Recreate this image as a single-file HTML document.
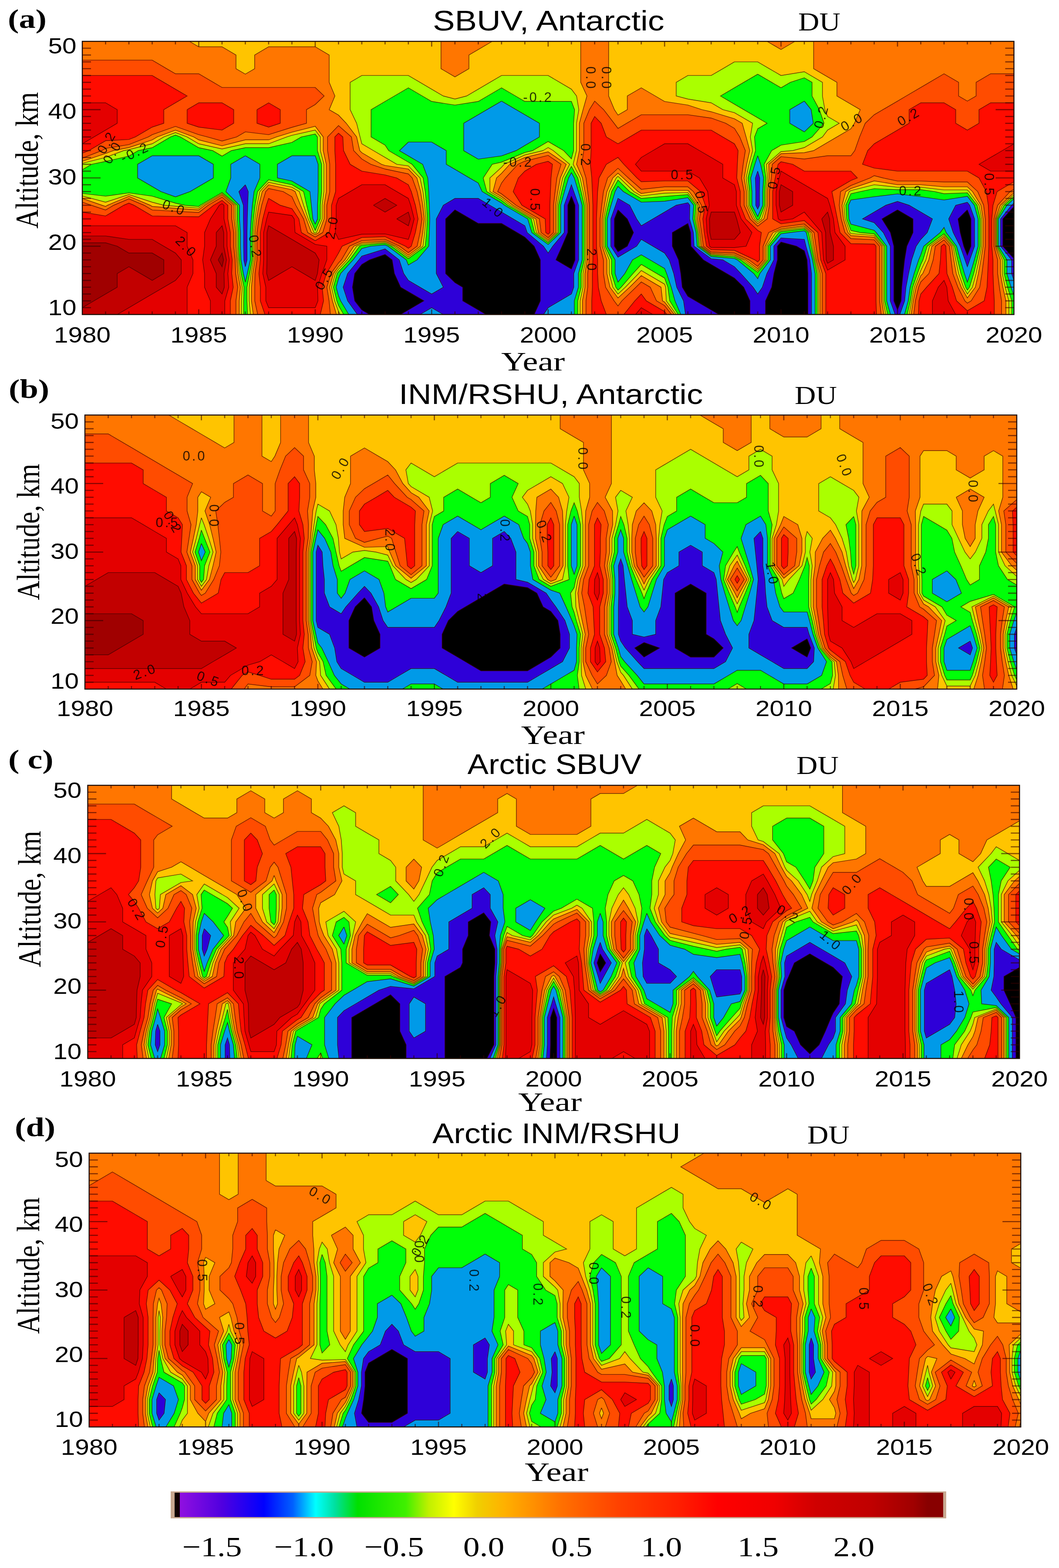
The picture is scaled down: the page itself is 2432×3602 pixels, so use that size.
<!DOCTYPE html><html><head><meta charset="utf-8"><title>Ozone anomalies</title><style>html,body{margin:0;padding:0;background:#fff}body{width:2432px;height:3602px;overflow:hidden}svg{display:block}</style></head><body><svg width="2432" height="3602" viewBox="0 0 2432 3602"><defs><linearGradient id="cbg" x1="0" x2="1" y1="0" y2="0"><stop offset="0" stop-color="#9010e0"/><stop offset="0.055" stop-color="#5000e0"/><stop offset="0.11" stop-color="#0000ff"/><stop offset="0.148" stop-color="#0060ff"/><stop offset="0.178" stop-color="#00ffff"/><stop offset="0.203" stop-color="#00e0a0"/><stop offset="0.233" stop-color="#00e000"/><stop offset="0.296" stop-color="#40f000"/><stop offset="0.326" stop-color="#c0f000"/><stop offset="0.359" stop-color="#ffff00"/><stop offset="0.389" stop-color="#f0d000"/><stop offset="0.426" stop-color="#ffb000"/><stop offset="0.463" stop-color="#ff9000"/><stop offset="0.5" stop-color="#ff7000"/><stop offset="0.577" stop-color="#ff4000"/><stop offset="0.651" stop-color="#ff2000"/><stop offset="0.705" stop-color="#ff0000"/><stop offset="0.779" stop-color="#f00000"/><stop offset="0.833" stop-color="#d00000"/><stop offset="0.906" stop-color="#c00000"/><stop offset="0.961" stop-color="#a00000"/><stop offset="0.98" stop-color="#880000"/><stop offset="1" stop-color="#880000"/></linearGradient></defs><rect x="189" y="95" width="2139.5" height="627.5" fill="#000000"/>
<path fill="#2e00d8" fill-rule="evenodd" d="M189 95L242.5 95L296 95L349.5 95L403 95L456.4 95L509.9 95L563.4 95L616.9 95L670.4 95L723.9 95L777.4 95L830.9 95L884.3 95L937.8 95L991.3 95L1044.8 95L1098.3 95L1151.8 95L1205.3 95L1258.8 95L1312.2 95L1365.7 95L1419.2 95L1472.7 95L1526.2 95L1579.7 95L1633.2 95L1686.6 95L1740.1 95L1793.6 95L1847.1 95L1900.6 95L1954.1 95L2007.6 95L2061.1 95L2114.6 95L2168 95L2221.5 95L2275 95L2328.5 95L2328.5 126.4L2328.5 157.8L2328.5 189.1L2328.5 220.5L2328.5 251.9L2328.5 283.2L2328.5 314.6L2328.5 346L2328.5 377.4L2328.5 408.8L2328.5 440.1L2328.5 471.5L2328.5 474.4L2303 502.9L2303 534.2L2303 565.6L2328.5 594.1L2328.5 597L2328.5 628.4L2328.5 659.8L2328.5 691.1L2328.5 722.5L2275 722.5L2221.5 722.5L2168 722.5L2114.6 722.5L2061.1 722.5L2007.6 722.5L1954.1 722.5L1900.6 722.5L1855.3 722.5L1855.3 691.1L1855.3 659.8L1855.3 628.4L1853.4 597L1847.1 576.1L1829.3 565.6L1793.6 556.1L1785.4 565.6L1785.4 597L1777.4 628.4L1772.2 659.8L1758 691.1L1758 722.5L1740.1 722.5L1722.3 722.5L1722.3 691.1L1708 659.8L1686.6 638.8L1668.8 628.4L1633.2 607.5L1615.3 597L1586.8 565.6L1586 534.2L1579.7 513.3L1544 534.2L1544 565.6L1558.3 597L1563.5 628.4L1566.9 659.8L1579.7 680.7L1597.5 691.1L1633.2 712L1651 722.5L1633.2 722.5L1579.7 722.5L1526.2 722.5L1472.7 722.5L1419.2 722.5L1365.7 722.5L1312.2 722.5L1258.8 722.5L1226.7 722.5L1240.9 691.1L1240.9 659.8L1240.9 628.4L1240.9 597L1226.7 565.6L1205.3 544.7L1187.4 534.2L1151.8 513.3L1098.3 513.3L1080.5 502.9L1044.8 482L1023.4 502.9L1023.4 534.2L1023.4 565.6L1023.4 597L1023.4 628.4L1044.8 649.3L1062.6 659.8L1062.6 691.1L1098.3 712L1116.1 722.5L1098.3 722.5L1044.8 722.5L991.3 722.5L937.8 722.5L920 722.5L937.8 712L973.5 691.1L937.8 670.2L920 659.8L905.7 628.4L900.5 597L884.3 584.5L848.7 597L830.9 607.5L814.6 628.4L809.5 659.8L814.6 691.1L830.9 712L848.7 722.5L830.9 722.5L777.4 722.5L723.9 722.5L670.4 722.5L616.9 722.5L563.4 722.5L509.9 722.5L456.4 722.5L403 722.5L349.5 722.5L296 722.5L242.5 722.5L189 722.5L189 691.1L189 659.8L189 628.4L189 597L189 565.6L189 534.2L189 502.9L189 471.5L189 440.1L189 408.8L189 377.4L189 346L189 314.6L189 283.2L189 251.9L189 220.5L189 189.1L189 157.8L189 126.4L189 95ZM1312.2 450.6L1304 471.5L1304 502.9L1304 534.2L1290.8 565.6L1276.6 597L1312.2 617.9L1320.5 597L1320.5 565.6L1320.5 534.2L1320.5 502.9L1320.5 471.5L1312.2 450.6ZM1419.2 482L1411 502.9L1411 534.2L1411 565.6L1419.2 578.2L1440.6 565.6L1454.9 534.2L1440.6 502.9L1419.2 482ZM2061.1 482L2025.4 502.9L2044.9 534.2L2052.8 565.6L2052.8 597L2052.8 628.4L2052.8 659.8L2052.8 691.1L2061.1 712L2069.3 691.1L2070.8 659.8L2073.8 628.4L2077.3 597L2082.5 565.6L2096.7 534.2L2096.7 502.9L2061.1 482ZM2221.5 482L2200.1 502.9L2205.3 534.2L2213.3 565.6L2221.5 586.5L2229.8 565.6L2229.8 534.2L2229.8 502.9L2221.5 482Z"/>
<path fill="#009ae8" fill-rule="evenodd" d="M189 95L242.5 95L296 95L349.5 95L403 95L456.4 95L509.9 95L563.4 95L616.9 95L670.4 95L723.9 95L777.4 95L830.9 95L884.3 95L937.8 95L991.3 95L1044.8 95L1098.3 95L1151.8 95L1205.3 95L1258.8 95L1312.2 95L1365.7 95L1419.2 95L1472.7 95L1526.2 95L1579.7 95L1633.2 95L1686.6 95L1740.1 95L1793.6 95L1847.1 95L1900.6 95L1954.1 95L2007.6 95L2061.1 95L2114.6 95L2168 95L2221.5 95L2275 95L2328.5 95L2328.5 126.4L2328.5 157.8L2328.5 189.1L2328.5 220.5L2328.5 251.9L2328.5 283.2L2328.5 314.6L2328.5 346L2328.5 377.4L2328.5 408.8L2328.5 440.1L2328.5 466.6L2323.2 471.5L2297.9 502.9L2297.9 534.2L2297.9 565.6L2323.2 597L2323.2 628.4L2328.5 644.1L2328.5 659.8L2328.5 691.1L2328.5 722.5L2275 722.5L2221.5 722.5L2168 722.5L2114.6 722.5L2066.4 722.5L2077.5 691.1L2080.5 659.8L2086.5 628.4L2093.5 597L2103.9 565.6L2114.6 549.9L2129.4 534.2L2141.3 502.9L2114.6 487.2L2087.8 471.5L2061.1 462.8L2034.3 471.5L2007.6 487.2L1980.8 502.9L2007.6 511.6L2028.6 534.2L2044.6 565.6L2044.6 597L2044.6 628.4L2044.6 659.8L2044.6 691.1L2055.7 722.5L2007.6 722.5L1954.1 722.5L1900.6 722.5L1863.6 722.5L1863.6 691.1L1863.6 659.8L1863.6 628.4L1859.7 597L1850.9 565.6L1847.1 549.9L1793.6 546.6L1777.2 565.6L1777.2 597L1761.2 628.4L1750.8 659.8L1740.1 675.4L1729.4 659.8L1701.5 628.4L1686.6 612.7L1659.9 597L1633.2 594.4L1593.9 565.6L1592.3 534.2L1583.5 502.9L1584.1 471.5L1579.7 465.7L1552.9 471.5L1526.2 487.2L1499.4 502.9L1472.7 518.6L1462 502.9L1446 471.5L1419.2 455.8L1413.9 471.5L1402.8 502.9L1402.8 534.2L1402.8 565.6L1419.2 590.7L1462 565.6L1472.7 549.9L1499.4 565.6L1526.2 581.3L1536.9 597L1547.3 628.4L1554.2 659.8L1569.8 691.1L1574.3 722.5L1526.2 722.5L1472.7 722.5L1419.2 722.5L1365.7 722.5L1312.2 722.5L1258.8 722.5L1248.1 722.5L1258.8 706.8L1285.5 691.1L1312.2 675.4L1317.6 659.8L1317.6 628.4L1328.7 597L1328.7 565.6L1328.7 534.2L1328.7 502.9L1328.7 471.5L1317.6 440.1L1312.2 424.4L1306.9 440.1L1295.8 471.5L1295.8 502.9L1295.8 534.2L1269.4 565.6L1258.8 581.3L1248.1 565.6L1210.6 534.2L1205.3 518.6L1178.5 502.9L1151.8 487.2L1125 471.5L1098.3 455.8L1044.8 455.8L1018.1 471.5L1002 502.9L1002 534.2L1002 565.6L1002 597L1002 628.4L1018.1 659.8L991.3 675.4L964.6 659.8L937.8 644.1L927.1 628.4L916.8 597L884.3 571.9L830.9 588.3L824.2 597L798.4 628.4L788.1 659.8L798.4 691.1L820.9 722.5L777.4 722.5L723.9 722.5L670.4 722.5L616.9 722.5L563.4 722.5L509.9 722.5L456.4 722.5L403 722.5L349.5 722.5L296 722.5L242.5 722.5L189 722.5L189 691.1L189 659.8L189 628.4L189 597L189 565.6L189 534.2L189 502.9L189 471.5L189 440.1L189 408.8L189 377.4L189 346L189 314.6L189 283.2L189 251.9L189 220.5L189 189.1L189 157.8L189 126.4L189 95ZM563.4 424.4L548.6 440.1L559 471.5L559 502.9L559.6 534.2L559.6 565.6L560.1 597L563.4 612.7L567.2 597L567.2 565.6L567.2 534.2L567.9 502.9L568.8 471.5L570.1 440.1L563.4 424.4ZM1740.1 393.1L1734.8 408.8L1735.7 440.1L1735.7 471.5L1740.1 480.2L1744 471.5L1744 440.1L1744.6 408.8L1740.1 393.1ZM2221.5 464.7L2194.8 471.5L2178.7 502.9L2189.1 534.2L2205.1 565.6L2216.2 597L2221.5 612.7L2226.9 597L2238 565.6L2238 534.2L2238 502.9L2226.9 471.5L2221.5 464.7ZM964.6 722.5L991.3 706.8L1018.1 722.5L991.3 722.5L964.6 722.5Z"/>
<path fill="#00ff08" fill-rule="evenodd" d="M189 95L242.5 95L296 95L349.5 95L403 95L456.4 95L509.9 95L563.4 95L616.9 95L670.4 95L723.9 95L777.4 95L830.9 95L884.3 95L937.8 95L991.3 95L1044.8 95L1098.3 95L1151.8 95L1205.3 95L1258.8 95L1312.2 95L1365.7 95L1419.2 95L1472.7 95L1526.2 95L1579.7 95L1633.2 95L1686.6 95L1740.1 95L1793.6 95L1847.1 95L1900.6 95L1954.1 95L2007.6 95L2061.1 95L2114.6 95L2168 95L2221.5 95L2275 95L2328.5 95L2328.5 126.4L2328.5 157.8L2328.5 189.1L2328.5 220.5L2328.5 251.9L2328.5 283.2L2328.5 314.6L2328.5 346L2328.5 377.4L2328.5 408.8L2328.5 440.1L2328.5 456.8L2312.5 471.5L2292.8 502.9L2292.8 534.2L2292.8 565.6L2312.5 597L2312.5 628.4L2321.8 659.8L2328.5 679.4L2328.5 691.1L2328.5 722.5L2275 722.5L2221.5 722.5L2168 722.5L2114.6 722.5L2077.1 722.5L2085.7 691.1L2090.2 659.8L2099.3 628.4L2109.7 597L2114.6 585.2L2121.2 565.6L2159.1 534.2L2168 522.5L2172.9 534.2L2196.8 565.6L2205.5 597L2214.8 628.4L2221.5 648L2228.2 628.4L2237.6 597L2246.2 565.6L2246.2 534.2L2246.2 502.9L2237.6 471.5L2221.5 451L2168 459.4L2114.6 451.9L2061.1 445.4L2007.6 451.9L1954.1 459.4L1948.7 471.5L1949.6 502.9L1954.1 514.9L2007.6 529L2012.4 534.2L2036.4 565.6L2036.4 597L2036.4 628.4L2036.4 659.8L2036.4 691.1L2045 722.5L2007.6 722.5L1954.1 722.5L1900.6 722.5L1871.8 722.5L1871.8 691.1L1871.8 659.8L1871.8 628.4L1866 597L1858.6 565.6L1851.6 534.2L1847.1 530.3L1813.7 534.2L1793.6 537.1L1768.9 565.6L1768.9 597L1745 628.4L1740.1 640.1L1731.2 628.4L1693.3 597L1686.6 593.9L1633.2 589.2L1601.1 565.6L1598.6 534.2L1591.1 502.9L1593 471.5L1579.7 454.1L1526.2 462.3L1472.7 464.4L1431.4 440.1L1419.2 428.1L1412.5 440.1L1403.2 471.5L1394.5 502.9L1394.5 534.2L1394.5 565.6L1412.5 597L1412.5 628.4L1419.2 648L1434.9 628.4L1452.6 597L1472.7 585.2L1492.8 597L1526.2 616.6L1531 628.4L1541.5 659.8L1550 691.1L1563.6 722.5L1526.2 722.5L1472.7 722.5L1419.2 722.5L1365.7 722.5L1318.9 722.5L1318.9 691.1L1328.3 659.8L1328.3 628.4L1336.9 597L1336.9 565.6L1336.9 534.2L1336.9 502.9L1336.9 471.5L1328.3 440.1L1318.9 408.8L1312.2 396.7L1305.6 408.8L1296.2 440.1L1287.6 471.5L1287.6 502.9L1287.6 534.2L1258.8 561.7L1221.3 534.2L1211.9 502.9L1205.3 499L1158.5 471.5L1151.8 466.3L1107.2 440.1L1098.3 420.5L1078.2 408.8L1044.8 389.1L1024.7 377.4L1024.7 346L991.3 326.4L937.8 326.4L917.3 346L937.8 358.1L970.7 377.4L982.4 408.8L984.6 440.1L986 471.5L986.9 502.9L986 534.2L984.6 565.6L957.9 597L937.8 608.8L933 597L891 565.6L884.3 562.5L850.9 565.6L830.9 570.9L810.8 597L782.2 628.4L777.4 640.1L772 659.8L777.4 679.4L782.2 691.1L801.1 722.5L777.4 722.5L723.9 722.5L670.4 722.5L616.9 722.5L563.4 722.5L509.9 722.5L456.4 722.5L403 722.5L349.5 722.5L296 722.5L242.5 722.5L189 722.5L189 691.1L189 659.8L189 628.4L189 597L189 565.6L189 534.2L189 502.9L189 471.5L189 440.1L189 408.8L189 377.4L189 346L189 314.6L189 283.2L189 251.9L189 220.5L189 189.1L189 157.8L189 126.4L189 95ZM349.5 357.8L316 377.4L316 408.8L349.5 428.4L369.5 440.1L403 452.2L436.4 440.1L456.4 428.4L489.9 408.8L489.9 377.4L456.4 357.8L403 357.8L349.5 357.8ZM563.4 357.8L530 377.4L530 408.8L518.8 440.1L550 471.5L550 502.9L552 534.2L552 565.6L553.4 597L559 628.4L563.4 648L567.9 628.4L574.9 597L574.9 565.6L574.9 534.2L576.8 502.9L579.5 471.5L583.5 440.1L596.8 408.8L596.8 377.4L563.4 357.8ZM670.4 357.8L637 377.4L637 408.8L670.4 415.9L711.7 440.1L715 471.5L718.5 502.9L723.9 514.9L729.2 502.9L729.2 471.5L730.6 440.1L730.6 408.8L730.6 377.4L723.9 357.8L670.4 357.8ZM1151.8 232.3L1118.3 251.9L1098.3 263.6L1064.9 283.2L1064.9 314.6L1064.9 346L1098.3 365.6L1151.8 358.1L1185.2 346L1205.3 334.2L1238.7 314.6L1238.7 283.2L1205.3 263.6L1185.2 251.9L1151.8 232.3ZM1740.1 357.8L1733.5 377.4L1724.1 408.8L1726.8 440.1L1726.8 471.5L1740.1 497.6L1751.6 471.5L1751.6 440.1L1753.5 408.8L1746.8 377.4L1740.1 357.8ZM1847.1 232.3L1813.7 251.9L1813.7 283.2L1847.1 302.9L1867.7 283.2L1862.8 251.9L1847.1 232.3Z"/>
<path fill="#aaff00" fill-rule="evenodd" d="M189 95L242.5 95L296 95L349.5 95L403 95L456.4 95L509.9 95L563.4 95L616.9 95L670.4 95L723.9 95L777.4 95L830.9 95L884.3 95L937.8 95L991.3 95L1044.8 95L1098.3 95L1151.8 95L1205.3 95L1258.8 95L1312.2 95L1365.7 95L1419.2 95L1472.7 95L1526.2 95L1579.7 95L1633.2 95L1686.6 95L1740.1 95L1793.6 95L1847.1 95L1900.6 95L1954.1 95L2007.6 95L2061.1 95L2114.6 95L2168 95L2221.5 95L2275 95L2328.5 95L2328.5 126.4L2328.5 157.8L2328.5 189.1L2328.5 220.5L2328.5 251.9L2328.5 283.2L2328.5 314.6L2328.5 346L2328.5 377.4L2328.5 408.8L2328.5 440.1L2328.5 450.9L2306 471.5L2289.8 502.9L2289.8 534.2L2289.8 565.6L2306 597L2306 628.4L2313.8 659.8L2323.5 691.1L2323.5 722.5L2275 722.5L2221.5 722.5L2168 722.5L2114.6 722.5L2083.5 722.5L2090.7 691.1L2096.1 659.8L2106.9 628.4L2114.6 607.5L2119.6 597L2129.3 565.6L2168 537.2L2191.9 565.6L2199.1 597L2206.8 628.4L2217.7 659.8L2221.5 666.5L2226.5 659.8L2236.2 628.4L2244 597L2251.1 565.6L2251.1 534.2L2251.1 502.9L2244 471.5L2221.5 442.9L2168 445L2146.6 440.1L2114.6 435.8L2061.1 435.8L2007.6 433.4L1975.5 440.1L1954.1 445L1942.3 471.5L1944.3 502.9L1954.1 529.4L1975.5 534.2L2007.6 537.2L2031.4 565.6L2031.4 597L2031.4 628.4L2031.4 659.8L2031.4 691.1L2038.6 722.5L2007.6 722.5L1954.1 722.5L1900.6 722.5L1876.7 722.5L1876.7 691.1L1876.7 659.8L1876.7 628.4L1869.8 597L1863.2 565.6L1856.9 534.2L1847.1 525.6L1793.6 532L1788.6 534.2L1764 565.6L1764 597L1740.1 625.4L1701.4 597L1686.7 590.1L1633.2 586L1605.3 565.6L1602.3 534.2L1595.7 502.9L1598.4 471.5L1579.7 447.1L1526.2 451.2L1472.7 455.8L1446 440.1L1419.2 413.6L1404.5 440.1L1396.7 471.5L1389.6 502.9L1389.6 534.2L1389.6 565.6L1404.5 597L1404.5 628.4L1414.2 659.8L1419.2 666.5L1426.5 659.8L1453.8 628.4L1472.7 607.5L1508.4 628.4L1526.2 638.8L1533.8 659.8L1538.1 691.1L1557.2 722.5L1526.2 722.5L1472.7 722.5L1419.2 722.5L1365.7 722.5L1326.9 722.5L1326.9 691.1L1334.7 659.8L1334.7 628.4L1341.9 597L1341.9 565.6L1341.9 534.2L1341.9 502.9L1341.9 471.5L1334.7 440.1L1326.9 408.8L1312.2 382.2L1297.5 408.8L1289.8 440.1L1282.6 471.5L1282.6 502.9L1282.6 534.2L1258.8 557L1227.7 534.2L1220 502.9L1205.3 494.2L1166.5 471.5L1151.8 460L1117.9 440.1L1109.7 408.8L1130.4 377.4L1151.8 372.5L1205.3 350.3L1223.1 346L1258.8 325.1L1294.4 346L1312.2 364.8L1317.3 346L1317.3 314.6L1317.3 283.2L1319.5 251.9L1312.2 233L1258.8 233L1205.3 233L1183.9 220.5L1151.8 201.7L1119.7 220.5L1098.3 233L1044.8 241.4L991.3 233L969.9 220.5L937.8 201.7L905.7 220.5L884.3 233L852.2 251.9L852.2 283.2L852.2 314.6L884.3 333.4L892.6 346L937.8 372.5L946.1 377.4L971.7 408.8L976.6 440.1L979.5 471.5L981.5 502.9L979.5 534.2L976.6 565.6L937.8 594.1L899 565.6L884.3 558.7L830.9 563.4L825.8 565.6L802.8 597L777.4 624.1L774.3 628.4L765.6 659.8L773.5 691.1L777.4 701.6L789.2 722.5L777.4 722.5L723.9 722.5L670.4 722.5L616.9 722.5L568.4 722.5L567.2 691.1L567.2 659.8L573.2 628.4L579.5 597L579.5 565.6L579.5 534.2L582.1 502.9L585.9 471.5L591.5 440.1L616.9 413L670.4 424.4L697.1 440.1L704.3 471.5L712.1 502.9L723.9 529.4L735.6 502.9L735.6 471.5L738.6 440.1L738.6 408.8L738.6 377.4L728.9 346L728.9 314.6L723.9 307.9L691.8 314.6L670.4 327.2L616.9 339.3L563.4 339.3L531.3 346L509.9 358.6L488.5 346L456.4 339.3L414.4 314.6L403 310.3L391.5 314.6L349.5 339.3L317.4 346L296 358.6L242.5 370.7L210.4 377.4L189 389.9L189 377.4L189 346L189 314.6L189 283.2L189 251.9L189 220.5L189 189.1L189 157.8L189 126.4L189 95ZM1740.1 170.3L1708 189.1L1686.6 201.7L1654.6 220.5L1686.6 239.3L1708 251.9L1740.1 270.7L1761.5 283.2L1740.1 295.8L1732.8 314.6L1735.1 346L1725.4 377.4L1717.7 408.8L1721.4 440.1L1721.4 471.5L1737.1 502.9L1740.1 505.8L1744 502.9L1756.2 471.5L1756.2 440.1L1758.9 408.7L1754.8 377.4L1772.2 346L1793.6 333.4L1847.1 325.1L1864.9 314.6L1892.4 283.2L1881.7 251.9L1864.9 220.5L1864.9 189.1L1847.1 178.7L1815 189.1L1793.6 201.7L1772.2 189.1L1740.1 170.3ZM189 471.5L189 444.4L242.5 450.6L296 443.1L349.5 450.6L403 466.7L424.3 471.5L456.4 474.4L460.3 471.5L509.9 442.4L544.7 471.5L544.7 502.9L547.4 534.2L547.4 565.6L549.4 597L553.6 628.4L560.3 659.8L559.6 691.1L559.6 722.5L509.9 722.5L456.4 722.5L403 722.5L349.5 722.5L296 722.5L242.5 722.5L189 722.5L189 691.1L189 659.8L189 628.4L189 597L189 565.6L189 534.2L189 502.9L189 471.5Z"/>
<path fill="#ffc400" fill-rule="evenodd" d="M189 95L242.5 95L296 95L349.5 95L403 95L456.4 95L509.9 95L563.4 95L616.9 95L670.4 95L723.9 95L777.4 95L830.9 95L884.3 95L937.8 95L991.3 95L1044.8 95L1098.3 95L1151.8 95L1205.3 95L1258.8 95L1312.2 95L1365.7 95L1419.2 95L1472.7 95L1526.2 95L1579.7 95L1633.2 95L1686.6 95L1740.1 95L1793.6 95L1847.1 95L1900.6 95L1954.1 95L2007.6 95L2061.1 95L2114.6 95L2168 95L2221.5 95L2275 95L2328.5 95L2328.5 126.4L2328.5 157.8L2328.5 189.1L2328.5 220.5L2328.5 251.9L2328.5 283.2L2328.5 314.6L2328.5 346L2328.5 377.4L2328.5 408.8L2328.5 440.1L2328.5 447L2301.8 471.5L2287.7 502.9L2287.7 534.2L2287.7 565.6L2301.8 597L2301.8 628.4L2308.4 659.8L2316.8 691.1L2316.8 722.5L2275 722.5L2221.5 722.5L2168 722.5L2114.6 722.5L2087.8 722.5L2094 691.1L2100 659.8L2112 628.4L2114.6 621.4L2126.3 597L2134.6 565.6L2168 541.1L2188.6 565.6L2194.8 597L2201.5 628.4L2212.6 659.8L2221.5 675.4L2233.2 659.8L2241.6 628.4L2248.3 597L2254.4 565.6L2254.4 534.2L2254.4 502.9L2248.3 471.5L2225.5 440.1L2221.5 436.4L2168 436.4L2114.6 430.1L2061.1 430.1L2007.6 424.4L1954.1 437.8L1950.1 440.1L1938 471.5L1940.7 502.9L1951.8 534.2L1954.1 536.6L2007.6 541.1L2028.1 565.6L2028.1 597L2028.1 628.4L2028.1 659.8L2028.1 691.1L2034.3 722.5L2007.6 722.5L1954.1 722.5L1900.6 722.5L1880 722.5L1880 691.1L1880 659.8L1880 628.4L1872.3 597L1866.2 565.6L1860.5 534.2L1847.1 522.5L1793.6 529L1781.9 534.2L1760.7 565.6L1760.7 597L1740.1 621.5L1706.7 597L1686.6 587.6L1633.2 583.9L1608.2 565.6L1604.8 534.2L1598.8 502.9L1602 471.5L1579.7 442.4L1526.2 443.8L1472.7 450.1L1455.7 440.1L1423.2 408.8L1419.2 405.1L1415.3 408.8L1399.2 440.1L1392.5 471.5L1386.3 502.9L1386.3 534.2L1386.3 565.6L1399.2 597L1399.2 628.4L1407.5 659.8L1419.2 675.4L1436.2 659.8L1466.4 628.4L1472.7 621.4L1484.6 628.4L1526.2 652.8L1528.7 659.8L1530.1 691.1L1552.9 722.5L1526.2 722.5L1472.7 722.5L1419.2 722.5L1365.7 722.5L1332.3 722.5L1332.3 691.1L1339 659.8L1339 628.4L1345.2 597L1345.2 565.6L1345.2 534.2L1345.2 502.9L1345.2 471.5L1339 440.1L1332.3 408.8L1316.2 377.4L1323.9 346L1323.9 314.6L1323.9 283.2L1329.3 251.9L1324.1 220.5L1312.2 204.8L1285.5 189.1L1258.8 173.4L1205.3 173.4L1151.8 173.4L1125 189.1L1098.3 204.8L1071.5 220.5L1044.8 227.5L1018.1 220.5L991.3 204.8L964.6 189.1L937.8 173.4L884.3 173.4L830.9 173.4L804.1 189.1L804.1 220.5L804.1 251.9L819 283.2L826.9 314.6L830.9 330.3L857.6 346L884.3 361.7L911.1 377.4L937.8 381.1L964.6 408.8L971.3 440.1L975.3 471.5L977.9 502.9L975.3 534.2L971.3 565.6L937.8 590.1L904.4 565.6L884.3 556.2L830.9 560.4L819.1 565.6L797.4 597L777.4 618.4L770.2 628.4L761.3 659.8L768.4 691.1L777.4 715.5L781.3 722.5L777.4 722.5L723.9 722.5L670.4 722.5L616.9 722.5L575.1 722.5L572.3 691.1L572.3 659.8L576.8 628.4L582.5 597L582.5 565.6L582.5 534.2L585.7 502.9L590.2 471.5L596.8 440.1L616.9 418.7L670.4 430.1L687.4 440.1L697.1 471.5L707.8 502.9L721 534.2L723.9 535.9L726.8 534.2L739.9 502.9L739.9 471.5L743.9 440.1L743.9 408.8L743.9 377.4L735.6 346L735.6 314.6L723.9 298.9L670.4 310.9L658.5 314.6L616.9 330.3L563.4 330.3L509.9 342.3L456.4 330.3L429.7 314.6L403 304.6L376.2 314.6L349.5 330.3L296 343.7L284.1 346L242.5 361.7L189 375.1L189 346L189 314.6L189 283.2L189 251.9L189 220.5L189 189.1L189 157.8L189 126.4L189 95ZM1686.6 142.1L1659.9 157.8L1633.2 173.4L1579.7 173.4L1552.9 189.1L1552.9 220.5L1579.7 227.5L1633.2 236.2L1659.9 251.9L1686.6 258.8L1728.3 283.2L1723.1 314.6L1728.4 346L1720.1 377.4L1713.4 408.8L1717.9 440.1L1717.9 471.5L1732.9 502.9L1740.1 509.7L1749.1 502.9L1759.2 471.5L1759.2 440.1L1762.4 408.8L1760.2 377.4L1793.6 348.3L1820.4 346L1847.1 339L1888.7 314.6L1900.6 298.9L1927.3 283.2L1900.6 267.6L1894.3 251.9L1888.7 220.5L1888.7 189.1L1847.1 164.7L1793.6 173.4L1766.9 157.8L1740.1 142.1L1686.6 142.1ZM1246.9 346L1258.8 339L1270.6 346L1308.3 377.4L1292.2 408.8L1285.5 440.1L1279.3 471.5L1279.3 502.9L1279.3 534.2L1258.8 553.9L1232 534.2L1225.3 502.9L1205.3 491.1L1171.8 471.5L1151.8 455.8L1125 440.1L1125 408.8L1151.8 384.3L1158.1 377.4L1205.3 356L1246.9 346ZM189 471.5L189 450.1L242.5 464.5L296 447L349.5 464.5L376.2 471.5L403 473.8L456.4 478.4L465.4 471.5L509.9 445.4L541.1 471.5L541.1 502.9L544.3 534.2L544.3 565.6L546.7 597L550 628.4L556.2 659.8L554.5 691.1L554.5 722.5L509.9 722.5L456.4 722.5L403 722.5L349.5 722.5L296 722.5L242.5 722.5L189 722.5L189 691.1L189 659.8L189 628.4L189 597L189 565.6L189 534.2L189 502.9L189 471.5Z"/>
<path fill="#ff7600" fill-rule="evenodd" d="M189 95L242.5 95L296 95L349.5 95L403 95L435 95L456.4 107.5L509.9 107.5L542 126.4L542 157.8L563.4 170.3L584.8 157.8L584.8 126.4L616.9 107.5L670.4 107.5L723.9 107.5L756 126.4L756 157.8L756 189.1L769.1 220.5L756 251.9L777.4 264.4L795.2 283.2L819 314.6L826.2 346L830.9 350.8L876.1 377.4L884.3 380.1L937.8 388.4L957.4 408.8L965.9 440.1L971 471.5L974.4 502.9L971 534.2L965.9 565.6L937.8 586.2L909.7 565.6L884.3 553.7L830.9 557.4L812.5 565.6L792.1 597L777.4 612.7L766 628.4L757 659.8L763.4 691.1L772.7 722.5L723.9 722.5L670.4 722.5L616.9 722.5L581.8 722.5L577.4 691.1L577.4 659.8L580.4 628.4L585.6 597L585.6 565.6L585.6 534.2L589.3 502.9L594.4 471.5L602.2 440.1L616.9 424.4L670.4 435.8L677.7 440.1L690 471.5L703.5 502.9L715.2 534.2L723.9 539.3L732.5 534.2L744.2 502.9L744.2 471.5L749.3 440.1L749.3 408.8L749.3 377.4L742.3 346L742.3 314.6L723.9 290L670.4 303.6L634.7 314.6L616.9 321.3L563.4 321.3L509.9 334.9L456.4 321.3L445 314.6L403 298.9L360.9 314.6L349.5 321.3L296 339L260.3 346L242.5 352.7L189 370.4L189 346L189 314.6L189 283.2L189 251.9L189 220.5L189 189.1L189 157.8L189 126.4L189 95ZM1012.7 95L1044.8 95L1098.3 95L1130.4 95L1098.3 113.8L1076.9 126.4L1076.9 157.8L1044.8 176.6L1012.7 157.8L1012.7 126.4L1012.7 95ZM1333.6 95L1365.7 95L1397.8 95L1397.8 126.4L1397.8 157.8L1397.8 189.1L1397.8 220.5L1411 251.9L1419.2 264.4L1440.6 251.9L1440.6 220.5L1472.7 201.7L1504.8 220.5L1526.2 233.1L1579.7 241.4L1611.8 251.9L1633.2 256.7L1686.7 272.8L1704.5 283.2L1713.4 314.6L1721.8 346L1714.7 377.4L1709.1 408.8L1714.3 440.1L1714.3 471.5L1728.8 502.9L1740.1 513.7L1754.1 502.9L1762.3 471.5L1762.3 440.1L1766 408.8L1765.5 377.4L1793.6 353L1847.1 350.8L1868.5 346L1900.6 327.2L1922 314.6L1954.1 295.8L1962.3 283.2L1975.5 251.9L1954.1 239.3L1922 220.5L1922 189.1L1900.6 176.6L1868.5 157.8L1868.5 126.4L1868.5 95L1900.6 95L1954.1 95L2007.6 95L2061.1 95L2114.6 95L2168 95L2221.5 95L2275 95L2328.5 95L2328.5 126.4L2328.5 157.8L2328.5 189.1L2328.5 220.5L2328.5 251.9L2328.5 283.2L2328.5 314.6L2328.5 346L2328.5 377.4L2328.5 408.8L2328.5 440.1L2328.5 443.1L2297.5 471.5L2285.7 502.9L2285.7 534.2L2285.7 565.6L2297.5 597L2297.5 628.4L2303.1 659.8L2310.1 691.1L2310.1 722.5L2275 722.5L2221.5 722.5L2168 722.5L2114.6 722.5L2092.1 722.5L2097.3 691.1L2103.9 659.8L2114.6 633.2L2119.2 628.4L2132.9 597L2140 565.6L2168 545L2185.3 565.6L2190.5 597L2196.1 628.4L2207.5 659.8L2221.5 684.4L2239.9 659.8L2246.9 628.4L2252.5 597L2257.7 565.6L2257.7 534.2L2257.7 502.9L2252.5 471.5L2233.4 440.1L2221.5 429.1L2168 429.1L2114.6 424.4L2061.1 424.4L2007.6 415.5L1954.1 433.2L1942.2 440.1L1933.8 471.5L1937.1 502.9L1947.3 534.2L1954.1 541.2L2007.6 545L2024.9 565.6L2024.9 597L2024.9 628.4L2024.9 659.8L2024.9 691.1L2030 722.5L2007.6 722.5L1954.1 722.5L1900.6 722.5L1883.3 722.5L1883.3 691.1L1883.3 659.8L1883.3 628.4L1874.8 597L1869.3 565.6L1864.1 534.2L1847.1 519.3L1793.6 526L1775.2 534.2L1757.4 565.6L1757.4 597L1740.1 617.6L1712.1 597L1686.6 585.1L1633.2 581.8L1611.1 565.6L1607.4 534.2L1601.8 502.9L1605.5 471.5L1582.9 440.1L1579.7 437.4L1526.2 437.4L1504.8 440.1L1472.7 444.4L1465.4 440.1L1431.1 408.8L1419.2 397.7L1407.3 408.8L1393.8 440.1L1388.2 471.5L1383 502.9L1383 534.2L1383 565.6L1393.8 597L1393.8 628.4L1400.8 659.8L1419.2 684.4L1446 659.8L1472.7 633.2L1518 659.8L1521.5 691.1L1526.2 693.9L1548.7 722.5L1526.2 722.5L1472.7 722.5L1419.2 722.5L1365.7 722.5L1337.6 722.5L1337.6 691.1L1343.3 659.8L1343.3 628.4L1348.4 597L1348.4 565.6L1348.4 534.2L1348.4 502.9L1348.4 471.5L1343.3 440.1L1337.6 408.8L1324.1 377.4L1330.6 346L1330.6 314.6L1330.6 283.2L1339 251.9L1347.9 220.5L1333.6 189.1L1333.6 157.8L1333.6 126.4L1333.6 95ZM1761.5 95L1793.6 95L1825.7 95L1793.6 113.8L1761.5 95ZM1170.7 377.4L1205.3 361.7L1258.8 348.7L1300.4 377.4L1286.8 408.8L1281.2 440.1L1276 471.5L1276 502.9L1276 534.2L1258.8 550.7L1236.3 534.2L1230.7 502.9L1205.3 488L1177.2 471.5L1151.8 451.6L1132.2 440.1L1140.3 408.8L1151.8 398.3L1170.7 377.4ZM189 471.5L189 455.8L234.3 471.5L242.5 474.2L247.1 471.5L296 450.9L344.8 471.5L349.5 474.2L403 478.5L456.4 482.3L470.4 471.5L509.9 448.3L537.6 471.5L537.6 502.9L541.3 534.2L541.3 565.6L544 597L546.5 628.4L552.1 659.8L549.4 691.1L549.4 722.5L509.9 722.5L456.4 722.5L403 722.5L349.5 722.5L296 722.5L242.5 722.5L189 722.5L189 691.1L189 659.8L189 628.4L189 597L189 565.6L189 534.2L189 502.9L189 471.5Z"/>
<path fill="#ff4c00" fill-rule="evenodd" d="M189 157.8L189 138.1L242.5 138.1L296 138.1L349.5 138.1L382.9 157.8L403 169.5L456.4 169.5L489.9 189.1L509.9 200.9L563.4 200.9L616.9 200.9L670.4 200.9L723.9 200.9L744.4 220.5L723.9 240.1L703.8 251.9L703.8 283.2L670.4 292.5L616.9 309.4L563.4 302.9L543.4 314.6L509.9 323.9L476.5 314.6L456.4 309.4L403 290.4L349.5 309.4L340.5 314.6L296 332.1L242.5 340.8L233.6 346L189 363.4L189 346L189 314.6L189 283.2L189 251.9L189 220.5L189 189.1L189 157.8ZM2134.6 189.1L2168 169.5L2201.5 189.1L2201.5 220.5L2221.5 232.3L2241.6 220.5L2241.6 189.1L2275 169.5L2328.5 169.5L2328.5 189.1L2328.5 220.5L2328.5 251.9L2328.5 283.2L2328.5 314.6L2328.5 346L2328.5 377.4L2328.5 408.8L2328.5 434.9L2319.6 440.1L2291.1 471.5L2282.7 502.9L2282.7 534.2L2282.7 565.6L2291.1 597L2291.1 628.4L2295.1 659.8L2300.1 691.1L2300.1 722.5L2275 722.5L2221.5 722.5L2168 722.5L2114.6 722.5L2098.5 722.5L2102.2 691.1L2109.7 659.8L2114.6 647.7L2133.2 628.4L2143 597L2148 565.6L2168 550.9L2180.4 565.6L2184.1 597L2188.1 628.4L2199.9 659.8L2215.8 691.1L2221.5 696.4L2230.4 691.1L2249.9 659.8L2255 628.4L2259 597L2262.7 565.6L2262.7 534.2L2262.7 502.9L2259 471.5L2245.3 440.1L2221.5 418L2168 418L2114.6 415.9L2061.1 415.9L2027.6 408.8L2007.6 403.5L1998.7 408.7L1954.1 426.2L1930.3 440.1L1927.3 471.5L1931.8 502.9L1940.4 534.2L1954.1 548.2L2007.6 550.9L2019.9 565.6L2019.9 597L2019.9 628.4L2019.9 659.8L2019.9 691.1L2023.6 722.5L2007.6 722.5L1954.1 722.5L1900.6 722.5L1888.3 722.5L1888.3 691.1L1888.3 659.8L1888.3 628.4L1878.6 597L1873.9 565.6L1869.4 534.2L1847.1 514.6L1793.6 521.6L1765.2 534.2L1752.5 565.6L1752.5 597L1740.1 611.7L1720.1 597L1686.6 581.3L1633.2 578.7L1615.3 565.6L1611.1 534.2L1606.4 502.9L1610.9 471.5L1592.6 440.1L1579.7 429.2L1526.2 429.2L1472.7 434.9L1443 408.8L1419.2 386.6L1395.4 408.8L1385.8 440.1L1381.8 471.5L1378.1 502.9L1378.1 534.2L1378.1 565.6L1385.8 597L1385.8 628.4L1390.8 659.8L1410.3 691.1L1419.2 702.9L1428.1 691.1L1460.5 659.8L1472.7 647.7L1493.3 659.8L1507.6 691.1L1526.2 702L1542.2 722.5L1526.2 722.5L1472.7 722.5L1419.2 722.5L1365.7 722.5L1345.7 722.5L1345.7 691.1L1349.7 659.8L1349.7 628.4L1353.4 597L1353.4 565.6L1353.4 534.2L1353.4 502.9L1353.4 471.5L1349.7 440.1L1345.7 408.8L1336 377.4L1340.7 346L1340.7 314.6L1340.7 283.2L1353.6 251.9L1365.7 232.3L1386.3 251.9L1410.3 283.2L1419.2 295L1439.3 283.2L1472.7 263.6L1526.2 263.6L1579.7 263.6L1633.2 271.2L1666.6 283.2L1686.7 295L1698.8 314.6L1711.7 346L1706.7 377.4L1702.7 408.8L1708.9 440.1L1708.9 471.5L1722.7 502.9L1740.1 519.5L1761.8 502.9L1766.9 471.5L1766.9 440.1L1771.3 408.8L1773.6 377.4L1793.6 359.9L1847.1 365.3L1900.6 357.8L1954.1 357.8L1963 346L1974.1 314.6L1987 283.2L2007.6 263.6L2027.6 251.9L2061.1 232.3L2081.1 220.5L2114.6 200.9L2134.6 189.1ZM752.3 314.6L777.4 288.5L807.1 314.6L812.2 346L830.9 365.3L851.4 377.4L884.3 388.3L937.8 399.5L946.7 408.8L957.9 440.1L964.6 471.5L969 502.9L964.6 534.2L957.9 565.6L937.8 580.3L917.8 565.6L884.3 549.9L830.9 552.9L802.4 565.6L784 597L777.4 604.1L759.9 628.4L750.6 659.8L755.7 691.1L758.8 722.5L723.9 722.5L670.4 722.5L616.9 722.5L591.8 722.5L585.1 691.1L585.1 659.8L585.7 628.4L590.2 597L590.2 565.6L590.2 534.2L594.6 502.9L600.9 471.5L610.2 440.1L616.9 433L650.3 440.1L670.4 451.9L679.3 471.5L697.1 502.9L706.5 534.2L723.9 544.4L741.2 534.2L750.6 502.9L750.6 471.5L757.3 440.1L757.3 408.8L757.3 377.4L752.3 346L752.3 314.6ZM1189.5 377.4L1205.3 370.2L1258.8 356.9L1288.5 377.4L1278.8 408.8L1274.8 440.1L1271.1 471.5L1271.1 502.9L1271.1 534.2L1258.8 546L1242.7 534.2L1238.7 502.9L1205.3 483.3L1185.2 471.5L1151.8 445.4L1142.9 440.1L1151.8 420.5L1160.7 408.7L1189.5 377.4ZM189 471.5L189 464.4L209.6 471.5L242.5 482.4L261.1 471.5L296 456.8L330.9 471.5L349.5 482.4L403 485.4L456.4 488.2L478.1 471.5L509.9 452.8L532.2 471.5L532.2 502.9L536.7 534.2L536.7 565.6L540 597L541.1 628.4L545.9 659.8L541.8 691.1L541.8 722.5L509.9 722.5L456.4 722.5L403 722.5L349.5 722.5L296 722.5L242.5 722.5L189 722.5L189 691.1L189 659.8L189 628.4L189 597L189 565.6L189 534.2L189 502.9L189 471.5Z"/>
<path fill="#ff0c00" fill-rule="evenodd" d="M189 189.1L189 173.4L242.5 173.4L296 173.4L349.5 173.4L376.2 189.1L403 204.8L429.7 220.5L403 236.2L376.2 251.9L376.2 283.2L349.5 292L310.8 314.6L296 320.4L242.5 323.3L203.9 346L189 351.8L189 346L189 314.6L189 283.2L189 251.9L189 220.5L189 189.1ZM429.7 251.9L456.4 236.2L509.9 236.2L536.7 251.9L536.7 283.2L509.9 298.9L456.4 292L429.7 283.2L429.7 251.9ZM590.2 251.9L616.9 236.2L643.6 251.9L643.6 283.2L616.9 292L590.2 283.2L590.2 251.9ZM2087.8 251.9L2114.6 236.2L2168 236.2L2194.8 251.9L2194.8 283.2L2221.5 298.9L2248.3 283.2L2248.3 251.9L2275 236.2L2328.5 236.2L2328.5 251.9L2328.5 283.2L2328.5 314.6L2328.5 346L2328.5 377.4L2328.5 408.8L2328.5 417.5L2289.9 440.1L2280.4 471.5L2277.6 502.9L2277.6 534.2L2277.6 565.6L2280.4 597L2280.4 628.4L2281.7 659.8L2283.4 691.1L2283.4 722.5L2275 722.5L2221.5 722.5L2168 722.5L2114.6 722.5L2109.2 722.5L2110.4 691.1L2114.6 675.4L2127.9 659.8L2156.4 628.4L2159.7 597L2161.4 565.6L2168 560.7L2172.2 565.6L2173.4 597L2174.7 628.4L2187.1 659.8L2196.7 691.1L2221.5 713.8L2260.2 691.1L2266.7 659.8L2268.3 628.4L2269.7 597L2270.9 565.6L2270.9 534.2L2270.9 502.9L2269.7 471.5L2265.1 440.1L2248.3 408.8L2221.5 393.1L2168 393.1L2114.6 393.1L2061.1 393.1L2007.6 386.1L1980.8 377.4L1992.7 346L2007.6 330.3L2034.3 314.6L2061.1 298.9L2087.8 283.2L2087.8 251.9ZM1357.4 283.2L1365.7 267.6L1380.6 283.2L1392.5 314.6L1419.2 330.3L1446 314.6L1472.7 298.9L1526.2 298.9L1579.7 298.9L1633.2 298.9L1659.9 314.6L1686.6 330.3L1695 346L1693.3 377.4L1692 408.8L1700 440.1L1700 471.5L1712.4 502.9L1740.1 529.3L1748.5 534.2L1744.3 565.6L1744.3 597L1740.1 601.9L1733.5 597L1686.6 575L1633.2 573.5L1622.5 565.6L1617.4 534.2L1614.1 502.9L1619.8 471.5L1608.8 440.1L1579.7 415.6L1526.2 415.6L1472.7 417.5L1462.8 408.8L1432.6 377.4L1419.2 361.7L1392.5 377.4L1375.6 408.8L1372.4 440.1L1371.1 471.5L1369.8 502.9L1369.8 534.2L1369.8 565.6L1372.4 597L1372.4 628.4L1374.1 659.8L1380.6 691.1L1392.5 722.5L1365.7 722.5L1359 722.5L1359 691.1L1360.4 659.8L1360.4 628.4L1361.6 597L1361.6 565.6L1361.6 534.2L1361.6 502.9L1361.6 471.5L1360.4 440.1L1359 408.8L1355.8 377.4L1357.4 346L1357.4 314.6L1357.4 283.2ZM769 314.6L777.4 305.9L787.3 314.6L789 346L804.1 377.4L830.9 393.1L884.3 401.9L911.1 408.8L937.8 424.4L944.5 440.1L953.9 471.5L960.1 502.9L953.9 534.2L944.5 565.6L937.8 570.5L931.1 565.6L884.3 543.7L830.9 545.5L785.7 565.6L777.4 581.3L768.4 597L749.6 628.4L739.9 659.8L743 691.1L735.5 722.5L723.9 722.5L670.4 722.5L616.9 722.5L608.5 722.5L597.8 691.1L597.8 659.8L594.6 628.4L597.8 597L597.8 565.6L597.8 534.2L603.5 502.9L611.6 471.5L616.9 455.8L643.6 471.5L670.4 479.3L686.4 502.9L692.1 534.2L723.9 552.9L755.7 534.2L761.3 502.9L761.3 471.5L770.7 440.1L770.7 408.8L770.7 377.4L769 346L769 314.6ZM1232 377.4L1258.8 370.6L1268.7 377.4L1265.4 408.8L1264.1 440.1L1262.9 471.5L1262.9 502.9L1262.9 534.2L1258.8 538.2L1253.4 534.2L1252.1 502.9L1205.3 475.4L1198.6 471.5L1178.5 440.1L1190.4 408.8L1205.3 393.1L1232 377.4ZM1786.9 377.4L1793.6 371.6L1820.4 377.4L1847.1 393.1L1900.6 393.1L1954.1 393.1L1968.9 408.8L1954.1 414.6L1910.5 440.1L1916.6 471.5L1922.9 502.9L1929.1 534.2L1954.1 559.8L2007.6 560.7L2011.7 565.6L2011.7 597L2011.7 628.4L2011.7 659.8L2011.7 691.1L2012.9 722.5L2007.6 722.5L1954.1 722.5L1900.6 722.5L1896.5 722.5L1896.5 691.1L1896.5 659.8L1896.5 628.4L1884.9 597L1881.5 565.6L1878.3 534.2L1847.1 506.8L1793.6 514.1L1774.5 502.9L1774.5 471.5L1774.5 440.1L1780.3 408.8L1786.9 377.4ZM284.3 471.5L296 466.6L307.6 471.5L349.5 496.1L403 497.1L456.4 498L490.8 471.5L509.9 460.3L523.3 471.5L523.3 502.9L529 534.2L529 565.6L533.3 597L532.2 628.4L535.6 659.8L529 691.1L529 722.5L509.9 722.5L456.4 722.5L403 722.5L349.5 722.5L296 722.5L242.5 722.5L189 722.5L189 691.1L189 659.8L189 628.4L189 597L189 565.6L189 534.2L189 502.9L189 487.2L242.5 496.1L284.3 471.5ZM1457.8 691.1L1472.7 675.4L1484.3 691.1L1526.2 715.7L1531.5 722.5L1526.2 722.5L1472.7 722.5L1432.6 722.5L1457.8 691.1Z"/>
<path fill="#e40000" fill-rule="evenodd" d="M189 251.9L189 236.2L242.5 236.2L269.2 251.9L269.2 283.2L242.5 298.9L215.7 314.6L189 330.3L189 314.6L189 283.2L189 251.9ZM1499.4 346L1526.2 330.3L1579.7 330.3L1606.4 346L1633.2 361.7L1659.9 377.4L1659.9 408.8L1686.6 424.4L1691.1 440.1L1691.1 471.5L1702.1 502.9L1726.8 534.2L1713.4 565.6L1686.6 568.8L1633.2 568.2L1629.6 565.6L1623.7 534.2L1621.7 502.9L1628.7 471.5L1625.1 440.1L1606.4 408.8L1579.7 393.1L1526.2 393.1L1472.7 393.1L1459.3 377.4L1472.7 361.7L1499.4 346ZM2301.8 346L2328.5 330.3L2328.5 346L2328.5 377.4L2328.5 393.1L2275 393.1L2248.3 377.4L2275 361.7L2301.8 346ZM1789.2 408.8L1793.6 393.1L1820.4 408.8L1847.1 424.4L1873.9 440.1L1900.6 455.8L1905.9 471.5L1914 502.9L1917.7 534.2L1940.7 565.6L1940.7 597L1900.6 620.5L1891.2 597L1889.1 565.6L1887.2 534.2L1860.5 502.9L1847.1 487.2L1820.4 502.9L1793.6 506.6L1787.3 502.9L1782.2 471.5L1782.2 440.1L1789.2 408.8ZM804.1 440.1L830.9 424.4L884.3 424.4L911.1 440.1L937.8 455.8L943.2 471.5L951.2 502.9L943.2 534.2L937.8 549.9L884.3 537.4L830.9 538L777.4 549.9L770.1 534.2L772 502.9L772 471.5L777.4 455.8L804.1 440.1ZM503.6 471.5L509.9 467.8L514.4 471.5L514.4 502.9L521.4 534.2L521.4 565.6L526.6 597L523.3 628.4L525.4 659.8L516.3 691.1L516.3 722.5L509.9 722.5L483.2 722.5L483.2 691.1L469.8 659.8L469.8 628.4L465.4 597L469.8 565.6L469.8 534.2L483.2 502.9L503.6 471.5ZM612.4 502.9L616.9 487.2L670.4 495L675.7 502.9L677.6 534.2L723.9 561.4L750.6 565.6L750.6 597L739.3 628.4L729.2 659.8L730.2 691.1L723.9 706.8L670.4 706.8L616.9 706.8L610.5 691.1L610.5 659.8L603.5 628.4L605.4 597L605.4 565.6L605.4 534.2L612.4 502.9ZM189 534.2L189 518.6L242.5 518.6L296 518.6L349.5 518.6L403 518.6L429.7 534.2L429.7 565.6L443.1 597L443.1 628.4L429.7 659.8L429.7 691.1L429.7 722.5L403 722.5L349.5 722.5L296 722.5L242.5 722.5L189 722.5L189 691.1L189 659.8L189 628.4L189 597L189 565.6L189 534.2ZM2154.7 659.8L2168 644.1L2174.4 659.8L2177.6 691.1L2194.8 722.5L2168 722.5L2141.3 722.5L2141.3 691.1L2154.7 659.8ZM1459.3 722.5L1472.7 706.8L1499.4 722.5L1472.7 722.5L1459.3 722.5Z"/>
<path fill="#c20000" fill-rule="evenodd" d="M1789.8 440.1L1793.6 424.4L1820.4 440.1L1820.4 471.5L1793.6 487.2L1789.8 471.5L1789.8 440.1ZM857.6 471.5L884.3 455.8L911.1 471.5L884.3 487.2L857.6 471.5ZM911.1 502.9L937.8 487.2L942.3 502.9L937.8 518.6L911.1 502.9ZM1629.3 502.9L1633.2 487.2L1686.6 487.2L1691.8 502.9L1700 534.2L1686.6 549.9L1633.2 549.9L1630 534.2L1629.3 502.9ZM1887.2 502.9L1900.6 487.2L1905.1 502.9L1906.3 534.2L1914 565.6L1914 597L1900.6 604.8L1897.5 597L1896.8 565.6L1896.1 534.2L1887.2 502.9ZM496.6 534.2L509.9 518.6L513.7 534.2L513.7 565.6L520 597L514.4 628.4L515.1 659.8L509.9 675.4L496.6 659.8L496.6 628.4L483.2 597L496.6 565.6L496.6 534.2ZM613.1 534.2L616.9 518.6L643.6 534.2L670.4 549.9L697.1 565.6L723.9 581.3L732.8 597L729 628.4L723.9 644.1L697.1 628.4L670.4 612.7L643.6 628.4L616.9 644.1L612.4 628.4L613.1 597L613.1 565.6L613.1 534.2ZM189 565.6L189 542.1L242.5 542.1L296 549.9L349.5 549.9L376.2 565.6L403 581.3L416.3 597L416.3 628.4L403 644.1L376.2 659.8L349.5 675.4L322.7 691.1L296 706.8L269.2 722.5L242.5 722.5L189 722.5L189 691.1L189 659.8L189 628.4L189 597L189 565.6Z"/>
<path fill="#a00000" fill-rule="evenodd" d="M189 565.6L189 557.8L242.5 557.8L269.2 565.6L296 581.3L349.5 581.3L376.2 597L376.2 628.4L349.5 644.1L322.7 628.4L296 612.7L269.2 628.4L269.2 659.8L242.5 675.4L215.7 691.1L189 706.8L189 691.1L189 659.8L189 628.4L189 597L189 565.6ZM501 597L509.9 581.3L513.3 597L509.9 612.7L501 597Z"/>
<path fill="none" stroke="#3a0000" stroke-opacity="0.75" stroke-width="1.4" d="M1312.2 450.6L1304 471.5L1304 502.9L1304 534.2L1290.8 565.6L1276.6 597L1312.2 617.9L1320.5 597L1320.5 565.6L1320.5 534.2L1320.5 502.9L1320.5 471.5L1312.2 450.6M1419.2 482L1411 502.9L1411 534.2L1411 565.6L1419.2 578.2L1440.6 565.6L1454.9 534.2L1440.6 502.9L1419.2 482M2061.1 482L2025.4 502.9L2044.9 534.2L2052.8 565.6L2052.8 597L2052.8 628.4L2052.8 659.8L2052.8 691.1L2061.1 712L2069.3 691.1L2070.8 659.8L2073.8 628.4L2077.3 597L2082.5 565.6L2096.7 534.2L2096.7 502.9L2061.1 482M2221.5 482L2200.1 502.9L2205.3 534.2L2213.3 565.6L2221.5 586.5L2229.8 565.6L2229.8 534.2L2229.8 502.9L2221.5 482M2328.5 474.4L2303 502.9L2303 534.2L2303 565.6L2328.5 594.1M920 722.5L937.8 712L973.5 691.1L937.8 670.2L920 659.8L905.7 628.4L900.5 597L884.3 584.5L848.7 597L830.9 607.5L814.6 628.4L809.5 659.8L814.6 691.1L830.9 712L848.7 722.5M1226.7 722.5L1240.9 691.1L1240.9 659.8L1240.9 628.4L1240.9 597L1226.7 565.6L1205.3 544.7L1187.4 534.2L1151.8 513.3L1098.3 513.3L1080.5 502.9L1044.8 482L1023.4 502.9L1023.4 534.2L1023.4 565.6L1023.4 597L1023.4 628.4L1044.8 649.3L1062.6 659.8L1062.6 691.1L1098.3 712L1116.1 722.5M1722.3 722.5L1722.3 691.1L1708 659.8L1686.6 638.8L1668.8 628.4L1633.2 607.5L1615.3 597L1586.8 565.6L1586 534.2L1579.7 513.3L1544 534.2L1544 565.6L1558.3 597L1563.5 628.4L1566.9 659.8L1579.7 680.7L1597.5 691.1L1633.2 712L1651 722.5M1855.3 722.5L1855.3 691.1L1855.3 659.8L1855.3 628.4L1853.4 597L1847.1 576.1L1829.3 565.6L1793.6 556.1L1785.4 565.6L1785.4 597L1777.4 628.4L1772.2 659.8L1758 691.1L1758 722.5M1740.1 393.1L1734.8 408.8L1735.7 440.1L1735.7 471.5L1740.1 480.2L1744 471.5L1744 440.1L1744.6 408.8L1740.1 393.1M563.4 424.4L548.6 440.1L559 471.5L559 502.9L559.6 534.2L559.6 565.6L560.1 597L563.4 612.7L567.2 597L567.2 565.6L567.2 534.2L567.9 502.9L568.8 471.5L570.1 440.1L563.4 424.4M2221.5 464.7L2194.8 471.5L2178.7 502.9L2189.1 534.2L2205.1 565.6L2216.2 597L2221.5 612.7L2226.9 597L2238 565.6L2238 534.2L2238 502.9L2226.9 471.5L2221.5 464.7M2328.5 466.6L2323.2 471.5L2297.9 502.9L2297.9 534.2L2297.9 565.6L2323.2 597L2323.2 628.4L2328.5 644.1M964.6 722.5L991.3 706.8L1018.1 722.5M1248.1 722.5L1258.8 706.8L1285.5 691.1L1312.2 675.4L1317.6 659.8L1317.6 628.4L1328.7 597L1328.7 565.6L1328.7 534.2L1328.7 502.9L1328.7 471.5L1317.6 440.1L1312.2 424.4L1306.9 440.1L1295.8 471.5L1295.8 502.9L1295.8 534.2L1269.4 565.6L1258.8 581.3L1248.1 565.6L1210.6 534.2L1205.3 518.6L1178.5 502.9L1151.8 487.2L1125 471.5L1098.3 455.8L1044.8 455.8L1018.1 471.5L1002 502.9L1002 534.2L1002 565.6L1002 597L1002 628.4L1018.1 659.8L991.3 675.4L964.6 659.8L937.8 644.1L927.1 628.4L916.8 597L884.3 571.9L830.9 588.3L824.2 597L798.4 628.4L788.1 659.8L798.4 691.1L820.9 722.5M1863.6 722.5L1863.6 691.1L1863.6 659.8L1863.6 628.4L1859.7 597L1850.9 565.6L1847.1 549.9L1793.6 546.6L1777.2 565.6L1777.2 597L1761.2 628.4L1750.8 659.8L1740.1 675.4L1729.4 659.8L1701.5 628.4L1686.6 612.7L1659.9 597L1633.2 594.4L1593.9 565.6L1592.3 534.2L1583.5 502.9L1584.1 471.5L1579.7 465.7L1552.9 471.5L1526.2 487.2L1499.4 502.9L1472.7 518.6L1462 502.9L1446 471.5L1419.2 455.8L1413.9 471.5L1402.8 502.9L1402.8 534.2L1402.8 565.6L1419.2 590.7L1462 565.6L1472.7 549.9L1499.4 565.6L1526.2 581.3L1536.9 597L1547.3 628.4L1554.2 659.8L1569.8 691.1L1574.3 722.5M2066.4 722.5L2077.5 691.1L2080.5 659.8L2086.5 628.4L2093.5 597L2103.9 565.6L2114.6 549.9L2129.4 534.2L2141.3 502.9L2114.6 487.2L2087.8 471.5L2061.1 462.8L2034.3 471.5L2007.6 487.2L1980.8 502.9L2007.6 511.6L2028.6 534.2L2044.6 565.6L2044.6 597L2044.6 628.4L2044.6 659.8L2044.6 691.1L2055.7 722.5M1151.8 232.3L1118.3 251.9L1098.3 263.6L1064.9 283.2L1064.9 314.6L1064.9 346L1098.3 365.6L1151.8 358.1L1185.2 346L1205.3 334.2L1238.7 314.6L1238.7 283.2L1205.3 263.6L1185.2 251.9L1151.8 232.3M1847.1 232.3L1813.7 251.9L1813.7 283.2L1847.1 302.9L1867.7 283.2L1862.8 251.9L1847.1 232.3M349.5 357.8L316 377.4L316 408.8L349.5 428.4L369.5 440.1L403 452.2L436.4 440.1L456.4 428.4L489.9 408.8L489.9 377.4L456.4 357.8L403 357.8L349.5 357.8M563.4 357.8L530 377.4L530 408.8L518.8 440.1L550 471.5L550 502.9L552 534.2L552 565.6L553.4 597L559 628.4L563.4 648L567.9 628.4L574.9 597L574.9 565.6L574.9 534.2L576.8 502.9L579.5 471.5L583.5 440.1L596.8 408.8L596.8 377.4L563.4 357.8M670.4 357.8L637 377.4L637 408.8L670.4 415.9L711.7 440.1L715 471.5L718.5 502.9L723.9 514.9L729.2 502.9L729.2 471.5L730.6 440.1L730.6 408.8L730.6 377.4L723.9 357.8L670.4 357.8M1740.1 357.8L1733.5 377.4L1724.1 408.8L1726.8 440.1L1726.8 471.5L1740.1 497.6L1751.6 471.5L1751.6 440.1L1753.5 408.8L1746.8 377.4L1740.1 357.8M2328.5 456.8L2312.5 471.5L2292.8 502.9L2292.8 534.2L2292.8 565.6L2312.5 597L2312.5 628.4L2321.8 659.8L2328.5 679.4M1318.9 722.5L1318.9 691.1L1328.3 659.8L1328.3 628.4L1336.9 597L1336.9 565.6L1336.9 534.2L1336.9 502.9L1336.9 471.5L1328.3 440.1L1318.9 408.8L1312.2 396.7L1305.6 408.8L1296.2 440.1L1287.6 471.5L1287.6 502.9L1287.6 534.2L1258.8 561.7L1221.3 534.2L1211.9 502.9L1205.3 499L1158.5 471.5L1151.8 466.3L1107.2 440.1L1098.3 420.5L1078.2 408.8L1044.8 389.1L1024.7 377.4L1024.7 346L991.3 326.4L937.8 326.4L917.3 346L937.8 358.1L970.7 377.4L982.4 408.8L984.6 440.1L986 471.5L986.9 502.9L986 534.2L984.6 565.6L957.9 597L937.8 608.8L933 597L891 565.6L884.3 562.5L850.9 565.6L830.9 570.9L810.8 597L782.2 628.4L777.4 640.1L772 659.8L777.4 679.4L782.2 691.1L801.1 722.5M1871.8 722.5L1871.8 691.1L1871.8 659.8L1871.8 628.4L1866 597L1858.6 565.6L1851.6 534.2L1847.1 530.3L1813.7 534.2L1793.6 537.1L1768.9 565.6L1768.9 597L1745 628.4L1740.1 640.1L1731.2 628.4L1693.3 597L1686.6 593.9L1633.2 589.2L1601.1 565.6L1598.6 534.2L1591.1 502.9L1593 471.5L1579.7 454.1L1526.2 462.3L1472.7 464.4L1431.4 440.1L1419.2 428.1L1412.5 440.1L1403.2 471.5L1394.5 502.9L1394.5 534.2L1394.5 565.6L1412.5 597L1412.5 628.4L1419.2 648L1434.9 628.4L1452.6 597L1472.7 585.2L1492.8 597L1526.2 616.6L1531 628.4L1541.5 659.8L1550 691.1L1563.6 722.5M2077.1 722.5L2085.7 691.1L2090.2 659.8L2099.3 628.4L2109.7 597L2114.6 585.2L2121.2 565.6L2159.1 534.2L2168 522.5L2172.9 534.2L2196.8 565.6L2205.5 597L2214.8 628.4L2221.5 648L2228.2 628.4L2237.6 597L2246.2 565.6L2246.2 534.2L2246.2 502.9L2237.6 471.5L2221.5 451L2168 459.4L2114.6 451.9L2061.1 445.4L2007.6 451.9L1954.1 459.4L1948.7 471.5L1949.6 502.9L1954.1 514.9L2007.6 529L2012.4 534.2L2036.4 565.6L2036.4 597L2036.4 628.4L2036.4 659.8L2036.4 691.1L2045 722.5M1740.1 170.3L1708 189.1L1686.6 201.7L1654.6 220.5L1686.6 239.3L1708 251.9L1740.1 270.7L1761.5 283.2L1740.1 295.8L1732.8 314.6L1735.1 346L1725.4 377.4L1717.7 408.8L1721.4 440.1L1721.4 471.5L1737.1 502.9L1740.1 505.8L1744 502.9L1756.2 471.5L1756.2 440.1L1758.9 408.7L1754.8 377.4L1772.2 346L1793.6 333.4L1847.1 325.1L1864.9 314.6L1892.4 283.2L1881.7 251.9L1864.9 220.5L1864.9 189.1L1847.1 178.7L1815 189.1L1793.6 201.7L1772.2 189.1L1740.1 170.3M189 444.4L242.5 450.6L296 443.1L349.5 450.6L403 466.7L424.3 471.5L456.4 474.4L460.3 471.5L509.9 442.4L544.7 471.5L544.7 502.9L547.4 534.2L547.4 565.6L549.4 597L553.6 628.4L560.3 659.8L559.6 691.1L559.6 722.5M2328.5 450.9L2306 471.5L2289.8 502.9L2289.8 534.2L2289.8 565.6L2306 597L2306 628.4L2313.8 659.8L2323.5 691.1L2323.5 722.5M568.4 722.5L567.2 691.1L567.2 659.8L573.2 628.4L579.5 597L579.5 565.6L579.5 534.2L582.1 502.9L585.9 471.5L591.5 440.1L616.9 413L670.4 424.4L697.1 440.1L704.3 471.5L712.1 502.9L723.9 529.4L735.6 502.9L735.6 471.5L738.6 440.1L738.6 408.8L738.6 377.4L728.9 346L728.9 314.6L723.9 307.9L691.8 314.6L670.4 327.2L616.9 339.3L563.4 339.3L531.3 346L509.9 358.6L488.5 346L456.4 339.3L414.4 314.6L403 310.3L391.5 314.6L349.5 339.3L317.4 346L296 358.6L242.5 370.7L210.4 377.4L189 389.9M1326.9 722.5L1326.9 691.1L1334.7 659.8L1334.7 628.4L1341.9 597L1341.9 565.6L1341.9 534.2L1341.9 502.9L1341.9 471.5L1334.7 440.1L1326.9 408.8L1312.2 382.2L1297.5 408.8L1289.8 440.1L1282.6 471.5L1282.6 502.9L1282.6 534.2L1258.8 557L1227.7 534.2L1220 502.9L1205.3 494.2L1166.5 471.5L1151.8 460L1117.9 440.1L1109.7 408.8L1130.4 377.4L1151.8 372.5L1205.3 350.3L1223.1 346L1258.8 325.1L1294.4 346L1312.2 364.8L1317.3 346L1317.3 314.6L1317.3 283.2L1319.5 251.9L1312.2 233L1258.8 233L1205.3 233L1183.9 220.5L1151.8 201.7L1119.7 220.5L1098.3 233L1044.8 241.4L991.3 233L969.9 220.5L937.8 201.7L905.7 220.5L884.3 233L852.2 251.9L852.2 283.2L852.2 314.6L884.3 333.4L892.6 346L937.8 372.5L946.1 377.4L971.7 408.8L976.6 440.1L979.5 471.5L981.5 502.9L979.5 534.2L976.6 565.6L937.8 594.1L899 565.6L884.3 558.7L830.9 563.4L825.8 565.6L802.8 597L777.4 624.1L774.3 628.4L765.6 659.8L773.5 691.1L777.4 701.6L789.2 722.5M1876.7 722.5L1876.7 691.1L1876.7 659.8L1876.7 628.4L1869.8 597L1863.2 565.6L1856.9 534.2L1847.1 525.6L1793.6 532L1788.6 534.2L1764 565.6L1764 597L1740.1 625.4L1701.4 597L1686.7 590.1L1633.2 586L1605.3 565.6L1602.3 534.2L1595.7 502.9L1598.4 471.5L1579.7 447.1L1526.2 451.2L1472.7 455.8L1446 440.1L1419.2 413.6L1404.5 440.1L1396.7 471.5L1389.6 502.9L1389.6 534.2L1389.6 565.6L1404.5 597L1404.5 628.4L1414.2 659.8L1419.2 666.5L1426.5 659.8L1453.8 628.4L1472.7 607.5L1508.4 628.4L1526.2 638.8L1533.8 659.8L1538.1 691.1L1557.2 722.5M2083.5 722.5L2090.7 691.1L2096.1 659.8L2106.9 628.4L2114.6 607.5L2119.6 597L2129.3 565.6L2168 537.2L2191.9 565.6L2199.1 597L2206.8 628.4L2217.7 659.8L2221.5 666.5L2226.5 659.8L2236.2 628.4L2244 597L2251.1 565.6L2251.1 534.2L2251.1 502.9L2244 471.5L2221.5 442.9L2168 445L2146.6 440.1L2114.6 435.8L2061.1 435.8L2007.6 433.4L1975.5 440.1L1954.1 445L1942.3 471.5L1944.3 502.9L1954.1 529.4L1975.5 534.2L2007.6 537.2L2031.4 565.6L2031.4 597L2031.4 628.4L2031.4 659.8L2031.4 691.1L2038.6 722.5M1686.6 142.1L1659.9 157.8L1633.2 173.4L1579.7 173.4L1552.9 189.1L1552.9 220.5L1579.7 227.5L1633.2 236.2L1659.9 251.9L1686.6 258.8L1728.3 283.2L1723.1 314.6L1728.4 346L1720.1 377.4L1713.4 408.8L1717.9 440.1L1717.9 471.5L1732.9 502.9L1740.1 509.7L1749.1 502.9L1759.2 471.5L1759.2 440.1L1762.4 408.8L1760.2 377.4L1793.6 348.3L1820.4 346L1847.1 339L1888.7 314.6L1900.6 298.9L1927.3 283.2L1900.6 267.6L1894.3 251.9L1888.7 220.5L1888.7 189.1L1847.1 164.7L1793.6 173.4L1766.9 157.8L1740.1 142.1L1686.6 142.1M1246.9 346L1258.8 339L1270.6 346L1308.3 377.4L1292.2 408.8L1285.5 440.1L1279.3 471.5L1279.3 502.9L1279.3 534.2L1258.8 553.9L1232 534.2L1225.3 502.9L1205.3 491.1L1171.8 471.5L1151.8 455.8L1125 440.1L1125 408.8L1151.8 384.3L1158.1 377.4L1205.3 356L1246.9 346M189 450.1L242.5 464.5L296 447L349.5 464.5L376.2 471.5L403 473.8L456.4 478.4L465.4 471.5L509.9 445.4L541.1 471.5L541.1 502.9L544.3 534.2L544.3 565.6L546.7 597L550 628.4L556.2 659.8L554.5 691.1L554.5 722.5M2328.5 447L2301.8 471.5L2287.7 502.9L2287.7 534.2L2287.7 565.6L2301.8 597L2301.8 628.4L2308.4 659.8L2316.8 691.1L2316.8 722.5M575.1 722.5L572.3 691.1L572.3 659.8L576.8 628.4L582.5 597L582.5 565.6L582.5 534.2L585.7 502.9L590.2 471.5L596.8 440.1L616.9 418.7L670.4 430.1L687.4 440.1L697.1 471.5L707.8 502.9L721 534.2L723.9 535.9L726.8 534.2L739.9 502.9L739.9 471.5L743.9 440.1L743.9 408.8L743.9 377.4L735.6 346L735.6 314.6L723.9 298.9L670.4 310.9L658.5 314.6L616.9 330.3L563.4 330.3L509.9 342.3L456.4 330.3L429.7 314.6L403 304.6L376.2 314.6L349.5 330.3L296 343.7L284.1 346L242.5 361.7L189 375.1M1332.3 722.5L1332.3 691.1L1339 659.8L1339 628.4L1345.2 597L1345.2 565.6L1345.2 534.2L1345.2 502.9L1345.2 471.5L1339 440.1L1332.3 408.8L1316.2 377.4L1323.9 346L1323.9 314.6L1323.9 283.2L1329.3 251.9L1324.1 220.5L1312.2 204.8L1285.5 189.1L1258.8 173.4L1205.3 173.4L1151.8 173.4L1125 189.1L1098.3 204.8L1071.5 220.5L1044.8 227.5L1018.1 220.5L991.3 204.8L964.6 189.1L937.8 173.4L884.3 173.4L830.9 173.4L804.1 189.1L804.1 220.5L804.1 251.9L819 283.2L826.9 314.6L830.9 330.3L857.6 346L884.3 361.7L911.1 377.4L937.8 381.1L964.6 408.8L971.3 440.1L975.3 471.5L977.9 502.9L975.3 534.2L971.3 565.6L937.8 590.1L904.4 565.6L884.3 556.2L830.9 560.4L819.1 565.6L797.4 597L777.4 618.4L770.2 628.4L761.3 659.8L768.4 691.1L777.4 715.5L781.3 722.5M1880 722.5L1880 691.1L1880 659.8L1880 628.4L1872.3 597L1866.2 565.6L1860.5 534.2L1847.1 522.5L1793.6 529L1781.9 534.2L1760.7 565.6L1760.7 597L1740.1 621.5L1706.7 597L1686.6 587.6L1633.2 583.9L1608.2 565.6L1604.8 534.2L1598.8 502.9L1602 471.5L1579.7 442.4L1526.2 443.8L1472.7 450.1L1455.7 440.1L1423.2 408.8L1419.2 405.1L1415.3 408.8L1399.2 440.1L1392.5 471.5L1386.3 502.9L1386.3 534.2L1386.3 565.6L1399.2 597L1399.2 628.4L1407.5 659.8L1419.2 675.4L1436.2 659.8L1466.4 628.4L1472.7 621.4L1484.6 628.4L1526.2 652.8L1528.7 659.8L1530.1 691.1L1552.9 722.5M2087.8 722.5L2094 691.1L2100 659.8L2112 628.4L2114.6 621.4L2126.3 597L2134.6 565.6L2168 541.1L2188.6 565.6L2194.8 597L2201.5 628.4L2212.6 659.8L2221.5 675.4L2233.2 659.8L2241.6 628.4L2248.3 597L2254.4 565.6L2254.4 534.2L2254.4 502.9L2248.3 471.5L2225.5 440.1L2221.5 436.4L2168 436.4L2114.6 430.1L2061.1 430.1L2007.6 424.4L1954.1 437.8L1950.1 440.1L1938 471.5L1940.7 502.9L1951.8 534.2L1954.1 536.6L2007.6 541.1L2028.1 565.6L2028.1 597L2028.1 628.4L2028.1 659.8L2028.1 691.1L2034.3 722.5M435 95L456.4 107.5L509.9 107.5L542 126.4L542 157.8L563.4 170.3L584.8 157.8L584.8 126.4L616.9 107.5L670.4 107.5L723.9 107.5L756 126.4L756 157.8L756 189.1L769.1 220.5L756 251.9L777.4 264.4L795.2 283.2L819 314.6L826.2 346L830.9 350.8L876.1 377.4L884.3 380.1L937.8 388.4L957.4 408.8L965.9 440.1L971 471.5L974.4 502.9L971 534.2L965.9 565.6L937.8 586.2L909.7 565.6L884.3 553.7L830.9 557.4L812.5 565.6L792.1 597L777.4 612.7L766 628.4L757 659.8L763.4 691.1L772.7 722.5M1130.4 95L1098.3 113.8L1076.9 126.4L1076.9 157.8L1044.8 176.6L1012.7 157.8L1012.7 126.4L1012.7 95M1397.8 95L1397.8 126.4L1397.8 157.8L1397.8 189.1L1397.8 220.5L1411 251.9L1419.2 264.4L1440.6 251.9L1440.6 220.5L1472.7 201.7L1504.8 220.5L1526.2 233.1L1579.7 241.4L1611.8 251.9L1633.2 256.7L1686.7 272.8L1704.5 283.2L1713.4 314.6L1721.8 346L1714.7 377.4L1709.1 408.8L1714.3 440.1L1714.3 471.5L1728.8 502.9L1740.1 513.7L1754.1 502.9L1762.3 471.5L1762.3 440.1L1766 408.8L1765.5 377.4L1793.6 353L1847.1 350.8L1868.5 346L1900.6 327.2L1922 314.6L1954.1 295.8L1962.3 283.2L1975.5 251.9L1954.1 239.3L1922 220.5L1922 189.1L1900.6 176.6L1868.5 157.8L1868.5 126.4L1868.5 95M1825.7 95L1793.6 113.8L1761.5 95M1170.7 377.4L1205.3 361.7L1258.8 348.7L1300.4 377.4L1286.8 408.8L1281.2 440.1L1276 471.5L1276 502.9L1276 534.2L1258.8 550.7L1236.3 534.2L1230.7 502.9L1205.3 488L1177.2 471.5L1151.8 451.6L1132.2 440.1L1140.3 408.8L1151.8 398.3L1170.7 377.4M189 455.8L234.3 471.5L242.5 474.2L247.1 471.5L296 450.9L344.8 471.5L349.5 474.2L403 478.5L456.4 482.3L470.4 471.5L509.9 448.3L537.6 471.5L537.6 502.9L541.3 534.2L541.3 565.6L544 597L546.5 628.4L552.1 659.8L549.4 691.1L549.4 722.5M2328.5 443.1L2297.5 471.5L2285.7 502.9L2285.7 534.2L2285.7 565.6L2297.5 597L2297.5 628.4L2303.1 659.8L2310.1 691.1L2310.1 722.5M581.8 722.5L577.4 691.1L577.4 659.8L580.4 628.4L585.6 597L585.6 565.6L585.6 534.2L589.3 502.9L594.4 471.5L602.2 440.1L616.9 424.4L670.4 435.8L677.7 440.1L690 471.5L703.5 502.9L715.2 534.2L723.9 539.3L732.5 534.2L744.2 502.9L744.2 471.5L749.3 440.1L749.3 408.8L749.3 377.4L742.3 346L742.3 314.6L723.9 290L670.4 303.6L634.7 314.6L616.9 321.3L563.4 321.3L509.9 334.9L456.4 321.3L445 314.6L403 298.9L360.9 314.6L349.5 321.3L296 339L260.3 346L242.5 352.7L189 370.4M1337.6 722.5L1337.6 691.1L1343.3 659.8L1343.3 628.4L1348.4 597L1348.4 565.6L1348.4 534.2L1348.4 502.9L1348.4 471.5L1343.3 440.1L1337.6 408.8L1324.1 377.4L1330.6 346L1330.6 314.6L1330.6 283.2L1339 251.9L1347.9 220.5L1333.6 189.1L1333.6 157.8L1333.6 126.4L1333.6 95M1883.3 722.5L1883.3 691.1L1883.3 659.8L1883.3 628.4L1874.8 597L1869.3 565.6L1864.1 534.2L1847.1 519.3L1793.6 526L1775.2 534.2L1757.4 565.6L1757.4 597L1740.1 617.6L1712.1 597L1686.6 585.1L1633.2 581.8L1611.1 565.6L1607.4 534.2L1601.8 502.9L1605.5 471.5L1582.9 440.1L1579.7 437.4L1526.2 437.4L1504.8 440.1L1472.7 444.4L1465.4 440.1L1431.1 408.8L1419.2 397.7L1407.3 408.8L1393.8 440.1L1388.2 471.5L1383 502.9L1383 534.2L1383 565.6L1393.8 597L1393.8 628.4L1400.8 659.8L1419.2 684.4L1446 659.8L1472.7 633.2L1518 659.8L1521.5 691.1L1526.2 693.9L1548.7 722.5M2092.1 722.5L2097.3 691.1L2103.9 659.8L2114.6 633.2L2119.2 628.4L2132.9 597L2140 565.6L2168 545L2185.3 565.6L2190.5 597L2196.1 628.4L2207.5 659.8L2221.5 684.4L2239.9 659.8L2246.9 628.4L2252.5 597L2257.7 565.6L2257.7 534.2L2257.7 502.9L2252.5 471.5L2233.4 440.1L2221.5 429.1L2168 429.1L2114.6 424.4L2061.1 424.4L2007.6 415.5L1954.1 433.2L1942.2 440.1L1933.8 471.5L1937.1 502.9L1947.3 534.2L1954.1 541.2L2007.6 545L2024.9 565.6L2024.9 597L2024.9 628.4L2024.9 659.8L2024.9 691.1L2030 722.5M189 138.1L242.5 138.1L296 138.1L349.5 138.1L382.9 157.8L403 169.5L456.4 169.5L489.9 189.1L509.9 200.9L563.4 200.9L616.9 200.9L670.4 200.9L723.9 200.9L744.4 220.5L723.9 240.1L703.8 251.9L703.8 283.2L670.4 292.5L616.9 309.4L563.4 302.9L543.4 314.6L509.9 323.9L476.5 314.6L456.4 309.4L403 290.4L349.5 309.4L340.5 314.6L296 332.1L242.5 340.8L233.6 346L189 363.4M1189.5 377.4L1205.3 370.2L1258.8 356.9L1288.5 377.4L1278.8 408.8L1274.8 440.1L1271.1 471.5L1271.1 502.9L1271.1 534.2L1258.8 546L1242.7 534.2L1238.7 502.9L1205.3 483.3L1185.2 471.5L1151.8 445.4L1142.9 440.1L1151.8 420.5L1160.7 408.7L1189.5 377.4M2328.5 434.9L2319.6 440.1L2291.1 471.5L2282.7 502.9L2282.7 534.2L2282.7 565.6L2291.1 597L2291.1 628.4L2295.1 659.8L2300.1 691.1L2300.1 722.5M189 464.4L209.6 471.5L242.5 482.4L261.1 471.5L296 456.8L330.9 471.5L349.5 482.4L403 485.4L456.4 488.2L478.1 471.5L509.9 452.8L532.2 471.5L532.2 502.9L536.7 534.2L536.7 565.6L540 597L541.1 628.4L545.9 659.8L541.8 691.1L541.8 722.5M591.8 722.5L585.1 691.1L585.1 659.8L585.7 628.4L590.2 597L590.2 565.6L590.2 534.2L594.6 502.9L600.9 471.5L610.2 440.1L616.9 433L650.3 440.1L670.4 451.9L679.3 471.5L697.1 502.9L706.5 534.2L723.9 544.4L741.2 534.2L750.6 502.9L750.6 471.5L757.3 440.1L757.3 408.8L757.3 377.4L752.3 346L752.3 314.6L777.4 288.5L807.1 314.6L812.2 346L830.9 365.3L851.4 377.4L884.3 388.3L937.8 399.5L946.7 408.8L957.9 440.1L964.6 471.5L969 502.9L964.6 534.2L957.9 565.6L937.8 580.3L917.8 565.6L884.3 549.9L830.9 552.9L802.4 565.6L784 597L777.4 604.1L759.9 628.4L750.6 659.8L755.7 691.1L758.8 722.5M1345.7 722.5L1345.7 691.1L1349.7 659.8L1349.7 628.4L1353.4 597L1353.4 565.6L1353.4 534.2L1353.4 502.9L1353.4 471.5L1349.7 440.1L1345.7 408.8L1336 377.4L1340.7 346L1340.7 314.6L1340.7 283.2L1353.6 251.9L1365.7 232.3L1386.3 251.9L1410.3 283.2L1419.2 295L1439.3 283.2L1472.7 263.6L1526.2 263.6L1579.7 263.6L1633.2 271.2L1666.6 283.2L1686.7 295L1698.8 314.6L1711.7 346L1706.7 377.4L1702.7 408.8L1708.9 440.1L1708.9 471.5L1722.7 502.9L1740.1 519.5L1761.8 502.9L1766.9 471.5L1766.9 440.1L1771.3 408.8L1773.6 377.4L1793.6 359.9L1847.1 365.3L1900.6 357.8L1954.1 357.8L1963 346L1974.1 314.6L1987 283.2L2007.6 263.6L2027.6 251.9L2061.1 232.3L2081.1 220.5L2114.6 200.9L2134.6 189.1L2168 169.5L2201.5 189.1L2201.5 220.5L2221.5 232.3L2241.6 220.5L2241.6 189.1L2275 169.5L2328.5 169.5M1888.3 722.5L1888.3 691.1L1888.3 659.8L1888.3 628.4L1878.6 597L1873.9 565.6L1869.4 534.2L1847.1 514.6L1793.6 521.6L1765.2 534.2L1752.5 565.6L1752.5 597L1740.1 611.7L1720.1 597L1686.6 581.3L1633.2 578.7L1615.3 565.6L1611.1 534.2L1606.4 502.9L1610.9 471.5L1592.6 440.1L1579.7 429.2L1526.2 429.2L1472.7 434.9L1443 408.8L1419.2 386.6L1395.4 408.8L1385.8 440.1L1381.8 471.5L1378.1 502.9L1378.1 534.2L1378.1 565.6L1385.8 597L1385.8 628.4L1390.8 659.8L1410.3 691.1L1419.2 702.9L1428.1 691.1L1460.5 659.8L1472.7 647.7L1493.3 659.8L1507.6 691.1L1526.2 702L1542.2 722.5M2098.5 722.5L2102.2 691.1L2109.7 659.8L2114.6 647.7L2133.2 628.4L2143 597L2148 565.6L2168 550.9L2180.4 565.6L2184.1 597L2188.1 628.4L2199.9 659.8L2215.8 691.1L2221.5 696.4L2230.4 691.1L2249.9 659.8L2255 628.4L2259 597L2262.7 565.6L2262.7 534.2L2262.7 502.9L2259 471.5L2245.3 440.1L2221.5 418L2168 418L2114.6 415.9L2061.1 415.9L2027.6 408.8L2007.6 403.5L1998.7 408.7L1954.1 426.2L1930.3 440.1L1927.3 471.5L1931.8 502.9L1940.4 534.2L1954.1 548.2L2007.6 550.9L2019.9 565.6L2019.9 597L2019.9 628.4L2019.9 659.8L2019.9 691.1L2023.6 722.5M189 173.4L242.5 173.4L296 173.4L349.5 173.4L376.2 189.1L403 204.8L429.7 220.5L403 236.2L376.2 251.9L376.2 283.2L349.5 292L310.8 314.6L296 320.4L242.5 323.3L203.9 346L189 351.8M429.7 251.9L456.4 236.2L509.9 236.2L536.7 251.9L536.7 283.2L509.9 298.9L456.4 292L429.7 283.2L429.7 251.9M590.2 251.9L616.9 236.2L643.6 251.9L643.6 283.2L616.9 292L590.2 283.2L590.2 251.9M1232 377.4L1258.8 370.6L1268.7 377.4L1265.4 408.8L1264.1 440.1L1262.9 471.5L1262.9 502.9L1262.9 534.2L1258.8 538.2L1253.4 534.2L1252.1 502.9L1205.3 475.4L1198.6 471.5L1178.5 440.1L1190.4 408.8L1205.3 393.1L1232 377.4M2328.5 417.5L2289.9 440.1L2280.4 471.5L2277.6 502.9L2277.6 534.2L2277.6 565.6L2280.4 597L2280.4 628.4L2281.7 659.8L2283.4 691.1L2283.4 722.5M189 487.2L242.5 496.1L284.3 471.5L296 466.6L307.6 471.5L349.5 496.1L403 497.1L456.4 498L490.8 471.5L509.9 460.3L523.3 471.5L523.3 502.9L529 534.2L529 565.6L533.3 597L532.2 628.4L535.6 659.8L529 691.1L529 722.5M608.5 722.5L597.8 691.1L597.8 659.8L594.6 628.4L597.8 597L597.8 565.6L597.8 534.2L603.5 502.9L611.6 471.5L616.9 455.8L643.6 471.5L670.4 479.3L686.4 502.9L692.1 534.2L723.9 552.9L755.7 534.2L761.3 502.9L761.3 471.5L770.7 440.1L770.7 408.8L770.7 377.4L769 346L769 314.6L777.4 305.9L787.3 314.6L789 346L804.1 377.4L830.9 393.1L884.3 401.9L911.1 408.8L937.8 424.4L944.5 440.1L953.9 471.5L960.1 502.9L953.9 534.2L944.5 565.6L937.8 570.5L931.1 565.6L884.3 543.7L830.9 545.5L785.7 565.6L777.4 581.3L768.4 597L749.6 628.4L739.9 659.8L743 691.1L735.5 722.5M1359 722.5L1359 691.1L1360.4 659.8L1360.4 628.4L1361.6 597L1361.6 565.6L1361.6 534.2L1361.6 502.9L1361.6 471.5L1360.4 440.1L1359 408.8L1355.8 377.4L1357.4 346L1357.4 314.6L1357.4 283.2L1365.7 267.6L1380.6 283.2L1392.5 314.6L1419.2 330.3L1446 314.6L1472.7 298.9L1526.2 298.9L1579.7 298.9L1633.2 298.9L1659.9 314.6L1686.6 330.3L1695 346L1693.3 377.4L1692 408.8L1700 440.1L1700 471.5L1712.4 502.9L1740.1 529.3L1748.5 534.2L1744.3 565.6L1744.3 597L1740.1 601.9L1733.5 597L1686.6 575L1633.2 573.5L1622.5 565.6L1617.4 534.2L1614.1 502.9L1619.8 471.5L1608.8 440.1L1579.7 415.6L1526.2 415.6L1472.7 417.5L1462.8 408.8L1432.6 377.4L1419.2 361.7L1392.5 377.4L1375.6 408.8L1372.4 440.1L1371.1 471.5L1369.8 502.9L1369.8 534.2L1369.8 565.6L1372.4 597L1372.4 628.4L1374.1 659.8L1380.6 691.1L1392.5 722.5M1432.6 722.5L1457.8 691.1L1472.7 675.4L1484.3 691.1L1526.2 715.7L1531.5 722.5M1896.5 722.5L1896.5 691.1L1896.5 659.8L1896.5 628.4L1884.9 597L1881.5 565.6L1878.3 534.2L1847.1 506.8L1793.6 514.1L1774.5 502.9L1774.5 471.5L1774.5 440.1L1780.3 408.8L1786.9 377.4L1793.6 371.6L1820.4 377.4L1847.1 393.1L1900.6 393.1L1954.1 393.1L1968.9 408.8L1954.1 414.6L1910.5 440.1L1916.6 471.5L1922.9 502.9L1929.1 534.2L1954.1 559.8L2007.6 560.7L2011.7 565.6L2011.7 597L2011.7 628.4L2011.7 659.8L2011.7 691.1L2012.9 722.5M2109.2 722.5L2110.4 691.1L2114.6 675.4L2127.9 659.8L2156.4 628.4L2159.7 597L2161.4 565.6L2168 560.7L2172.2 565.6L2173.4 597L2174.7 628.4L2187.1 659.8L2196.7 691.1L2221.5 713.8L2260.2 691.1L2266.7 659.8L2268.3 628.4L2269.7 597L2270.9 565.6L2270.9 534.2L2270.9 502.9L2269.7 471.5L2265.1 440.1L2248.3 408.8L2221.5 393.1L2168 393.1L2114.6 393.1L2061.1 393.1L2007.6 386.1L1980.8 377.4L1992.7 346L2007.6 330.3L2034.3 314.6L2061.1 298.9L2087.8 283.2L2087.8 251.9L2114.6 236.2L2168 236.2L2194.8 251.9L2194.8 283.2L2221.5 298.9L2248.3 283.2L2248.3 251.9L2275 236.2L2328.5 236.2M189 236.2L242.5 236.2L269.2 251.9L269.2 283.2L242.5 298.9L215.7 314.6L189 330.3M1499.4 346L1526.2 330.3L1579.7 330.3L1606.4 346L1633.2 361.7L1659.9 377.4L1659.9 408.8L1686.6 424.4L1691.1 440.1L1691.1 471.5L1702.1 502.9L1726.8 534.2L1713.4 565.6L1686.6 568.8L1633.2 568.2L1629.6 565.6L1623.7 534.2L1621.7 502.9L1628.7 471.5L1625.1 440.1L1606.4 408.8L1579.7 393.1L1526.2 393.1L1472.7 393.1L1459.3 377.4L1472.7 361.7L1499.4 346M1789.2 408.8L1793.6 393.1L1820.4 408.8L1847.1 424.4L1873.9 440.1L1900.6 455.8L1905.9 471.5L1914 502.9L1917.7 534.2L1940.7 565.6L1940.7 597L1900.6 620.5L1891.2 597L1889.1 565.6L1887.2 534.2L1860.5 502.9L1847.1 487.2L1820.4 502.9L1793.6 506.6L1787.3 502.9L1782.2 471.5L1782.2 440.1L1789.2 408.8M2328.5 393.1L2275 393.1L2248.3 377.4L2275 361.7L2301.8 346L2328.5 330.3M804.1 440.1L830.9 424.4L884.3 424.4L911.1 440.1L937.8 455.8L943.2 471.5L951.2 502.9L943.2 534.2L937.8 549.9L884.3 537.4L830.9 538L777.4 549.9L770.1 534.2L772 502.9L772 471.5L777.4 455.8L804.1 440.1M612.4 502.9L616.9 487.2L670.4 495L675.7 502.9L677.6 534.2L723.9 561.4L750.6 565.6L750.6 597L739.3 628.4L729.2 659.8L730.2 691.1L723.9 706.8L670.4 706.8L616.9 706.8L610.5 691.1L610.5 659.8L603.5 628.4L605.4 597L605.4 565.6L605.4 534.2L612.4 502.9M189 518.6L242.5 518.6L296 518.6L349.5 518.6L403 518.6L429.7 534.2L429.7 565.6L443.1 597L443.1 628.4L429.7 659.8L429.7 691.1L429.7 722.5M483.2 722.5L483.2 691.1L469.8 659.8L469.8 628.4L465.4 597L469.8 565.6L469.8 534.2L483.2 502.9L503.6 471.5L509.9 467.8L514.4 471.5L514.4 502.9L521.4 534.2L521.4 565.6L526.6 597L523.3 628.4L525.4 659.8L516.3 691.1L516.3 722.5M1459.3 722.5L1472.7 706.8L1499.4 722.5M2141.3 722.5L2141.3 691.1L2154.7 659.8L2168 644.1L2174.4 659.8L2177.6 691.1L2194.8 722.5M1789.8 440.1L1793.6 424.4L1820.4 440.1L1820.4 471.5L1793.6 487.2L1789.8 471.5L1789.8 440.1M857.6 471.5L884.3 455.8L911.1 471.5L884.3 487.2L857.6 471.5M911.1 502.9L937.8 487.2L942.3 502.9L937.8 518.6L911.1 502.9M1629.3 502.9L1633.2 487.2L1686.6 487.2L1691.8 502.9L1700 534.2L1686.6 549.9L1633.2 549.9L1630 534.2L1629.3 502.9M1887.2 502.9L1900.6 487.2L1905.1 502.9L1906.3 534.2L1914 565.6L1914 597L1900.6 604.8L1897.5 597L1896.8 565.6L1896.1 534.2L1887.2 502.9M496.6 534.2L509.9 518.6L513.7 534.2L513.7 565.6L520 597L514.4 628.4L515.1 659.8L509.9 675.4L496.6 659.8L496.6 628.4L483.2 597L496.6 565.6L496.6 534.2M613.1 534.2L616.9 518.6L643.6 534.2L670.4 549.9L697.1 565.6L723.9 581.3L732.8 597L729 628.4L723.9 644.1L697.1 628.4L670.4 612.7L643.6 628.4L616.9 644.1L612.4 628.4L613.1 597L613.1 565.6L613.1 534.2M189 542.1L242.5 542.1L296 549.9L349.5 549.9L376.2 565.6L403 581.3L416.3 597L416.3 628.4L403 644.1L376.2 659.8L349.5 675.4L322.7 691.1L296 706.8L269.2 722.5M189 557.8L242.5 557.8L269.2 565.6L296 581.3L349.5 581.3L376.2 597L376.2 628.4L349.5 644.1L322.7 628.4L296 612.7L269.2 628.4L269.2 659.8L242.5 675.4L215.7 691.1L189 706.8M501 597L509.9 581.3L513.3 597L509.9 612.7L501 597"/>
<path fill="none" stroke="#300" stroke-opacity="0.6" stroke-width="2.6" d="M242.5 95v7M242.5 722.5v-7M296 95v7M296 722.5v-7M349.5 95v7M349.5 722.5v-7M402.9 95v7M402.9 722.5v-7M456.4 95v12M456.4 722.5v-12M509.9 95v7M509.9 722.5v-7M563.4 95v7M563.4 722.5v-7M616.9 95v7M616.9 722.5v-7M670.4 95v7M670.4 722.5v-7M723.9 95v12M723.9 722.5v-12M777.4 95v7M777.4 722.5v-7M830.9 95v7M830.9 722.5v-7M884.3 95v7M884.3 722.5v-7M937.8 95v7M937.8 722.5v-7M991.3 95v12M991.3 722.5v-12M1044.8 95v7M1044.8 722.5v-7M1098.3 95v7M1098.3 722.5v-7M1151.8 95v7M1151.8 722.5v-7M1205.3 95v7M1205.3 722.5v-7M1258.8 95v12M1258.8 722.5v-12M1312.2 95v7M1312.2 722.5v-7M1365.7 95v7M1365.7 722.5v-7M1419.2 95v7M1419.2 722.5v-7M1472.7 95v7M1472.7 722.5v-7M1526.2 95v12M1526.2 722.5v-12M1579.7 95v7M1579.7 722.5v-7M1633.2 95v7M1633.2 722.5v-7M1686.7 95v7M1686.7 722.5v-7M1740.1 95v7M1740.1 722.5v-7M1793.6 95v12M1793.6 722.5v-12M1847.1 95v7M1847.1 722.5v-7M1900.6 95v7M1900.6 722.5v-7M1954.1 95v7M1954.1 722.5v-7M2007.6 95v7M2007.6 722.5v-7M2061.1 95v12M2061.1 722.5v-12M2114.6 95v7M2114.6 722.5v-7M2168 95v7M2168 722.5v-7M2221.5 95v7M2221.5 722.5v-7M2275 95v7M2275 722.5v-7M189 110.7h20M2328.5 110.7h-20M189 126.4h20M2328.5 126.4h-20M189 142.1h20M2328.5 142.1h-20M189 157.8h20M2328.5 157.8h-20M189 173.4h20M2328.5 173.4h-20M189 189.1h20M2328.5 189.1h-20M189 204.8h20M2328.5 204.8h-20M189 220.5h20M2328.5 220.5h-20M189 236.2h20M2328.5 236.2h-20M189 251.9h42M2328.5 251.9h-42M189 267.6h20M2328.5 267.6h-20M189 283.2h20M2328.5 283.2h-20M189 298.9h20M2328.5 298.9h-20M189 314.6h20M2328.5 314.6h-20M189 330.3h20M2328.5 330.3h-20M189 346h20M2328.5 346h-20M189 361.7h20M2328.5 361.7h-20M189 377.4h20M2328.5 377.4h-20M189 393.1h20M2328.5 393.1h-20M189 408.8h42M2328.5 408.8h-42M189 424.4h20M2328.5 424.4h-20M189 440.1h20M2328.5 440.1h-20M189 455.8h20M2328.5 455.8h-20M189 471.5h20M2328.5 471.5h-20M189 487.2h20M2328.5 487.2h-20M189 502.9h20M2328.5 502.9h-20M189 518.6h20M2328.5 518.6h-20M189 534.2h20M2328.5 534.2h-20M189 549.9h20M2328.5 549.9h-20M189 565.6h42M2328.5 565.6h-42M189 581.3h20M2328.5 581.3h-20M189 597h20M2328.5 597h-20M189 612.7h20M2328.5 612.7h-20M189 628.4h20M2328.5 628.4h-20M189 644.1h20M2328.5 644.1h-20M189 659.8h20M2328.5 659.8h-20M189 675.4h20M2328.5 675.4h-20M189 691.1h20M2328.5 691.1h-20M189 706.8h20M2328.5 706.8h-20"/>
<rect x="189" y="95" width="2139.5" height="627.5" fill="none" stroke="#1a0a00" stroke-width="2.4"/>
<rect x="195" y="953.4" width="2140" height="629.6" fill="#000000"/>
<path fill="#2e00d8" fill-rule="evenodd" d="M195 953.4L248.5 953.4L302 953.4L355.5 953.4L409 953.4L462.5 953.4L516 953.4L569.5 953.4L623 953.4L676.5 953.4L730 953.4L783.5 953.4L837 953.4L890.5 953.4L944 953.4L997.5 953.4L1051 953.4L1104.5 953.4L1158 953.4L1211.5 953.4L1265 953.4L1318.5 953.4L1372 953.4L1425.5 953.4L1479 953.4L1532.5 953.4L1586 953.4L1639.5 953.4L1693 953.4L1746.5 953.4L1800 953.4L1853.5 953.4L1907 953.4L1960.5 953.4L2014 953.4L2067.5 953.4L2121 953.4L2174.5 953.4L2228 953.4L2281.5 953.4L2335 953.4L2335 984.9L2335 1016.4L2335 1047.8L2335 1079.3L2335 1110.8L2335 1142.3L2335 1173.8L2335 1205.2L2335 1236.7L2335 1268.2L2335 1299.7L2335 1331.2L2335 1362.6L2335 1394.1L2335 1425.6L2335 1457.1L2335 1488.6L2335 1520L2335 1551.5L2335 1583L2281.5 1583L2228 1583L2174.5 1583L2121 1583L2067.5 1583L2014 1583L1960.5 1583L1907 1583L1853.5 1583L1800 1583L1746.5 1583L1693 1583L1639.5 1583L1586 1583L1532.5 1583L1479 1583L1425.5 1583L1372 1583L1318.5 1583L1265 1583L1211.5 1583L1158 1583L1104.5 1583L1051 1583L997.5 1583L944 1583L890.5 1583L837 1583L783.5 1583L730 1583L676.5 1583L623 1583L569.5 1583L516 1583L462.5 1583L409 1583L355.5 1583L302 1583L248.5 1583L195 1583L195 1551.5L195 1520L195 1488.6L195 1457.1L195 1425.6L195 1394.1L195 1362.6L195 1331.2L195 1299.7L195 1268.2L195 1236.7L195 1205.2L195 1173.8L195 1142.3L195 1110.8L195 1079.3L195 1047.8L195 1016.4L195 984.9L195 953.4ZM837 1373.1L815.6 1394.1L801.3 1425.6L801.3 1457.1L801.3 1488.6L837 1509.5L872.7 1488.6L872.7 1457.1L858.4 1425.6L853.2 1394.1L837 1373.1ZM1158 1341.7L1122.3 1362.6L1104.5 1373.1L1068.8 1394.1L1051 1404.6L1029.6 1425.6L1015.3 1457.1L1015.3 1488.6L1051 1509.5L1068.8 1520L1104.5 1541L1158 1541L1211.5 1541L1247.2 1520L1265 1509.5L1286.4 1488.6L1286.4 1457.1L1281.2 1425.6L1265 1404.6L1247.2 1394.1L1232.9 1362.6L1211.5 1350L1158 1341.7ZM1479 1476L1457.6 1488.6L1479 1509.5L1514.7 1488.6L1479 1476ZM1586 1341.7L1550.3 1362.6L1550.3 1394.1L1550.3 1425.6L1550.3 1457.1L1550.3 1488.6L1586 1509.5L1639.5 1509.5L1660.9 1488.6L1639.5 1467.6L1621.7 1457.1L1621.7 1425.6L1621.7 1394.1L1621.7 1362.6L1586 1341.7ZM1853.5 1467.6L1817.8 1488.6L1853.5 1509.5L1861.7 1488.6L1853.5 1467.6Z"/>
<path fill="#009ae8" fill-rule="evenodd" d="M195 953.4L248.5 953.4L302 953.4L355.5 953.4L409 953.4L462.5 953.4L516 953.4L569.5 953.4L623 953.4L676.5 953.4L730 953.4L783.5 953.4L837 953.4L890.5 953.4L944 953.4L997.5 953.4L1051 953.4L1104.5 953.4L1158 953.4L1211.5 953.4L1265 953.4L1318.5 953.4L1372 953.4L1425.5 953.4L1479 953.4L1532.5 953.4L1586 953.4L1639.5 953.4L1693 953.4L1746.5 953.4L1800 953.4L1853.5 953.4L1907 953.4L1960.5 953.4L2014 953.4L2067.5 953.4L2121 953.4L2174.5 953.4L2228 953.4L2281.5 953.4L2335 953.4L2335 984.9L2335 1016.4L2335 1047.8L2335 1079.3L2335 1110.8L2335 1142.3L2335 1173.8L2335 1205.2L2335 1236.7L2335 1268.2L2335 1299.7L2335 1331.2L2335 1362.6L2335 1394.1L2335 1425.6L2335 1441.3L2329.7 1457.1L2329.7 1488.6L2335 1504.3L2335 1520L2335 1551.5L2335 1583L2281.5 1583L2228 1583L2174.5 1583L2121 1583L2067.5 1583L2014 1583L1960.5 1583L1907 1583L1853.5 1583L1800 1583L1746.5 1583L1693 1583L1639.5 1583L1586 1583L1532.5 1583L1479 1583L1425.5 1583L1372 1583L1318.5 1583L1265 1583L1211.5 1583L1158 1583L1104.5 1583L1051 1583L997.5 1583L944 1583L890.5 1583L837 1583L783.5 1583L730 1583L676.5 1583L623 1583L569.5 1583L516 1583L462.5 1583L409 1583L355.5 1583L302 1583L248.5 1583L195 1583L195 1551.5L195 1520L195 1488.6L195 1457.1L195 1425.6L195 1394.1L195 1362.6L195 1331.2L195 1299.7L195 1268.2L195 1236.7L195 1205.2L195 1173.8L195 1142.3L195 1110.8L195 1079.3L195 1047.8L195 1016.4L195 984.9L195 953.4ZM1051 1221L1036.1 1236.7L1036.1 1268.2L1036.1 1299.7L1036.1 1331.2L1036.1 1362.6L1024.2 1394.1L1008.2 1425.6L997.5 1441.3L944 1441.3L890.5 1441.3L879.8 1425.6L869.4 1394.1L851.9 1362.6L837 1346.9L822.1 1362.6L794.2 1394.1L783.5 1409.9L756.8 1394.1L744.9 1362.6L744.9 1331.2L741.6 1299.7L739.9 1268.2L730 1252.5L726.2 1268.2L726.2 1299.7L726.2 1331.2L726.2 1362.6L726.2 1394.1L726.2 1425.6L730 1441.3L756.8 1457.1L768.6 1488.6L773.6 1520L783.5 1535.8L810.2 1551.5L837 1567.3L890.5 1567.3L917.2 1551.5L944 1535.8L997.5 1535.8L1024.2 1551.5L1051 1567.3L1104.5 1567.3L1158 1567.3L1211.5 1567.3L1238.2 1551.5L1265 1535.8L1291.8 1520L1307.8 1488.6L1307.8 1457.1L1297.4 1425.6L1276.6 1394.1L1265 1378.4L1254.3 1362.6L1211.5 1337.5L1184.8 1331.2L1184.8 1299.7L1184.8 1268.2L1172.9 1236.7L1158 1221L1131.2 1236.7L1131.2 1268.2L1131.2 1299.7L1104.5 1315.4L1077.8 1299.7L1077.8 1268.2L1077.8 1236.7L1051 1221ZM1586 1252.5L1559.2 1268.2L1559.2 1299.7L1532.5 1315.4L1524.1 1331.2L1520.9 1362.6L1517.6 1394.1L1505.8 1425.6L1505.8 1457.1L1479 1463.4L1452.2 1457.1L1452.2 1425.6L1440.4 1394.1L1437.1 1362.6L1433.9 1331.2L1430.9 1299.7L1425.5 1283.9L1420.2 1299.7L1421 1331.2L1421 1362.6L1420.2 1394.1L1420.2 1425.6L1420.2 1457.1L1425.5 1472.8L1436.2 1488.6L1464.1 1520L1479 1535.8L1532.5 1535.8L1586 1535.8L1639.5 1535.8L1666.2 1520L1682.3 1488.6L1666.2 1457.1L1654.4 1425.6L1651.1 1394.1L1647.9 1362.6L1644.8 1331.2L1639.5 1315.4L1612.8 1299.7L1612.8 1268.2L1586 1252.5ZM1746.5 1221L1731.6 1236.7L1734.9 1268.2L1738.1 1299.7L1741.2 1331.2L1738.1 1362.6L1734.9 1394.1L1731.6 1425.6L1719.8 1457.1L1719.8 1488.6L1746.5 1504.3L1773.2 1520L1800 1535.8L1853.5 1535.8L1868.4 1520L1870 1488.6L1858 1457.1L1853.5 1441.3L1800 1441.3L1773.2 1425.6L1761.4 1394.1L1758.1 1362.6L1756.4 1331.2L1751.9 1299.7L1751.9 1268.2L1751.9 1236.7L1746.5 1221ZM2228 1472.8L2201.2 1488.6L2228 1504.3L2233.3 1488.6L2228 1472.8Z"/>
<path fill="#00ff08" fill-rule="evenodd" d="M195 953.4L248.5 953.4L302 953.4L355.5 953.4L409 953.4L462.5 953.4L516 953.4L569.5 953.4L623 953.4L676.5 953.4L730 953.4L783.5 953.4L837 953.4L890.5 953.4L944 953.4L997.5 953.4L1051 953.4L1104.5 953.4L1158 953.4L1211.5 953.4L1265 953.4L1318.5 953.4L1372 953.4L1425.5 953.4L1479 953.4L1532.5 953.4L1586 953.4L1639.5 953.4L1693 953.4L1746.5 953.4L1800 953.4L1853.5 953.4L1907 953.4L1960.5 953.4L2014 953.4L2067.5 953.4L2121 953.4L2174.5 953.4L2228 953.4L2281.5 953.4L2335 953.4L2335 984.9L2335 1016.4L2335 1047.8L2335 1079.3L2335 1110.8L2335 1142.3L2335 1173.8L2335 1205.2L2335 1236.7L2335 1268.2L2335 1299.7L2335 1331.2L2335 1362.6L2335 1394.1L2335 1405.9L2328.3 1425.6L2318.9 1457.1L2318.9 1488.6L2328.3 1520L2335 1539.7L2335 1551.5L2335 1583L2281.5 1583L2228 1583L2174.5 1583L2121 1583L2067.5 1583L2014 1583L1960.5 1583L1907 1583L1853.5 1583L1800 1583L1746.5 1583L1693 1583L1639.5 1583L1586 1583L1532.5 1583L1479 1583L1425.5 1583L1372 1583L1318.5 1583L1265 1583L1244.9 1583L1265 1571.2L1298.4 1551.5L1318.5 1539.7L1323.9 1520L1323.9 1488.6L1325.2 1457.1L1318.5 1437.4L1313.6 1425.6L1299.9 1394.1L1285.6 1362.6L1265 1355.5L1223.7 1331.2L1218.2 1299.7L1218.2 1268.2L1211.5 1248.5L1202.6 1236.7L1191.4 1205.2L1158 1185.6L1124.6 1205.2L1104.5 1217L1084.4 1205.2L1051 1185.6L1017.6 1205.2L1006.4 1236.7L1006.4 1268.2L1006.4 1299.7L1006.4 1331.2L1006.4 1362.6L997.5 1374.4L944 1374.4L910.6 1394.1L890.5 1405.9L885.6 1394.1L881.6 1362.6L870.4 1331.2L837 1311.5L803.6 1331.2L792.4 1362.6L783.5 1374.4L774.6 1362.6L774.6 1331.2L764.9 1299.7L759.7 1268.2L745.7 1236.7L730 1217L725.5 1236.7L718.5 1268.2L718.5 1299.7L718.5 1331.2L718.5 1362.6L718.5 1394.1L718.5 1425.6L725.5 1457.1L730 1476.8L738.9 1488.6L753.8 1520L767.8 1551.5L783.5 1571.2L803.6 1583L783.5 1583L730 1583L676.5 1583L623 1583L569.5 1583L516 1583L462.5 1583L409 1583L355.5 1583L302 1583L248.5 1583L195 1583L195 1551.5L195 1520L195 1488.6L195 1457.1L195 1425.6L195 1394.1L195 1362.6L195 1331.2L195 1299.7L195 1268.2L195 1236.7L195 1205.2L195 1173.8L195 1142.3L195 1110.8L195 1079.3L195 1047.8L195 1016.4L195 984.9L195 953.4ZM462.5 1248.5L455.8 1268.2L462.5 1287.9L471.4 1268.2L462.5 1248.5ZM1318.5 1185.6L1311.8 1205.2L1311.8 1236.7L1311.8 1268.2L1311.8 1299.7L1318.5 1319.4L1325.2 1299.7L1325.2 1268.2L1325.2 1236.7L1325.2 1205.2L1318.5 1185.6ZM1586 1185.6L1552.6 1205.2L1532.5 1217L1525.8 1236.7L1525.8 1268.2L1525.8 1299.7L1507.4 1331.2L1497.6 1362.6L1487.9 1394.1L1479 1405.9L1470.1 1394.1L1460.4 1362.6L1450.6 1331.2L1441.5 1299.7L1432.2 1268.2L1432.2 1236.7L1425.5 1217L1418.8 1236.7L1418.8 1268.2L1409.4 1299.7L1412.1 1331.2L1412.1 1362.6L1409.4 1394.1L1409.4 1425.6L1409.4 1457.1L1420.2 1488.6L1425.5 1508.2L1434.4 1520L1463.3 1551.5L1479 1571.2L1532.5 1571.2L1586 1571.2L1639.5 1571.2L1672.9 1551.5L1693 1539.7L1746.5 1539.7L1766.6 1551.5L1800 1571.2L1853.5 1571.2L1886.9 1551.5L1898.1 1520L1878.2 1488.6L1866.9 1457.1L1858.9 1425.6L1853.5 1405.9L1800 1405.9L1791.1 1394.1L1781.4 1362.6L1776.2 1331.2L1762.5 1299.7L1762.5 1268.2L1762.5 1236.7L1758.7 1205.2L1746.5 1185.6L1713.1 1205.2L1701.9 1236.7L1711.6 1268.2L1721.4 1299.7L1730.4 1331.2L1721.4 1362.6L1711.6 1394.1L1701.9 1425.6L1693 1437.4L1684.1 1425.6L1674.4 1394.1L1664.6 1362.6L1655.5 1331.2L1651.7 1299.7L1660.1 1268.2L1639.5 1248.5L1619.4 1236.7L1619.4 1205.2L1586 1185.6ZM2174.5 1311.5L2141.1 1331.2L2141.1 1362.6L2174.5 1382.3L2207.9 1362.6L2195.1 1331.2L2174.5 1311.5ZM2228 1437.4L2194.6 1457.1L2174.5 1468.9L2167.8 1488.6L2167.8 1520L2174.5 1539.7L2228 1539.7L2234.7 1520L2244 1488.6L2234.7 1457.1L2228 1437.4ZM923.9 1583L944 1571.2L997.5 1571.2L1017.6 1583L997.5 1583L944 1583L923.9 1583Z"/>
<path fill="#aaff00" fill-rule="evenodd" d="M195 953.4L248.5 953.4L302 953.4L355.5 953.4L409 953.4L462.5 953.4L516 953.4L569.5 953.4L623 953.4L676.5 953.4L730 953.4L783.5 953.4L837 953.4L890.5 953.4L944 953.4L997.5 953.4L1051 953.4L1104.5 953.4L1158 953.4L1211.5 953.4L1265 953.4L1318.5 953.4L1372 953.4L1425.5 953.4L1479 953.4L1532.5 953.4L1586 953.4L1639.5 953.4L1693 953.4L1746.5 953.4L1800 953.4L1853.5 953.4L1907 953.4L1960.5 953.4L2014 953.4L2067.5 953.4L2121 953.4L2174.5 953.4L2228 953.4L2281.5 953.4L2335 953.4L2335 984.9L2335 1016.4L2335 1047.8L2335 1079.3L2335 1110.8L2335 1142.3L2335 1173.8L2335 1205.2L2335 1236.7L2335 1268.2L2335 1299.7L2335 1331.2L2335 1343.8L2313.6 1331.2L2293 1299.7L2286.5 1268.2L2286.5 1236.7L2286.5 1205.2L2281.5 1186.4L2270 1205.2L2270 1236.7L2263.7 1268.2L2249.4 1299.7L2249.4 1331.2L2228 1343.8L2219.8 1331.2L2206.6 1299.7L2192.3 1268.2L2186 1236.7L2174.5 1217.8L2153.1 1205.2L2121 1186.4L2116 1205.2L2116 1236.7L2116 1268.2L2116 1299.7L2117.2 1331.2L2117.2 1362.6L2121 1369.4L2163 1394.1L2174.5 1413L2195.9 1425.6L2174.5 1438.2L2169.5 1457.1L2159.8 1488.6L2159.8 1520L2169.5 1551.5L2174.5 1562L2228 1562L2233 1551.5L2242.7 1520L2250.5 1488.6L2242.7 1457.1L2233 1425.6L2228 1406.7L2206.6 1394.1L2228 1381.5L2281.5 1365.6L2330 1394.1L2320.3 1425.6L2312.5 1457.1L2312.5 1488.6L2320.3 1520L2330 1551.5L2335 1562L2335 1583L2281.5 1583L2228 1583L2174.5 1583L2121 1583L2067.5 1583L2014 1583L1960.5 1583L1907 1583L1885.6 1583L1907 1570.4L1912 1551.5L1910.8 1520L1907 1517.1L1883.1 1488.6L1872.2 1457.1L1865.3 1425.6L1857.3 1394.1L1857.3 1362.6L1857.3 1331.2L1858.5 1299.7L1853.5 1280.8L1848.5 1299.7L1835.7 1331.2L1821.4 1362.6L1800 1375.2L1795.3 1362.6L1788.1 1331.2L1769 1299.7L1769 1268.2L1769 1236.7L1773.2 1205.2L1764.3 1173.8L1764.3 1142.3L1764.3 1110.8L1746.5 1091.9L1714.4 1110.8L1714.4 1142.3L1693 1154.9L1639.5 1154.9L1618.1 1142.3L1586 1123.4L1553.9 1142.3L1553.9 1173.8L1532.5 1186.4L1525.2 1205.2L1517.8 1236.7L1517.8 1268.2L1517.8 1299.7L1497.4 1331.2L1483.7 1362.6L1479 1375.2L1474.3 1362.6L1460.6 1331.2L1448 1299.7L1440.2 1268.2L1440.2 1236.7L1432.8 1205.2L1425.5 1186.4L1420.5 1205.2L1410.8 1236.7L1410.8 1268.2L1403 1299.7L1406.8 1331.2L1406.8 1362.6L1403 1394.1L1403 1425.6L1403 1457.1L1413.7 1488.6L1421.7 1520L1425.5 1530.5L1444.4 1551.5L1467.5 1583L1425.5 1583L1372 1583L1330 1583L1325.8 1551.5L1330.3 1520L1330.3 1488.6L1333.2 1457.1L1323.5 1425.6L1318.5 1406.7L1313.8 1394.1L1310.3 1362.6L1318.5 1350L1322.3 1331.2L1333.2 1299.7L1333.2 1268.2L1333.2 1236.7L1333.2 1205.2L1325.8 1173.8L1318.5 1154.9L1311.2 1173.8L1303.8 1205.2L1303.8 1236.7L1303.8 1268.2L1303.8 1299.7L1307 1331.2L1265 1346.9L1238.2 1331.2L1226.2 1299.7L1226.2 1268.2L1216.5 1236.7L1216.5 1205.2L1211.5 1186.4L1190.1 1173.8L1175.8 1142.3L1190.1 1110.8L1158 1091.9L1125.9 1110.8L1125.9 1142.3L1104.5 1154.9L1083.1 1142.3L1051 1123.4L1018.9 1142.3L1018.9 1173.8L997.5 1186.4L992.5 1205.2L992.5 1236.7L992.5 1268.2L992.5 1299.7L979.7 1331.2L944 1352.1L908.3 1331.2L895.5 1299.7L890.5 1289.2L837 1280.8L804.9 1299.7L783.5 1312.3L778.8 1299.7L771.6 1268.2L764.6 1236.7L747.8 1205.2L730 1186.4L726.2 1205.2L720.2 1236.7L713.9 1268.2L713.9 1299.7L713.9 1331.2L713.9 1362.6L713.9 1394.1L713.9 1425.6L720.2 1457.1L726.2 1488.6L730 1499.1L741.9 1520L748.9 1551.5L772 1583L730 1583L676.5 1583L623 1583L569.5 1583L516 1583L462.5 1583L409 1583L355.5 1583L302 1583L248.5 1583L195 1583L195 1551.5L195 1520L195 1488.6L195 1457.1L195 1425.6L195 1394.1L195 1362.6L195 1331.2L195 1299.7L195 1268.2L195 1236.7L195 1205.2L195 1173.8L195 1142.3L195 1110.8L195 1079.3L195 1047.8L195 1016.4L195 984.9L195 953.4ZM462.5 1217.8L457.5 1236.7L447.8 1268.2L458.7 1299.7L458.7 1331.2L462.5 1337.9L467.5 1331.2L469.8 1299.7L482.1 1268.2L469.8 1236.7L462.5 1217.8ZM1960.5 1186.4L1942.7 1205.2L1949 1236.7L1953.2 1268.2L1955.5 1299.7L1960.5 1318.6L1965.5 1299.7L1965.5 1268.2L1965.5 1236.7L1965.5 1205.2L1960.5 1186.4ZM1684.8 1268.2L1693 1255.6L1697.7 1268.2L1711.4 1299.7L1724 1331.2L1711.4 1362.6L1697.7 1394.1L1693 1406.7L1688.3 1394.1L1674.6 1362.6L1662 1331.2L1666.2 1299.7L1684.8 1268.2ZM1671.6 1583L1693 1570.4L1714.4 1583L1693 1583L1671.6 1583Z"/>
<path fill="#ffc400" fill-rule="evenodd" d="M195 953.4L248.5 953.4L302 953.4L355.5 953.4L409 953.4L462.5 953.4L516 953.4L569.5 953.4L623 953.4L676.5 953.4L730 953.4L783.5 953.4L837 953.4L890.5 953.4L944 953.4L997.5 953.4L1051 953.4L1104.5 953.4L1158 953.4L1211.5 953.4L1265 953.4L1318.5 953.4L1372 953.4L1425.5 953.4L1479 953.4L1532.5 953.4L1586 953.4L1639.5 953.4L1693 953.4L1746.5 953.4L1800 953.4L1853.5 953.4L1907 953.4L1960.5 953.4L2014 953.4L2067.5 953.4L2121 953.4L2174.5 953.4L2228 953.4L2281.5 953.4L2335 953.4L2335 984.9L2335 1016.4L2335 1047.8L2335 1079.3L2335 1110.8L2335 1142.3L2335 1173.8L2335 1205.2L2335 1236.7L2335 1268.2L2335 1299.7L2335 1324.2L2308.2 1299.7L2293.2 1268.2L2293.2 1236.7L2293.2 1205.2L2285.5 1173.8L2281.5 1158L2269.6 1173.8L2254.8 1205.2L2254.8 1236.7L2239.9 1268.2L2228 1283.9L2216.1 1268.2L2201.2 1236.7L2186.4 1205.2L2186.4 1173.8L2174.5 1158L2121 1158L2114.7 1173.8L2109.3 1205.2L2109.3 1236.7L2109.3 1268.2L2109.3 1299.7L2112.1 1331.2L2112.1 1362.6L2121 1378.4L2147.8 1394.1L2170.5 1425.6L2162.8 1457.1L2154.4 1488.6L2154.4 1520L2162.8 1551.5L2174.5 1576L2228 1576L2239.7 1551.5L2248.1 1520L2254.8 1488.6L2248.1 1457.1L2239.7 1425.6L2232 1394.1L2281.5 1369.5L2323.3 1394.1L2314.9 1425.6L2308.2 1457.1L2308.2 1488.6L2314.9 1520L2323.3 1551.5L2335 1576L2335 1583L2281.5 1583L2228 1583L2174.5 1583L2121 1583L2067.5 1583L2014 1583L1960.5 1583L1913.3 1583L1918.7 1551.5L1915.9 1520L1907 1513.2L1886.4 1488.6L1875.8 1457.1L1869.5 1425.6L1862.4 1394.1L1862.4 1362.6L1862.4 1331.2L1865.2 1299.7L1859.8 1268.2L1865.4 1236.7L1853.5 1221L1849.5 1236.7L1849.5 1268.2L1841.8 1299.7L1811.9 1331.2L1800 1346.9L1796 1331.2L1773.2 1299.7L1773.2 1268.2L1773.2 1236.7L1783 1205.2L1788.1 1173.8L1788.1 1142.3L1788.1 1110.8L1773.2 1079.3L1773.2 1047.8L1746.5 1032.1L1719.8 1047.8L1719.8 1079.3L1693 1095.1L1666.2 1079.3L1639.5 1063.6L1612.8 1047.8L1586 1032.1L1559.2 1047.8L1532.5 1063.6L1505.8 1079.3L1505.8 1110.8L1505.8 1142.3L1520.6 1173.8L1515.5 1205.2L1512.4 1236.7L1512.4 1268.2L1512.4 1299.7L1490.7 1331.2L1479 1355.6L1467.3 1331.2L1452.2 1299.7L1445.6 1268.2L1445.6 1236.7L1442.5 1205.2L1437.4 1173.8L1452.2 1142.3L1425.5 1126.5L1413.6 1142.3L1419.2 1173.8L1413.8 1205.2L1405.4 1236.7L1405.4 1268.2L1398.8 1299.7L1403.2 1331.2L1403.2 1362.6L1398.8 1394.1L1398.8 1425.6L1398.8 1457.1L1409.4 1488.6L1416.6 1520L1425.5 1544.5L1431.8 1551.5L1452.2 1583L1425.5 1583L1372 1583L1345.2 1583L1335.5 1551.5L1334.5 1520L1334.5 1488.6L1338.6 1457.1L1330.2 1425.6L1322.5 1394.1L1321.4 1362.6L1327.4 1331.2L1338.6 1299.7L1338.6 1268.2L1338.6 1236.7L1338.6 1205.2L1335.5 1173.8L1330.4 1142.3L1330.4 1110.8L1318.5 1095.1L1291.8 1079.3L1265 1063.6L1211.5 1063.6L1158 1063.6L1104.5 1063.6L1051 1063.6L1024.2 1079.3L997.5 1095.1L970.8 1079.3L944 1063.6L932.1 1079.3L937.7 1110.8L944 1117.8L985.6 1142.3L993.5 1173.8L985.8 1205.2L985.8 1236.7L985.8 1268.2L985.8 1299.7L955.9 1331.2L944 1338.2L932.1 1331.2L902.2 1299.7L890.5 1275.2L863.8 1268.2L837 1264.5L810.2 1268.2L783.5 1283.9L779.5 1268.2L777.2 1236.7L771.6 1205.2L756.8 1173.8L730 1158L726 1173.8L721.1 1205.2L716.6 1236.7L710.9 1268.2L710.9 1299.7L710.9 1331.2L710.9 1362.6L710.9 1394.1L710.9 1425.6L716.6 1457.1L721.1 1488.6L730 1513L734 1520L736.3 1551.5L756.8 1583L730 1583L676.5 1583L623 1583L569.5 1583L516 1583L462.5 1583L409 1583L355.5 1583L302 1583L248.5 1583L195 1583L195 1551.5L195 1520L195 1488.6L195 1457.1L195 1425.6L195 1394.1L195 1362.6L195 1331.2L195 1299.7L195 1268.2L195 1236.7L195 1205.2L195 1173.8L195 1142.3L195 1110.8L195 1079.3L195 1047.8L195 1016.4L195 984.9L195 953.4ZM462.5 1189.5L458.5 1205.2L450.8 1236.7L442.4 1268.2L453.6 1299.7L453.6 1331.2L462.5 1346.9L474.2 1331.2L479.5 1299.7L489.2 1268.2L479.5 1236.7L468.8 1205.2L462.5 1189.5ZM1907 1095.1L1880.2 1110.8L1880.2 1142.3L1880.2 1173.8L1907 1189.5L1918.9 1205.2L1933.8 1236.7L1943.5 1268.2L1948.8 1299.7L1957.6 1331.2L1960.5 1338.2L1964.5 1331.2L1972.2 1299.7L1972.2 1268.2L1972.2 1236.7L1972.2 1205.2L1966.8 1173.8L1972.4 1142.3L1960.5 1126.5L1933.8 1110.8L1907 1095.1ZM1238.2 1110.8L1265 1095.1L1291.8 1110.8L1306.6 1142.3L1301.5 1173.8L1298.4 1205.2L1298.4 1236.7L1298.4 1268.2L1298.4 1299.7L1291.8 1331.2L1265 1341.2L1248 1331.2L1231.6 1299.7L1231.6 1268.2L1223.2 1236.7L1223.2 1205.2L1217.8 1173.8L1211.5 1158L1199.6 1142.3L1211.5 1126.5L1238.2 1110.8ZM1676 1299.7L1693 1275.2L1704.7 1299.7L1719.8 1331.2L1704.7 1362.6L1693 1387.1L1681.3 1362.6L1666.2 1331.2L1676 1299.7Z"/>
<path fill="#ff7600" fill-rule="evenodd" d="M195 953.4L248.5 953.4L302 953.4L355.5 953.4L387.6 953.4L409 966L441.1 984.9L462.5 997.5L494.6 1016.4L516 1029L537.4 1016.4L537.4 984.9L537.4 953.4L569.5 953.4L601.6 953.4L601.6 984.9L601.6 1016.4L601.6 1047.8L623 1060.4L631.2 1047.8L644.4 1016.4L644.4 984.9L644.4 953.4L676.5 953.4L708.6 953.4L708.6 984.9L708.6 1016.4L721.8 1047.8L721.8 1079.3L725.3 1110.8L725.3 1142.3L718.1 1173.8L716 1205.2L713.1 1236.7L707.8 1268.2L707.8 1299.7L707.8 1331.2L707.8 1362.6L707.8 1394.1L707.8 1425.6L713.1 1457.1L716 1488.6L726.8 1520L725.3 1551.5L730 1564.1L741.5 1583L730 1583L676.5 1583L623 1583L569.5 1583L516 1583L462.5 1583L409 1583L355.5 1583L302 1583L248.5 1583L195 1583L195 1551.5L195 1520L195 1488.6L195 1457.1L195 1425.6L195 1394.1L195 1362.6L195 1331.2L195 1299.7L195 1268.2L195 1236.7L195 1205.2L195 1173.8L195 1142.3L195 1110.8L195 1079.3L195 1047.8L195 1016.4L195 984.9L195 953.4ZM462.5 1129.7L454.3 1142.3L454.3 1173.8L450.6 1205.2L444.1 1236.7L437.1 1268.2L448.5 1299.7L448.5 1331.2L462.5 1355.9L480.9 1331.2L489.2 1299.7L496.4 1268.2L489.2 1236.7L481.4 1205.2L470.7 1173.8L483.9 1142.3L462.5 1129.7ZM1286.4 953.4L1318.5 953.4L1372 953.4L1404.1 953.4L1404.1 984.9L1404.1 1016.4L1404.1 1047.8L1404.1 1079.3L1404.1 1110.8L1389.8 1142.3L1406.6 1173.8L1407.1 1205.2L1400.1 1236.7L1400.1 1268.2L1394.5 1299.7L1399.6 1331.2L1399.6 1362.6L1394.5 1394.1L1394.5 1425.6L1394.5 1457.1L1405.2 1488.6L1411.5 1520L1417.3 1551.5L1425.5 1564.1L1437 1583L1425.5 1583L1372 1583L1360.5 1583L1345.2 1551.5L1338.8 1520L1338.8 1488.6L1343.9 1457.1L1336.9 1425.6L1330.4 1394.1L1327.2 1362.6L1332.5 1331.2L1343.9 1299.7L1343.9 1268.2L1343.9 1236.7L1343.9 1205.2L1345.2 1173.8L1354.2 1142.3L1354.2 1110.8L1339.9 1079.3L1339.9 1047.8L1339.9 1016.4L1318.5 1003.8L1286.4 984.9L1286.4 953.4ZM1607.4 953.4L1639.5 953.4L1693 953.4L1725.1 953.4L1725.1 984.9L1725.1 1016.4L1693 1035.2L1660.9 1016.4L1660.9 984.9L1639.5 972.3L1607.4 953.4ZM1767.9 953.4L1800 953.4L1853.5 953.4L1885.6 953.4L1885.6 984.9L1853.5 1003.8L1800 1003.8L1767.9 984.9L1767.9 953.4ZM1928.4 953.4L1960.5 953.4L2014 953.4L2067.5 953.4L2121 953.4L2174.5 953.4L2228 953.4L2281.5 953.4L2335 953.4L2335 984.9L2335 1016.4L2335 1047.8L2335 1079.3L2335 1110.8L2335 1142.3L2335 1173.8L2335 1205.2L2335 1236.7L2335 1268.2L2335 1299.7L2335 1310.2L2323.5 1299.7L2299.9 1268.2L2299.9 1236.7L2299.9 1205.2L2293.4 1173.8L2302.9 1142.3L2302.9 1110.8L2302.9 1079.3L2302.9 1047.8L2281.5 1035.2L2260.1 1047.8L2260.1 1079.3L2228 1098.2L2195.9 1079.3L2195.9 1047.8L2174.5 1035.2L2121 1035.2L2112.8 1047.8L2112.8 1079.3L2112.8 1110.8L2112.8 1142.3L2102.1 1173.8L2102.6 1205.2L2102.6 1236.7L2102.6 1268.2L2102.6 1299.7L2107 1331.2L2107 1362.6L2121 1387.4L2132.5 1394.1L2162.6 1425.6L2156.1 1457.1L2149.1 1488.6L2149.1 1520L2156.1 1551.5L2153.1 1583L2121 1583L2067.5 1583L2014 1583L1960.5 1583L1925.9 1583L1925.4 1551.5L1921 1520L1907 1509.2L1889.7 1488.6L1879.4 1457.1L1873.8 1425.6L1867.5 1394.1L1867.5 1362.6L1867.5 1331.2L1871.9 1299.7L1872.4 1268.2L1889.2 1236.7L1907 1217.8L1918.5 1236.7L1933.8 1268.2L1942.1 1299.7L1951.8 1331.2L1960.5 1352.1L1972.4 1331.2L1978.9 1299.7L1978.9 1268.2L1978.9 1236.7L1978.9 1205.2L1979.4 1173.8L1996.2 1142.3L1981.9 1110.8L1981.9 1079.3L1981.9 1047.8L1981.9 1016.4L1960.5 1003.8L1928.4 984.9L1928.4 953.4ZM804.9 1047.8L837 1029L869.1 1047.8L890.5 1060.4L908.3 1079.3L925.1 1110.8L944 1131.8L961.8 1142.3L985.6 1173.8L979.1 1205.2L979.1 1236.7L979.1 1268.2L979.1 1299.7L944 1328.4L908.9 1299.7L895.2 1268.2L890.5 1255.6L837 1257.1L791.7 1236.7L788.2 1205.2L788.2 1173.8L791.7 1142.3L804.9 1110.8L804.9 1079.3L804.9 1047.8ZM1232.9 1142.3L1265 1123.4L1282.8 1142.3L1291.8 1173.8L1293.1 1205.2L1293.1 1236.7L1293.1 1268.2L1293.1 1299.7L1276.5 1331.2L1265 1335.5L1257.7 1331.2L1236.9 1299.7L1236.9 1268.2L1229.9 1236.7L1229.9 1205.2L1230.4 1173.8L1232.9 1142.3ZM2195.9 1142.3L2228 1123.4L2260.1 1142.3L2245.8 1173.8L2239.5 1205.2L2239.5 1236.7L2228 1255.6L2216.5 1236.7L2210.2 1205.2L2210.2 1173.8L2195.9 1142.3ZM1461.2 1173.8L1479 1154.9L1496.8 1173.8L1505.8 1205.2L1507.1 1236.7L1507.1 1268.2L1507.1 1299.7L1484 1331.2L1479 1341.7L1474 1331.2L1456.5 1299.7L1450.9 1268.2L1450.9 1236.7L1452.2 1205.2L1461.2 1173.8ZM1792.7 1205.2L1800 1186.4L1832.1 1205.2L1841.6 1236.7L1841.6 1268.2L1835.1 1299.7L1800 1328.4L1777.5 1299.7L1777.5 1268.2L1777.5 1236.7L1792.7 1205.2ZM1685.7 1299.7L1693 1289.2L1698 1299.7L1715.5 1331.2L1698 1362.6L1693 1373.1L1688 1362.6L1670.5 1331.2L1685.7 1299.7ZM2239.9 1394.1L2281.5 1373.5L2316.6 1394.1L2309.6 1425.6L2304 1457.1L2304 1488.6L2309.6 1520L2316.6 1551.5L2326.8 1583L2281.5 1583L2236.2 1583L2246.4 1551.5L2253.4 1520L2259 1488.6L2253.4 1457.1L2246.4 1425.6L2239.9 1394.1Z"/>
<path fill="#ff4c00" fill-rule="evenodd" d="M195 1016.4L195 996.7L248.5 996.7L281.9 1016.4L302 1028.2L335.4 1047.8L355.5 1059.6L388.9 1079.3L409 1091.1L442.4 1110.8L429.6 1142.3L429.6 1173.8L438.7 1205.2L434.1 1236.7L429.1 1268.2L440.8 1299.7L440.8 1331.2L458.3 1362.6L462.5 1367.9L471.4 1362.6L490.9 1331.2L503.8 1299.7L507.1 1268.2L503.8 1236.7L500.3 1205.2L495.4 1173.8L516 1154.1L536.1 1142.3L536.1 1110.8L569.5 1091.1L602.9 1110.8L602.9 1142.3L602.9 1173.8L623 1185.6L631.9 1173.8L631.9 1142.3L631.9 1110.8L643.1 1079.3L655.9 1047.8L676.5 1028.2L697.1 1047.8L697.1 1079.3L711.4 1110.8L711.4 1142.3L706.2 1173.8L708.3 1205.2L707.7 1236.7L703.2 1268.2L703.2 1299.7L703.2 1331.2L703.2 1362.6L703.2 1394.1L703.2 1425.6L707.7 1457.1L708.3 1488.6L717 1520L711.4 1551.5L676.5 1577.8L623 1577.8L569.5 1571.2L560.6 1583L516 1583L462.5 1583L409 1583L355.5 1583L302 1583L248.5 1583L195 1583L195 1551.5L195 1520L195 1488.6L195 1457.1L195 1425.6L195 1394.1L195 1362.6L195 1331.2L195 1299.7L195 1268.2L195 1236.7L195 1205.2L195 1173.8L195 1142.3L195 1110.8L195 1079.3L195 1047.8L195 1016.4ZM2034.1 1047.8L2067.5 1028.2L2088.1 1047.8L2088.1 1079.3L2088.1 1110.8L2088.1 1142.3L2083.2 1173.8L2092.6 1205.2L2092.6 1236.7L2092.6 1268.2L2092.6 1299.7L2099.3 1331.2L2099.3 1362.6L2112.1 1394.1L2121 1399.4L2150.7 1425.6L2146.1 1457.1L2141.1 1488.6L2141.1 1520L2146.1 1551.5L2121 1577.8L2100.9 1583L2067.5 1583L2014 1583L1960.5 1583L1944.8 1583L1935.4 1551.5L1928.7 1520L1907 1503.3L1894.7 1488.6L1884.7 1457.1L1880.2 1425.6L1875.2 1394.1L1875.2 1362.6L1875.2 1331.2L1881.9 1299.7L1891.3 1268.2L1907 1248.5L1919.2 1268.2L1932.1 1299.7L1943.1 1331.2L1954.8 1362.6L1960.5 1367.9L1969.4 1362.6L1984.3 1331.2L1988.9 1299.7L1988.9 1268.2L1988.9 1236.7L1988.9 1205.2L1998.3 1173.8L2014 1154.1L2034.1 1142.3L2034.1 1110.8L2034.1 1079.3L2034.1 1047.8ZM857.1 1110.8L890.5 1091.1L906.2 1110.8L935.1 1142.3L944 1147.5L973.7 1173.8L969.1 1205.2L969.1 1236.7L969.1 1268.2L969.1 1299.7L944 1320.2L918.9 1299.7L909.1 1268.2L899.4 1236.7L890.5 1231.5L870.4 1236.7L837 1246L816.4 1236.7L802.1 1205.2L802.1 1173.8L816.4 1142.3L837 1122.6L857.1 1110.8ZM1249.3 1173.8L1265 1154.1L1277.2 1173.8L1285.1 1205.2L1285.1 1236.7L1285.1 1268.2L1285.1 1299.7L1265 1325.9L1244.9 1299.7L1244.9 1268.2L1239.9 1236.7L1239.9 1205.2L1249.3 1173.8ZM1359.8 1173.8L1372 1154.1L1387.7 1173.8L1397.1 1205.2L1392.1 1236.7L1392.1 1268.2L1388.1 1299.7L1394.3 1331.2L1394.3 1362.6L1388.1 1394.1L1388.1 1425.6L1388.1 1457.1L1398.8 1488.6L1403.8 1520L1392.6 1551.5L1372 1571.2L1359.8 1551.5L1345.2 1520L1345.2 1488.6L1351.9 1457.1L1346.9 1425.6L1342.3 1394.1L1335.9 1362.6L1340.2 1331.2L1351.9 1299.7L1351.9 1268.2L1351.9 1236.7L1351.9 1205.2L1359.8 1173.8ZM2305.3 1173.8L2335 1147.5L2335 1173.8L2335 1205.2L2335 1236.7L2335 1268.2L2335 1294.4L2309.9 1268.2L2309.9 1236.7L2309.9 1205.2L2305.3 1173.8ZM1466.8 1205.2L1479 1185.6L1491.2 1205.2L1499.1 1236.7L1499.1 1268.2L1499.1 1299.7L1479 1325.9L1463 1299.7L1458.9 1268.2L1458.9 1236.7L1466.8 1205.2ZM1784 1236.7L1800 1210.5L1829.7 1236.7L1829.7 1268.2L1825.1 1299.7L1800 1320.2L1784 1299.7L1784 1268.2L1784 1236.7ZM1677 1331.2L1693 1304.9L1709 1331.2L1693 1357.4L1677 1331.2ZM2251.8 1394.1L2281.5 1379.4L2306.6 1394.1L2301.6 1425.6L2297.6 1457.1L2297.6 1488.6L2301.6 1520L2306.6 1551.5L2302.1 1583L2281.5 1583L2260.9 1583L2256.4 1551.5L2261.4 1520L2265.4 1488.6L2261.4 1457.1L2256.4 1425.6L2251.8 1394.1Z"/>
<path fill="#ff0c00" fill-rule="evenodd" d="M195 1079.3L195 1063.6L248.5 1063.6L302 1063.6L328.8 1079.3L328.8 1110.8L355.5 1126.5L382.2 1142.3L382.2 1173.8L409 1189.5L418.9 1205.2L417.4 1236.7L415.7 1268.2L428.1 1299.7L428.1 1331.2L444.2 1362.6L462.5 1385.4L501.1 1362.6L507.6 1331.2L516 1315.4L569.5 1315.4L596.2 1299.7L596.2 1268.2L596.2 1236.7L623 1221L636.4 1205.2L661.6 1173.8L661.6 1142.3L661.6 1110.8L676.5 1095.1L688.1 1110.8L688.1 1142.3L686.4 1173.8L695.6 1205.2L698.8 1236.7L695.6 1268.2L695.6 1299.7L695.6 1331.2L695.6 1362.6L695.6 1394.1L695.6 1425.6L698.8 1457.1L695.6 1488.6L700.8 1520L688.1 1551.5L676.5 1560.3L623 1560.3L596.2 1551.5L569.5 1543.6L556.1 1551.5L530.9 1583L516 1583L462.5 1583L409 1583L355.5 1583L302 1583L248.5 1583L195 1583L195 1551.5L195 1520L195 1488.6L195 1457.1L195 1425.6L195 1394.1L195 1362.6L195 1331.2L195 1299.7L195 1268.2L195 1236.7L195 1205.2L195 1173.8L195 1142.3L195 1110.8L195 1079.3ZM863.8 1142.3L890.5 1126.5L905.4 1142.3L944 1165L953.9 1173.8L952.4 1205.2L952.4 1236.7L952.4 1268.2L952.4 1299.7L944 1306.5L935.6 1299.7L932.4 1268.2L929.1 1236.7L890.5 1214L837 1221L825.4 1205.2L825.4 1173.8L837 1158L863.8 1142.3ZM2325.1 1173.8L2335 1165L2335 1173.8L2335 1205.2L2335 1236.7L2335 1268.2L2335 1276.9L2326.6 1268.2L2326.6 1236.7L2326.6 1205.2L2325.1 1173.8ZM1256.6 1205.2L1265 1189.5L1271.7 1205.2L1271.7 1236.7L1271.7 1268.2L1271.7 1299.7L1265 1308.4L1258.3 1299.7L1258.3 1268.2L1256.6 1236.7L1256.6 1205.2ZM1365.3 1205.2L1372 1189.5L1380.4 1205.2L1378.7 1236.7L1378.7 1268.2L1377.3 1299.7L1385.4 1331.2L1385.4 1362.6L1377.3 1394.1L1377.3 1425.6L1377.3 1457.1L1388.1 1488.6L1391.1 1520L1372 1543.6L1356 1520L1356 1488.6L1365.3 1457.1L1363.6 1425.6L1362.1 1394.1L1350.3 1362.6L1352.9 1331.2L1365.3 1299.7L1365.3 1268.2L1365.3 1236.7L1365.3 1205.2ZM2005.6 1205.2L2014 1189.5L2067.5 1189.5L2075.9 1205.2L2075.9 1236.7L2075.9 1268.2L2075.9 1299.7L2086.6 1331.2L2086.6 1362.6L2082.4 1394.1L2121 1416.9L2130.9 1425.6L2129.4 1457.1L2127.7 1488.6L2127.7 1520L2129.4 1551.5L2121 1560.3L2067.5 1567.3L2040.8 1583L2014 1583L1987.2 1583L1960.5 1567.3L1952.1 1551.5L1941.4 1520L1907 1493.5L1902.9 1488.6L1893.6 1457.1L1890.9 1425.6L1887.9 1394.1L1887.9 1362.6L1887.9 1331.2L1898.6 1299.7L1907 1283.9L1915.4 1299.7L1928.7 1331.2L1935.7 1362.6L1960.5 1385.4L1999.1 1362.6L2004.1 1331.2L2005.6 1299.7L2005.6 1268.2L2005.6 1236.7L2005.6 1205.2ZM1472.3 1236.7L1479 1221L1485.7 1236.7L1485.7 1268.2L1485.7 1299.7L1479 1308.4L1473.7 1299.7L1472.3 1268.2L1472.3 1236.7ZM1794.6 1236.7L1800 1228L1809.9 1236.7L1809.9 1268.2L1808.4 1299.7L1800 1306.5L1794.6 1299.7L1794.6 1268.2L1794.6 1236.7ZM1687.7 1331.2L1693 1322.4L1698.3 1331.2L1693 1339.9L1687.7 1331.2ZM2271.6 1394.1L2281.5 1389.2L2289.9 1394.1L2288.2 1425.6L2286.8 1457.1L2286.8 1488.6L2288.2 1520L2289.9 1551.5L2281.5 1567.3L2273.1 1551.5L2274.8 1520L2276.1 1488.6L2274.8 1457.1L2273.1 1425.6L2271.6 1394.1Z"/>
<path fill="#e40000" fill-rule="evenodd" d="M195 1205.2L195 1189.5L248.5 1189.5L302 1189.5L328.8 1205.2L355.5 1221L382.2 1236.7L382.2 1268.2L409 1283.9L415.4 1299.7L415.4 1331.2L430.1 1362.6L449.1 1394.1L462.5 1409.9L516 1409.9L569.5 1409.9L596.2 1394.1L596.2 1362.6L623 1346.9L636.4 1331.2L636.4 1299.7L636.4 1268.2L636.4 1236.7L663.1 1205.2L676.5 1189.5L682.9 1205.2L689.9 1236.7L688 1268.2L688 1299.7L688 1331.2L688 1362.6L688 1394.1L688 1425.6L689.9 1457.1L682.9 1488.6L684.6 1520L676.5 1535.8L649.8 1520L623 1504.3L596.2 1520L569.5 1527.9L529.4 1551.5L516 1567.3L462.5 1567.3L435.8 1583L409 1583L382.2 1583L355.5 1567.3L302 1567.3L248.5 1567.3L195 1567.3L195 1551.5L195 1520L195 1488.6L195 1457.1L195 1425.6L195 1394.1L195 1362.6L195 1331.2L195 1299.7L195 1268.2L195 1236.7L195 1205.2ZM1365.6 1331.2L1372 1315.4L1376.5 1331.2L1376.5 1362.6L1372 1378.4L1364.8 1362.6L1365.6 1331.2ZM1900.6 1331.2L1907 1315.4L1914.2 1331.2L1916.6 1362.6L1933.8 1394.1L1933.8 1425.6L1960.5 1441.3L1987.2 1425.6L2014 1409.9L2067.5 1409.9L2094.2 1425.6L2094.2 1457.1L2067.5 1472.8L2040.8 1488.6L2014 1504.3L1987.2 1520L1960.5 1535.8L1954.1 1520L1933.8 1488.6L1907 1472.8L1902.5 1457.1L1901.6 1425.6L1900.6 1394.1L1900.6 1362.6L1900.6 1331.2ZM2040.8 1331.2L2067.5 1315.4L2073.9 1331.2L2073.9 1362.6L2067.5 1378.4L2040.8 1362.6L2040.8 1331.2ZM1366.6 1488.6L1372 1472.8L1377.3 1488.6L1378.4 1520L1372 1527.9L1366.6 1520L1366.6 1488.6Z"/>
<path fill="#c20000" fill-rule="evenodd" d="M663.1 1236.7L676.5 1221L681 1236.7L680.3 1268.2L680.3 1299.7L680.3 1331.2L680.3 1362.6L680.3 1394.1L680.3 1425.6L681 1457.1L676.5 1472.8L649.8 1457.1L649.8 1425.6L649.8 1394.1L649.8 1362.6L663.1 1331.2L663.1 1299.7L663.1 1268.2L663.1 1236.7ZM221.8 1331.2L248.5 1315.4L302 1315.4L355.5 1315.4L382.2 1331.2L409 1346.9L416 1362.6L422.4 1394.1L435.8 1425.6L435.8 1457.1L462.5 1472.8L516 1472.8L542.8 1488.6L516 1504.3L489.2 1520L462.5 1535.8L409 1535.8L355.5 1535.8L302 1535.8L248.5 1535.8L195 1535.8L195 1520L195 1488.6L195 1457.1L195 1425.6L195 1394.1L195 1362.6L195 1346.9L221.8 1331.2Z"/>
<path fill="#a00000" fill-rule="evenodd" d="M195 1425.6L195 1409.9L248.5 1409.9L302 1409.9L328.8 1425.6L328.8 1457.1L302 1472.8L275.2 1488.6L248.5 1504.3L195 1504.3L195 1488.6L195 1457.1L195 1425.6Z"/>
<path fill="none" stroke="#3a0000" stroke-opacity="0.75" stroke-width="1.4" d="M1158 1341.7L1122.3 1362.6L1104.5 1373.1L1068.8 1394.1L1051 1404.6L1029.6 1425.6L1015.3 1457.1L1015.3 1488.6L1051 1509.5L1068.8 1520L1104.5 1541L1158 1541L1211.5 1541L1247.2 1520L1265 1509.5L1286.4 1488.6L1286.4 1457.1L1281.2 1425.6L1265 1404.6L1247.2 1394.1L1232.9 1362.6L1211.5 1350L1158 1341.7M1586 1341.7L1550.3 1362.6L1550.3 1394.1L1550.3 1425.6L1550.3 1457.1L1550.3 1488.6L1586 1509.5L1639.5 1509.5L1660.9 1488.6L1639.5 1467.6L1621.7 1457.1L1621.7 1425.6L1621.7 1394.1L1621.7 1362.6L1586 1341.7M837 1373.1L815.6 1394.1L801.3 1425.6L801.3 1457.1L801.3 1488.6L837 1509.5L872.7 1488.6L872.7 1457.1L858.4 1425.6L853.2 1394.1L837 1373.1M1479 1476L1457.6 1488.6L1479 1509.5L1514.7 1488.6L1479 1476M1853.5 1467.6L1817.8 1488.6L1853.5 1509.5L1861.7 1488.6L1853.5 1467.6M1051 1221L1036.1 1236.7L1036.1 1268.2L1036.1 1299.7L1036.1 1331.2L1036.1 1362.6L1024.2 1394.1L1008.2 1425.6L997.5 1441.3L944 1441.3L890.5 1441.3L879.8 1425.6L869.4 1394.1L851.9 1362.6L837 1346.9L822.1 1362.6L794.2 1394.1L783.5 1409.9L756.8 1394.1L744.9 1362.6L744.9 1331.2L741.6 1299.7L739.9 1268.2L730 1252.5L726.2 1268.2L726.2 1299.7L726.2 1331.2L726.2 1362.6L726.2 1394.1L726.2 1425.6L730 1441.3L756.8 1457.1L768.6 1488.6L773.6 1520L783.5 1535.8L810.2 1551.5L837 1567.3L890.5 1567.3L917.2 1551.5L944 1535.8L997.5 1535.8L1024.2 1551.5L1051 1567.3L1104.5 1567.3L1158 1567.3L1211.5 1567.3L1238.2 1551.5L1265 1535.8L1291.8 1520L1307.8 1488.6L1307.8 1457.1L1297.4 1425.6L1276.6 1394.1L1265 1378.4L1254.3 1362.6L1211.5 1337.5L1184.8 1331.2L1184.8 1299.7L1184.8 1268.2L1172.9 1236.7L1158 1221L1131.2 1236.7L1131.2 1268.2L1131.2 1299.7L1104.5 1315.4L1077.8 1299.7L1077.8 1268.2L1077.8 1236.7L1051 1221M1746.5 1221L1731.6 1236.7L1734.9 1268.2L1738.1 1299.7L1741.2 1331.2L1738.1 1362.6L1734.9 1394.1L1731.6 1425.6L1719.8 1457.1L1719.8 1488.6L1746.5 1504.3L1773.2 1520L1800 1535.8L1853.5 1535.8L1868.4 1520L1870 1488.6L1858 1457.1L1853.5 1441.3L1800 1441.3L1773.2 1425.6L1761.4 1394.1L1758.1 1362.6L1756.4 1331.2L1751.9 1299.7L1751.9 1268.2L1751.9 1236.7L1746.5 1221M1586 1252.5L1559.2 1268.2L1559.2 1299.7L1532.5 1315.4L1524.1 1331.2L1520.9 1362.6L1517.6 1394.1L1505.8 1425.6L1505.8 1457.1L1479 1463.4L1452.2 1457.1L1452.2 1425.6L1440.4 1394.1L1437.1 1362.6L1433.9 1331.2L1430.9 1299.7L1425.5 1283.9L1420.2 1299.7L1421 1331.2L1421 1362.6L1420.2 1394.1L1420.2 1425.6L1420.2 1457.1L1425.5 1472.8L1436.2 1488.6L1464.1 1520L1479 1535.8L1532.5 1535.8L1586 1535.8L1639.5 1535.8L1666.2 1520L1682.3 1488.6L1666.2 1457.1L1654.4 1425.6L1651.1 1394.1L1647.9 1362.6L1644.8 1331.2L1639.5 1315.4L1612.8 1299.7L1612.8 1268.2L1586 1252.5M2335 1441.3L2329.7 1457.1L2329.7 1488.6L2335 1504.3M2228 1472.8L2201.2 1488.6L2228 1504.3L2233.3 1488.6L2228 1472.8M1318.5 1185.6L1311.8 1205.2L1311.8 1236.7L1311.8 1268.2L1311.8 1299.7L1318.5 1319.4L1325.2 1299.7L1325.2 1268.2L1325.2 1236.7L1325.2 1205.2L1318.5 1185.6M1586 1185.6L1552.6 1205.2L1532.5 1217L1525.8 1236.7L1525.8 1268.2L1525.8 1299.7L1507.4 1331.2L1497.6 1362.6L1487.9 1394.1L1479 1405.9L1470.1 1394.1L1460.4 1362.6L1450.6 1331.2L1441.5 1299.7L1432.2 1268.2L1432.2 1236.7L1425.5 1217L1418.8 1236.7L1418.8 1268.2L1409.4 1299.7L1412.1 1331.2L1412.1 1362.6L1409.4 1394.1L1409.4 1425.6L1409.4 1457.1L1420.2 1488.6L1425.5 1508.2L1434.4 1520L1463.3 1551.5L1479 1571.2L1532.5 1571.2L1586 1571.2L1639.5 1571.2L1672.9 1551.5L1693 1539.7L1746.5 1539.7L1766.6 1551.5L1800 1571.2L1853.5 1571.2L1886.9 1551.5L1898.1 1520L1878.2 1488.6L1866.9 1457.1L1858.9 1425.6L1853.5 1405.9L1800 1405.9L1791.1 1394.1L1781.4 1362.6L1776.2 1331.2L1762.5 1299.7L1762.5 1268.2L1762.5 1236.7L1758.7 1205.2L1746.5 1185.6L1713.1 1205.2L1701.9 1236.7L1711.6 1268.2L1721.4 1299.7L1730.4 1331.2L1721.4 1362.6L1711.6 1394.1L1701.9 1425.6L1693 1437.4L1684.1 1425.6L1674.4 1394.1L1664.6 1362.6L1655.5 1331.2L1651.7 1299.7L1660.1 1268.2L1639.5 1248.5L1619.4 1236.7L1619.4 1205.2L1586 1185.6M462.5 1248.5L455.8 1268.2L462.5 1287.9L471.4 1268.2L462.5 1248.5M2174.5 1311.5L2141.1 1331.2L2141.1 1362.6L2174.5 1382.3L2207.9 1362.6L2195.1 1331.2L2174.5 1311.5M2335 1405.9L2328.3 1425.6L2318.9 1457.1L2318.9 1488.6L2328.3 1520L2335 1539.7M2228 1437.4L2194.6 1457.1L2174.5 1468.9L2167.8 1488.6L2167.8 1520L2174.5 1539.7L2228 1539.7L2234.7 1520L2244 1488.6L2234.7 1457.1L2228 1437.4M923.9 1583L944 1571.2L997.5 1571.2L1017.6 1583M1244.9 1583L1265 1571.2L1298.4 1551.5L1318.5 1539.7L1323.9 1520L1323.9 1488.6L1325.2 1457.1L1318.5 1437.4L1313.6 1425.6L1299.9 1394.1L1285.6 1362.6L1265 1355.5L1223.7 1331.2L1218.2 1299.7L1218.2 1268.2L1211.5 1248.5L1202.6 1236.7L1191.4 1205.2L1158 1185.6L1124.6 1205.2L1104.5 1217L1084.4 1205.2L1051 1185.6L1017.6 1205.2L1006.4 1236.7L1006.4 1268.2L1006.4 1299.7L1006.4 1331.2L1006.4 1362.6L997.5 1374.4L944 1374.4L910.6 1394.1L890.5 1405.9L885.6 1394.1L881.6 1362.6L870.4 1331.2L837 1311.5L803.6 1331.2L792.4 1362.6L783.5 1374.4L774.6 1362.6L774.6 1331.2L764.9 1299.7L759.7 1268.2L745.7 1236.7L730 1217L725.5 1236.7L718.5 1268.2L718.5 1299.7L718.5 1331.2L718.5 1362.6L718.5 1394.1L718.5 1425.6L725.5 1457.1L730 1476.8L738.9 1488.6L753.8 1520L767.8 1551.5L783.5 1571.2L803.6 1583M1960.5 1186.4L1942.7 1205.2L1949 1236.7L1953.2 1268.2L1955.5 1299.7L1960.5 1318.6L1965.5 1299.7L1965.5 1268.2L1965.5 1236.7L1965.5 1205.2L1960.5 1186.4M462.5 1217.8L457.5 1236.7L447.8 1268.2L458.7 1299.7L458.7 1331.2L462.5 1337.9L467.5 1331.2L469.8 1299.7L482.1 1268.2L469.8 1236.7L462.5 1217.8M1684.8 1268.2L1693 1255.6L1697.7 1268.2L1711.4 1299.7L1724 1331.2L1711.4 1362.6L1697.7 1394.1L1693 1406.7L1688.3 1394.1L1674.6 1362.6L1662 1331.2L1666.2 1299.7L1684.8 1268.2M2335 1343.8L2313.6 1331.2L2293 1299.7L2286.5 1268.2L2286.5 1236.7L2286.5 1205.2L2281.5 1186.4L2270 1205.2L2270 1236.7L2263.7 1268.2L2249.4 1299.7L2249.4 1331.2L2228 1343.8L2219.8 1331.2L2206.6 1299.7L2192.3 1268.2L2186 1236.7L2174.5 1217.8L2153.1 1205.2L2121 1186.4L2116 1205.2L2116 1236.7L2116 1268.2L2116 1299.7L2117.2 1331.2L2117.2 1362.6L2121 1369.4L2163 1394.1L2174.5 1413L2195.9 1425.6L2174.5 1438.2L2169.5 1457.1L2159.8 1488.6L2159.8 1520L2169.5 1551.5L2174.5 1562L2228 1562L2233 1551.5L2242.7 1520L2250.5 1488.6L2242.7 1457.1L2233 1425.6L2228 1406.7L2206.6 1394.1L2228 1381.5L2281.5 1365.6L2330 1394.1L2320.3 1425.6L2312.5 1457.1L2312.5 1488.6L2320.3 1520L2330 1551.5L2335 1562M1330 1583L1325.8 1551.5L1330.3 1520L1330.3 1488.6L1333.2 1457.1L1323.5 1425.6L1318.5 1406.7L1313.8 1394.1L1310.3 1362.6L1318.5 1350L1322.3 1331.2L1333.2 1299.7L1333.2 1268.2L1333.2 1236.7L1333.2 1205.2L1325.8 1173.8L1318.5 1154.9L1311.2 1173.8L1303.8 1205.2L1303.8 1236.7L1303.8 1268.2L1303.8 1299.7L1307 1331.2L1265 1346.9L1238.2 1331.2L1226.2 1299.7L1226.2 1268.2L1216.5 1236.7L1216.5 1205.2L1211.5 1186.4L1190.1 1173.8L1175.8 1142.3L1190.1 1110.8L1158 1091.9L1125.9 1110.8L1125.9 1142.3L1104.5 1154.9L1083.1 1142.3L1051 1123.4L1018.9 1142.3L1018.9 1173.8L997.5 1186.4L992.5 1205.2L992.5 1236.7L992.5 1268.2L992.5 1299.7L979.7 1331.2L944 1352.1L908.3 1331.2L895.5 1299.7L890.5 1289.2L837 1280.8L804.9 1299.7L783.5 1312.3L778.8 1299.7L771.6 1268.2L764.6 1236.7L747.8 1205.2L730 1186.4L726.2 1205.2L720.2 1236.7L713.9 1268.2L713.9 1299.7L713.9 1331.2L713.9 1362.6L713.9 1394.1L713.9 1425.6L720.2 1457.1L726.2 1488.6L730 1499.1L741.9 1520L748.9 1551.5L772 1583M1671.6 1583L1693 1570.4L1714.4 1583M1885.6 1583L1907 1570.4L1912 1551.5L1910.8 1520L1907 1517.1L1883.1 1488.6L1872.2 1457.1L1865.3 1425.6L1857.3 1394.1L1857.3 1362.6L1857.3 1331.2L1858.5 1299.7L1853.5 1280.8L1848.5 1299.7L1835.7 1331.2L1821.4 1362.6L1800 1375.2L1795.3 1362.6L1788.1 1331.2L1769 1299.7L1769 1268.2L1769 1236.7L1773.2 1205.2L1764.3 1173.8L1764.3 1142.3L1764.3 1110.8L1746.5 1091.9L1714.4 1110.8L1714.4 1142.3L1693 1154.9L1639.5 1154.9L1618.1 1142.3L1586 1123.4L1553.9 1142.3L1553.9 1173.8L1532.5 1186.4L1525.2 1205.2L1517.8 1236.7L1517.8 1268.2L1517.8 1299.7L1497.4 1331.2L1483.7 1362.6L1479 1375.2L1474.3 1362.6L1460.6 1331.2L1448 1299.7L1440.2 1268.2L1440.2 1236.7L1432.8 1205.2L1425.5 1186.4L1420.5 1205.2L1410.8 1236.7L1410.8 1268.2L1403 1299.7L1406.8 1331.2L1406.8 1362.6L1403 1394.1L1403 1425.6L1403 1457.1L1413.7 1488.6L1421.7 1520L1425.5 1530.5L1444.4 1551.5L1467.5 1583M1238.2 1110.8L1265 1095.1L1291.8 1110.8L1306.6 1142.3L1301.5 1173.8L1298.4 1205.2L1298.4 1236.7L1298.4 1268.2L1298.4 1299.7L1291.8 1331.2L1265 1341.2L1248 1331.2L1231.6 1299.7L1231.6 1268.2L1223.2 1236.7L1223.2 1205.2L1217.8 1173.8L1211.5 1158L1199.6 1142.3L1211.5 1126.5L1238.2 1110.8M1907 1095.1L1880.2 1110.8L1880.2 1142.3L1880.2 1173.8L1907 1189.5L1918.9 1205.2L1933.8 1236.7L1943.5 1268.2L1948.8 1299.7L1957.6 1331.2L1960.5 1338.2L1964.5 1331.2L1972.2 1299.7L1972.2 1268.2L1972.2 1236.7L1972.2 1205.2L1966.8 1173.8L1972.4 1142.3L1960.5 1126.5L1933.8 1110.8L1907 1095.1M462.5 1189.5L458.5 1205.2L450.8 1236.7L442.4 1268.2L453.6 1299.7L453.6 1331.2L462.5 1346.9L474.2 1331.2L479.5 1299.7L489.2 1268.2L479.5 1236.7L468.8 1205.2L462.5 1189.5M1676 1299.7L1693 1275.2L1704.7 1299.7L1719.8 1331.2L1704.7 1362.6L1693 1387.1L1681.3 1362.6L1666.2 1331.2L1676 1299.7M2335 1324.2L2308.2 1299.7L2293.2 1268.2L2293.2 1236.7L2293.2 1205.2L2285.5 1173.8L2281.5 1158L2269.6 1173.8L2254.8 1205.2L2254.8 1236.7L2239.9 1268.2L2228 1283.9L2216.1 1268.2L2201.2 1236.7L2186.4 1205.2L2186.4 1173.8L2174.5 1158L2121 1158L2114.7 1173.8L2109.3 1205.2L2109.3 1236.7L2109.3 1268.2L2109.3 1299.7L2112.1 1331.2L2112.1 1362.6L2121 1378.4L2147.8 1394.1L2170.5 1425.6L2162.8 1457.1L2154.4 1488.6L2154.4 1520L2162.8 1551.5L2174.5 1576L2228 1576L2239.7 1551.5L2248.1 1520L2254.8 1488.6L2248.1 1457.1L2239.7 1425.6L2232 1394.1L2281.5 1369.5L2323.3 1394.1L2314.9 1425.6L2308.2 1457.1L2308.2 1488.6L2314.9 1520L2323.3 1551.5L2335 1576M1345.2 1583L1335.5 1551.5L1334.5 1520L1334.5 1488.6L1338.6 1457.1L1330.2 1425.6L1322.5 1394.1L1321.4 1362.6L1327.4 1331.2L1338.6 1299.7L1338.6 1268.2L1338.6 1236.7L1338.6 1205.2L1335.5 1173.8L1330.4 1142.3L1330.4 1110.8L1318.5 1095.1L1291.8 1079.3L1265 1063.6L1211.5 1063.6L1158 1063.6L1104.5 1063.6L1051 1063.6L1024.2 1079.3L997.5 1095.1L970.8 1079.3L944 1063.6L932.1 1079.3L937.7 1110.8L944 1117.8L985.6 1142.3L993.5 1173.8L985.8 1205.2L985.8 1236.7L985.8 1268.2L985.8 1299.7L955.9 1331.2L944 1338.2L932.1 1331.2L902.2 1299.7L890.5 1275.2L863.8 1268.2L837 1264.5L810.2 1268.2L783.5 1283.9L779.5 1268.2L777.2 1236.7L771.6 1205.2L756.8 1173.8L730 1158L726 1173.8L721.1 1205.2L716.6 1236.7L710.9 1268.2L710.9 1299.7L710.9 1331.2L710.9 1362.6L710.9 1394.1L710.9 1425.6L716.6 1457.1L721.1 1488.6L730 1513L734 1520L736.3 1551.5L756.8 1583M1913.3 1583L1918.7 1551.5L1915.9 1520L1907 1513.2L1886.4 1488.6L1875.8 1457.1L1869.5 1425.6L1862.4 1394.1L1862.4 1362.6L1862.4 1331.2L1865.2 1299.7L1859.8 1268.2L1865.4 1236.7L1853.5 1221L1849.5 1236.7L1849.5 1268.2L1841.8 1299.7L1811.9 1331.2L1800 1346.9L1796 1331.2L1773.2 1299.7L1773.2 1268.2L1773.2 1236.7L1783 1205.2L1788.1 1173.8L1788.1 1142.3L1788.1 1110.8L1773.2 1079.3L1773.2 1047.8L1746.5 1032.1L1719.8 1047.8L1719.8 1079.3L1693 1095.1L1666.2 1079.3L1639.5 1063.6L1612.8 1047.8L1586 1032.1L1559.2 1047.8L1532.5 1063.6L1505.8 1079.3L1505.8 1110.8L1505.8 1142.3L1520.6 1173.8L1515.5 1205.2L1512.4 1236.7L1512.4 1268.2L1512.4 1299.7L1490.7 1331.2L1479 1355.6L1467.3 1331.2L1452.2 1299.7L1445.6 1268.2L1445.6 1236.7L1442.5 1205.2L1437.4 1173.8L1452.2 1142.3L1425.5 1126.5L1413.6 1142.3L1419.2 1173.8L1413.8 1205.2L1405.4 1236.7L1405.4 1268.2L1398.8 1299.7L1403.2 1331.2L1403.2 1362.6L1398.8 1394.1L1398.8 1425.6L1398.8 1457.1L1409.4 1488.6L1416.6 1520L1425.5 1544.5L1431.8 1551.5L1452.2 1583M387.6 953.4L409 966L441.1 984.9L462.5 997.5L494.6 1016.4L516 1029L537.4 1016.4L537.4 984.9L537.4 953.4M601.6 953.4L601.6 984.9L601.6 1016.4L601.6 1047.8L623 1060.4L631.2 1047.8L644.4 1016.4L644.4 984.9L644.4 953.4M708.6 953.4L708.6 984.9L708.6 1016.4L721.8 1047.8L721.8 1079.3L725.3 1110.8L725.3 1142.3L718.1 1173.8L716 1205.2L713.1 1236.7L707.8 1268.2L707.8 1299.7L707.8 1331.2L707.8 1362.6L707.8 1394.1L707.8 1425.6L713.1 1457.1L716 1488.6L726.8 1520L725.3 1551.5L730 1564.1L741.5 1583M1404.1 953.4L1404.1 984.9L1404.1 1016.4L1404.1 1047.8L1404.1 1079.3L1404.1 1110.8L1389.8 1142.3L1406.6 1173.8L1407.1 1205.2L1400.1 1236.7L1400.1 1268.2L1394.5 1299.7L1399.6 1331.2L1399.6 1362.6L1394.5 1394.1L1394.5 1425.6L1394.5 1457.1L1405.2 1488.6L1411.5 1520L1417.3 1551.5L1425.5 1564.1L1437 1583M1725.1 953.4L1725.1 984.9L1725.1 1016.4L1693 1035.2L1660.9 1016.4L1660.9 984.9L1639.5 972.3L1607.4 953.4M1885.6 953.4L1885.6 984.9L1853.5 1003.8L1800 1003.8L1767.9 984.9L1767.9 953.4M804.9 1047.8L837 1029L869.1 1047.8L890.5 1060.4L908.3 1079.3L925.1 1110.8L944 1131.8L961.8 1142.3L985.6 1173.8L979.1 1205.2L979.1 1236.7L979.1 1268.2L979.1 1299.7L944 1328.4L908.9 1299.7L895.2 1268.2L890.5 1255.6L837 1257.1L791.7 1236.7L788.2 1205.2L788.2 1173.8L791.7 1142.3L804.9 1110.8L804.9 1079.3L804.9 1047.8M462.5 1129.7L454.3 1142.3L454.3 1173.8L450.6 1205.2L444.1 1236.7L437.1 1268.2L448.5 1299.7L448.5 1331.2L462.5 1355.9L480.9 1331.2L489.2 1299.7L496.4 1268.2L489.2 1236.7L481.4 1205.2L470.7 1173.8L483.9 1142.3L462.5 1129.7M1232.9 1142.3L1265 1123.4L1282.8 1142.3L1291.8 1173.8L1293.1 1205.2L1293.1 1236.7L1293.1 1268.2L1293.1 1299.7L1276.5 1331.2L1265 1335.5L1257.7 1331.2L1236.9 1299.7L1236.9 1268.2L1229.9 1236.7L1229.9 1205.2L1230.4 1173.8L1232.9 1142.3M2195.9 1142.3L2228 1123.4L2260.1 1142.3L2245.8 1173.8L2239.5 1205.2L2239.5 1236.7L2228 1255.6L2216.5 1236.7L2210.2 1205.2L2210.2 1173.8L2195.9 1142.3M1461.2 1173.8L1479 1154.9L1496.8 1173.8L1505.8 1205.2L1507.1 1236.7L1507.1 1268.2L1507.1 1299.7L1484 1331.2L1479 1341.7L1474 1331.2L1456.5 1299.7L1450.9 1268.2L1450.9 1236.7L1452.2 1205.2L1461.2 1173.8M1792.7 1205.2L1800 1186.4L1832.1 1205.2L1841.6 1236.7L1841.6 1268.2L1835.1 1299.7L1800 1328.4L1777.5 1299.7L1777.5 1268.2L1777.5 1236.7L1792.7 1205.2M1685.7 1299.7L1693 1289.2L1698 1299.7L1715.5 1331.2L1698 1362.6L1693 1373.1L1688 1362.6L1670.5 1331.2L1685.7 1299.7M2335 1310.2L2323.5 1299.7L2299.9 1268.2L2299.9 1236.7L2299.9 1205.2L2293.4 1173.8L2302.9 1142.3L2302.9 1110.8L2302.9 1079.3L2302.9 1047.8L2281.5 1035.2L2260.1 1047.8L2260.1 1079.3L2228 1098.2L2195.9 1079.3L2195.9 1047.8L2174.5 1035.2L2121 1035.2L2112.8 1047.8L2112.8 1079.3L2112.8 1110.8L2112.8 1142.3L2102.1 1173.8L2102.6 1205.2L2102.6 1236.7L2102.6 1268.2L2102.6 1299.7L2107 1331.2L2107 1362.6L2121 1387.4L2132.5 1394.1L2162.6 1425.6L2156.1 1457.1L2149.1 1488.6L2149.1 1520L2156.1 1551.5L2153.1 1583M1360.5 1583L1345.2 1551.5L1338.8 1520L1338.8 1488.6L1343.9 1457.1L1336.9 1425.6L1330.4 1394.1L1327.2 1362.6L1332.5 1331.2L1343.9 1299.7L1343.9 1268.2L1343.9 1236.7L1343.9 1205.2L1345.2 1173.8L1354.2 1142.3L1354.2 1110.8L1339.9 1079.3L1339.9 1047.8L1339.9 1016.4L1318.5 1003.8L1286.4 984.9L1286.4 953.4M1925.9 1583L1925.4 1551.5L1921 1520L1907 1509.2L1889.7 1488.6L1879.4 1457.1L1873.8 1425.6L1867.5 1394.1L1867.5 1362.6L1867.5 1331.2L1871.9 1299.7L1872.4 1268.2L1889.2 1236.7L1907 1217.8L1918.5 1236.7L1933.8 1268.2L1942.1 1299.7L1951.8 1331.2L1960.5 1352.1L1972.4 1331.2L1978.9 1299.7L1978.9 1268.2L1978.9 1236.7L1978.9 1205.2L1979.4 1173.8L1996.2 1142.3L1981.9 1110.8L1981.9 1079.3L1981.9 1047.8L1981.9 1016.4L1960.5 1003.8L1928.4 984.9L1928.4 953.4M2236.2 1583L2246.4 1551.5L2253.4 1520L2259 1488.6L2253.4 1457.1L2246.4 1425.6L2239.9 1394.1L2281.5 1373.5L2316.6 1394.1L2309.6 1425.6L2304 1457.1L2304 1488.6L2309.6 1520L2316.6 1551.5L2326.8 1583M195 996.7L248.5 996.7L281.9 1016.4L302 1028.2L335.4 1047.8L355.5 1059.6L388.9 1079.3L409 1091.1L442.4 1110.8L429.6 1142.3L429.6 1173.8L438.7 1205.2L434.1 1236.7L429.1 1268.2L440.8 1299.7L440.8 1331.2L458.3 1362.6L462.5 1367.9L471.4 1362.6L490.9 1331.2L503.8 1299.7L507.1 1268.2L503.8 1236.7L500.3 1205.2L495.4 1173.8L516 1154.1L536.1 1142.3L536.1 1110.8L569.5 1091.1L602.9 1110.8L602.9 1142.3L602.9 1173.8L623 1185.6L631.9 1173.8L631.9 1142.3L631.9 1110.8L643.1 1079.3L655.9 1047.8L676.5 1028.2L697.1 1047.8L697.1 1079.3L711.4 1110.8L711.4 1142.3L706.2 1173.8L708.3 1205.2L707.7 1236.7L703.2 1268.2L703.2 1299.7L703.2 1331.2L703.2 1362.6L703.2 1394.1L703.2 1425.6L707.7 1457.1L708.3 1488.6L717 1520L711.4 1551.5L676.5 1577.8L623 1577.8L569.5 1571.2L560.6 1583M857.1 1110.8L890.5 1091.1L906.2 1110.8L935.1 1142.3L944 1147.5L973.7 1173.8L969.1 1205.2L969.1 1236.7L969.1 1268.2L969.1 1299.7L944 1320.2L918.9 1299.7L909.1 1268.2L899.4 1236.7L890.5 1231.5L870.4 1236.7L837 1246L816.4 1236.7L802.1 1205.2L802.1 1173.8L816.4 1142.3L837 1122.6L857.1 1110.8M1249.3 1173.8L1265 1154.1L1277.2 1173.8L1285.1 1205.2L1285.1 1236.7L1285.1 1268.2L1285.1 1299.7L1265 1325.9L1244.9 1299.7L1244.9 1268.2L1239.9 1236.7L1239.9 1205.2L1249.3 1173.8M1359.8 1173.8L1372 1154.1L1387.7 1173.8L1397.1 1205.2L1392.1 1236.7L1392.1 1268.2L1388.1 1299.7L1394.3 1331.2L1394.3 1362.6L1388.1 1394.1L1388.1 1425.6L1388.1 1457.1L1398.8 1488.6L1403.8 1520L1392.6 1551.5L1372 1571.2L1359.8 1551.5L1345.2 1520L1345.2 1488.6L1351.9 1457.1L1346.9 1425.6L1342.3 1394.1L1335.9 1362.6L1340.2 1331.2L1351.9 1299.7L1351.9 1268.2L1351.9 1236.7L1351.9 1205.2L1359.8 1173.8M1466.8 1205.2L1479 1185.6L1491.2 1205.2L1499.1 1236.7L1499.1 1268.2L1499.1 1299.7L1479 1325.9L1463 1299.7L1458.9 1268.2L1458.9 1236.7L1466.8 1205.2M1784 1236.7L1800 1210.5L1829.7 1236.7L1829.7 1268.2L1825.1 1299.7L1800 1320.2L1784 1299.7L1784 1268.2L1784 1236.7M2335 1294.4L2309.9 1268.2L2309.9 1236.7L2309.9 1205.2L2305.3 1173.8L2335 1147.5M1677 1331.2L1693 1304.9L1709 1331.2L1693 1357.4L1677 1331.2M1944.8 1583L1935.4 1551.5L1928.7 1520L1907 1503.3L1894.7 1488.6L1884.7 1457.1L1880.2 1425.6L1875.2 1394.1L1875.2 1362.6L1875.2 1331.2L1881.9 1299.7L1891.3 1268.2L1907 1248.5L1919.2 1268.2L1932.1 1299.7L1943.1 1331.2L1954.8 1362.6L1960.5 1367.9L1969.4 1362.6L1984.3 1331.2L1988.9 1299.7L1988.9 1268.2L1988.9 1236.7L1988.9 1205.2L1998.3 1173.8L2014 1154.1L2034.1 1142.3L2034.1 1110.8L2034.1 1079.3L2034.1 1047.8L2067.5 1028.2L2088.1 1047.8L2088.1 1079.3L2088.1 1110.8L2088.1 1142.3L2083.2 1173.8L2092.6 1205.2L2092.6 1236.7L2092.6 1268.2L2092.6 1299.7L2099.3 1331.2L2099.3 1362.6L2112.1 1394.1L2121 1399.4L2150.7 1425.6L2146.1 1457.1L2141.1 1488.6L2141.1 1520L2146.1 1551.5L2121 1577.8L2100.9 1583M2260.9 1583L2256.4 1551.5L2261.4 1520L2265.4 1488.6L2261.4 1457.1L2256.4 1425.6L2251.8 1394.1L2281.5 1379.4L2306.6 1394.1L2301.6 1425.6L2297.6 1457.1L2297.6 1488.6L2301.6 1520L2306.6 1551.5L2302.1 1583M195 1063.6L248.5 1063.6L302 1063.6L328.8 1079.3L328.8 1110.8L355.5 1126.5L382.2 1142.3L382.2 1173.8L409 1189.5L418.9 1205.2L417.4 1236.7L415.7 1268.2L428.1 1299.7L428.1 1331.2L444.2 1362.6L462.5 1385.4L501.1 1362.6L507.6 1331.2L516 1315.4L569.5 1315.4L596.2 1299.7L596.2 1268.2L596.2 1236.7L623 1221L636.4 1205.2L661.6 1173.8L661.6 1142.3L661.6 1110.8L676.5 1095.1L688.1 1110.8L688.1 1142.3L686.4 1173.8L695.6 1205.2L698.8 1236.7L695.6 1268.2L695.6 1299.7L695.6 1331.2L695.6 1362.6L695.6 1394.1L695.6 1425.6L698.8 1457.1L695.6 1488.6L700.8 1520L688.1 1551.5L676.5 1560.3L623 1560.3L596.2 1551.5L569.5 1543.6L556.1 1551.5L530.9 1583M863.8 1142.3L890.5 1126.5L905.4 1142.3L944 1165L953.9 1173.8L952.4 1205.2L952.4 1236.7L952.4 1268.2L952.4 1299.7L944 1306.5L935.6 1299.7L932.4 1268.2L929.1 1236.7L890.5 1214L837 1221L825.4 1205.2L825.4 1173.8L837 1158L863.8 1142.3M1256.6 1205.2L1265 1189.5L1271.7 1205.2L1271.7 1236.7L1271.7 1268.2L1271.7 1299.7L1265 1308.4L1258.3 1299.7L1258.3 1268.2L1256.6 1236.7L1256.6 1205.2M1365.3 1205.2L1372 1189.5L1380.4 1205.2L1378.7 1236.7L1378.7 1268.2L1377.3 1299.7L1385.4 1331.2L1385.4 1362.6L1377.3 1394.1L1377.3 1425.6L1377.3 1457.1L1388.1 1488.6L1391.1 1520L1372 1543.6L1356 1520L1356 1488.6L1365.3 1457.1L1363.6 1425.6L1362.1 1394.1L1350.3 1362.6L1352.9 1331.2L1365.3 1299.7L1365.3 1268.2L1365.3 1236.7L1365.3 1205.2M1472.3 1236.7L1479 1221L1485.7 1236.7L1485.7 1268.2L1485.7 1299.7L1479 1308.4L1473.7 1299.7L1472.3 1268.2L1472.3 1236.7M1794.6 1236.7L1800 1228L1809.9 1236.7L1809.9 1268.2L1808.4 1299.7L1800 1306.5L1794.6 1299.7L1794.6 1268.2L1794.6 1236.7M2335 1276.9L2326.6 1268.2L2326.6 1236.7L2326.6 1205.2L2325.1 1173.8L2335 1165M1687.7 1331.2L1693 1322.4L1698.3 1331.2L1693 1339.9L1687.7 1331.2M2271.6 1394.1L2281.5 1389.2L2289.9 1394.1L2288.2 1425.6L2286.8 1457.1L2286.8 1488.6L2288.2 1520L2289.9 1551.5L2281.5 1567.3L2273.1 1551.5L2274.8 1520L2276.1 1488.6L2274.8 1457.1L2273.1 1425.6L2271.6 1394.1M1987.2 1583L1960.5 1567.3L1952.1 1551.5L1941.4 1520L1907 1493.5L1902.9 1488.6L1893.6 1457.1L1890.9 1425.6L1887.9 1394.1L1887.9 1362.6L1887.9 1331.2L1898.6 1299.7L1907 1283.9L1915.4 1299.7L1928.7 1331.2L1935.7 1362.6L1960.5 1385.4L1999.1 1362.6L2004.1 1331.2L2005.6 1299.7L2005.6 1268.2L2005.6 1236.7L2005.6 1205.2L2014 1189.5L2067.5 1189.5L2075.9 1205.2L2075.9 1236.7L2075.9 1268.2L2075.9 1299.7L2086.6 1331.2L2086.6 1362.6L2082.4 1394.1L2121 1416.9L2130.9 1425.6L2129.4 1457.1L2127.7 1488.6L2127.7 1520L2129.4 1551.5L2121 1560.3L2067.5 1567.3L2040.8 1583M195 1189.5L248.5 1189.5L302 1189.5L328.8 1205.2L355.5 1221L382.2 1236.7L382.2 1268.2L409 1283.9L415.4 1299.7L415.4 1331.2L430.1 1362.6L449.1 1394.1L462.5 1409.9L516 1409.9L569.5 1409.9L596.2 1394.1L596.2 1362.6L623 1346.9L636.4 1331.2L636.4 1299.7L636.4 1268.2L636.4 1236.7L663.1 1205.2L676.5 1189.5L682.9 1205.2L689.9 1236.7L688 1268.2L688 1299.7L688 1331.2L688 1362.6L688 1394.1L688 1425.6L689.9 1457.1L682.9 1488.6L684.6 1520L676.5 1535.8L649.8 1520L623 1504.3L596.2 1520L569.5 1527.9L529.4 1551.5L516 1567.3L462.5 1567.3L435.8 1583M1365.6 1331.2L1372 1315.4L1376.5 1331.2L1376.5 1362.6L1372 1378.4L1364.8 1362.6L1365.6 1331.2M1900.6 1331.2L1907 1315.4L1914.2 1331.2L1916.6 1362.6L1933.8 1394.1L1933.8 1425.6L1960.5 1441.3L1987.2 1425.6L2014 1409.9L2067.5 1409.9L2094.2 1425.6L2094.2 1457.1L2067.5 1472.8L2040.8 1488.6L2014 1504.3L1987.2 1520L1960.5 1535.8L1954.1 1520L1933.8 1488.6L1907 1472.8L1902.5 1457.1L1901.6 1425.6L1900.6 1394.1L1900.6 1362.6L1900.6 1331.2M2040.8 1331.2L2067.5 1315.4L2073.9 1331.2L2073.9 1362.6L2067.5 1378.4L2040.8 1362.6L2040.8 1331.2M1366.6 1488.6L1372 1472.8L1377.3 1488.6L1378.4 1520L1372 1527.9L1366.6 1520L1366.6 1488.6M382.2 1583L355.5 1567.3L302 1567.3L248.5 1567.3L195 1567.3M663.1 1236.7L676.5 1221L681 1236.7L680.3 1268.2L680.3 1299.7L680.3 1331.2L680.3 1362.6L680.3 1394.1L680.3 1425.6L681 1457.1L676.5 1472.8L649.8 1457.1L649.8 1425.6L649.8 1394.1L649.8 1362.6L663.1 1331.2L663.1 1299.7L663.1 1268.2L663.1 1236.7M195 1346.9L221.8 1331.2L248.5 1315.4L302 1315.4L355.5 1315.4L382.2 1331.2L409 1346.9L416 1362.6L422.4 1394.1L435.8 1425.6L435.8 1457.1L462.5 1472.8L516 1472.8L542.8 1488.6L516 1504.3L489.2 1520L462.5 1535.8L409 1535.8L355.5 1535.8L302 1535.8L248.5 1535.8L195 1535.8M195 1409.9L248.5 1409.9L302 1409.9L328.8 1425.6L328.8 1457.1L302 1472.8L275.2 1488.6L248.5 1504.3L195 1504.3"/>
<path fill="none" stroke="#300" stroke-opacity="0.6" stroke-width="2.6" d="M248.5 953.4v7M248.5 1583v-7M302 953.4v7M302 1583v-7M355.5 953.4v7M355.5 1583v-7M409 953.4v7M409 1583v-7M462.5 953.4v12M462.5 1583v-12M516 953.4v7M516 1583v-7M569.5 953.4v7M569.5 1583v-7M623 953.4v7M623 1583v-7M676.5 953.4v7M676.5 1583v-7M730 953.4v12M730 1583v-12M783.5 953.4v7M783.5 1583v-7M837 953.4v7M837 1583v-7M890.5 953.4v7M890.5 1583v-7M944 953.4v7M944 1583v-7M997.5 953.4v12M997.5 1583v-12M1051 953.4v7M1051 1583v-7M1104.5 953.4v7M1104.5 1583v-7M1158 953.4v7M1158 1583v-7M1211.5 953.4v7M1211.5 1583v-7M1265 953.4v12M1265 1583v-12M1318.5 953.4v7M1318.5 1583v-7M1372 953.4v7M1372 1583v-7M1425.5 953.4v7M1425.5 1583v-7M1479 953.4v7M1479 1583v-7M1532.5 953.4v12M1532.5 1583v-12M1586 953.4v7M1586 1583v-7M1639.5 953.4v7M1639.5 1583v-7M1693 953.4v7M1693 1583v-7M1746.5 953.4v7M1746.5 1583v-7M1800 953.4v12M1800 1583v-12M1853.5 953.4v7M1853.5 1583v-7M1907 953.4v7M1907 1583v-7M1960.5 953.4v7M1960.5 1583v-7M2014 953.4v7M2014 1583v-7M2067.5 953.4v12M2067.5 1583v-12M2121 953.4v7M2121 1583v-7M2174.5 953.4v7M2174.5 1583v-7M2228 953.4v7M2228 1583v-7M2281.5 953.4v7M2281.5 1583v-7M195 969.1h20M2335 969.1h-20M195 984.9h20M2335 984.9h-20M195 1000.6h20M2335 1000.6h-20M195 1016.4h20M2335 1016.4h-20M195 1032.1h20M2335 1032.1h-20M195 1047.8h20M2335 1047.8h-20M195 1063.6h20M2335 1063.6h-20M195 1079.3h20M2335 1079.3h-20M195 1095.1h20M2335 1095.1h-20M195 1110.8h42M2335 1110.8h-42M195 1126.5h20M2335 1126.5h-20M195 1142.3h20M2335 1142.3h-20M195 1158h20M2335 1158h-20M195 1173.8h20M2335 1173.8h-20M195 1189.5h20M2335 1189.5h-20M195 1205.2h20M2335 1205.2h-20M195 1221h20M2335 1221h-20M195 1236.7h20M2335 1236.7h-20M195 1252.5h20M2335 1252.5h-20M195 1268.2h42M2335 1268.2h-42M195 1283.9h20M2335 1283.9h-20M195 1299.7h20M2335 1299.7h-20M195 1315.4h20M2335 1315.4h-20M195 1331.2h20M2335 1331.2h-20M195 1346.9h20M2335 1346.9h-20M195 1362.6h20M2335 1362.6h-20M195 1378.4h20M2335 1378.4h-20M195 1394.1h20M2335 1394.1h-20M195 1409.9h20M2335 1409.9h-20M195 1425.6h42M2335 1425.6h-42M195 1441.3h20M2335 1441.3h-20M195 1457.1h20M2335 1457.1h-20M195 1472.8h20M2335 1472.8h-20M195 1488.6h20M2335 1488.6h-20M195 1504.3h20M2335 1504.3h-20M195 1520h20M2335 1520h-20M195 1535.8h20M2335 1535.8h-20M195 1551.5h20M2335 1551.5h-20M195 1567.3h20M2335 1567.3h-20"/>
<rect x="195" y="953.4" width="2140" height="629.6" fill="none" stroke="#1a0a00" stroke-width="2.4"/>
<rect x="201.5" y="1804" width="2139.8" height="627.5" fill="#000000"/>
<path fill="#2e00d8" fill-rule="evenodd" d="M201.5 1804L255 1804L308.5 1804L362 1804L415.5 1804L469 1804L522.5 1804L576 1804L629.5 1804L683 1804L736.5 1804L789.9 1804L843.4 1804L896.9 1804L950.4 1804L1003.9 1804L1057.4 1804L1110.9 1804L1164.4 1804L1217.9 1804L1271.4 1804L1324.9 1804L1378.4 1804L1431.9 1804L1485.4 1804L1538.9 1804L1592.4 1804L1645.9 1804L1699.4 1804L1752.9 1804L1806.4 1804L1859.8 1804L1913.3 1804L1966.8 1804L2020.3 1804L2073.8 1804L2127.3 1804L2180.8 1804L2234.3 1804L2287.8 1804L2341.3 1804L2341.3 1835.4L2341.3 1866.8L2341.3 1898.1L2341.3 1929.5L2341.3 1960.9L2341.3 1992.2L2341.3 2023.6L2341.3 2055L2341.3 2086.4L2341.3 2117.8L2341.3 2149.1L2341.3 2180.5L2341.3 2211.9L2341.3 2222.3L2305.6 2243.2L2305.6 2274.6L2319.9 2306L2333.1 2337.4L2333.1 2368.8L2333.1 2400.1L2333.1 2431.5L2287.8 2431.5L2234.3 2431.5L2180.8 2431.5L2127.3 2431.5L2073.8 2431.5L2020.3 2431.5L1966.8 2431.5L1913.3 2431.5L1859.8 2431.5L1806.4 2431.5L1752.9 2431.5L1699.4 2431.5L1645.9 2431.5L1592.4 2431.5L1538.9 2431.5L1485.4 2431.5L1431.9 2431.5L1378.4 2431.5L1324.9 2431.5L1278.5 2431.5L1278.5 2400.1L1278.5 2368.8L1278.5 2337.4L1271.4 2316.5L1264.3 2337.4L1264.3 2368.8L1264.3 2400.1L1263.2 2431.5L1217.9 2431.5L1164.4 2431.5L1118 2431.5L1134.2 2400.1L1134.2 2368.8L1134.2 2337.4L1134.2 2306L1134.2 2274.6L1134.2 2243.2L1136.4 2211.9L1136.4 2180.5L1123.7 2149.1L1127.1 2117.8L1110.9 2096.8L1075.3 2117.8L1075.3 2149.1L1062.3 2180.5L1062.3 2211.9L1057.4 2222.3L1021.8 2243.2L1021.8 2274.6L1021.8 2306L1021.8 2337.4L1021.8 2368.8L1021.8 2400.1L1021.8 2431.5L1003.9 2431.5L950.4 2431.5L932.6 2431.5L932.6 2400.1L918.3 2368.8L918.3 2337.4L918.3 2306L896.9 2285.1L861.3 2306L843.4 2316.5L807.8 2337.4L807.8 2368.8L807.8 2400.1L807.8 2431.5L789.9 2431.5L736.5 2431.5L683 2431.5L629.5 2431.5L576 2431.5L522.5 2431.5L469 2431.5L415.5 2431.5L362 2431.5L308.5 2431.5L255 2431.5L201.5 2431.5L201.5 2400.1L201.5 2368.8L201.5 2337.4L201.5 2306L201.5 2274.6L201.5 2243.2L201.5 2211.9L201.5 2180.5L201.5 2149.1L201.5 2117.8L201.5 2086.4L201.5 2055L201.5 2023.6L201.5 1992.2L201.5 1960.9L201.5 1929.5L201.5 1898.1L201.5 1866.8L201.5 1835.4L201.5 1804ZM1378.4 2191L1371.3 2211.9L1378.4 2232.8L1391.1 2211.9L1378.4 2191ZM1859.8 2191L1824.2 2211.9L1811.2 2243.2L1806.4 2253.7L1800.1 2274.6L1800.1 2306L1800.1 2337.4L1806.4 2358.3L1824.2 2368.8L1838.4 2400.1L1859.8 2421L1881.2 2400.1L1895.5 2368.8L1908.5 2337.4L1913.3 2326.9L1927.4 2306L1929.6 2274.6L1934.7 2243.2L1913.3 2222.3L1895.5 2211.9L1859.8 2191Z"/>
<path fill="#009ae8" fill-rule="evenodd" d="M201.5 1804L255 1804L308.5 1804L362 1804L415.5 1804L469 1804L522.5 1804L576 1804L629.5 1804L683 1804L736.5 1804L789.9 1804L843.4 1804L896.9 1804L950.4 1804L1003.9 1804L1057.4 1804L1110.9 1804L1164.4 1804L1217.9 1804L1271.4 1804L1324.9 1804L1378.4 1804L1431.9 1804L1485.4 1804L1538.9 1804L1592.4 1804L1645.9 1804L1699.4 1804L1752.9 1804L1806.4 1804L1859.8 1804L1913.3 1804L1966.8 1804L2020.3 1804L2073.8 1804L2127.3 1804L2180.8 1804L2234.3 1804L2287.8 1804L2341.3 1804L2341.3 1835.4L2341.3 1866.8L2341.3 1898.1L2341.3 1929.5L2341.3 1960.9L2341.3 1992.2L2341.3 2023.6L2341.3 2055L2341.3 2086.4L2341.3 2117.8L2341.3 2149.1L2341.3 2180.5L2341.3 2205.1L2299.4 2180.5L2287.8 2164.8L2283.3 2180.5L2283.3 2211.9L2282.5 2243.2L2276.2 2274.6L2287.8 2290.3L2298.5 2306L2324.8 2337.4L2324.8 2368.8L2324.8 2400.1L2324.8 2431.5L2287.8 2431.5L2234.3 2431.5L2180.8 2431.5L2127.3 2431.5L2073.8 2431.5L2020.3 2431.5L1966.8 2431.5L1913.3 2431.5L1886.6 2431.5L1902.6 2400.1L1913.3 2384.4L1918.7 2368.8L1918.7 2337.4L1941.5 2306L1945.8 2274.6L1956.1 2243.2L1940.1 2211.9L1913.3 2196.2L1886.6 2180.5L1859.8 2164.8L1833.1 2180.5L1806.4 2196.2L1801.9 2211.9L1802.5 2243.2L1793.8 2274.6L1793.8 2306L1793.8 2337.4L1801.9 2368.8L1806.4 2384.4L1817 2400.1L1833.1 2431.5L1806.4 2431.5L1752.9 2431.5L1699.4 2431.5L1645.9 2431.5L1592.4 2431.5L1538.9 2431.5L1485.4 2431.5L1431.9 2431.5L1378.4 2431.5L1324.9 2431.5L1285.7 2431.5L1285.7 2400.1L1285.7 2368.8L1285.7 2337.4L1275.9 2306L1271.4 2290.3L1266.9 2306L1257.1 2337.4L1257.1 2368.8L1257.1 2400.1L1254.9 2431.5L1217.9 2431.5L1164.4 2431.5L1125.2 2431.5L1138.8 2400.1L1138.8 2368.8L1138.8 2337.4L1138.8 2306L1138.8 2274.6L1138.8 2243.2L1141.5 2211.9L1141.5 2180.5L1136.4 2149.1L1143.3 2117.8L1125.8 2086.4L1125.8 2055L1110.9 2039.3L1084.2 2055L1084.2 2086.4L1057.4 2102.1L1030.7 2117.8L1030.7 2149.1L1030.7 2180.5L1003.9 2196.2L998.6 2211.9L998.6 2243.2L950.4 2271.5L896.9 2265.9L870.2 2274.6L843.4 2290.3L816.7 2306L789.9 2321.7L775.1 2337.4L775.1 2368.8L775.1 2400.1L778.3 2431.5L736.5 2431.5L683 2431.5L629.5 2431.5L576 2431.5L527.8 2431.5L526.9 2400.1L522.5 2384.4L517.1 2400.1L517.1 2431.5L469 2431.5L415.5 2431.5L362 2431.5L308.5 2431.5L255 2431.5L201.5 2431.5L201.5 2400.1L201.5 2368.8L201.5 2337.4L201.5 2306L201.5 2274.6L201.5 2243.2L201.5 2211.9L201.5 2180.5L201.5 2149.1L201.5 2117.8L201.5 2086.4L201.5 2055L201.5 2023.6L201.5 1992.2L201.5 1960.9L201.5 1929.5L201.5 1898.1L201.5 1866.8L201.5 1835.4L201.5 1804ZM362 2353.1L357.5 2368.8L356.6 2400.1L362 2415.8L367.3 2400.1L367.3 2368.8L362 2353.1ZM469 2133.4L464.5 2149.1L464.5 2180.5L469 2196.2L475.7 2180.5L483.8 2149.1L469 2133.4ZM1378.4 2164.8L1373 2180.5L1364.1 2211.9L1373.9 2243.2L1378.4 2258.9L1386.7 2243.2L1403.9 2211.9L1383.7 2180.5L1378.4 2164.8ZM1485.4 2133.4L1480 2149.1L1480 2180.5L1475.5 2211.9L1477 2243.2L1485.4 2258.9L1538.9 2258.9L1553.7 2243.2L1538.9 2227.6L1512.1 2211.9L1512.1 2180.5L1495.3 2149.1L1485.4 2133.4ZM1645.9 2227.6L1631 2243.2L1640.5 2274.6L1645.9 2290.3L1699.4 2283.3L1703.2 2274.6L1703.2 2243.2L1699.4 2227.6L1645.9 2227.6ZM2180.8 2227.6L2154.1 2243.2L2127.3 2258.9L2122.9 2274.6L2122.9 2306L2122.9 2337.4L2122.9 2368.8L2127.3 2384.4L2154.1 2368.8L2180.8 2353.1L2192.4 2337.4L2195.7 2306L2192.4 2274.6L2186.2 2243.2L2180.8 2227.6ZM939.7 2306L950.4 2290.3L977.2 2306L977.2 2337.4L977.2 2368.8L950.4 2384.4L939.7 2368.8L939.7 2337.4L939.7 2306Z"/>
<path fill="#00ff08" fill-rule="evenodd" d="M201.5 1804L255 1804L308.5 1804L362 1804L415.5 1804L469 1804L522.5 1804L576 1804L629.5 1804L683 1804L736.5 1804L789.9 1804L843.4 1804L896.9 1804L950.4 1804L1003.9 1804L1057.4 1804L1110.9 1804L1164.4 1804L1217.9 1804L1271.4 1804L1324.9 1804L1378.4 1804L1431.9 1804L1485.4 1804L1538.9 1804L1592.4 1804L1645.9 1804L1699.4 1804L1752.9 1804L1806.4 1804L1859.8 1804L1913.3 1804L1966.8 1804L2020.3 1804L2073.8 1804L2127.3 1804L2180.8 1804L2234.3 1804L2287.8 1804L2341.3 1804L2341.3 1835.4L2341.3 1866.8L2341.3 1898.1L2341.3 1929.5L2341.3 1960.9L2341.3 1992.2L2341.3 2023.6L2341.3 2055L2341.3 2086.4L2341.3 2117.8L2341.3 2149.1L2341.3 2180.5L2341.3 2191.4L2322.7 2180.5L2300 2149.1L2287.8 2129.5L2282.5 2149.1L2274.4 2180.5L2274.4 2211.9L2271.8 2243.2L2252.9 2274.6L2254.4 2306L2287.8 2309.9L2316.6 2337.4L2316.6 2368.8L2316.6 2400.1L2316.6 2431.5L2287.8 2431.5L2234.3 2431.5L2180.8 2431.5L2160.8 2431.5L2160.8 2400.1L2180.8 2388.4L2196.5 2368.8L2215.7 2337.4L2225.4 2306L2215.7 2274.6L2196.9 2243.2L2186.2 2211.9L2180.8 2199.8L2147.4 2211.9L2127.3 2223.6L2122 2243.2L2113.9 2274.6L2113.9 2306L2113.9 2337.4L2113.9 2368.8L2122 2400.1L2122 2431.5L2073.8 2431.5L2020.3 2431.5L1966.8 2431.5L1920 2431.5L1920 2400.1L1929.4 2368.8L1929.4 2337.4L1955.6 2306L1962 2274.6L1966.8 2262.9L1972.2 2243.2L1972.2 2211.9L1972.2 2180.5L1966.8 2160.9L1913.3 2160.9L1893.3 2149.1L1859.8 2129.5L1826.4 2149.1L1806.3 2160.9L1799.7 2180.5L1793 2211.9L1794.9 2243.2L1787.5 2274.6L1787.5 2306L1787.5 2337.4L1793 2368.8L1801 2400.1L1801 2431.5L1752.9 2431.5L1699.4 2431.5L1645.9 2431.5L1592.4 2431.5L1538.9 2431.5L1485.4 2431.5L1431.9 2431.5L1378.4 2431.5L1324.9 2431.5L1292.8 2431.5L1292.8 2400.1L1292.8 2368.8L1292.8 2337.4L1284.8 2306L1276.7 2274.6L1271.4 2265.4L1266.1 2274.6L1258 2306L1250 2337.4L1250 2368.8L1250 2400.1L1246.7 2431.5L1217.9 2431.5L1164.4 2431.5L1132.3 2431.5L1143.5 2400.1L1143.5 2368.8L1143.5 2337.4L1143.5 2306L1143.5 2274.6L1143.5 2243.2L1146.6 2211.9L1146.6 2180.5L1149.1 2149.1L1159.5 2117.8L1155.5 2086.4L1155.5 2055L1144.3 2023.6L1110.9 2004L1077.5 2023.6L1057.4 2035.4L1024 2055L1003.9 2066.8L983.4 2086.4L988.2 2117.8L995 2149.1L997.2 2180.5L987.9 2211.9L987.9 2243.2L950.4 2265.2L896.9 2248.5L843.4 2255L810 2274.6L789.9 2286.4L769.4 2306L745.4 2337.4L745.4 2368.8L745.4 2400.1L755.1 2431.5L736.5 2431.5L703.5 2431.5L716.4 2400.1L683 2380.5L677.6 2400.1L676.3 2431.5L629.5 2431.5L576 2431.5L538.5 2431.5L535.8 2400.1L526.9 2368.8L522.5 2349.1L515.8 2368.8L506.4 2400.1L506.4 2431.5L469 2431.5L415.5 2431.5L368.7 2431.5L378 2400.1L378 2368.8L368.7 2337.4L362 2317.8L357.5 2337.4L348.6 2368.8L345.9 2400.1L355.3 2431.5L308.5 2431.5L255 2431.5L201.5 2431.5L201.5 2400.1L201.5 2368.8L201.5 2337.4L201.5 2306L201.5 2274.6L201.5 2243.2L201.5 2211.9L201.5 2180.5L201.5 2149.1L201.5 2117.8L201.5 2086.4L201.5 2055L201.5 2023.6L201.5 1992.2L201.5 1960.9L201.5 1929.5L201.5 1898.1L201.5 1866.8L201.5 1835.4L201.5 1804ZM469 2098.1L462.3 2117.8L455.6 2149.1L455.6 2180.5L463.6 2211.9L469 2231.5L475.7 2211.9L489 2180.5L513.6 2149.1L489.6 2117.8L469 2098.1ZM789.9 2129.5L777.8 2149.1L789.9 2168.7L796.6 2149.1L789.9 2129.5ZM1217.9 2066.8L1184.5 2086.4L1184.5 2117.8L1217.9 2137.4L1230.1 2117.8L1251.3 2086.4L1217.9 2066.8ZM1378.4 2098.1L1371.7 2117.8L1371.7 2149.1L1362.3 2180.5L1357 2211.9L1365 2243.2L1373 2274.6L1378.4 2278.5L1385.1 2274.6L1403.5 2243.2L1416.6 2211.9L1394.4 2180.5L1385.1 2149.1L1385.1 2117.8L1378.4 2098.1ZM1485.4 2098.1L1478.7 2117.8L1469.3 2149.1L1469.3 2180.5L1455.7 2211.9L1460.3 2243.2L1478.7 2274.6L1485.4 2294.2L1505.4 2306L1538.9 2325.6L1545.6 2306L1545.6 2274.6L1583.5 2243.2L1592.4 2231.5L1601.3 2243.2L1629.8 2274.6L1639.2 2306L1639.2 2337.4L1645.9 2357L1661.6 2337.4L1679.3 2306L1699.4 2300.8L1710.8 2274.6L1710.8 2243.2L1704.7 2211.9L1699.4 2192.3L1645.9 2199.8L1592.4 2192.3L1572.3 2180.5L1538.9 2171.3L1515.1 2149.1L1494.3 2117.8L1485.4 2098.1Z"/>
<path fill="#aaff00" fill-rule="evenodd" d="M201.5 1804L255 1804L308.5 1804L362 1804L415.5 1804L469 1804L522.5 1804L576 1804L629.5 1804L683 1804L736.5 1804L789.9 1804L843.4 1804L896.9 1804L950.4 1804L1003.9 1804L1057.4 1804L1110.9 1804L1164.4 1804L1217.9 1804L1271.4 1804L1324.9 1804L1378.4 1804L1431.9 1804L1485.4 1804L1538.9 1804L1592.4 1804L1645.9 1804L1699.4 1804L1752.9 1804L1806.4 1804L1859.8 1804L1913.3 1804L1966.8 1804L2020.3 1804L2073.8 1804L2127.3 1804L2180.8 1804L2234.3 1804L2287.8 1804L2341.3 1804L2341.3 1835.4L2341.3 1866.8L2341.3 1898.1L2341.3 1929.5L2341.3 1960.9L2341.3 1992.2L2341.3 2023.6L2341.3 2055L2341.3 2086.4L2341.3 2117.8L2341.3 2149.1L2341.3 2180.5L2341.3 2183.2L2336.6 2180.5L2314.6 2149.1L2292.8 2117.8L2292.8 2086.4L2292.8 2055L2299.3 2023.6L2319.9 1992.2L2287.8 1973.4L2270 1992.2L2276.3 2023.6L2280.5 2055L2282.8 2086.4L2284 2117.8L2276 2149.1L2269.1 2180.5L2269.1 2211.9L2265.3 2243.2L2239 2274.6L2234.3 2287.2L2229.7 2274.6L2203.3 2243.2L2192.6 2211.9L2180.8 2185.3L2127.3 2205.2L2123.5 2211.9L2115.6 2243.2L2108.6 2274.6L2108.6 2306L2108.6 2337.4L2108.6 2368.8L2115.6 2400.1L2115.6 2431.5L2073.8 2431.5L2020.3 2431.5L1966.8 2431.5L1928.1 2431.5L1928.1 2400.1L1935.8 2368.8L1935.8 2337.4L1964 2306L1966.8 2293.4L1970.7 2274.6L1978.6 2243.2L1978.6 2211.9L1978.6 2180.5L1971.9 2149.1L1966.8 2138.7L1913.3 2144.8L1867.1 2117.8L1859.8 2107.3L1827.7 2117.8L1806.3 2130.3L1801.3 2149.1L1791.6 2180.5L1787.6 2211.9L1790.3 2243.2L1783.7 2274.6L1783.7 2306L1783.7 2337.4L1787.6 2368.8L1794.6 2400.1L1794.6 2431.5L1752.9 2431.5L1699.4 2431.5L1645.9 2431.5L1592.4 2431.5L1542.7 2431.5L1542.7 2400.1L1542.7 2368.8L1543.9 2337.4L1553.6 2306L1553.6 2274.6L1592.4 2246.2L1623.4 2274.6L1631.2 2306L1631.2 2337.4L1642 2368.8L1645.9 2379.2L1653.2 2368.8L1680.5 2337.4L1699.4 2316.5L1702.4 2306L1715.4 2274.6L1715.4 2243.2L1711.1 2211.9L1704.4 2180.5L1699.4 2176.2L1667.3 2180.5L1645.9 2185.3L1624.5 2180.5L1592.4 2173.8L1538.9 2160.2L1527 2149.1L1505 2117.8L1492.7 2086.4L1496.8 2055L1496.8 2023.6L1503.2 1992.2L1517.5 1960.9L1485.4 1942.1L1453.3 1960.9L1431.9 1973.4L1410.5 1960.9L1378.4 1942.1L1346.3 1960.9L1324.9 1973.4L1271.4 1973.4L1217.9 1973.4L1196.5 1960.9L1164.4 1942.1L1132.3 1960.9L1110.9 1973.4L1057.4 1973.4L1025.3 1992.2L1003.9 2004.8L992.5 2023.6L986.1 2055L958.7 2086.4L969.3 2117.8L984.3 2149.1L989.2 2180.5L981.5 2211.9L981.5 2243.2L950.4 2261.4L902 2243.2L896.9 2240.3L843.4 2240.3L795 2211.9L795 2180.5L804.7 2149.1L801.4 2117.8L789.9 2107.3L772.1 2117.8L763.2 2149.1L782.7 2180.5L784.9 2211.9L784.9 2243.2L784.9 2274.6L744.7 2306L736.5 2318.6L731.4 2337.4L683 2365.8L679.1 2368.8L671.2 2400.1L668.2 2431.5L629.5 2431.5L576 2431.5L544.9 2431.5L541.2 2400.1L532.3 2368.8L525.6 2337.4L522.5 2318.6L517.5 2337.4L507.8 2368.8L500 2400.1L500 2431.5L469 2431.5L415.5 2431.5L376.7 2431.5L384.5 2400.1L384.5 2368.8L376.7 2337.4L394.1 2306L362 2295.5L358.9 2306L352.2 2337.4L343.3 2368.8L339.5 2400.1L347.3 2431.5L308.5 2431.5L255 2431.5L201.5 2431.5L201.5 2400.1L201.5 2368.8L201.5 2337.4L201.5 2306L201.5 2274.6L201.5 2243.2L201.5 2211.9L201.5 2180.5L201.5 2149.1L201.5 2117.8L201.5 2086.4L201.5 2055L201.5 2023.6L201.5 1992.2L201.5 1960.9L201.5 1929.5L201.5 1898.1L201.5 1866.8L201.5 1835.4L201.5 1804ZM469 2044.5L461.7 2055L464 2086.4L454.3 2117.8L450.3 2149.1L450.3 2180.5L457.2 2211.9L465.2 2243.2L469 2246.2L474 2243.2L483.7 2211.9L497.1 2180.5L522.5 2153.4L526.3 2149.1L522.5 2130.3L514.2 2117.8L522.5 2105.2L533.9 2086.4L522.5 2075.9L486.8 2055L469 2044.5ZM629.5 2044.5L618 2055L618 2086.4L622.2 2117.8L629.5 2124.5L633.3 2117.8L634.5 2086.4L634.5 2055L629.5 2044.5ZM896.9 2036.2L864.8 2055L896.9 2073.8L914.8 2055L896.9 2036.2ZM1806.3 1879.3L1774.3 1898.1L1774.3 1929.5L1799.1 1960.9L1806.3 1979.7L1827.7 1992.2L1848.4 2023.6L1859.8 2042.5L1867.1 2023.6L1871.3 1992.3L1891.9 1960.9L1891.9 1929.5L1891.9 1898.1L1859.8 1879.3L1806.3 1879.3ZM1410.5 2023.6L1431.9 2011.1L1453.3 2023.6L1467.5 2055L1473.9 2086.4L1470.7 2117.8L1462.9 2149.1L1462.9 2180.5L1443.8 2211.9L1450.3 2243.2L1470.7 2274.6L1480.4 2306L1485.4 2308.9L1533.9 2337.4L1535.1 2368.8L1535.1 2400.1L1535.1 2431.5L1485.4 2431.5L1431.9 2431.5L1378.4 2431.5L1324.9 2431.5L1297.1 2431.5L1297.1 2400.1L1297.1 2368.8L1297.1 2337.4L1290.1 2306L1283.2 2274.6L1271.4 2254.3L1259.6 2274.6L1252.7 2306L1245.7 2337.4L1245.7 2368.8L1245.7 2400.1L1241.8 2431.5L1217.9 2431.5L1164.4 2431.5L1136.6 2431.5L1146.3 2400.1L1146.3 2368.8L1146.3 2337.4L1146.3 2306L1146.3 2274.6L1146.3 2243.2L1149.6 2211.9L1149.6 2180.5L1156.8 2149.1L1164.4 2128.2L1200.1 2149.1L1217.9 2153.4L1222.9 2149.1L1244.7 2117.8L1271.4 2093.1L1289.2 2086.4L1324.9 2065.5L1360.6 2086.4L1363.7 2117.8L1363.7 2149.1L1355.9 2180.5L1352.7 2211.9L1359.7 2243.2L1366.6 2274.6L1378.4 2283.3L1393.1 2274.6L1413.5 2243.2L1424.2 2211.9L1400.9 2180.5L1393.1 2149.1L1393.1 2117.8L1389.9 2086.4L1396.2 2055L1410.5 2023.6ZM2229.7 2337.4L2234.3 2324.8L2287.8 2314.6L2311.7 2337.4L2311.7 2368.8L2311.7 2400.1L2311.7 2431.5L2287.8 2431.5L2234.3 2431.5L2188.1 2431.5L2192.3 2400.1L2215.4 2368.8L2229.7 2337.4ZM728.2 2431.5L736.5 2418.9L741.1 2431.5L736.5 2431.5L728.2 2431.5Z"/>
<path fill="#ffc400" fill-rule="evenodd" d="M201.5 1804L255 1804L308.5 1804L362 1804L415.5 1804L469 1804L522.5 1804L576 1804L629.5 1804L683 1804L736.5 1804L789.9 1804L843.4 1804L896.9 1804L950.4 1804L1003.9 1804L1057.4 1804L1110.9 1804L1164.4 1804L1217.9 1804L1271.4 1804L1324.9 1804L1378.4 1804L1431.9 1804L1485.4 1804L1538.9 1804L1592.4 1804L1645.9 1804L1699.4 1804L1752.9 1804L1806.4 1804L1859.8 1804L1913.3 1804L1966.8 1804L2020.3 1804L2073.8 1804L2127.3 1804L2180.8 1804L2234.3 1804L2287.8 1804L2341.3 1804L2341.3 1835.4L2341.3 1866.8L2341.3 1898.1L2341.3 1929.5L2341.3 1960.9L2341.3 1976.6L2314.6 1960.9L2287.8 1945.2L2275.9 1960.9L2246.2 1992.2L2261.1 2023.6L2270.8 2055L2276.1 2086.4L2278.9 2117.8L2271.8 2149.1L2265.5 2180.5L2265.5 2211.9L2261.1 2243.2L2234.3 2272.3L2207.6 2243.2L2196.9 2211.9L2183.7 2180.5L2180.8 2178.2L2168.9 2180.5L2127.3 2196.2L2118.4 2211.9L2111.3 2243.2L2105 2274.6L2105 2306L2105 2337.4L2105 2368.8L2111.3 2400.1L2111.3 2431.5L2073.8 2431.5L2020.3 2431.5L1966.8 2431.5L1933.4 2431.5L1933.4 2400.1L1940.1 2368.8L1940.1 2337.4L1966.8 2308.3L1969.7 2306L1975.8 2274.6L1982.9 2243.2L1982.9 2211.9L1982.9 2180.5L1978.5 2149.1L1966.8 2124.7L1913.3 2139.1L1876.9 2117.8L1859.8 2093.3L1806.4 2115.4L1803.5 2117.8L1794.6 2149.1L1786.3 2180.5L1784.1 2211.9L1787.2 2243.2L1781.2 2274.6L1781.2 2306L1781.2 2337.4L1784.1 2368.8L1790.3 2400.1L1790.3 2431.5L1752.9 2431.5L1699.4 2431.5L1645.9 2431.5L1592.4 2431.5L1547.8 2431.5L1547.8 2400.1L1547.8 2368.8L1550.6 2337.4L1558.9 2306L1558.9 2274.6L1592.4 2250.1L1619.1 2274.6L1625.8 2306L1625.8 2337.4L1636.9 2368.8L1645.9 2393.2L1662.9 2368.8L1693.1 2337.4L1699.4 2330.4L1706.6 2306L1718.5 2274.6L1718.5 2243.2L1715.4 2211.9L1711.1 2180.5L1699.4 2170.5L1645.9 2176.8L1592.4 2164.8L1538.9 2152.8L1534.9 2149.1L1512.1 2117.8L1502.4 2086.4L1512.1 2055L1512.1 2023.6L1527 1992.2L1538.9 1976.6L1545.2 1960.9L1550.8 1929.5L1538.9 1913.8L1512.1 1898.1L1485.4 1882.4L1458.6 1898.1L1431.9 1913.8L1378.4 1913.8L1351.6 1929.5L1324.9 1945.2L1271.4 1945.2L1217.9 1945.2L1191.2 1929.5L1164.4 1913.8L1137.7 1929.5L1110.9 1945.2L1057.4 1945.2L1030.7 1960.9L1003.9 1976.6L992 1992.2L977.2 2023.6L962.3 2055L950.4 2070.7L938.5 2055L908.8 2023.6L908.8 1992.2L896.9 1976.6L870.2 1960.9L870.2 1929.5L843.4 1913.8L816.7 1898.1L816.7 1866.8L789.9 1851.1L763.2 1866.8L778.1 1898.1L783.7 1929.5L786 1960.9L786 1992.2L789.9 2007.9L816.7 2023.6L816.7 2055L843.4 2070.7L870.2 2086.4L896.9 2102.1L950.4 2102.1L956.7 2117.8L977.2 2149.1L983.9 2180.5L977.2 2211.9L977.2 2243.2L950.4 2258.9L908.6 2243.2L896.9 2236.4L843.4 2236.4L801.6 2211.9L801.6 2180.5L810 2149.1L816.7 2117.8L789.9 2093.3L748.3 2117.8L753.5 2149.1L772.9 2180.5L778.2 2211.9L778.2 2243.2L778.2 2274.6L736.5 2303.7L734.2 2306L724.7 2337.4L683 2361.9L674 2368.8L666.9 2400.1L662.9 2431.5L629.5 2431.5L576 2431.5L549.2 2431.5L544.8 2400.1L535.8 2368.8L529.7 2337.4L524.7 2306L522.5 2303.7L518.5 2306L510.8 2337.4L502.4 2368.8L495.7 2400.1L495.7 2431.5L469 2431.5L415.5 2431.5L382 2431.5L388.7 2400.1L388.7 2368.8L382 2337.4L415.5 2308.3L419.4 2306L415.5 2303.7L362 2281.6L354.8 2306L348.6 2337.4L339.7 2368.8L335.2 2400.1L341.9 2431.5L308.5 2431.5L255 2431.5L201.5 2431.5L201.5 2400.1L201.5 2368.8L201.5 2337.4L201.5 2306L201.5 2274.6L201.5 2243.2L201.5 2211.9L201.5 2180.5L201.5 2149.1L201.5 2117.8L201.5 2086.4L201.5 2055L201.5 2023.6L201.5 1992.2L201.5 1960.9L201.5 1929.5L201.5 1898.1L201.5 1866.8L201.5 1835.4L201.5 1804ZM362 2016.7L358 2023.6L355.7 2055L358 2086.4L362 2090.1L365.9 2086.4L368.3 2055L415.5 2027.3L442.2 2023.6L415.5 2007.9L362 2016.7ZM469 2030.6L452 2055L457.3 2086.4L448.9 2117.8L446.7 2149.1L446.7 2180.5L452.9 2211.9L460.1 2243.2L469 2250.1L480.7 2243.2L489 2211.9L502.4 2180.5L522.5 2159.1L531.4 2149.1L528.8 2117.8L549.2 2086.4L522.5 2062L510.6 2055L469 2030.6ZM629.5 2030.6L602.7 2055L602.7 2086.4L612.4 2117.8L629.5 2133.4L638.4 2117.8L641.2 2086.4L641.2 2055L629.5 2030.6ZM1752.9 1851.1L1726.1 1866.8L1726.1 1898.1L1741 1929.5L1752.9 1933.2L1789.3 1960.9L1802.4 1992.2L1806.4 1999.2L1833.1 2023.6L1853.6 2055L1859.8 2070.7L1863.8 2055L1876.9 2023.6L1886.6 1992.2L1913.3 1967.8L1940.1 1960.9L1940.1 1929.5L1940.1 1898.1L1913.3 1882.4L1886.6 1866.8L1859.8 1851.1L1806.4 1851.1L1752.9 1851.1ZM2314.6 2023.6L2341.3 1999.2L2341.3 2023.6L2341.3 2055L2341.3 2086.4L2341.3 2117.8L2341.3 2149.1L2341.3 2173.5L2324.3 2149.1L2299.5 2117.8L2299.5 2086.4L2299.5 2055L2314.6 2023.6ZM1420 2055L1431.9 2039.3L1443.8 2055L1458.6 2086.4L1465.3 2117.8L1458.6 2149.1L1458.6 2180.5L1435.8 2211.9L1443.6 2243.2L1465.3 2274.6L1473.7 2306L1485.4 2312.9L1527.2 2337.4L1530 2368.8L1530 2400.1L1530 2431.5L1485.4 2431.5L1431.9 2431.5L1378.4 2431.5L1324.9 2431.5L1299.9 2431.5L1299.9 2400.1L1299.9 2368.8L1299.9 2337.4L1293.7 2306L1287.4 2274.6L1271.4 2246.9L1255.4 2274.6L1249.1 2306L1242.9 2337.4L1242.9 2368.8L1242.9 2400.1L1238.5 2431.5L1217.9 2431.5L1164.4 2431.5L1139.4 2431.5L1148.1 2400.1L1148.1 2368.8L1148.1 2337.4L1148.1 2306L1148.1 2274.6L1148.1 2243.2L1151.7 2211.9L1151.7 2180.5L1161.9 2149.1L1164.4 2142.2L1176.3 2149.1L1217.9 2159.1L1229.6 2149.1L1254.4 2117.8L1271.4 2102.1L1313 2086.4L1324.9 2079.4L1336.8 2086.4L1358.3 2117.8L1358.3 2149.1L1351.6 2180.5L1349.9 2211.9L1356.1 2243.2L1362.3 2274.6L1378.4 2286.4L1398.5 2274.6L1420.2 2243.2L1429.3 2211.9L1405.1 2180.5L1398.5 2149.1L1398.5 2117.8L1405.1 2086.4L1420 2055ZM2238.3 2337.4L2287.8 2317.8L2308.4 2337.4L2308.4 2368.8L2308.4 2400.1L2308.4 2431.5L2287.8 2431.5L2234.3 2431.5L2197.8 2431.5L2207.6 2400.1L2228 2368.8L2234.3 2353.1L2238.3 2337.4Z"/>
<path fill="#ff7600" fill-rule="evenodd" d="M201.5 1804L255 1804L308.5 1804L362 1804L394.1 1804L394.1 1835.4L415.5 1847.9L447.6 1866.8L469 1879.3L522.5 1879.3L543.9 1866.8L543.9 1835.4L576 1816.5L608.1 1835.4L608.1 1866.8L629.5 1879.3L650.9 1866.8L650.9 1835.4L683 1816.5L715.1 1835.4L715.1 1866.8L736.5 1879.3L754.3 1898.1L771.1 1929.5L778.1 1960.9L778.1 1992.2L785.3 2023.6L768.5 2055L736.5 2073.8L731.8 2086.4L733.2 2117.8L736.5 2130.3L743.7 2149.1L763.2 2180.5L771.6 2211.9L771.6 2243.2L771.6 2274.6L736.5 2299L729.6 2306L718.1 2337.4L683 2358L668.9 2368.8L662.6 2400.1L657.5 2431.5L629.5 2431.5L576 2431.5L553.5 2431.5L548.3 2400.1L539.4 2368.8L533.8 2337.4L529.3 2306L522.5 2299L510.6 2306L504.1 2337.4L497.1 2368.8L491.4 2400.1L491.4 2431.5L469 2431.5L415.5 2431.5L387.4 2431.5L393 2400.1L393 2368.8L387.4 2337.4L415.5 2313L427.4 2306L415.5 2299L366.6 2274.6L362 2271.9L359.5 2274.6L350.7 2306L345 2337.4L336.1 2368.8L331 2400.1L336.6 2431.5L308.5 2431.5L255 2431.5L201.5 2431.5L201.5 2400.1L201.5 2368.8L201.5 2337.4L201.5 2306L201.5 2274.6L201.5 2243.2L201.5 2211.9L201.5 2180.5L201.5 2149.1L201.5 2117.8L201.5 2086.4L201.5 2055L201.5 2023.6L201.5 1992.2L201.5 1960.9L201.5 1929.5L201.5 1898.1L201.5 1866.8L201.5 1835.4L201.5 1804ZM415.5 1979.7L394.1 1992.2L362 2002.7L350.1 2023.6L343.1 2055L350.1 2086.4L362 2097.4L373.9 2086.4L380.9 2055L415.5 2034.7L442.2 2055L450.6 2086.4L443.6 2117.8L443.1 2149.1L443.1 2180.5L448.6 2211.9L455 2243.2L469 2254L487.4 2243.2L494.4 2211.9L507.8 2180.5L522.5 2164.8L536.5 2149.1L541.4 2117.8L564.5 2086.4L543.9 2055L522.5 2042.4L490.4 2023.6L469 2011.1L436.9 1992.2L415.5 1979.7ZM629.5 2011.1L624.8 2023.6L587.4 2055L587.4 2086.4L602.7 2117.8L629.5 2142.4L643.5 2117.8L647.8 2086.4L647.8 2055L634.1 2023.6L629.5 2011.1ZM971.8 1804L1003.9 1804L1057.4 1804L1110.9 1804L1164.4 1804L1217.9 1804L1271.4 1804L1324.9 1804L1378.4 1804L1431.9 1804L1464 1804L1431.9 1822.8L1378.4 1822.8L1357 1835.4L1357 1866.8L1357 1898.1L1324.9 1916.9L1271.4 1916.9L1217.9 1916.9L1185.8 1898.1L1185.8 1866.8L1185.8 1835.4L1164.4 1822.8L1143 1835.4L1143 1866.8L1110.9 1885.6L1089.5 1898.1L1057.4 1916.9L1036 1929.5L1003.9 1948.3L971.8 1929.5L971.8 1898.1L971.8 1866.8L971.8 1835.4L971.8 1804ZM1934.7 1804L1966.8 1804L2020.3 1804L2073.8 1804L2127.3 1804L2180.8 1804L2234.3 1804L2287.8 1804L2341.3 1804L2341.3 1835.4L2341.3 1866.8L2341.3 1885.6L2319.9 1898.1L2287.8 1916.9L2266.4 1929.5L2252.1 1960.9L2234.3 1979.7L2202.2 1960.9L2202.2 1929.5L2180.8 1916.9L2159.4 1929.5L2159.4 1960.9L2127.3 1979.7L2105.9 1992.2L2119.1 2023.6L2127.3 2036.2L2180.8 2036.2L2202.2 2023.6L2234.3 2004.8L2245.8 2023.6L2261.1 2055L2269.4 2086.4L2273.8 2117.8L2267.5 2149.1L2261.9 2180.5L2261.9 2211.9L2256.8 2243.2L2234.3 2267.7L2211.8 2243.2L2201.1 2211.9L2189.5 2180.5L2180.8 2173.5L2145.2 2180.5L2127.3 2187.2L2113.3 2211.9L2107 2243.2L2101.5 2274.6L2101.5 2306L2101.5 2337.4L2101.5 2368.8L2107 2400.1L2107 2431.5L2073.8 2431.5L2020.3 2431.5L1966.8 2431.5L1938.8 2431.5L1938.8 2400.1L1944.4 2368.8L1944.4 2337.4L1966.8 2313L1975.5 2306L1980.8 2274.6L1987.2 2243.2L1987.2 2211.9L1987.2 2180.5L1985.2 2149.1L1971.5 2117.8L1966.8 2112.9L1958.6 2117.8L1913.3 2133.4L1886.6 2117.8L1864.5 2086.4L1871.7 2055L1886.6 2023.6L1901.9 1992.2L1913.3 1981.8L1966.8 1973.4L1988.2 1960.9L1988.2 1929.5L1988.2 1898.1L1966.8 1885.6L1934.7 1866.8L1934.7 1835.4L1934.7 1804ZM1560.3 1898.1L1592.4 1879.3L1624.5 1898.1L1645.9 1910.7L1699.4 1910.7L1717.2 1929.5L1752.9 1940.6L1779.6 1960.9L1794.5 1992.2L1806.4 2013.2L1817.8 2023.6L1841 2055L1855.2 2086.4L1806.4 2110.8L1797.7 2117.8L1788 2149.1L1780.9 2180.5L1780.5 2211.9L1784.2 2243.2L1778.7 2274.6L1778.7 2306L1778.7 2337.4L1780.5 2368.8L1786 2400.1L1786 2431.5L1752.9 2431.5L1699.4 2431.5L1645.9 2431.5L1592.4 2431.5L1552.9 2431.5L1552.9 2400.1L1552.9 2368.8L1557.3 2337.4L1564.3 2306L1564.3 2274.6L1592.4 2254L1614.8 2274.6L1620.5 2306L1620.5 2337.4L1631.9 2368.8L1642.6 2400.1L1645.9 2402.9L1650.5 2400.1L1672.6 2368.8L1699.4 2342.2L1701.8 2337.4L1710.7 2306L1721.5 2274.6L1721.5 2243.2L1719.7 2211.9L1717.7 2180.5L1699.4 2164.8L1645.9 2169.4L1592.4 2155.8L1560.3 2149.1L1538.9 2144.3L1519.3 2117.8L1512.1 2086.4L1527.4 2055L1527.4 2023.6L1538.9 2004.8L1543.5 1992.2L1557.8 1960.9L1574.5 1929.5L1560.3 1898.1ZM932.6 1992.2L950.4 1973.4L968.3 1992.2L961.9 2023.6L950.4 2042.4L932.6 2023.6L932.6 1992.2ZM2329.8 2023.6L2341.3 2013.2L2341.3 2023.6L2341.3 2055L2341.3 2086.4L2341.3 2117.8L2341.3 2149.1L2341.3 2159.6L2334 2149.1L2306.2 2117.8L2306.2 2086.4L2306.2 2055L2329.8 2023.6ZM1420.4 2086.4L1431.9 2067.6L1443.3 2086.4L1460 2117.8L1454.4 2149.1L1454.4 2180.5L1431.9 2209.1L1409.4 2180.5L1403.8 2149.1L1403.8 2117.8L1420.4 2086.4ZM832 2117.8L843.4 2098.9L875.5 2117.8L896.9 2130.3L950.4 2122.6L970 2149.1L978.5 2180.5L972.9 2211.9L972.9 2243.2L950.4 2256.4L915.3 2243.2L896.9 2232.5L843.4 2232.5L808.3 2211.9L808.3 2180.5L815.4 2149.1L832 2117.8ZM1264.1 2117.8L1271.4 2111L1324.9 2089.1L1353 2117.8L1353 2149.1L1347.4 2180.5L1347 2211.9L1352.5 2243.2L1358.1 2274.6L1378.4 2289.5L1403.8 2274.6L1426.9 2243.2L1431.9 2224.4L1436.9 2243.2L1460 2274.6L1467 2306L1485.4 2316.8L1520.5 2337.4L1524.9 2368.8L1524.9 2400.1L1524.9 2431.5L1485.4 2431.5L1431.9 2431.5L1378.4 2431.5L1324.9 2431.5L1302.8 2431.5L1302.8 2400.1L1302.8 2368.8L1302.8 2337.4L1297.3 2306L1291.7 2274.6L1274.6 2243.2L1271.4 2240.5L1266.7 2243.2L1251.1 2274.6L1245.5 2306L1240 2337.4L1240 2368.8L1240 2400.1L1235.2 2431.5L1217.9 2431.5L1164.4 2431.5L1142.3 2431.5L1150 2400.1L1150 2368.8L1150 2337.4L1150 2306L1150 2274.6L1150 2243.2L1153.7 2211.9L1153.7 2180.5L1164.4 2151.9L1217.9 2164.8L1236.3 2149.1L1264.1 2117.8ZM2246.2 2337.4L2287.8 2320.9L2305.1 2337.4L2305.1 2368.8L2305.1 2400.1L2305.1 2431.5L2287.8 2431.5L2234.3 2431.5L2207.6 2431.5L2222.8 2400.1L2234.3 2381.3L2239 2368.8L2246.2 2337.4Z"/>
<path fill="#ff4c00" fill-rule="evenodd" d="M201.5 1866.8L201.5 1847.1L255 1847.1L308.5 1847.1L341.9 1866.8L362 1878.5L395.4 1898.1L362 1917.7L353.1 1929.5L353.1 1960.9L353.1 1992.2L338.2 2023.6L324.2 2055L338.2 2086.4L362 2108.5L385.8 2086.4L399.7 2055L415.5 2045.8L427.6 2055L440.6 2086.4L435.5 2117.8L437.8 2149.1L437.8 2180.5L442.2 2211.9L447.3 2243.2L469 2259.9L497.4 2243.2L502.4 2211.9L515.8 2180.5L522.5 2173.4L544.1 2149.1L560.2 2117.8L576 2098.1L588.1 2117.8L623.7 2149.1L629.5 2154.4L635.2 2149.1L651.1 2117.8L657.9 2086.4L657.9 2055L648.1 2023.6L638.4 1992.2L629.5 1980.5L620.5 1992.2L610.9 2023.6L576 2049.8L531.4 2023.6L531.4 1992.2L531.4 1960.9L531.4 1929.5L542.5 1898.1L576 1878.5L609.4 1898.1L620.5 1929.5L629.5 1941.3L649.5 1929.5L683 1909.9L736.5 1909.9L752.2 1929.5L766.2 1960.9L766.2 1992.2L771.3 2023.6L736.5 2049.8L727.5 2055L717.8 2086.4L723.5 2117.8L730.7 2149.1L736.5 2160.9L748.6 2180.5L761.5 2211.9L761.5 2243.2L761.5 2274.6L736.5 2292.1L722.8 2306L708 2337.4L683 2352.1L661.3 2368.8L656.2 2400.1L649.5 2431.5L629.5 2431.5L576 2431.5L559.9 2431.5L553.7 2400.1L544.8 2368.8L540 2337.4L536.1 2306L522.5 2292.1L498.7 2306L494.1 2337.4L489 2368.8L485 2400.1L485 2431.5L469 2431.5L415.5 2431.5L395.4 2431.5L399.4 2400.1L399.4 2368.8L395.4 2337.4L415.5 2319.9L439.3 2306L415.5 2292.1L380.6 2274.6L362 2263.7L352 2274.6L344.5 2306L339.7 2337.4L330.8 2368.8L324.5 2400.1L328.6 2431.5L308.5 2431.5L255 2431.5L201.5 2431.5L201.5 2400.1L201.5 2368.8L201.5 2337.4L201.5 2306L201.5 2274.6L201.5 2243.2L201.5 2211.9L201.5 2180.5L201.5 2149.1L201.5 2117.8L201.5 2086.4L201.5 2055L201.5 2023.6L201.5 1992.2L201.5 1960.9L201.5 1929.5L201.5 1898.1L201.5 1866.8ZM1576.6 1960.9L1592.4 1941.3L1645.9 1941.3L1699.4 1941.3L1752.9 1951.6L1765 1960.9L1782.6 1992.2L1800.6 2023.6L1806.4 2035.4L1822.1 2055L1841.2 2086.4L1806.4 2103.8L1789 2117.8L1777.9 2149.1L1772.9 2180.5L1775.1 2211.9L1779.6 2243.2L1774.9 2274.6L1774.9 2306L1774.9 2337.4L1775.1 2368.8L1779.6 2400.1L1779.6 2431.5L1752.9 2431.5L1699.4 2431.5L1645.9 2431.5L1592.4 2431.5L1560.5 2431.5L1560.5 2400.1L1560.5 2368.8L1567.3 2337.4L1572.3 2306L1572.3 2274.6L1592.4 2259.9L1608.4 2274.6L1612.4 2306L1612.4 2337.4L1624.2 2368.8L1632.9 2400.1L1645.9 2411L1664.5 2400.1L1687.2 2368.8L1699.4 2356.7L1709.3 2337.4L1716.8 2306L1726.1 2274.6L1726.1 2243.2L1726.1 2211.9L1727.8 2180.5L1699.4 2156.3L1645.9 2158.4L1612.4 2149.1L1592.4 2143.9L1538.9 2129.8L1530 2117.8L1526.7 2086.4L1538.9 2066.8L1547.8 2055L1547.8 2023.6L1557.5 1992.2L1576.6 1960.9ZM1986.9 1992.2L2020.3 1972.6L2053.8 1992.2L2073.8 2004L2094.4 2023.6L2107.3 2055L2127.3 2066.8L2160.8 2086.4L2180.8 2098.1L2189.7 2086.4L2200.9 2055L2234.3 2035.4L2246.5 2055L2259.4 2086.4L2266.2 2117.8L2261.1 2149.1L2256.6 2180.5L2256.6 2211.9L2250.4 2243.2L2234.3 2260.7L2218.3 2243.2L2207.6 2211.9L2198.2 2180.5L2180.8 2166.6L2127.3 2175.3L2121.6 2180.5L2105.7 2211.9L2100.6 2243.2L2096.1 2274.6L2096.1 2306L2096.1 2337.4L2096.1 2368.8L2100.6 2400.1L2100.6 2431.5L2073.8 2431.5L2020.3 2431.5L1966.8 2431.5L1946.8 2431.5L1946.8 2400.1L1950.8 2368.8L1950.8 2337.4L1966.8 2319.9L1984.2 2306L1988.5 2274.6L1993.6 2243.2L1993.6 2211.9L1993.6 2180.5L1995.3 2149.1L1985.4 2117.8L1966.8 2098.4L1933.9 2117.8L1913.3 2124.9L1901.2 2117.8L1878.5 2086.4L1883.6 2055L1901.2 2023.6L1913.3 2004L1966.8 2004L1986.9 1992.2ZM2316.2 2055L2341.3 2028.9L2341.3 2055L2341.3 2086.4L2341.3 2117.8L2341.3 2143.9L2316.2 2117.8L2316.2 2086.4L2316.2 2055ZM1280.3 2117.8L1324.9 2097.3L1345 2117.8L1345 2149.1L1340.9 2180.5L1342.7 2211.9L1347.2 2243.2L1351.6 2274.6L1378.4 2294.2L1411.8 2274.6L1431.9 2248.5L1451.9 2274.6L1457 2306L1485.4 2322.7L1510.5 2337.4L1517.2 2368.8L1517.2 2400.1L1517.2 2431.5L1485.4 2431.5L1431.9 2431.5L1378.4 2431.5L1324.9 2431.5L1307.1 2431.5L1307.1 2400.1L1307.1 2368.8L1307.1 2337.4L1302.6 2306L1298.1 2274.6L1284.4 2243.2L1271.4 2232.3L1252.8 2243.2L1244.7 2274.6L1240.2 2306L1235.7 2337.4L1235.7 2368.8L1235.7 2400.1L1230.2 2431.5L1217.9 2431.5L1164.4 2431.5L1146.6 2431.5L1152.8 2400.1L1152.8 2368.8L1152.8 2337.4L1152.8 2306L1152.8 2274.6L1152.8 2243.2L1156.8 2211.9L1156.8 2180.5L1164.4 2160L1217.9 2173.4L1246.3 2149.1L1271.4 2123L1280.3 2117.8ZM1411.8 2117.8L1431.9 2091.6L1451.9 2117.8L1447.9 2149.1L1447.9 2180.5L1431.9 2201L1415.8 2180.5L1411.8 2149.1L1411.8 2117.8ZM823.4 2149.1L843.4 2123L888 2149.1L896.9 2154.4L917 2149.1L950.4 2137.1L959.3 2149.1L970.5 2180.5L966.5 2211.9L966.5 2243.2L950.4 2252.7L925.4 2243.2L896.9 2226.6L843.4 2226.6L818.4 2211.9L818.4 2180.5L823.4 2149.1ZM2258.1 2337.4L2287.8 2325.6L2300.2 2337.4L2300.2 2368.8L2300.2 2400.1L2300.2 2431.5L2287.8 2431.5L2234.3 2431.5L2222.2 2431.5L2234.3 2411.9L2243.2 2400.1L2252.9 2368.8L2258.1 2337.4Z"/>
<path fill="#ff0c00" fill-rule="evenodd" d="M201.5 1898.1L201.5 1882.4L255 1882.4L281.7 1898.1L308.5 1913.8L323.3 1929.5L323.3 1960.9L323.3 1992.2L318.4 2023.6L308.5 2039.3L295.1 2055L308.5 2070.7L318.4 2086.4L335.2 2117.8L362 2133.4L388.7 2117.8L405.6 2086.4L415.5 2070.7L423.8 2086.4L422.2 2117.8L428.9 2149.1L428.9 2180.5L431.5 2211.9L434.6 2243.2L469 2269.7L514.1 2243.2L515.8 2211.9L522.5 2196.2L535.8 2180.5L556.9 2149.1L576 2125.6L604.6 2149.1L629.5 2171.8L654.3 2149.1L663.8 2117.8L674.6 2086.4L674.6 2055L671.3 2023.6L668.1 1992.2L656.2 1960.9L683 1945.2L736.5 1945.2L746.4 1960.9L746.4 1992.2L748.1 2023.6L736.5 2032.3L697.8 2055L694.6 2086.4L707.3 2117.8L711.6 2149.1L727.5 2180.5L736.5 2196.2L744.8 2211.9L744.8 2243.2L744.8 2274.6L736.5 2280.4L711.4 2306L691.3 2337.4L683 2342.3L648.6 2368.8L645.5 2400.1L636.1 2431.5L629.5 2431.5L576 2431.5L570.6 2431.5L562.6 2400.1L553.7 2368.8L550.2 2337.4L547.5 2306L522.5 2280.4L478.9 2306L477.3 2337.4L475.7 2368.8L474.3 2400.1L474.3 2431.5L469 2431.5L415.5 2431.5L408.8 2431.5L410.1 2400.1L410.1 2368.8L408.8 2337.4L415.5 2331.6L459.1 2306L415.5 2280.4L403.9 2274.6L362 2250.1L339.6 2274.6L334.2 2306L330.8 2337.4L321.9 2368.8L313.8 2400.1L315.2 2431.5L308.5 2431.5L255 2431.5L201.5 2431.5L201.5 2400.1L201.5 2368.8L201.5 2337.4L201.5 2306L201.5 2274.6L201.5 2243.2L201.5 2211.9L201.5 2180.5L201.5 2149.1L201.5 2117.8L201.5 2086.4L201.5 2055L201.5 2023.6L201.5 1992.2L201.5 1960.9L201.5 1929.5L201.5 1898.1ZM561.1 1929.5L576 1913.8L590.8 1929.5L602.7 1960.9L590.8 1992.2L587.6 2023.6L576 2032.3L561.1 2023.6L561.1 1992.2L561.1 1960.9L561.1 1929.5ZM1580.7 1992.2L1592.4 1976.6L1645.9 1976.6L1699.4 1976.6L1752.9 1976.6L1762.8 1992.2L1781.5 2023.6L1797.4 2055L1806.4 2070.7L1818 2086.4L1806.4 2092.2L1774.5 2117.8L1761.2 2149.1L1759.5 2180.5L1766.2 2211.9L1772 2243.2L1768.6 2274.6L1768.6 2306L1768.6 2337.4L1766.2 2368.8L1768.9 2400.1L1768.9 2431.5L1752.9 2431.5L1699.4 2431.5L1645.9 2431.5L1592.4 2431.5L1573.3 2431.5L1573.3 2400.1L1573.3 2368.8L1584 2337.4L1585.7 2306L1585.7 2274.6L1592.4 2269.7L1597.7 2274.6L1599.1 2306L1599.1 2337.4L1611.5 2368.8L1616.7 2400.1L1645.9 2424.7L1687.7 2400.1L1699.4 2384.4L1712.7 2368.8L1721.8 2337.4L1727.1 2306L1733.7 2274.6L1733.7 2243.2L1736.8 2211.9L1744.5 2180.5L1726.1 2149.1L1699.4 2133.4L1645.9 2133.4L1592.4 2126.5L1565.6 2117.8L1565.6 2086.4L1577.5 2055L1577.5 2023.6L1580.7 1992.2ZM1903.4 2055L1913.3 2039.3L1940.1 2055L1940.1 2086.4L1913.3 2102.1L1901.7 2086.4L1903.4 2055ZM1993.6 2055L2020.3 2039.3L2047.1 2055L2073.8 2070.7L2100.6 2086.4L2127.3 2102.1L2154.1 2117.8L2180.8 2133.4L2194.2 2117.8L2219.5 2086.4L2234.3 2070.7L2242.7 2086.4L2253.4 2117.8L2250.4 2149.1L2247.7 2180.5L2247.7 2211.9L2239.7 2243.2L2234.3 2249.1L2229 2243.2L2218.3 2211.9L2212.6 2180.5L2180.8 2154.9L2127.3 2157.8L2102.5 2180.5L2092.9 2211.9L2089.9 2243.2L2087.2 2274.6L2087.2 2306L2087.2 2337.4L2087.2 2368.8L2089.9 2400.1L2089.9 2431.5L2073.8 2431.5L2020.3 2431.5L1966.8 2431.5L1960.1 2431.5L1960.1 2400.1L1961.5 2368.8L1961.5 2337.4L1966.8 2331.6L1998.6 2306L2001.2 2274.6L2004.3 2243.2L2004.3 2211.9L2004.3 2180.5L2012 2149.1L2008.7 2117.8L1993.6 2086.4L1993.6 2055ZM2332.9 2055L2341.3 2046.3L2341.3 2055L2341.3 2086.4L2341.3 2117.8L2341.3 2126.5L2332.9 2117.8L2332.9 2086.4L2332.9 2055ZM1310 2117.8L1324.9 2110.9L1331.6 2117.8L1331.6 2149.1L1330.2 2180.5L1335.6 2211.9L1338.3 2243.2L1340.9 2274.6L1378.4 2302.1L1425.2 2274.6L1431.9 2265.9L1438.6 2274.6L1440.2 2306L1485.4 2332.5L1493.7 2337.4L1504.5 2368.8L1504.5 2400.1L1504.5 2431.5L1485.4 2431.5L1431.9 2431.5L1378.4 2431.5L1324.9 2431.5L1314.2 2431.5L1314.2 2400.1L1314.2 2368.8L1314.2 2337.4L1311.5 2306L1308.8 2274.6L1300.6 2243.2L1271.4 2218.7L1229.5 2243.2L1234 2274.6L1231.3 2306L1228.6 2337.4L1228.6 2368.8L1228.6 2400.1L1222 2431.5L1217.9 2431.5L1164.4 2431.5L1153.7 2431.5L1157.4 2400.1L1157.4 2368.8L1157.4 2337.4L1157.4 2306L1157.4 2274.6L1157.4 2243.2L1161.9 2211.9L1161.9 2180.5L1164.4 2173.7L1191.2 2180.5L1217.9 2196.2L1244.7 2180.5L1263 2149.1L1271.4 2140.4L1310 2117.8ZM1425.2 2117.8L1431.9 2109L1438.6 2117.8L1437.2 2149.1L1437.2 2180.5L1431.9 2187.3L1426.5 2180.5L1425.2 2149.1L1425.2 2117.8ZM836.8 2149.1L843.4 2140.4L858.3 2149.1L896.9 2171.8L950.4 2164.8L957.1 2180.5L955.8 2211.9L955.8 2243.2L950.4 2246.4L942.1 2243.2L896.9 2216.8L843.4 2216.8L835.1 2211.9L835.1 2180.5L836.8 2149.1ZM2277.9 2337.4L2287.8 2333.5L2291.9 2337.4L2291.9 2368.8L2291.9 2400.1L2291.9 2431.5L2287.8 2431.5L2261.1 2431.5L2272.9 2400.1L2276.2 2368.8L2277.9 2337.4Z"/>
<path fill="#e40000" fill-rule="evenodd" d="M1726.1 2023.6L1752.9 2007.9L1762.4 2023.6L1779.6 2055L1793 2086.4L1760.1 2117.8L1752.9 2133.4L1726.1 2117.8L1712.7 2086.4L1712.7 2055L1726.1 2023.6ZM228.2 2055L255 2039.3L268.4 2055L281.7 2086.4L281.7 2117.8L308.5 2133.4L335.2 2149.1L335.2 2180.5L348.6 2211.9L348.6 2243.2L327.2 2274.6L323.9 2306L321.9 2337.4L312.9 2368.8L308.5 2384.4L281.7 2400.1L281.7 2431.5L255 2431.5L201.5 2431.5L201.5 2400.1L201.5 2368.8L201.5 2337.4L201.5 2306L201.5 2274.6L201.5 2243.2L201.5 2211.9L201.5 2180.5L201.5 2149.1L201.5 2117.8L201.5 2086.4L201.5 2070.7L228.2 2055ZM1619.1 2055L1645.9 2039.3L1672.6 2055L1672.6 2086.4L1645.9 2102.1L1619.1 2086.4L1619.1 2055ZM676.6 2117.8L683 2102.1L691.1 2117.8L692.5 2149.1L709.7 2180.5L723.1 2211.9L723.1 2243.2L723.1 2274.6L700 2306L683 2329.5L669.6 2337.4L635.8 2368.8L634.8 2400.1L629.5 2415.8L576 2415.8L571.5 2400.1L562.6 2368.8L560.5 2337.4L558.9 2306L535.8 2274.6L535.8 2243.2L535.8 2211.9L562.6 2180.5L569.6 2149.1L576 2141.3L585.5 2149.1L602.7 2180.5L629.5 2196.2L642.8 2180.5L673.4 2149.1L676.6 2117.8ZM2047.1 2117.8L2073.8 2102.1L2100.6 2117.8L2100.6 2149.1L2083.4 2180.5L2080.2 2211.9L2079.2 2243.2L2078.3 2274.6L2078.3 2306L2078.3 2337.4L2078.3 2368.8L2079.2 2400.1L2079.2 2431.5L2073.8 2431.5L2020.3 2431.5L1993.6 2431.5L1993.6 2400.1L1993.6 2368.8L1993.6 2337.4L2013.1 2306L2014 2274.6L2015 2243.2L2015 2211.9L2015 2180.5L2020.3 2164.8L2047.1 2149.1L2047.1 2117.8ZM2220.9 2117.8L2234.3 2102.1L2240.7 2117.8L2239.7 2149.1L2238.8 2180.5L2238.8 2211.9L2234.3 2227.6L2229 2211.9L2227.1 2180.5L2207.6 2149.1L2220.9 2117.8ZM388.7 2149.1L415.5 2133.4L419.9 2149.1L419.9 2180.5L420.8 2211.9L421.8 2243.2L415.5 2258.9L388.7 2243.2L388.7 2211.9L388.7 2180.5L388.7 2149.1ZM1298.1 2211.9L1324.9 2196.2L1328.5 2211.9L1329.4 2243.2L1330.2 2274.6L1351.6 2306L1351.6 2337.4L1378.4 2353.1L1405.1 2337.4L1431.9 2321.7L1458.6 2337.4L1485.4 2353.1L1491.7 2368.8L1491.7 2400.1L1491.7 2431.5L1485.4 2431.5L1458.6 2431.5L1431.9 2415.8L1405.1 2431.5L1378.4 2431.5L1324.9 2431.5L1321.3 2431.5L1321.3 2400.1L1321.3 2368.8L1321.3 2337.4L1320.4 2306L1319.5 2274.6L1316.8 2243.2L1298.1 2211.9ZM1747.5 2211.9L1752.9 2196.2L1757.3 2211.9L1764.3 2243.2L1762.3 2274.6L1762.3 2306L1762.3 2337.4L1757.3 2368.8L1758.2 2400.1L1758.2 2431.5L1752.9 2431.5L1726.1 2431.5L1726.1 2400.1L1739.5 2368.8L1734.2 2337.4L1737.4 2306L1741.4 2274.6L1741.4 2243.2L1747.5 2211.9ZM1162.1 2243.2L1164.4 2227.6L1191.2 2243.2L1217.9 2258.9L1223.3 2274.6L1222.4 2306L1221.5 2337.4L1221.5 2368.8L1221.5 2400.1L1217.9 2415.8L1191.2 2431.5L1164.4 2431.5L1160.8 2431.5L1162.1 2400.1L1162.1 2368.8L1162.1 2337.4L1162.1 2306L1162.1 2274.6L1162.1 2243.2ZM1586 2368.8L1592.4 2353.1L1598.7 2368.8L1600.5 2400.1L1619.1 2431.5L1592.4 2431.5L1586 2431.5L1586 2400.1L1586 2368.8Z"/>
<path fill="#c20000" fill-rule="evenodd" d="M1739.5 2055L1752.9 2039.3L1761.8 2055L1766.2 2086.4L1752.9 2102.1L1739.5 2086.4L1739.5 2055ZM228.2 2149.1L255 2133.4L281.7 2149.1L281.7 2180.5L308.5 2196.2L321.9 2211.9L321.9 2243.2L314.7 2274.6L313.6 2306L312.9 2337.4L308.5 2353.1L281.7 2368.8L255 2384.4L201.5 2384.4L201.5 2368.8L201.5 2337.4L201.5 2306L201.5 2274.6L201.5 2243.2L201.5 2211.9L201.5 2180.5L201.5 2164.8L228.2 2149.1ZM669.6 2180.5L683 2164.8L691.9 2180.5L696.3 2211.9L696.3 2243.2L696.3 2274.6L688.6 2306L683 2313.8L642.8 2337.4L629.5 2353.1L602.7 2368.8L576 2384.4L571.5 2368.8L570.8 2337.4L570.3 2306L562.6 2274.6L562.6 2243.2L562.6 2211.9L576 2196.2L602.7 2211.9L629.5 2227.6L656.2 2211.9L669.6 2180.5ZM1749 2243.2L1752.9 2227.6L1756.7 2243.2L1756 2274.6L1756 2306L1756 2337.4L1752.9 2353.1L1746.6 2337.4L1747.7 2306L1749 2274.6L1749 2243.2Z"/>
<path fill="none" stroke="#3a0000" stroke-opacity="0.75" stroke-width="1.4" d="M1378.4 2191L1371.3 2211.9L1378.4 2232.8L1391.1 2211.9L1378.4 2191M1859.8 2191L1824.2 2211.9L1811.2 2243.2L1806.4 2253.7L1800.1 2274.6L1800.1 2306L1800.1 2337.4L1806.4 2358.3L1824.2 2368.8L1838.4 2400.1L1859.8 2421L1881.2 2400.1L1895.5 2368.8L1908.5 2337.4L1913.3 2326.9L1927.4 2306L1929.6 2274.6L1934.7 2243.2L1913.3 2222.3L1895.5 2211.9L1859.8 2191M2341.3 2222.3L2305.6 2243.2L2305.6 2274.6L2319.9 2306L2333.1 2337.4L2333.1 2368.8L2333.1 2400.1L2333.1 2431.5M932.6 2431.5L932.6 2400.1L918.3 2368.8L918.3 2337.4L918.3 2306L896.9 2285.1L861.3 2306L843.4 2316.5L807.8 2337.4L807.8 2368.8L807.8 2400.1L807.8 2431.5M1118 2431.5L1134.2 2400.1L1134.2 2368.8L1134.2 2337.4L1134.2 2306L1134.2 2274.6L1134.2 2243.2L1136.4 2211.9L1136.4 2180.5L1123.7 2149.1L1127.1 2117.8L1110.9 2096.8L1075.3 2117.8L1075.3 2149.1L1062.3 2180.5L1062.3 2211.9L1057.4 2222.3L1021.8 2243.2L1021.8 2274.6L1021.8 2306L1021.8 2337.4L1021.8 2368.8L1021.8 2400.1L1021.8 2431.5M1278.5 2431.5L1278.5 2400.1L1278.5 2368.8L1278.5 2337.4L1271.4 2316.5L1264.3 2337.4L1264.3 2368.8L1264.3 2400.1L1263.2 2431.5M469 2133.4L464.5 2149.1L464.5 2180.5L469 2196.2L475.7 2180.5L483.8 2149.1L469 2133.4M1485.4 2133.4L1480 2149.1L1480 2180.5L1475.5 2211.9L1477 2243.2L1485.4 2258.9L1538.9 2258.9L1553.7 2243.2L1538.9 2227.6L1512.1 2211.9L1512.1 2180.5L1495.3 2149.1L1485.4 2133.4M1378.4 2164.8L1373 2180.5L1364.1 2211.9L1373.9 2243.2L1378.4 2258.9L1386.7 2243.2L1403.9 2211.9L1383.7 2180.5L1378.4 2164.8M2341.3 2205.1L2299.4 2180.5L2287.8 2164.8L2283.3 2180.5L2283.3 2211.9L2282.5 2243.2L2276.2 2274.6L2287.8 2290.3L2298.5 2306L2324.8 2337.4L2324.8 2368.8L2324.8 2400.1L2324.8 2431.5M1645.9 2227.6L1631 2243.2L1640.5 2274.6L1645.9 2290.3L1699.4 2283.3L1703.2 2274.6L1703.2 2243.2L1699.4 2227.6L1645.9 2227.6M2180.8 2227.6L2154.1 2243.2L2127.3 2258.9L2122.9 2274.6L2122.9 2306L2122.9 2337.4L2122.9 2368.8L2127.3 2384.4L2154.1 2368.8L2180.8 2353.1L2192.4 2337.4L2195.7 2306L2192.4 2274.6L2186.2 2243.2L2180.8 2227.6M939.7 2306L950.4 2290.3L977.2 2306L977.2 2337.4L977.2 2368.8L950.4 2384.4L939.7 2368.8L939.7 2337.4L939.7 2306M362 2353.1L357.5 2368.8L356.6 2400.1L362 2415.8L367.3 2400.1L367.3 2368.8L362 2353.1M527.8 2431.5L526.9 2400.1L522.5 2384.4L517.1 2400.1L517.1 2431.5M1125.2 2431.5L1138.8 2400.1L1138.8 2368.8L1138.8 2337.4L1138.8 2306L1138.8 2274.6L1138.8 2243.2L1141.5 2211.9L1141.5 2180.5L1136.4 2149.1L1143.3 2117.8L1125.8 2086.4L1125.8 2055L1110.9 2039.3L1084.2 2055L1084.2 2086.4L1057.4 2102.1L1030.7 2117.8L1030.7 2149.1L1030.7 2180.5L1003.9 2196.2L998.6 2211.9L998.6 2243.2L950.4 2271.5L896.9 2265.9L870.2 2274.6L843.4 2290.3L816.7 2306L789.9 2321.7L775.1 2337.4L775.1 2368.8L775.1 2400.1L778.3 2431.5M1285.7 2431.5L1285.7 2400.1L1285.7 2368.8L1285.7 2337.4L1275.9 2306L1271.4 2290.3L1266.9 2306L1257.1 2337.4L1257.1 2368.8L1257.1 2400.1L1254.9 2431.5M1886.6 2431.5L1902.6 2400.1L1913.3 2384.4L1918.7 2368.8L1918.7 2337.4L1941.5 2306L1945.8 2274.6L1956.1 2243.2L1940.1 2211.9L1913.3 2196.2L1886.6 2180.5L1859.8 2164.8L1833.1 2180.5L1806.4 2196.2L1801.9 2211.9L1802.5 2243.2L1793.8 2274.6L1793.8 2306L1793.8 2337.4L1801.9 2368.8L1806.4 2384.4L1817 2400.1L1833.1 2431.5M1217.9 2066.8L1184.5 2086.4L1184.5 2117.8L1217.9 2137.4L1230.1 2117.8L1251.3 2086.4L1217.9 2066.8M469 2098.1L462.3 2117.8L455.6 2149.1L455.6 2180.5L463.6 2211.9L469 2231.5L475.7 2211.9L489 2180.5L513.6 2149.1L489.6 2117.8L469 2098.1M1378.4 2098.1L1371.7 2117.8L1371.7 2149.1L1362.3 2180.5L1357 2211.9L1365 2243.2L1373 2274.6L1378.4 2278.5L1385.1 2274.6L1403.5 2243.2L1416.6 2211.9L1394.4 2180.5L1385.1 2149.1L1385.1 2117.8L1378.4 2098.1M1485.4 2098.1L1478.7 2117.8L1469.3 2149.1L1469.3 2180.5L1455.7 2211.9L1460.3 2243.2L1478.7 2274.6L1485.4 2294.2L1505.4 2306L1538.9 2325.6L1545.6 2306L1545.6 2274.6L1583.5 2243.2L1592.4 2231.5L1601.3 2243.2L1629.8 2274.6L1639.2 2306L1639.2 2337.4L1645.9 2357L1661.6 2337.4L1679.3 2306L1699.4 2300.8L1710.8 2274.6L1710.8 2243.2L1704.7 2211.9L1699.4 2192.3L1645.9 2199.8L1592.4 2192.3L1572.3 2180.5L1538.9 2171.3L1515.1 2149.1L1494.3 2117.8L1485.4 2098.1M789.9 2129.5L777.8 2149.1L789.9 2168.7L796.6 2149.1L789.9 2129.5M2341.3 2191.4L2322.7 2180.5L2300 2149.1L2287.8 2129.5L2282.5 2149.1L2274.4 2180.5L2274.4 2211.9L2271.8 2243.2L2252.9 2274.6L2254.4 2306L2287.8 2309.9L2316.6 2337.4L2316.6 2368.8L2316.6 2400.1L2316.6 2431.5M368.7 2431.5L378 2400.1L378 2368.8L368.7 2337.4L362 2317.8L357.5 2337.4L348.6 2368.8L345.9 2400.1L355.3 2431.5M538.5 2431.5L535.8 2400.1L526.9 2368.8L522.5 2349.1L515.8 2368.8L506.4 2400.1L506.4 2431.5M703.5 2431.5L716.4 2400.1L683 2380.5L677.6 2400.1L676.3 2431.5M1132.3 2431.5L1143.5 2400.1L1143.5 2368.8L1143.5 2337.4L1143.5 2306L1143.5 2274.6L1143.5 2243.2L1146.6 2211.9L1146.6 2180.5L1149.1 2149.1L1159.5 2117.8L1155.5 2086.4L1155.5 2055L1144.3 2023.6L1110.9 2004L1077.5 2023.6L1057.4 2035.4L1024 2055L1003.9 2066.8L983.4 2086.4L988.2 2117.8L995 2149.1L997.2 2180.5L987.9 2211.9L987.9 2243.2L950.4 2265.2L896.9 2248.5L843.4 2255L810 2274.6L789.9 2286.4L769.4 2306L745.4 2337.4L745.4 2368.8L745.4 2400.1L755.1 2431.5M1292.8 2431.5L1292.8 2400.1L1292.8 2368.8L1292.8 2337.4L1284.8 2306L1276.7 2274.6L1271.4 2265.4L1266.1 2274.6L1258 2306L1250 2337.4L1250 2368.8L1250 2400.1L1246.7 2431.5M1920 2431.5L1920 2400.1L1929.4 2368.8L1929.4 2337.4L1955.6 2306L1962 2274.6L1966.8 2262.9L1972.2 2243.2L1972.2 2211.9L1972.2 2180.5L1966.8 2160.9L1913.3 2160.9L1893.3 2149.1L1859.8 2129.5L1826.4 2149.1L1806.3 2160.9L1799.7 2180.5L1793 2211.9L1794.9 2243.2L1787.5 2274.6L1787.5 2306L1787.5 2337.4L1793 2368.8L1801 2400.1L1801 2431.5M2160.8 2431.5L2160.8 2400.1L2180.8 2388.4L2196.5 2368.8L2215.7 2337.4L2225.4 2306L2215.7 2274.6L2196.9 2243.2L2186.2 2211.9L2180.8 2199.8L2147.4 2211.9L2127.3 2223.6L2122 2243.2L2113.9 2274.6L2113.9 2306L2113.9 2337.4L2113.9 2368.8L2122 2400.1L2122 2431.5M1806.3 1879.3L1774.3 1898.1L1774.3 1929.5L1799.1 1960.9L1806.3 1979.7L1827.7 1992.2L1848.4 2023.6L1859.8 2042.5L1867.1 2023.6L1871.3 1992.3L1891.9 1960.9L1891.9 1929.5L1891.9 1898.1L1859.8 1879.3L1806.3 1879.3M469 2044.5L461.7 2055L464 2086.4L454.3 2117.8L450.3 2149.1L450.3 2180.5L457.2 2211.9L465.2 2243.2L469 2246.2L474 2243.2L483.7 2211.9L497.1 2180.5L522.5 2153.4L526.3 2149.1L522.5 2130.3L514.2 2117.8L522.5 2105.2L533.9 2086.4L522.5 2075.9L486.8 2055L469 2044.5M629.5 2044.5L618 2055L618 2086.4L622.2 2117.8L629.5 2124.5L633.3 2117.8L634.5 2086.4L634.5 2055L629.5 2044.5M896.9 2036.2L864.8 2055L896.9 2073.8L914.8 2055L896.9 2036.2M2341.3 2183.2L2336.6 2180.5L2314.6 2149.1L2292.8 2117.8L2292.8 2086.4L2292.8 2055L2299.3 2023.6L2319.9 1992.2L2287.8 1973.4L2270 1992.2L2276.3 2023.6L2280.5 2055L2282.8 2086.4L2284 2117.8L2276 2149.1L2269.1 2180.5L2269.1 2211.9L2265.3 2243.2L2239 2274.6L2234.3 2287.2L2229.7 2274.6L2203.3 2243.2L2192.6 2211.9L2180.8 2185.3L2127.3 2205.2L2123.5 2211.9L2115.6 2243.2L2108.6 2274.6L2108.6 2306L2108.6 2337.4L2108.6 2368.8L2115.6 2400.1L2115.6 2431.5M376.7 2431.5L384.5 2400.1L384.5 2368.8L376.7 2337.4L394.1 2306L362 2295.5L358.9 2306L352.2 2337.4L343.3 2368.8L339.5 2400.1L347.3 2431.5M544.9 2431.5L541.2 2400.1L532.3 2368.8L525.6 2337.4L522.5 2318.6L517.5 2337.4L507.8 2368.8L500 2400.1L500 2431.5M728.2 2431.5L736.5 2418.9L741.1 2431.5M1136.6 2431.5L1146.3 2400.1L1146.3 2368.8L1146.3 2337.4L1146.3 2306L1146.3 2274.6L1146.3 2243.2L1149.6 2211.9L1149.6 2180.5L1156.8 2149.1L1164.4 2128.2L1200.1 2149.1L1217.9 2153.4L1222.9 2149.1L1244.7 2117.8L1271.4 2093.1L1289.2 2086.4L1324.9 2065.5L1360.6 2086.4L1363.7 2117.8L1363.7 2149.1L1355.9 2180.5L1352.7 2211.9L1359.7 2243.2L1366.6 2274.6L1378.4 2283.3L1393.1 2274.6L1413.5 2243.2L1424.2 2211.9L1400.9 2180.5L1393.1 2149.1L1393.1 2117.8L1389.9 2086.4L1396.2 2055L1410.5 2023.6L1431.9 2011.1L1453.3 2023.6L1467.5 2055L1473.9 2086.4L1470.7 2117.8L1462.9 2149.1L1462.9 2180.5L1443.8 2211.9L1450.3 2243.2L1470.7 2274.6L1480.4 2306L1485.4 2308.9L1533.9 2337.4L1535.1 2368.8L1535.1 2400.1L1535.1 2431.5M1297.1 2431.5L1297.1 2400.1L1297.1 2368.8L1297.1 2337.4L1290.1 2306L1283.2 2274.6L1271.4 2254.3L1259.6 2274.6L1252.7 2306L1245.7 2337.4L1245.7 2368.8L1245.7 2400.1L1241.8 2431.5M1542.7 2431.5L1542.7 2400.1L1542.7 2368.8L1543.9 2337.4L1553.6 2306L1553.6 2274.6L1592.4 2246.2L1623.4 2274.6L1631.2 2306L1631.2 2337.4L1642 2368.8L1645.9 2379.2L1653.2 2368.8L1680.5 2337.4L1699.4 2316.5L1702.4 2306L1715.4 2274.6L1715.4 2243.2L1711.1 2211.9L1704.4 2180.5L1699.4 2176.2L1667.3 2180.5L1645.9 2185.3L1624.5 2180.5L1592.4 2173.8L1538.9 2160.2L1527 2149.1L1505 2117.8L1492.7 2086.4L1496.8 2055L1496.8 2023.6L1503.2 1992.2L1517.5 1960.9L1485.4 1942.1L1453.3 1960.9L1431.9 1973.4L1410.5 1960.9L1378.4 1942.1L1346.3 1960.9L1324.9 1973.4L1271.4 1973.4L1217.9 1973.4L1196.5 1960.9L1164.4 1942.1L1132.3 1960.9L1110.9 1973.4L1057.4 1973.4L1025.3 1992.2L1003.9 2004.8L992.5 2023.6L986.1 2055L958.7 2086.4L969.3 2117.8L984.3 2149.1L989.2 2180.5L981.5 2211.9L981.5 2243.2L950.4 2261.4L902 2243.2L896.9 2240.3L843.4 2240.3L795 2211.9L795 2180.5L804.7 2149.1L801.4 2117.8L789.9 2107.3L772.1 2117.8L763.2 2149.1L782.7 2180.5L784.9 2211.9L784.9 2243.2L784.9 2274.6L744.7 2306L736.5 2318.6L731.4 2337.4L683 2365.8L679.1 2368.8L671.2 2400.1L668.2 2431.5M1928.1 2431.5L1928.1 2400.1L1935.8 2368.8L1935.8 2337.4L1964 2306L1966.8 2293.4L1970.7 2274.6L1978.6 2243.2L1978.6 2211.9L1978.6 2180.5L1971.9 2149.1L1966.8 2138.7L1913.3 2144.8L1867.1 2117.8L1859.8 2107.3L1827.7 2117.8L1806.3 2130.3L1801.3 2149.1L1791.6 2180.5L1787.6 2211.9L1790.3 2243.2L1783.7 2274.6L1783.7 2306L1783.7 2337.4L1787.6 2368.8L1794.6 2400.1L1794.6 2431.5M2188.1 2431.5L2192.3 2400.1L2215.4 2368.8L2229.7 2337.4L2234.3 2324.8L2287.8 2314.6L2311.7 2337.4L2311.7 2368.8L2311.7 2400.1L2311.7 2431.5M1752.9 1851.1L1726.1 1866.8L1726.1 1898.1L1741 1929.5L1752.9 1933.2L1789.3 1960.9L1802.4 1992.2L1806.4 1999.2L1833.1 2023.6L1853.6 2055L1859.8 2070.7L1863.8 2055L1876.9 2023.6L1886.6 1992.2L1913.3 1967.8L1940.1 1960.9L1940.1 1929.5L1940.1 1898.1L1913.3 1882.4L1886.6 1866.8L1859.8 1851.1L1806.4 1851.1L1752.9 1851.1M2341.3 1976.6L2314.6 1960.9L2287.8 1945.2L2275.9 1960.9L2246.2 1992.2L2261.1 2023.6L2270.8 2055L2276.1 2086.4L2278.9 2117.8L2271.8 2149.1L2265.5 2180.5L2265.5 2211.9L2261.1 2243.2L2234.3 2272.3L2207.6 2243.2L2196.9 2211.9L2183.7 2180.5L2180.8 2178.2L2168.9 2180.5L2127.3 2196.2L2118.4 2211.9L2111.3 2243.2L2105 2274.6L2105 2306L2105 2337.4L2105 2368.8L2111.3 2400.1L2111.3 2431.5M362 2016.7L358 2023.6L355.7 2055L358 2086.4L362 2090.1L365.9 2086.4L368.3 2055L415.5 2027.3L442.2 2023.6L415.5 2007.9L362 2016.7M469 2030.6L452 2055L457.3 2086.4L448.9 2117.8L446.7 2149.1L446.7 2180.5L452.9 2211.9L460.1 2243.2L469 2250.1L480.7 2243.2L489 2211.9L502.4 2180.5L522.5 2159.1L531.4 2149.1L528.8 2117.8L549.2 2086.4L522.5 2062L510.6 2055L469 2030.6M629.5 2030.6L602.7 2055L602.7 2086.4L612.4 2117.8L629.5 2133.4L638.4 2117.8L641.2 2086.4L641.2 2055L629.5 2030.6M2341.3 2173.5L2324.3 2149.1L2299.5 2117.8L2299.5 2086.4L2299.5 2055L2314.6 2023.6L2341.3 1999.2M382 2431.5L388.7 2400.1L388.7 2368.8L382 2337.4L415.5 2308.3L419.4 2306L415.5 2303.7L362 2281.6L354.8 2306L348.6 2337.4L339.7 2368.8L335.2 2400.1L341.9 2431.5M549.2 2431.5L544.8 2400.1L535.8 2368.8L529.7 2337.4L524.7 2306L522.5 2303.7L518.5 2306L510.8 2337.4L502.4 2368.8L495.7 2400.1L495.7 2431.5M1139.4 2431.5L1148.1 2400.1L1148.1 2368.8L1148.1 2337.4L1148.1 2306L1148.1 2274.6L1148.1 2243.2L1151.7 2211.9L1151.7 2180.5L1161.9 2149.1L1164.4 2142.2L1176.3 2149.1L1217.9 2159.1L1229.6 2149.1L1254.4 2117.8L1271.4 2102.1L1313 2086.4L1324.9 2079.4L1336.8 2086.4L1358.3 2117.8L1358.3 2149.1L1351.6 2180.5L1349.9 2211.9L1356.1 2243.2L1362.3 2274.6L1378.4 2286.4L1398.5 2274.6L1420.2 2243.2L1429.3 2211.9L1405.1 2180.5L1398.5 2149.1L1398.5 2117.8L1405.1 2086.4L1420 2055L1431.9 2039.3L1443.8 2055L1458.6 2086.4L1465.3 2117.8L1458.6 2149.1L1458.6 2180.5L1435.8 2211.9L1443.6 2243.2L1465.3 2274.6L1473.7 2306L1485.4 2312.9L1527.2 2337.4L1530 2368.8L1530 2400.1L1530 2431.5M1299.9 2431.5L1299.9 2400.1L1299.9 2368.8L1299.9 2337.4L1293.7 2306L1287.4 2274.6L1271.4 2246.9L1255.4 2274.6L1249.1 2306L1242.9 2337.4L1242.9 2368.8L1242.9 2400.1L1238.5 2431.5M1547.8 2431.5L1547.8 2400.1L1547.8 2368.8L1550.6 2337.4L1558.9 2306L1558.9 2274.6L1592.4 2250.1L1619.1 2274.6L1625.8 2306L1625.8 2337.4L1636.9 2368.8L1645.9 2393.2L1662.9 2368.8L1693.1 2337.4L1699.4 2330.4L1706.6 2306L1718.5 2274.6L1718.5 2243.2L1715.4 2211.9L1711.1 2180.5L1699.4 2170.5L1645.9 2176.8L1592.4 2164.8L1538.9 2152.8L1534.9 2149.1L1512.1 2117.8L1502.4 2086.4L1512.1 2055L1512.1 2023.6L1527 1992.2L1538.9 1976.6L1545.2 1960.9L1550.8 1929.5L1538.9 1913.8L1512.1 1898.1L1485.4 1882.4L1458.6 1898.1L1431.9 1913.8L1378.4 1913.8L1351.6 1929.5L1324.9 1945.2L1271.4 1945.2L1217.9 1945.2L1191.2 1929.5L1164.4 1913.8L1137.7 1929.5L1110.9 1945.2L1057.4 1945.2L1030.7 1960.9L1003.9 1976.6L992 1992.2L977.2 2023.6L962.3 2055L950.4 2070.7L938.5 2055L908.8 2023.6L908.8 1992.2L896.9 1976.6L870.2 1960.9L870.2 1929.5L843.4 1913.8L816.7 1898.1L816.7 1866.8L789.9 1851.1L763.2 1866.8L778.1 1898.1L783.7 1929.5L786 1960.9L786 1992.2L789.9 2007.9L816.7 2023.6L816.7 2055L843.4 2070.7L870.2 2086.4L896.9 2102.1L950.4 2102.1L956.7 2117.8L977.2 2149.1L983.9 2180.5L977.2 2211.9L977.2 2243.2L950.4 2258.9L908.6 2243.2L896.9 2236.4L843.4 2236.4L801.6 2211.9L801.6 2180.5L810 2149.1L816.7 2117.8L789.9 2093.3L748.3 2117.8L753.5 2149.1L772.9 2180.5L778.2 2211.9L778.2 2243.2L778.2 2274.6L736.5 2303.7L734.2 2306L724.7 2337.4L683 2361.9L674 2368.8L666.9 2400.1L662.9 2431.5M1933.4 2431.5L1933.4 2400.1L1940.1 2368.8L1940.1 2337.4L1966.8 2308.3L1969.7 2306L1975.8 2274.6L1982.9 2243.2L1982.9 2211.9L1982.9 2180.5L1978.5 2149.1L1966.8 2124.7L1913.3 2139.1L1876.9 2117.8L1859.8 2093.3L1806.4 2115.4L1803.5 2117.8L1794.6 2149.1L1786.3 2180.5L1784.1 2211.9L1787.2 2243.2L1781.2 2274.6L1781.2 2306L1781.2 2337.4L1784.1 2368.8L1790.3 2400.1L1790.3 2431.5M2197.8 2431.5L2207.6 2400.1L2228 2368.8L2234.3 2353.1L2238.3 2337.4L2287.8 2317.8L2308.4 2337.4L2308.4 2368.8L2308.4 2400.1L2308.4 2431.5M394.1 1804L394.1 1835.4L415.5 1847.9L447.6 1866.8L469 1879.3L522.5 1879.3L543.9 1866.8L543.9 1835.4L576 1816.5L608.1 1835.4L608.1 1866.8L629.5 1879.3L650.9 1866.8L650.9 1835.4L683 1816.5L715.1 1835.4L715.1 1866.8L736.5 1879.3L754.3 1898.1L771.1 1929.5L778.1 1960.9L778.1 1992.2L785.3 2023.6L768.5 2055L736.5 2073.8L731.8 2086.4L733.2 2117.8L736.5 2130.3L743.7 2149.1L763.2 2180.5L771.6 2211.9L771.6 2243.2L771.6 2274.6L736.5 2299L729.6 2306L718.1 2337.4L683 2358L668.9 2368.8L662.6 2400.1L657.5 2431.5M1464 1804L1431.9 1822.8L1378.4 1822.8L1357 1835.4L1357 1866.8L1357 1898.1L1324.9 1916.9L1271.4 1916.9L1217.9 1916.9L1185.8 1898.1L1185.8 1866.8L1185.8 1835.4L1164.4 1822.8L1143 1835.4L1143 1866.8L1110.9 1885.6L1089.5 1898.1L1057.4 1916.9L1036 1929.5L1003.9 1948.3L971.8 1929.5L971.8 1898.1L971.8 1866.8L971.8 1835.4L971.8 1804M2341.3 1885.6L2319.9 1898.1L2287.8 1916.9L2266.4 1929.5L2252.1 1960.9L2234.3 1979.7L2202.2 1960.9L2202.2 1929.5L2180.8 1916.9L2159.4 1929.5L2159.4 1960.9L2127.3 1979.7L2105.9 1992.2L2119.1 2023.6L2127.3 2036.2L2180.8 2036.2L2202.2 2023.6L2234.3 2004.8L2245.8 2023.6L2261.1 2055L2269.4 2086.4L2273.8 2117.8L2267.5 2149.1L2261.9 2180.5L2261.9 2211.9L2256.8 2243.2L2234.3 2267.7L2211.8 2243.2L2201.1 2211.9L2189.5 2180.5L2180.8 2173.5L2145.2 2180.5L2127.3 2187.2L2113.3 2211.9L2107 2243.2L2101.5 2274.6L2101.5 2306L2101.5 2337.4L2101.5 2368.8L2107 2400.1L2107 2431.5M415.5 1979.7L394.1 1992.2L362 2002.7L350.1 2023.6L343.1 2055L350.1 2086.4L362 2097.4L373.9 2086.4L380.9 2055L415.5 2034.7L442.2 2055L450.6 2086.4L443.6 2117.8L443.1 2149.1L443.1 2180.5L448.6 2211.9L455 2243.2L469 2254L487.4 2243.2L494.4 2211.9L507.8 2180.5L522.5 2164.8L536.5 2149.1L541.4 2117.8L564.5 2086.4L543.9 2055L522.5 2042.4L490.4 2023.6L469 2011.1L436.9 1992.2L415.5 1979.7M932.6 1992.2L950.4 1973.4L968.3 1992.2L961.9 2023.6L950.4 2042.4L932.6 2023.6L932.6 1992.2M629.5 2011.1L624.8 2023.6L587.4 2055L587.4 2086.4L602.7 2117.8L629.5 2142.4L643.5 2117.8L647.8 2086.4L647.8 2055L634.1 2023.6L629.5 2011.1M1420.4 2086.4L1431.9 2067.6L1443.3 2086.4L1460 2117.8L1454.4 2149.1L1454.4 2180.5L1431.9 2209.1L1409.4 2180.5L1403.8 2149.1L1403.8 2117.8L1420.4 2086.4M832 2117.8L843.4 2098.9L875.5 2117.8L896.9 2130.3L950.4 2122.6L970 2149.1L978.5 2180.5L972.9 2211.9L972.9 2243.2L950.4 2256.4L915.3 2243.2L896.9 2232.5L843.4 2232.5L808.3 2211.9L808.3 2180.5L815.4 2149.1L832 2117.8M2341.3 2159.6L2334 2149.1L2306.2 2117.8L2306.2 2086.4L2306.2 2055L2329.8 2023.6L2341.3 2013.2M387.4 2431.5L393 2400.1L393 2368.8L387.4 2337.4L415.5 2313L427.4 2306L415.5 2299L366.6 2274.6L362 2271.9L359.5 2274.6L350.7 2306L345 2337.4L336.1 2368.8L331 2400.1L336.6 2431.5M553.5 2431.5L548.3 2400.1L539.4 2368.8L533.8 2337.4L529.3 2306L522.5 2299L510.6 2306L504.1 2337.4L497.1 2368.8L491.4 2400.1L491.4 2431.5M1142.3 2431.5L1150 2400.1L1150 2368.8L1150 2337.4L1150 2306L1150 2274.6L1150 2243.2L1153.7 2211.9L1153.7 2180.5L1164.4 2151.9L1217.9 2164.8L1236.3 2149.1L1264.1 2117.8L1271.4 2111L1324.9 2089.1L1353 2117.8L1353 2149.1L1347.4 2180.5L1347 2211.9L1352.5 2243.2L1358.1 2274.6L1378.4 2289.5L1403.8 2274.6L1426.9 2243.2L1431.9 2224.4L1436.9 2243.2L1460 2274.6L1467 2306L1485.4 2316.8L1520.5 2337.4L1524.9 2368.8L1524.9 2400.1L1524.9 2431.5M1302.8 2431.5L1302.8 2400.1L1302.8 2368.8L1302.8 2337.4L1297.3 2306L1291.7 2274.6L1274.6 2243.2L1271.4 2240.5L1266.7 2243.2L1251.1 2274.6L1245.5 2306L1240 2337.4L1240 2368.8L1240 2400.1L1235.2 2431.5M1552.9 2431.5L1552.9 2400.1L1552.9 2368.8L1557.3 2337.4L1564.3 2306L1564.3 2274.6L1592.4 2254L1614.8 2274.6L1620.5 2306L1620.5 2337.4L1631.9 2368.8L1642.6 2400.1L1645.9 2402.9L1650.5 2400.1L1672.6 2368.8L1699.4 2342.2L1701.8 2337.4L1710.7 2306L1721.5 2274.6L1721.5 2243.2L1719.7 2211.9L1717.7 2180.5L1699.4 2164.8L1645.9 2169.4L1592.4 2155.8L1560.3 2149.1L1538.9 2144.3L1519.3 2117.8L1512.1 2086.4L1527.4 2055L1527.4 2023.6L1538.9 2004.8L1543.5 1992.2L1557.8 1960.9L1574.5 1929.5L1560.3 1898.1L1592.4 1879.3L1624.5 1898.1L1645.9 1910.7L1699.4 1910.7L1717.2 1929.5L1752.9 1940.6L1779.6 1960.9L1794.5 1992.2L1806.4 2013.2L1817.8 2023.6L1841 2055L1855.2 2086.4L1806.4 2110.8L1797.7 2117.8L1788 2149.1L1780.9 2180.5L1780.5 2211.9L1784.2 2243.2L1778.7 2274.6L1778.7 2306L1778.7 2337.4L1780.5 2368.8L1786 2400.1L1786 2431.5M1938.8 2431.5L1938.8 2400.1L1944.4 2368.8L1944.4 2337.4L1966.8 2313L1975.5 2306L1980.8 2274.6L1987.2 2243.2L1987.2 2211.9L1987.2 2180.5L1985.2 2149.1L1971.5 2117.8L1966.8 2112.9L1958.6 2117.8L1913.3 2133.4L1886.6 2117.8L1864.5 2086.4L1871.7 2055L1886.6 2023.6L1901.9 1992.2L1913.3 1981.8L1966.8 1973.4L1988.2 1960.9L1988.2 1929.5L1988.2 1898.1L1966.8 1885.6L1934.7 1866.8L1934.7 1835.4L1934.7 1804M2207.6 2431.5L2222.8 2400.1L2234.3 2381.3L2239 2368.8L2246.2 2337.4L2287.8 2320.9L2305.1 2337.4L2305.1 2368.8L2305.1 2400.1L2305.1 2431.5M201.5 1847.1L255 1847.1L308.5 1847.1L341.9 1866.8L362 1878.5L395.4 1898.1L362 1917.7L353.1 1929.5L353.1 1960.9L353.1 1992.2L338.2 2023.6L324.2 2055L338.2 2086.4L362 2108.5L385.8 2086.4L399.7 2055L415.5 2045.8L427.6 2055L440.6 2086.4L435.5 2117.8L437.8 2149.1L437.8 2180.5L442.2 2211.9L447.3 2243.2L469 2259.9L497.4 2243.2L502.4 2211.9L515.8 2180.5L522.5 2173.4L544.1 2149.1L560.2 2117.8L576 2098.1L588.1 2117.8L623.7 2149.1L629.5 2154.4L635.2 2149.1L651.1 2117.8L657.9 2086.4L657.9 2055L648.1 2023.6L638.4 1992.2L629.5 1980.5L620.5 1992.2L610.9 2023.6L576 2049.8L531.4 2023.6L531.4 1992.2L531.4 1960.9L531.4 1929.5L542.5 1898.1L576 1878.5L609.4 1898.1L620.5 1929.5L629.5 1941.3L649.5 1929.5L683 1909.9L736.5 1909.9L752.2 1929.5L766.2 1960.9L766.2 1992.2L771.3 2023.6L736.5 2049.8L727.5 2055L717.8 2086.4L723.5 2117.8L730.7 2149.1L736.5 2160.9L748.6 2180.5L761.5 2211.9L761.5 2243.2L761.5 2274.6L736.5 2292.1L722.8 2306L708 2337.4L683 2352.1L661.3 2368.8L656.2 2400.1L649.5 2431.5M1411.8 2117.8L1431.9 2091.6L1451.9 2117.8L1447.9 2149.1L1447.9 2180.5L1431.9 2201L1415.8 2180.5L1411.8 2149.1L1411.8 2117.8M823.4 2149.1L843.4 2123L888 2149.1L896.9 2154.4L917 2149.1L950.4 2137.1L959.3 2149.1L970.5 2180.5L966.5 2211.9L966.5 2243.2L950.4 2252.7L925.4 2243.2L896.9 2226.6L843.4 2226.6L818.4 2211.9L818.4 2180.5L823.4 2149.1M2341.3 2143.9L2316.2 2117.8L2316.2 2086.4L2316.2 2055L2341.3 2028.9M395.4 2431.5L399.4 2400.1L399.4 2368.8L395.4 2337.4L415.5 2319.9L439.3 2306L415.5 2292.1L380.6 2274.6L362 2263.7L352 2274.6L344.5 2306L339.7 2337.4L330.8 2368.8L324.5 2400.1L328.6 2431.5M559.9 2431.5L553.7 2400.1L544.8 2368.8L540 2337.4L536.1 2306L522.5 2292.1L498.7 2306L494.1 2337.4L489 2368.8L485 2400.1L485 2431.5M1146.6 2431.5L1152.8 2400.1L1152.8 2368.8L1152.8 2337.4L1152.8 2306L1152.8 2274.6L1152.8 2243.2L1156.8 2211.9L1156.8 2180.5L1164.4 2160L1217.9 2173.4L1246.3 2149.1L1271.4 2123L1280.3 2117.8L1324.9 2097.3L1345 2117.8L1345 2149.1L1340.9 2180.5L1342.7 2211.9L1347.2 2243.2L1351.6 2274.6L1378.4 2294.2L1411.8 2274.6L1431.9 2248.5L1451.9 2274.6L1457 2306L1485.4 2322.7L1510.5 2337.4L1517.2 2368.8L1517.2 2400.1L1517.2 2431.5M1307.1 2431.5L1307.1 2400.1L1307.1 2368.8L1307.1 2337.4L1302.6 2306L1298.1 2274.6L1284.4 2243.2L1271.4 2232.3L1252.8 2243.2L1244.7 2274.6L1240.2 2306L1235.7 2337.4L1235.7 2368.8L1235.7 2400.1L1230.3 2431.5M1560.5 2431.5L1560.5 2400.1L1560.5 2368.8L1567.3 2337.4L1572.3 2306L1572.3 2274.6L1592.4 2259.9L1608.4 2274.6L1612.4 2306L1612.4 2337.4L1624.2 2368.8L1632.9 2400.1L1645.9 2411L1664.5 2400.1L1687.2 2368.8L1699.4 2356.7L1709.3 2337.4L1716.8 2306L1726.1 2274.6L1726.1 2243.2L1726.1 2211.9L1727.8 2180.5L1699.4 2156.3L1645.9 2158.4L1612.4 2149.1L1592.4 2143.9L1538.9 2129.8L1530 2117.8L1526.7 2086.4L1538.9 2066.8L1547.8 2055L1547.8 2023.6L1557.5 1992.2L1576.6 1960.9L1592.4 1941.3L1645.9 1941.3L1699.4 1941.3L1752.9 1951.6L1765 1960.9L1782.6 1992.2L1800.6 2023.6L1806.4 2035.4L1822.1 2055L1841.2 2086.4L1806.4 2103.8L1789 2117.8L1777.9 2149.1L1772.9 2180.5L1775.1 2211.9L1779.6 2243.2L1774.9 2274.6L1774.9 2306L1774.9 2337.4L1775.1 2368.8L1779.6 2400.1L1779.6 2431.5M1946.8 2431.5L1946.8 2400.1L1950.8 2368.8L1950.8 2337.4L1966.8 2319.9L1984.2 2306L1988.5 2274.6L1993.6 2243.2L1993.6 2211.9L1993.6 2180.5L1995.3 2149.1L1985.4 2117.8L1966.8 2098.4L1933.9 2117.8L1913.3 2124.9L1901.2 2117.8L1878.5 2086.4L1883.6 2055L1901.2 2023.6L1913.3 2004L1966.8 2004L1986.9 1992.2L2020.3 1972.6L2053.8 1992.2L2073.8 2004L2094.4 2023.6L2107.3 2055L2127.3 2066.8L2160.8 2086.4L2180.8 2098.1L2189.7 2086.4L2200.9 2055L2234.3 2035.4L2246.5 2055L2259.4 2086.4L2266.2 2117.8L2261.1 2149.1L2256.6 2180.5L2256.6 2211.9L2250.4 2243.2L2234.3 2260.7L2218.3 2243.2L2207.6 2211.9L2198.2 2180.5L2180.8 2166.6L2127.3 2175.3L2121.6 2180.5L2105.7 2211.9L2100.6 2243.2L2096.1 2274.6L2096.1 2306L2096.1 2337.4L2096.1 2368.8L2100.6 2400.1L2100.6 2431.5M2222.2 2431.5L2234.3 2411.9L2243.2 2400.1L2252.9 2368.8L2258.1 2337.4L2287.8 2325.6L2300.2 2337.4L2300.2 2368.8L2300.2 2400.1L2300.2 2431.5M201.5 1882.4L255 1882.4L281.7 1898.1L308.5 1913.8L323.3 1929.5L323.3 1960.9L323.3 1992.2L318.4 2023.6L308.5 2039.3L295.1 2055L308.5 2070.7L318.4 2086.4L335.2 2117.8L362 2133.4L388.7 2117.8L405.6 2086.4L415.5 2070.7L423.8 2086.4L422.2 2117.8L428.9 2149.1L428.9 2180.5L431.5 2211.9L434.6 2243.2L469 2269.7L514.1 2243.2L515.8 2211.9L522.5 2196.2L535.8 2180.5L556.9 2149.1L576 2125.6L604.6 2149.1L629.5 2171.8L654.3 2149.1L663.8 2117.8L674.6 2086.4L674.6 2055L671.3 2023.6L668.1 1992.2L656.2 1960.9L683 1945.2L736.5 1945.2L746.4 1960.9L746.4 1992.2L748.1 2023.6L736.5 2032.3L697.8 2055L694.6 2086.4L707.3 2117.8L711.6 2149.1L727.5 2180.5L736.5 2196.2L744.8 2211.9L744.8 2243.2L744.8 2274.6L736.5 2280.4L711.4 2306L691.3 2337.4L683 2342.3L648.6 2368.8L645.5 2400.1L636.1 2431.5M561.1 1929.5L576 1913.8L590.8 1929.5L602.7 1960.9L590.8 1992.2L587.6 2023.6L576 2032.3L561.1 2023.6L561.1 1992.2L561.1 1960.9L561.1 1929.5M1903.4 2055L1913.3 2039.3L1940.1 2055L1940.1 2086.4L1913.3 2102.1L1901.7 2086.4L1903.4 2055M1425.2 2117.8L1431.9 2109L1438.6 2117.8L1437.2 2149.1L1437.2 2180.5L1431.9 2187.3L1426.5 2180.5L1425.2 2149.1L1425.2 2117.8M836.8 2149.1L843.4 2140.4L858.3 2149.1L896.9 2171.8L950.4 2164.8L957.1 2180.5L955.8 2211.9L955.8 2243.2L950.4 2246.4L942.1 2243.2L896.9 2216.8L843.4 2216.8L835.1 2211.9L835.1 2180.5L836.8 2149.1M2341.3 2126.5L2332.9 2117.8L2332.9 2086.4L2332.9 2055L2341.3 2046.3M408.8 2431.5L410.1 2400.1L410.1 2368.8L408.8 2337.4L415.5 2331.6L459.1 2306L415.5 2280.4L403.9 2274.6L362 2250.1L339.6 2274.6L334.2 2306L330.8 2337.4L321.9 2368.8L313.8 2400.1L315.2 2431.5M570.6 2431.5L562.6 2400.1L553.7 2368.8L550.2 2337.4L547.5 2306L522.5 2280.4L478.9 2306L477.3 2337.4L475.7 2368.8L474.3 2400.1L474.3 2431.5M1153.7 2431.5L1157.4 2400.1L1157.4 2368.8L1157.4 2337.4L1157.4 2306L1157.4 2274.6L1157.4 2243.2L1161.9 2211.9L1161.9 2180.5L1164.4 2173.7L1191.2 2180.5L1217.9 2196.2L1244.7 2180.5L1263 2149.1L1271.4 2140.4L1310 2117.8L1324.9 2110.9L1331.6 2117.8L1331.6 2149.1L1330.2 2180.5L1335.6 2211.9L1338.3 2243.2L1340.9 2274.6L1378.4 2302.1L1425.2 2274.6L1431.9 2265.9L1438.6 2274.6L1440.2 2306L1485.4 2332.5L1493.7 2337.4L1504.5 2368.8L1504.5 2400.1L1504.5 2431.5M1314.2 2431.5L1314.2 2400.1L1314.2 2368.8L1314.2 2337.4L1311.5 2306L1308.8 2274.6L1300.6 2243.2L1271.4 2218.7L1229.5 2243.2L1234 2274.6L1231.3 2306L1228.6 2337.4L1228.6 2368.8L1228.6 2400.1L1222 2431.5M1573.3 2431.5L1573.3 2400.1L1573.3 2368.8L1584 2337.4L1585.7 2306L1585.7 2274.6L1592.4 2269.7L1597.7 2274.6L1599.1 2306L1599.1 2337.4L1611.5 2368.8L1616.7 2400.1L1645.9 2424.7L1687.7 2400.1L1699.4 2384.4L1712.7 2368.8L1721.8 2337.4L1727.1 2306L1733.7 2274.6L1733.7 2243.2L1736.8 2211.9L1744.5 2180.5L1726.1 2149.1L1699.4 2133.4L1645.9 2133.4L1592.4 2126.5L1565.6 2117.8L1565.6 2086.4L1577.5 2055L1577.5 2023.6L1580.7 1992.2L1592.4 1976.6L1645.9 1976.6L1699.4 1976.6L1752.9 1976.6L1762.8 1992.2L1781.5 2023.6L1797.4 2055L1806.4 2070.7L1818 2086.4L1806.4 2092.2L1774.5 2117.8L1761.2 2149.1L1759.5 2180.5L1766.2 2211.9L1772 2243.2L1768.6 2274.6L1768.6 2306L1768.6 2337.4L1766.2 2368.8L1768.9 2400.1L1768.9 2431.5M1960.1 2431.5L1960.1 2400.1L1961.5 2368.8L1961.5 2337.4L1966.8 2331.6L1998.6 2306L2001.2 2274.6L2004.3 2243.2L2004.3 2211.9L2004.3 2180.5L2012 2149.1L2008.7 2117.8L1993.6 2086.4L1993.6 2055L2020.3 2039.3L2047.1 2055L2073.8 2070.7L2100.6 2086.4L2127.3 2102.1L2154.1 2117.8L2180.8 2133.4L2194.2 2117.8L2219.5 2086.4L2234.3 2070.7L2242.7 2086.4L2253.4 2117.8L2250.4 2149.1L2247.7 2180.5L2247.7 2211.9L2239.7 2243.2L2234.3 2249.1L2229 2243.2L2218.3 2211.9L2212.6 2180.5L2180.8 2154.9L2127.3 2157.8L2102.5 2180.5L2092.9 2211.9L2089.9 2243.2L2087.2 2274.6L2087.2 2306L2087.2 2337.4L2087.2 2368.8L2089.9 2400.1L2089.9 2431.5M2261.1 2431.5L2272.9 2400.1L2276.2 2368.8L2277.9 2337.4L2287.8 2333.5L2291.9 2337.4L2291.9 2368.8L2291.9 2400.1L2291.9 2431.5M1726.1 2023.6L1752.9 2007.9L1762.4 2023.6L1779.6 2055L1793 2086.4L1760.1 2117.8L1752.9 2133.4L1726.1 2117.8L1712.7 2086.4L1712.7 2055L1726.1 2023.6M1619.1 2055L1645.9 2039.3L1672.6 2055L1672.6 2086.4L1645.9 2102.1L1619.1 2086.4L1619.1 2055M201.5 2070.7L228.2 2055L255 2039.3L268.4 2055L281.7 2086.4L281.7 2117.8L308.5 2133.4L335.2 2149.1L335.2 2180.5L348.6 2211.9L348.6 2243.2L327.2 2274.6L323.9 2306L321.9 2337.4L312.9 2368.8L308.5 2384.4L281.7 2400.1L281.7 2431.5M676.6 2117.8L683 2102.1L691.1 2117.8L692.5 2149.1L709.7 2180.5L723.1 2211.9L723.1 2243.2L723.1 2274.6L700 2306L683 2329.5L669.6 2337.4L635.8 2368.8L634.8 2400.1L629.5 2415.8L576 2415.8L571.5 2400.1L562.6 2368.8L560.5 2337.4L558.9 2306L535.8 2274.6L535.8 2243.2L535.8 2211.9L562.6 2180.5L569.6 2149.1L576 2141.3L585.5 2149.1L602.7 2180.5L629.5 2196.2L642.8 2180.5L673.4 2149.1L676.6 2117.8M2220.9 2117.8L2234.3 2102.1L2240.7 2117.8L2239.7 2149.1L2238.8 2180.5L2238.8 2211.9L2234.3 2227.6L2229 2211.9L2227.1 2180.5L2207.6 2149.1L2220.9 2117.8M388.7 2149.1L415.5 2133.4L419.9 2149.1L419.9 2180.5L420.8 2211.9L421.8 2243.2L415.5 2258.9L388.7 2243.2L388.7 2211.9L388.7 2180.5L388.7 2149.1M1160.8 2431.5L1162.1 2400.1L1162.1 2368.8L1162.1 2337.4L1162.1 2306L1162.1 2274.6L1162.1 2243.2L1164.4 2227.6L1191.2 2243.2L1217.9 2258.9L1223.3 2274.6L1222.4 2306L1221.5 2337.4L1221.5 2368.8L1221.5 2400.1L1217.9 2415.8L1191.2 2431.5M1321.3 2431.5L1321.3 2400.1L1321.3 2368.8L1321.3 2337.4L1320.4 2306L1319.5 2274.6L1316.8 2243.2L1298.1 2211.9L1324.9 2196.2L1328.5 2211.9L1329.4 2243.2L1330.2 2274.6L1351.6 2306L1351.6 2337.4L1378.4 2353.1L1405.1 2337.4L1431.9 2321.7L1458.6 2337.4L1485.4 2353.1L1491.7 2368.8L1491.7 2400.1L1491.7 2431.5M1458.6 2431.5L1431.9 2415.8L1405.1 2431.5M1586 2431.5L1586 2400.1L1586 2368.8L1592.4 2353.1L1598.7 2368.8L1600.5 2400.1L1619.1 2431.5M1726.1 2431.5L1726.1 2400.1L1739.5 2368.8L1734.2 2337.4L1737.4 2306L1741.4 2274.6L1741.4 2243.2L1747.5 2211.9L1752.9 2196.2L1757.3 2211.9L1764.3 2243.2L1762.3 2274.6L1762.3 2306L1762.3 2337.4L1757.3 2368.8L1758.2 2400.1L1758.2 2431.5M1993.6 2431.5L1993.6 2400.1L1993.6 2368.8L1993.6 2337.4L2013.1 2306L2014 2274.6L2015 2243.2L2015 2211.9L2015 2180.5L2020.3 2164.8L2047.1 2149.1L2047.1 2117.8L2073.8 2102.1L2100.6 2117.8L2100.6 2149.1L2083.4 2180.5L2080.2 2211.9L2079.2 2243.2L2078.3 2274.6L2078.3 2306L2078.3 2337.4L2078.3 2368.8L2079.2 2400.1L2079.2 2431.5M1739.5 2055L1752.9 2039.3L1761.8 2055L1766.2 2086.4L1752.9 2102.1L1739.5 2086.4L1739.5 2055M201.5 2164.8L228.2 2149.1L255 2133.4L281.7 2149.1L281.7 2180.5L308.5 2196.2L321.9 2211.9L321.9 2243.2L314.7 2274.6L313.6 2306L312.9 2337.4L308.5 2353.1L281.7 2368.8L255 2384.4L201.5 2384.4M669.6 2180.5L683 2164.8L691.9 2180.5L696.3 2211.9L696.3 2243.2L696.3 2274.6L688.6 2306L683 2313.8L642.8 2337.4L629.5 2353.1L602.7 2368.8L576 2384.4L571.5 2368.8L570.8 2337.4L570.3 2306L562.6 2274.6L562.6 2243.2L562.6 2211.9L576 2196.2L602.7 2211.9L629.5 2227.6L656.2 2211.9L669.6 2180.5M1749 2243.2L1752.9 2227.6L1756.7 2243.2L1756 2274.6L1756 2306L1756 2337.4L1752.9 2353.1L1746.6 2337.4L1747.7 2306L1749 2274.6L1749 2243.2"/>
<path fill="none" stroke="#300" stroke-opacity="0.6" stroke-width="2.6" d="M255 1804v7M255 2431.5v-7M308.5 1804v7M308.5 2431.5v-7M362 1804v7M362 2431.5v-7M415.5 1804v7M415.5 2431.5v-7M469 1804v12M469 2431.5v-12M522.5 1804v7M522.5 2431.5v-7M576 1804v7M576 2431.5v-7M629.5 1804v7M629.5 2431.5v-7M683 1804v7M683 2431.5v-7M736.5 1804v12M736.5 2431.5v-12M789.9 1804v7M789.9 2431.5v-7M843.4 1804v7M843.4 2431.5v-7M896.9 1804v7M896.9 2431.5v-7M950.4 1804v7M950.4 2431.5v-7M1003.9 1804v12M1003.9 2431.5v-12M1057.4 1804v7M1057.4 2431.5v-7M1110.9 1804v7M1110.9 2431.5v-7M1164.4 1804v7M1164.4 2431.5v-7M1217.9 1804v7M1217.9 2431.5v-7M1271.4 1804v12M1271.4 2431.5v-12M1324.9 1804v7M1324.9 2431.5v-7M1378.4 1804v7M1378.4 2431.5v-7M1431.9 1804v7M1431.9 2431.5v-7M1485.4 1804v7M1485.4 2431.5v-7M1538.9 1804v12M1538.9 2431.5v-12M1592.4 1804v7M1592.4 2431.5v-7M1645.9 1804v7M1645.9 2431.5v-7M1699.4 1804v7M1699.4 2431.5v-7M1752.9 1804v7M1752.9 2431.5v-7M1806.4 1804v12M1806.4 2431.5v-12M1859.8 1804v7M1859.8 2431.5v-7M1913.3 1804v7M1913.3 2431.5v-7M1966.8 1804v7M1966.8 2431.5v-7M2020.3 1804v7M2020.3 2431.5v-7M2073.8 1804v12M2073.8 2431.5v-12M2127.3 1804v7M2127.3 2431.5v-7M2180.8 1804v7M2180.8 2431.5v-7M2234.3 1804v7M2234.3 2431.5v-7M2287.8 1804v7M2287.8 2431.5v-7M201.5 1819.7h20M2341.3 1819.7h-20M201.5 1835.4h20M2341.3 1835.4h-20M201.5 1851.1h20M2341.3 1851.1h-20M201.5 1866.8h20M2341.3 1866.8h-20M201.5 1882.4h20M2341.3 1882.4h-20M201.5 1898.1h20M2341.3 1898.1h-20M201.5 1913.8h20M2341.3 1913.8h-20M201.5 1929.5h20M2341.3 1929.5h-20M201.5 1945.2h20M2341.3 1945.2h-20M201.5 1960.9h42M2341.3 1960.9h-42M201.5 1976.6h20M2341.3 1976.6h-20M201.5 1992.2h20M2341.3 1992.2h-20M201.5 2007.9h20M2341.3 2007.9h-20M201.5 2023.6h20M2341.3 2023.6h-20M201.5 2039.3h20M2341.3 2039.3h-20M201.5 2055h20M2341.3 2055h-20M201.5 2070.7h20M2341.3 2070.7h-20M201.5 2086.4h20M2341.3 2086.4h-20M201.5 2102.1h20M2341.3 2102.1h-20M201.5 2117.8h42M2341.3 2117.8h-42M201.5 2133.4h20M2341.3 2133.4h-20M201.5 2149.1h20M2341.3 2149.1h-20M201.5 2164.8h20M2341.3 2164.8h-20M201.5 2180.5h20M2341.3 2180.5h-20M201.5 2196.2h20M2341.3 2196.2h-20M201.5 2211.9h20M2341.3 2211.9h-20M201.5 2227.6h20M2341.3 2227.6h-20M201.5 2243.2h20M2341.3 2243.2h-20M201.5 2258.9h20M2341.3 2258.9h-20M201.5 2274.6h42M2341.3 2274.6h-42M201.5 2290.3h20M2341.3 2290.3h-20M201.5 2306h20M2341.3 2306h-20M201.5 2321.7h20M2341.3 2321.7h-20M201.5 2337.4h20M2341.3 2337.4h-20M201.5 2353.1h20M2341.3 2353.1h-20M201.5 2368.8h20M2341.3 2368.8h-20M201.5 2384.4h20M2341.3 2384.4h-20M201.5 2400.1h20M2341.3 2400.1h-20M201.5 2415.8h20M2341.3 2415.8h-20"/>
<rect x="201.5" y="1804" width="2139.8" height="627.5" fill="none" stroke="#1a0a00" stroke-width="2.4"/>
<rect x="204.7" y="2649" width="2139.5" height="629" fill="#000000"/>
<path fill="#2e00d8" fill-rule="evenodd" d="M204.7 2649L258.2 2649L311.7 2649L365.2 2649L418.6 2649L472.1 2649L525.6 2649L579.1 2649L632.6 2649L686.1 2649L739.6 2649L793.1 2649L846.5 2649L900 2649L953.5 2649L1007 2649L1060.5 2649L1114 2649L1167.5 2649L1221 2649L1274.5 2649L1327.9 2649L1381.4 2649L1434.9 2649L1488.4 2649L1541.9 2649L1595.4 2649L1648.9 2649L1702.3 2649L1755.8 2649L1809.3 2649L1862.8 2649L1916.3 2649L1969.8 2649L2023.3 2649L2076.8 2649L2130.2 2649L2183.7 2649L2237.2 2649L2290.7 2649L2344.2 2649L2344.2 2680.4L2344.2 2711.9L2344.2 2743.3L2344.2 2774.8L2344.2 2806.2L2344.2 2837.7L2344.2 2869.2L2344.2 2900.6L2344.2 2932.1L2344.2 2963.5L2344.2 2994.9L2344.2 3026.4L2344.2 3057.8L2344.2 3089.3L2344.2 3120.8L2344.2 3152.2L2344.2 3183.7L2344.2 3215.1L2344.2 3246.6L2344.2 3278L2290.7 3278L2237.2 3278L2183.7 3278L2130.2 3278L2076.8 3278L2023.3 3278L1969.8 3278L1916.3 3278L1862.8 3278L1809.3 3278L1755.8 3278L1702.3 3278L1648.9 3278L1595.4 3278L1541.9 3278L1488.4 3278L1434.9 3278L1381.4 3278L1327.9 3278L1274.5 3278L1221 3278L1167.5 3278L1114 3278L1060.5 3278L1007 3278L953.5 3278L900 3278L846.5 3278L793.1 3278L739.6 3278L686.1 3278L632.6 3278L579.1 3278L525.6 3278L472.1 3278L418.6 3278L365.2 3278L311.7 3278L258.2 3278L204.7 3278L204.7 3246.6L204.7 3215.1L204.7 3183.7L204.7 3152.2L204.7 3120.8L204.7 3089.3L204.7 3057.8L204.7 3026.4L204.7 2994.9L204.7 2963.5L204.7 2932.1L204.7 2900.6L204.7 2869.2L204.7 2837.7L204.7 2806.2L204.7 2774.8L204.7 2743.3L204.7 2711.9L204.7 2680.4L204.7 2649ZM900 3099.8L864.4 3120.8L846.5 3131.2L838.3 3152.2L838.3 3183.7L835.2 3215.1L830.3 3246.6L846.5 3267.5L900 3267.5L935.7 3246.6L935.7 3215.1L935.7 3183.7L935.7 3152.2L935.7 3120.8L900 3099.8Z"/>
<path fill="#009ae8" fill-rule="evenodd" d="M204.7 2649L258.2 2649L311.7 2649L365.2 2649L418.6 2649L472.1 2649L525.6 2649L579.1 2649L632.6 2649L686.1 2649L739.6 2649L793.1 2649L846.5 2649L900 2649L953.5 2649L1007 2649L1060.5 2649L1114 2649L1167.5 2649L1221 2649L1274.5 2649L1327.9 2649L1381.4 2649L1434.9 2649L1488.4 2649L1541.9 2649L1595.4 2649L1648.9 2649L1702.3 2649L1755.8 2649L1809.3 2649L1862.8 2649L1916.3 2649L1969.8 2649L2023.3 2649L2076.8 2649L2130.2 2649L2183.7 2649L2237.2 2649L2290.7 2649L2344.2 2649L2344.2 2680.4L2344.2 2711.9L2344.2 2743.3L2344.2 2774.8L2344.2 2806.2L2344.2 2837.7L2344.2 2869.2L2344.2 2900.6L2344.2 2932.1L2344.2 2963.5L2344.2 2994.9L2344.2 3026.4L2344.2 3057.8L2344.2 3089.3L2344.2 3120.8L2344.2 3152.2L2344.2 3183.7L2344.2 3215.1L2344.2 3246.6L2344.2 3278L2290.7 3278L2237.2 3278L2183.7 3278L2130.2 3278L2076.8 3278L2023.3 3278L1969.8 3278L1916.3 3278L1862.8 3278L1809.3 3278L1755.8 3278L1702.3 3278L1648.9 3278L1595.4 3278L1541.9 3278L1488.4 3278L1434.9 3278L1381.4 3278L1327.9 3278L1274.5 3278L1221 3278L1167.5 3278L1114 3278L1060.5 3278L1007 3278L953.5 3278L926.8 3278L953.5 3262.3L1007 3262.3L1033.8 3246.6L1033.8 3215.1L1033.8 3183.7L1033.8 3152.2L1033.8 3120.8L1007 3105L953.5 3105L926.8 3089.3L914.9 3057.8L900 3042.1L885.2 3057.8L873.3 3089.3L846.5 3105L834.9 3120.8L830.1 3152.2L830.1 3183.7L823.8 3215.1L814.1 3246.6L819.8 3278L793.1 3278L739.6 3278L686.1 3278L632.6 3278L579.1 3278L525.6 3278L472.1 3278L418.6 3278L365.2 3278L311.7 3278L258.2 3278L204.7 3278L204.7 3246.6L204.7 3215.1L204.7 3183.7L204.7 3152.2L204.7 3120.8L204.7 3089.3L204.7 3057.8L204.7 3026.4L204.7 2994.9L204.7 2963.5L204.7 2932.1L204.7 2900.6L204.7 2869.2L204.7 2837.7L204.7 2806.2L204.7 2774.8L204.7 2743.3L204.7 2711.9L204.7 2680.4L204.7 2649ZM365.2 3199.4L359.8 3215.1L359.8 3246.6L365.2 3262.3L376.8 3246.6L380 3215.1L365.2 3199.4ZM1114 3073.6L1087.2 3089.3L1087.2 3120.8L1087.2 3152.2L1114 3167.9L1119.3 3152.2L1119.3 3120.8L1123.9 3089.3L1114 3073.6ZM1274.5 3105L1266.1 3120.8L1267.8 3152.2L1264.5 3183.7L1274.5 3199.4L1279.8 3183.7L1279.8 3152.2L1279.8 3120.8L1274.5 3105ZM1541.9 3167.9L1536.5 3183.7L1536.5 3215.1L1541.9 3230.8L1546.3 3215.1L1546.3 3183.7L1541.9 3167.9ZM1862.8 3073.6L1858.4 3089.3L1858.4 3120.8L1858.4 3152.2L1862.8 3167.9L1872.7 3152.2L1868.2 3120.8L1868.2 3089.3L1862.8 3073.6Z"/>
<path fill="#00ff08" fill-rule="evenodd" d="M204.7 2649L258.2 2649L311.7 2649L365.2 2649L418.6 2649L472.1 2649L525.6 2649L579.1 2649L632.6 2649L686.1 2649L739.6 2649L793.1 2649L846.5 2649L900 2649L953.5 2649L1007 2649L1060.5 2649L1114 2649L1167.5 2649L1221 2649L1274.5 2649L1327.9 2649L1381.4 2649L1434.9 2649L1488.4 2649L1541.9 2649L1595.4 2649L1648.9 2649L1702.3 2649L1755.8 2649L1809.3 2649L1862.8 2649L1916.3 2649L1969.8 2649L2023.3 2649L2076.8 2649L2130.2 2649L2183.7 2649L2237.2 2649L2290.7 2649L2344.2 2649L2344.2 2680.4L2344.2 2711.9L2344.2 2743.3L2344.2 2774.8L2344.2 2806.2L2344.2 2837.7L2344.2 2869.2L2344.2 2900.6L2344.2 2932.1L2344.2 2963.5L2344.2 2994.9L2344.2 3026.4L2344.2 3057.8L2344.2 3089.3L2344.2 3101.1L2337.5 3120.8L2337.5 3152.2L2344.2 3171.9L2344.2 3183.7L2344.2 3215.1L2344.2 3246.6L2344.2 3278L2290.7 3278L2237.2 3278L2183.7 3278L2130.2 3278L2076.8 3278L2023.3 3278L1969.8 3278L1916.3 3278L1862.8 3278L1809.3 3278L1755.8 3278L1702.3 3278L1648.9 3278L1595.4 3278L1541.9 3278L1488.4 3278L1434.9 3278L1381.4 3278L1327.9 3278L1274.5 3278L1221 3278L1167.5 3278L1120.7 3278L1120.7 3246.6L1120.7 3215.1L1120.7 3183.7L1130 3152.2L1130 3120.7L1143.7 3089.3L1129.7 3057.8L1134.6 3026.4L1134.6 2994.9L1134.6 2963.5L1147.4 2932.1L1147.4 2900.6L1114 2880.9L1080.6 2900.6L1060.5 2912.4L1007 2912.4L991.3 2932.1L991.3 2963.5L986.4 2994.9L973.6 3026.4L973.6 3057.8L953.5 3069.6L944.6 3057.8L933.5 3026.4L920.6 2994.9L900 2975.3L866.6 2994.9L866.6 3026.4L855.5 3057.8L846.5 3069.6L830.8 3089.3L811.7 3120.8L821.9 3152.2L821.9 3183.7L812.4 3215.1L797.9 3246.6L793.1 3258.3L786.4 3278L739.6 3278L686.1 3278L632.6 3278L579.1 3278L532.3 3278L532.3 3246.6L525.6 3226.9L513.5 3246.6L509.9 3278L472.1 3278L418.6 3278L380.9 3278L400 3246.6L409.7 3215.1L398.6 3183.7L365.2 3164L358.5 3183.7L349.1 3215.1L349.1 3246.6L358.5 3278L311.7 3278L258.2 3278L204.7 3278L204.7 3246.6L204.7 3215.1L204.7 3183.7L204.7 3152.2L204.7 3120.8L204.7 3089.3L204.7 3057.8L204.7 3026.4L204.7 2994.9L204.7 2963.5L204.7 2932.1L204.7 2900.6L204.7 2869.2L204.7 2837.7L204.7 2806.2L204.7 2774.8L204.7 2743.3L204.7 2711.9L204.7 2680.4L204.7 2649ZM525.6 3077.2L518.9 3089.3L520.3 3120.8L525.6 3140.4L531 3120.8L532.3 3089.3L525.6 3077.2ZM1274.5 3038.2L1241 3057.8L1241 3089.3L1249.4 3120.8L1254.4 3152.2L1244.7 3183.7L1253.9 3215.1L1241 3246.6L1274.5 3266.2L1281.1 3246.6L1281.1 3215.1L1290.5 3183.6L1290.5 3152.2L1290.5 3120.7L1281.1 3089.3L1281.1 3057.8L1274.5 3038.2ZM1381.4 2912.4L1369.3 2932.1L1372.5 2963.5L1374.7 2994.9L1374.7 3026.4L1374.7 3057.8L1374.7 3089.3L1381.4 3109L1402 3089.3L1402 3057.8L1402 3026.4L1402 2994.9L1402 2963.5L1402 2932.1L1381.4 2912.4ZM1488.4 2912.4L1467.8 2932.1L1467.8 2963.5L1467.8 2994.9L1467.8 3026.4L1467.8 3057.8L1488.4 3077.5L1508.5 3089.3L1508.5 3120.8L1521.3 3152.2L1525.8 3183.6L1525.8 3215.1L1529.7 3246.6L1541.9 3266.2L1547.2 3246.6L1555.3 3215.1L1555.3 3183.7L1548.6 3152.2L1548.6 3120.8L1548.6 3089.3L1548.6 3057.8L1548.6 3026.4L1541.9 3006.7L1521.8 2994.9L1521.8 2963.5L1521.8 2932.1L1488.4 2912.4ZM1702.3 3132.5L1695.7 3152.2L1695.7 3183.7L1702.3 3203.3L1735.8 3183.7L1735.8 3152.2L1702.3 3132.5ZM1862.8 3006.7L1856.1 3026.4L1856.1 3057.8L1849.4 3089.3L1849.4 3120.8L1849.4 3152.2L1857.5 3183.7L1862.8 3203.3L1878.5 3183.6L1892.5 3152.2L1878.9 3120.7L1878.9 3089.3L1869.5 3057.8L1871.7 3026.4L1862.8 3006.7ZM2183.7 3006.7L2171.6 3026.4L2183.7 3046.1L2192.7 3026.4L2183.7 3006.7Z"/>
<path fill="#aaff00" fill-rule="evenodd" d="M204.7 2649L258.2 2649L311.7 2649L365.2 2649L418.6 2649L472.1 2649L525.6 2649L579.1 2649L632.6 2649L686.1 2649L739.6 2649L793.1 2649L846.5 2649L900 2649L953.5 2649L1007 2649L1060.5 2649L1114 2649L1167.5 2649L1221 2649L1274.5 2649L1327.9 2649L1381.4 2649L1434.9 2649L1488.4 2649L1541.9 2649L1595.4 2649L1648.9 2649L1702.3 2649L1755.8 2649L1809.3 2649L1862.8 2649L1916.3 2649L1969.8 2649L2023.3 2649L2076.8 2649L2130.2 2649L2183.7 2649L2237.2 2649L2290.7 2649L2344.2 2649L2344.2 2680.4L2344.2 2711.9L2344.2 2743.3L2344.2 2774.8L2344.2 2806.2L2344.2 2837.7L2344.2 2869.2L2344.2 2900.6L2344.2 2932.1L2344.2 2963.5L2344.2 2994.9L2344.2 3026.4L2344.2 3057.8L2344.2 3082.6L2336.9 3089.3L2329.5 3120.8L2329.5 3152.2L2339.2 3183.7L2344.2 3194.1L2344.2 3215.1L2344.2 3246.6L2344.2 3278L2290.7 3278L2237.2 3278L2183.7 3278L2130.2 3278L2076.8 3278L2023.3 3278L1969.8 3278L1916.3 3278L1862.8 3278L1809.3 3278L1755.8 3278L1702.3 3278L1648.9 3278L1595.4 3278L1546.9 3278L1553.7 3246.6L1560.6 3215.1L1560.6 3183.7L1556.6 3152.2L1556.6 3120.8L1556.6 3089.3L1556.6 3057.8L1556.6 3026.4L1549.2 2994.9L1553.3 2963.5L1574 2932.1L1574 2900.6L1574 2869.2L1574 2837.7L1559.7 2806.2L1541.9 2787.4L1509.8 2806.2L1509.8 2837.7L1509.8 2869.2L1488.4 2881.7L1456.3 2900.6L1443.1 2932.1L1443.1 2963.5L1443.1 2994.9L1443.1 3026.4L1443.1 3057.8L1456.3 3089.3L1470.6 3120.8L1488.4 3139.6L1496.6 3152.2L1519.4 3183.7L1519.4 3215.1L1515.1 3246.6L1488.4 3271.3L1483.4 3278L1434.9 3278L1381.4 3278L1327.9 3278L1279.5 3278L1289.2 3246.6L1289.2 3215.1L1296.9 3183.7L1296.9 3152.2L1296.9 3120.8L1289.2 3089.3L1289.2 3057.8L1279.5 3026.4L1279.5 2994.9L1274.5 2976.1L1253.1 2963.5L1232.4 2932.1L1232.4 2900.6L1221 2881.7L1199.6 2869.2L1199.6 2837.7L1167.5 2818.8L1146.1 2806.2L1114 2787.4L1081.9 2806.2L1060.5 2818.8L1007 2818.8L989.2 2837.7L974.9 2869.2L974.9 2900.6L972.4 2932.1L972.4 2963.5L961.8 2994.9L953.5 3007.5L945.3 2994.9L917.9 2963.5L917.9 2932.1L932.1 2900.6L932.1 2869.2L900 2850.3L867.9 2869.2L867.9 2900.6L846.5 2913.2L835.1 2932.1L835.1 2963.5L835.1 2994.9L835.1 3026.4L835.1 3057.9L811.9 3089.3L797.7 3120.8L816.9 3152.2L816.9 3183.7L805.6 3215.1L793.1 3239.8L788 3246.6L778.4 3278L739.6 3278L686.1 3278L632.6 3278L579.1 3278L540.3 3278L540.3 3246.6L529.4 3215.1L529.4 3183.7L529.4 3152.2L537.4 3120.8L540.3 3089.3L525.6 3062.7L510.9 3089.3L513.9 3120.8L521.8 3152.2L520.6 3183.7L520.6 3215.1L498.9 3246.6L491 3278L472.1 3278L418.6 3278L399.8 3278L414 3246.6L418.6 3234L423.7 3215.1L423.7 3183.7L418.6 3176.9L376.6 3152.2L369 3120.8L365.2 3101.9L362.1 3120.7L361.3 3152.2L350.5 3183.6L342.7 3215.1L342.7 3246.6L350.5 3278L311.7 3278L258.2 3278L204.7 3278L204.7 3246.6L204.7 3215.1L204.7 3183.7L204.7 3152.2L204.7 3120.8L204.7 3089.3L204.7 3057.8L204.7 3026.4L204.7 2994.9L204.7 2963.5L204.7 2932.1L204.7 2900.6L204.7 2869.2L204.7 2837.7L204.7 2806.2L204.7 2774.8L204.7 2743.3L204.7 2711.9L204.7 2680.4L204.7 2649ZM686.1 3164.8L681.1 3183.7L681.1 3215.1L681.1 3246.6L686.1 3253.3L691.1 3246.6L691.1 3215.1L691.1 3183.7L686.1 3164.8ZM739.6 2881.7L734.6 2900.6L735.8 2932.1L735.8 2963.5L734.6 2994.9L734.6 3026.4L734.6 3057.8L734.6 3089.3L739.6 3108.2L757.4 3089.3L751 3057.9L751 3026.4L751 2994.9L751 2963.5L751 2932.1L746.9 2900.6L739.6 2881.7ZM1381.4 2881.7L1363.6 2900.6L1354.7 2932.1L1361.8 2963.5L1366.7 2994.9L1366.7 3026.4L1366.7 3057.8L1366.7 3089.3L1376.4 3120.8L1381.4 3127.5L1399.3 3120.8L1426.7 3089.3L1426.7 3057.8L1426.7 3026.4L1426.7 2994.9L1426.7 2963.5L1426.7 2932.1L1413.5 2900.6L1381.4 2881.7ZM1702.3 3114L1697.3 3120.8L1687.6 3152.2L1687.6 3183.6L1697.3 3215.1L1702.3 3225.6L1734.4 3215.1L1755.8 3202.5L1759.7 3183.7L1759.7 3152.2L1759.7 3120.8L1755.8 3114L1702.3 3114ZM1862.8 2913.2L1855.5 2932.1L1855.5 2963.5L1857.8 2994.9L1848.1 3026.4L1848.1 3057.8L1844.1 3089.3L1844.1 3120.8L1844.1 3152.2L1851 3183.7L1859 3215.1L1862.8 3225.6L1874.3 3215.1L1897.4 3183.7L1904.4 3152.2L1885.3 3120.8L1885.3 3089.3L1877.5 3057.8L1882.4 3026.4L1870.1 2994.9L1870.1 2963.5L1870.1 2932.1L1862.8 2913.2ZM2130.2 3164.8L2125.2 3183.7L2130.2 3194.1L2135.3 3183.7L2130.2 3164.8ZM2183.7 2976.1L2172.3 2994.9L2157 3026.4L2172.3 3057.9L2183.7 3076.7L2201.6 3057.9L2203.3 3026.4L2188.8 2994.9L2183.7 2976.1ZM1159.2 2963.5L1167.5 2950.9L1188.9 2963.5L1188.9 2994.9L1188.9 3026.4L1203.1 3057.9L1203.1 3089.3L1221 3096L1239.3 3120.8L1246.4 3152.2L1232.8 3183.7L1229.2 3215.1L1221 3227.7L1215.9 3246.6L1221 3265.4L1242.4 3278L1221 3278L1167.5 3278L1128.7 3278L1128.7 3246.6L1128.7 3215.1L1128.7 3183.6L1136.5 3152.2L1136.5 3120.8L1155.6 3089.3L1148.6 3057.8L1159.2 3026.4L1159.2 2994.9L1159.2 2963.5Z"/>
<path fill="#ffc400" fill-rule="evenodd" d="M204.7 2649L258.2 2649L311.7 2649L365.2 2649L418.6 2649L472.1 2649L525.6 2649L579.1 2649L632.6 2649L686.1 2649L739.6 2649L793.1 2649L846.5 2649L900 2649L953.5 2649L1007 2649L1060.5 2649L1114 2649L1167.5 2649L1221 2649L1274.5 2649L1327.9 2649L1381.4 2649L1434.9 2649L1488.4 2649L1541.9 2649L1595.4 2649L1648.9 2649L1702.3 2649L1755.8 2649L1809.3 2649L1862.8 2649L1916.3 2649L1969.8 2649L2023.3 2649L2076.8 2649L2130.2 2649L2183.7 2649L2237.2 2649L2290.7 2649L2344.2 2649L2344.2 2680.4L2344.2 2711.9L2344.2 2743.3L2344.2 2774.8L2344.2 2806.2L2344.2 2837.7L2344.2 2869.2L2344.2 2900.6L2344.2 2932.1L2344.2 2963.5L2344.2 2994.9L2344.2 3026.4L2344.2 3057.8L2344.2 3073.6L2327.2 3089.3L2324.1 3120.8L2324.1 3152.2L2332.5 3183.7L2344.2 3208.1L2344.2 3215.1L2344.2 3246.6L2344.2 3278L2290.7 3278L2237.2 3278L2183.7 3278L2130.2 3278L2076.8 3278L2023.3 3278L1969.8 3278L1916.3 3278L1862.8 3278L1809.3 3278L1755.8 3278L1702.3 3278L1648.9 3278L1595.4 3278L1553.6 3278L1557.9 3246.6L1564.2 3215.1L1564.2 3183.6L1561.9 3152.2L1561.9 3120.8L1561.9 3089.3L1561.9 3057.8L1561.9 3026.4L1558.9 2994.9L1568.6 2963.5L1595.4 2939L1599.3 2932.1L1601.7 2900.6L1607.3 2869.1L1622.1 2837.7L1595.4 2822L1583.5 2806.2L1568.6 2774.8L1568.6 2743.3L1541.9 2727.6L1515.1 2743.3L1488.4 2759.1L1461.7 2774.8L1461.7 2806.2L1461.7 2837.7L1461.7 2869.2L1434.9 2884.9L1408.2 2869.2L1408.2 2837.7L1408.2 2806.2L1381.4 2790.5L1354.7 2806.2L1354.7 2837.7L1354.7 2869.2L1339.8 2900.6L1345 2932.1L1354.7 2963.5L1361.4 2994.9L1361.4 3026.4L1361.4 3057.8L1361.4 3089.3L1369.7 3120.8L1381.4 3136.5L1423 3120.8L1434.9 3105L1446.8 3120.8L1476.5 3152.2L1488.4 3154.5L1515.1 3183.7L1515.1 3215.1L1505.4 3246.6L1488.4 3262.3L1476.7 3278L1434.9 3278L1381.4 3278L1327.9 3278L1286.2 3278L1294.5 3246.6L1294.5 3215.1L1301.2 3183.7L1301.2 3152.2L1301.2 3120.8L1294.5 3089.3L1294.5 3057.8L1286.2 3026.4L1286.2 2994.9L1280.7 2963.5L1274.5 2956.5L1247.7 2932.1L1247.7 2900.6L1274.5 2876.1L1301.2 2869.2L1274.5 2853.4L1247.7 2837.7L1247.7 2806.2L1221 2790.5L1194.2 2774.8L1167.5 2759.1L1114 2759.1L1087.2 2774.8L1060.5 2790.5L1007 2790.5L980.3 2774.8L953.5 2759.1L926.8 2774.8L900 2790.5L846.5 2790.5L819.8 2806.2L834.7 2837.7L834.7 2869.1L840.3 2900.6L819.8 2932.1L819.8 2963.5L819.8 2994.9L819.8 3026.4L819.8 3057.8L799.4 3089.3L793.1 3105L781.2 3089.3L766.3 3057.8L766.3 3026.4L766.3 2994.9L766.3 2963.5L766.3 2932.1L756.6 2900.6L751.5 2869.1L739.6 2853.4L733.3 2869.2L727.9 2900.6L730.7 2932.1L730.7 2963.5L727.9 2994.9L727.9 3026.4L727.9 3057.8L727.9 3089.3L712.8 3120.8L739.6 3124.5L793.1 3123.1L813.6 3152.2L813.6 3183.7L801 3215.1L793.1 3230.8L781.4 3246.6L773 3278L739.6 3278L686.1 3278L632.6 3278L579.1 3278L545.7 3278L545.7 3246.6L534.5 3215.1L534.5 3183.7L534.5 3152.2L541.7 3120.7L545.7 3089.3L529.6 3057.8L525.6 3042.1L521.7 3057.8L505.6 3089.3L509.6 3120.7L516.7 3152.2L513.9 3183.7L513.9 3215.1L489.2 3246.6L478.4 3278L472.1 3278L418.6 3278L412.4 3278L418.6 3262.3L430.5 3246.6L430.4 3215.1L430.4 3183.7L418.6 3167.9L391.9 3152.2L374.1 3120.8L367.4 3089.3L367.4 3057.9L368.1 3026.4L365.2 3010.7L362.9 3026.4L362.9 3057.9L362.9 3089.3L358 3120.8L356.2 3152.2L345.1 3183.7L338.4 3215.1L338.4 3246.6L345.1 3278L311.7 3278L258.2 3278L204.7 3278L204.7 3246.6L204.7 3215.1L204.7 3183.7L204.7 3152.2L204.7 3120.8L204.7 3089.3L204.7 3057.8L204.7 3026.4L204.7 2994.9L204.7 2963.5L204.7 2932.1L204.7 2900.6L204.7 2869.2L204.7 2837.7L204.7 2806.2L204.7 2774.8L204.7 2743.3L204.7 2711.9L204.7 2680.4L204.7 2649ZM686.1 3136.5L682.1 3152.2L674.4 3183.7L674.4 3215.1L674.4 3246.6L686.1 3262.3L697.8 3246.6L697.8 3215.1L697.8 3183.7L692.4 3152.2L686.1 3136.5ZM1702.3 2853.4L1690.5 2869.1L1696.1 2900.6L1698.4 2932.1L1698.4 2963.5L1698.4 2994.9L1698.4 3026.4L1702.3 3033.4L1708.6 3026.4L1706.3 2994.9L1708.6 2963.5L1708.6 2932.1L1714.2 2900.6L1729.1 2869.2L1702.3 2853.4ZM1862.8 2884.9L1850.9 2900.6L1845.8 2932.1L1845.8 2963.5L1851.1 2994.9L1842.8 3026.4L1842.8 3057.8L1840.5 3089.3L1840.5 3120.8L1840.5 3152.2L1846.8 3183.6L1853.9 3215.1L1862.8 3239.6L1889.6 3215.1L1910 3183.7L1912.3 3152.2L1889.6 3120.8L1889.6 3089.3L1882.9 3057.8L1889.6 3026.4L1879.8 2994.9L1879.8 2963.5L1879.8 2932.1L1869.1 2900.6L1862.8 2884.9ZM2130.2 3136.5L2126.3 3152.2L2118.5 3183.7L2130.2 3208.1L2142 3183.7L2133.1 3152.2L2130.2 3136.5ZM2183.7 2947.8L2171.9 2963.5L2157 2994.9L2147.3 3026.4L2157 3057.8L2177.4 3089.3L2183.7 3096.3L2237.2 3105L2243.5 3089.3L2237.2 3073.6L2225.3 3057.8L2210.5 3026.4L2195.4 2994.9L2187.7 2963.5L2183.7 2947.8ZM1702.3 3105L1690.6 3120.8L1682.3 3152.2L1682.3 3183.7L1690.6 3215.1L1702.3 3239.6L1755.8 3222.1L1758.7 3215.1L1764.8 3183.7L1764.8 3152.2L1764.8 3120.8L1755.8 3105L1702.3 3105ZM926.8 2806.2L953.5 2790.5L980.3 2806.2L965.4 2837.7L953.5 2853.4L926.8 2837.7L926.8 2806.2ZM941.6 2932.1L953.5 2916.3L959.8 2932.1L959.8 2963.5L953.5 2979.2L941.6 2963.5L941.6 2932.1ZM1161.2 3057.8L1167.5 3042.1L1179.4 3057.8L1179.4 3089.3L1221 3105L1232.7 3120.8L1241 3152.2L1224.9 3183.7L1221 3199.4L1217 3215.1L1209.3 3246.6L1217 3278L1167.5 3278L1134 3278L1134 3246.6L1134 3215.1L1134 3183.7L1140.7 3152.2L1140.7 3120.8L1163.5 3089.3L1161.2 3057.8Z"/>
<path fill="#ff7600" fill-rule="evenodd" d="M204.7 2649L258.2 2649L311.7 2649L365.2 2649L418.6 2649L472.1 2649L504.2 2649L504.2 2680.4L504.2 2711.9L504.2 2743.3L525.6 2755.9L547 2743.3L547 2711.9L547 2680.4L547 2649L579.1 2649L611.2 2649L611.2 2680.4L611.2 2711.9L632.6 2724.5L686.1 2724.5L739.6 2724.5L771.7 2743.3L771.7 2774.8L739.6 2793.7L718.2 2806.2L718.2 2837.7L720.7 2869.2L721.2 2900.6L725.6 2932.1L725.6 2963.5L721.2 2994.9L721.2 3026.4L721.2 3057.8L721.2 3089.3L686.1 3118L681.4 3120.8L674.2 3152.2L667.7 3183.7L667.7 3215.1L667.7 3246.6L686.1 3271.3L704.5 3246.6L704.5 3215.1L704.5 3183.7L705 3152.2L739.6 3131.8L793.1 3127.7L810.3 3152.2L810.3 3183.7L796.5 3215.1L793.1 3221.8L774.7 3246.6L767.7 3278L739.6 3278L686.1 3278L632.6 3278L579.1 3278L551 3278L551 3246.6L539.6 3215.1L539.6 3183.7L539.6 3152.2L546 3120.8L551 3089.3L537.5 3057.8L530.3 3026.4L525.6 3013.8L504.2 3026.4L513.7 3057.8L500.2 3089.3L505.3 3120.8L511.6 3152.2L507.2 3183.7L507.2 3215.1L479.4 3246.6L472.1 3265.4L454.3 3246.6L437 3215.1L437 3183.7L418.6 3158.9L407.2 3152.2L379.2 3120.8L372 3089.3L372 3057.8L373.8 3026.4L369.8 2994.9L365.2 2982.4L361.9 2994.9L358.3 3026.4L358.3 3057.8L358.3 3089.3L353.8 3120.8L351.2 3152.2L339.8 3183.7L334.1 3215.1L334.1 3246.6L339.8 3278L311.7 3278L258.2 3278L204.7 3278L204.7 3246.6L204.7 3215.1L204.7 3183.7L204.7 3152.2L204.7 3120.8L204.7 3089.3L204.7 3057.8L204.7 3026.4L204.7 2994.9L204.7 2963.5L204.7 2932.1L204.7 2900.6L204.7 2869.2L204.7 2837.7L204.7 2806.2L204.7 2774.8L204.7 2743.3L204.7 2711.9L204.7 2680.4L204.7 2649ZM472.1 2888L467.5 2900.6L468.9 2932.1L468.9 2963.5L467.5 2994.9L472.1 3007.5L493.5 2994.9L480.4 2963.5L480.4 2932.1L493.5 2900.6L472.1 2888ZM632.6 2825.1L627.9 2837.7L627.9 2869.1L629.4 2900.6L629.4 2932.1L627.9 2963.5L627.9 2994.9L632.6 3007.5L637.3 2994.9L635.8 2963.5L635.8 2932.1L637.3 2900.6L640.8 2869.2L654 2837.7L632.6 2825.1ZM1563.3 2680.4L1595.4 2661.6L1616.8 2649L1648.9 2649L1702.3 2649L1755.8 2649L1809.3 2649L1862.8 2649L1916.3 2649L1969.8 2649L2023.3 2649L2076.8 2649L2130.2 2649L2183.7 2649L2237.2 2649L2290.7 2649L2344.2 2649L2344.2 2680.4L2344.2 2711.9L2344.2 2743.3L2344.2 2774.8L2344.2 2806.2L2344.2 2837.7L2344.2 2856.6L2322.8 2869.2L2322.8 2900.6L2344.2 2913.2L2344.2 2932.1L2344.2 2963.5L2344.2 2994.9L2344.2 3013.8L2312.1 2994.9L2312.1 2963.5L2312.1 2932.1L2290.7 2919.5L2286.1 2932L2286.1 2963.5L2286.1 2994.9L2282.5 3026.4L2290.7 3039L2344.2 3039L2344.2 3057.8L2344.2 3064.6L2317.5 3089.3L2318.8 3120.8L2318.8 3152.2L2325.8 3183.7L2339.5 3215.1L2344.2 3227.7L2344.2 3246.6L2344.2 3265.4L2341 3278L2290.7 3278L2237.2 3278L2183.7 3278L2130.2 3278L2076.8 3278L2023.3 3278L1969.8 3278L1916.3 3278L1862.8 3278L1809.3 3278L1755.8 3278L1702.3 3278L1648.9 3278L1595.4 3278L1560.3 3278L1562.2 3246.6L1567.7 3215.1L1567.7 3183.7L1567.3 3152.2L1567.3 3120.8L1567.3 3089.3L1567.3 3057.8L1567.3 3026.4L1568.6 2994.9L1583.9 2963.5L1595.4 2953L1607.3 2932.1L1614.3 2900.6L1631 2869.2L1648.9 2850.3L1666.7 2869.2L1683.5 2900.6L1690.5 2932.1L1690.5 2963.5L1690.5 2994.9L1690.5 3026.4L1702.3 3047.4L1721.2 3026.4L1714.2 2994.9L1721.2 2963.5L1721.2 2932.1L1738 2900.6L1755.8 2881.7L1809.3 2881.7L1827.2 2900.6L1836.1 2932.1L1836.1 2963.5L1844.4 2994.9L1837.4 3026.4L1837.4 3057.8L1837 3089.3L1837 3120.8L1837 3152.2L1842.5 3183.7L1848.8 3215.1L1859.6 3246.6L1862.8 3259.1L1916.3 3259.1L1919.5 3246.6L1916.3 3234L1904.8 3215.1L1916.3 3196.2L1919.5 3183.7L1919.5 3152.2L1916.3 3149.5L1893.8 3120.8L1893.8 3089.3L1888.2 3057.8L1896.7 3026.4L1889.6 2994.9L1889.6 2963.5L1889.6 2932.1L1881.7 2900.6L1884.2 2869.2L1862.8 2856.6L1830.7 2837.7L1830.7 2806.2L1830.7 2774.8L1830.7 2743.3L1809.3 2730.8L1787.9 2743.3L1755.8 2762.2L1723.7 2743.3L1702.3 2730.8L1648.9 2730.8L1616.8 2711.9L1595.4 2699.3L1563.3 2680.4ZM2130.2 3115.9L2125.6 3120.8L2118.4 3152.2L2111.9 3183.7L2125.6 3215.1L2130.2 3217.8L2134.9 3215.1L2148.6 3183.7L2138.9 3152.2L2151.6 3120.8L2130.2 3115.9ZM2183.7 2919.5L2162.3 2932.1L2148.1 2963.5L2141.7 2994.9L2137.5 3026.4L2141.7 3057.9L2164.9 3089.3L2183.7 3110.3L2215.8 3120.8L2237.2 3133.3L2241.9 3120.8L2256.1 3089.3L2258.6 3057.8L2237.2 3053L2217.6 3026.4L2202.1 2994.9L2195.6 2963.5L2188.4 2932L2183.7 2919.5ZM1702.3 3096L1684 3120.8L1676.9 3152.2L1676.9 3183.7L1684 3215.1L1697.7 3246.5L1702.3 3259.1L1723.7 3246.6L1755.8 3236.1L1764.5 3215.1L1769.8 3183.7L1769.8 3152.2L1769.8 3120.8L1755.8 3096L1702.3 3096ZM2237.2 3171.1L2232.6 3183.6L2237.2 3186.4L2241.9 3183.6L2237.2 3171.1ZM761 2837.7L793.1 2818.8L810.9 2837.7L810.9 2869.2L827.7 2900.6L804.5 2932.1L804.5 2963.5L804.5 2994.9L804.5 3026.4L804.5 3057.9L793.1 3076.7L781.6 3057.9L781.6 3026.4L781.6 2994.9L781.6 2963.5L781.6 2932.1L766.3 2900.6L775.2 2869.2L761 2837.7ZM1263 2900.6L1274.5 2890.1L1306.5 2900.6L1327.9 2913.2L1335.2 2932.1L1347.5 2963.5L1356 2994.9L1356 3026.4L1356 3057.8L1356 3089.3L1363 3120.8L1381.4 3145.5L1434.9 3133.3L1452.7 3152.2L1488.4 3159.2L1510.9 3183.7L1510.9 3215.1L1495.7 3246.6L1488.4 3253.3L1470 3278L1434.9 3278L1381.4 3278L1327.9 3278L1292.8 3278L1299.9 3246.6L1299.9 3215.1L1305.5 3183.7L1305.5 3152.2L1305.5 3120.8L1299.9 3089.3L1299.9 3057.8L1292.8 3026.4L1292.8 2994.9L1293.3 2963.5L1274.5 2942.5L1263 2932.1L1263 2900.6ZM1381.4 3234L1376.8 3246.5L1381.4 3259.1L1386.1 3246.5L1381.4 3234ZM1145 3120.8L1167.5 3092L1221 3114L1226 3120.8L1235.7 3152.2L1221 3178.8L1216.3 3183.6L1209.1 3215.1L1202.6 3246.6L1209.1 3278L1167.5 3278L1139.4 3278L1139.4 3246.6L1139.4 3215.1L1139.4 3183.7L1145 3152.2L1145 3120.8Z"/>
<path fill="#ff4c00" fill-rule="evenodd" d="M224.8 2711.9L258.2 2692.2L291.6 2711.9L311.7 2723.7L345.1 2743.4L365.2 2755.1L398.6 2774.8L418.6 2786.6L452.1 2806.2L463.2 2837.7L463.2 2869.1L453.5 2900.6L459.2 2932.1L459.2 2963.5L453.5 2994.9L466.4 3026.4L472.1 3031.6L501.9 3057.8L492.2 3089.3L498.9 3120.8L504 3152.2L497.2 3183.7L497.2 3215.1L472.1 3241.3L447.1 3215.1L447.1 3183.7L424.4 3152.2L418.6 3148.8L386.8 3120.8L378.8 3089.3L378.8 3057.8L382.5 3026.4L383.8 2994.9L370.9 2963.5L365.2 2958.3L359.4 2963.5L352.2 2994.9L351.5 3026.4L351.5 3057.8L351.5 3089.3L347.7 3120.8L343.5 3152.2L331.7 3183.7L327.7 3215.1L327.7 3246.6L331.7 3278L311.7 3278L258.2 3278L204.7 3278L204.7 3246.6L204.7 3215.1L204.7 3183.7L204.7 3152.2L204.7 3120.8L204.7 3089.3L204.7 3057.8L204.7 3026.4L204.7 2994.9L204.7 2963.5L204.7 2932.1L204.7 2900.6L204.7 2869.2L204.7 2837.7L204.7 2806.2L204.7 2774.8L204.7 2743.3L204.7 2723.7L224.8 2711.9ZM545.7 2774.8L579.1 2755.1L612.5 2774.8L612.5 2806.2L614 2837.7L614 2869.2L619.6 2900.6L619.6 2932.1L614 2963.5L614 2994.9L623.7 3026.4L632.6 3038.2L641.5 3026.4L651.2 2994.9L645.6 2963.5L645.6 2932.1L651.2 2900.6L665.5 2869.2L686.1 2849.5L701.8 2869.2L711.2 2900.6L717.9 2932.1L717.9 2963.5L711.2 2994.9L711.2 3026.4L711.2 3057.8L711.2 3089.3L686.1 3109.8L667.5 3120.8L662.3 3152.2L657.7 3183.7L657.7 3215.1L657.7 3246.6L677.2 3278L632.6 3278L579.1 3278L559.1 3278L559.1 3246.6L547.3 3215.1L547.3 3183.7L547.3 3152.2L552.4 3120.8L559.1 3089.3L549.4 3057.8L544.2 3026.4L534.5 2994.9L525.6 2983.2L505.1 2963.5L505.1 2932.1L525.6 2912.4L531.4 2900.6L534.5 2869.1L534.5 2837.7L545.7 2806.2L545.7 2774.8ZM1989.8 2869.2L2023.3 2849.5L2076.8 2849.5L2110.2 2869.2L2121.3 2900.6L2121.3 2932.1L2121.3 2963.5L2110.2 2994.9L2110.2 3026.4L2121.3 3057.8L2130.2 3069.6L2146 3089.3L2130.2 3101.4L2111.6 3120.8L2106.5 3152.2L2101.8 3183.7L2111.6 3215.1L2130.2 3226L2148.9 3215.1L2158.7 3183.7L2147.6 3152.2L2183.7 3124.1L2231.5 3152.2L2218.6 3183.7L2237.2 3194.6L2255.8 3183.7L2246.1 3152.2L2255.8 3120.8L2275 3089.3L2290.7 3069.6L2302.9 3089.3L2310.8 3120.8L2310.8 3152.2L2315.8 3183.7L2325.6 3215.1L2338.5 3246.5L2331.2 3278L2290.7 3278L2237.2 3278L2183.7 3278L2130.2 3278L2076.8 3278L2023.3 3278L1969.8 3278L1922 3278L1929.3 3246.6L1922 3215.1L1929.3 3183.7L1929.3 3152.2L1916.3 3141.3L1900.3 3120.8L1900.3 3089.3L1896.2 3057.8L1907.4 3026.4L1904.1 2994.9L1904.1 2963.5L1904.1 2932.1L1900.6 2900.6L1916.3 2880.9L1949.7 2900.6L1969.8 2912.4L1978.7 2900.6L1989.8 2869.2ZM780.9 2900.6L793.1 2880.9L808.8 2900.6L793.1 2920.3L780.9 2900.6ZM1633.1 2900.6L1648.9 2880.9L1664.6 2900.6L1678.6 2932.1L1678.6 2963.5L1678.6 2994.9L1678.6 3026.4L1693.4 3057.8L1693.4 3089.3L1673.9 3120.8L1668.9 3152.2L1668.9 3183.7L1673.9 3215.1L1683.7 3246.6L1693.4 3278L1648.9 3278L1595.4 3278L1570.3 3278L1568.6 3246.6L1573.1 3215.1L1573.1 3183.7L1575.3 3152.2L1575.3 3120.8L1575.3 3089.3L1575.3 3057.8L1575.3 3026.4L1583.2 2994.9L1595.4 2975.3L1604.3 2963.5L1619.1 2932.1L1633.1 2900.6ZM2203.8 2900.6L2237.2 2880.9L2270.7 2900.6L2272.1 2932.1L2272.1 2963.5L2272.1 2994.9L2257.8 3026.4L2237.2 3038.5L2228.3 3026.4L2212.2 2994.9L2207.5 2963.5L2202.3 2932.1L2203.8 2900.6ZM1740.1 2932.1L1755.8 2912.4L1809.3 2912.4L1821.5 2932.1L1821.5 2963.5L1834.4 2994.9L1829.4 3026.4L1829.4 3057.8L1831.6 3089.3L1831.6 3120.8L1831.6 3152.2L1836.1 3183.7L1841.2 3215.1L1849.8 3246.6L1853.9 3278L1809.3 3278L1764.8 3278L1761.6 3246.5L1773.2 3215.1L1777.5 3183.7L1777.5 3152.2L1777.5 3120.8L1761.6 3089.3L1755.8 3077.5L1722.4 3057.9L1740.1 3026.4L1726.1 2994.9L1740.1 2963.5L1740.1 2932.1ZM1312.2 2963.5L1327.9 2943.8L1336.9 2963.5L1348 2994.9L1348 3026.4L1348 3057.8L1348 3089.3L1353 3120.8L1372.5 3152.2L1381.4 3157.4L1434.9 3157.4L1488.4 3166.2L1504.4 3183.7L1504.4 3215.1L1488.4 3241.3L1479.5 3246.5L1460 3278L1434.9 3278L1390.3 3278L1400 3246.6L1387.2 3215.1L1381.4 3209.9L1372.5 3215.1L1362.8 3246.6L1372.5 3278L1327.9 3278L1302.9 3278L1307.9 3246.6L1307.9 3215.1L1311.9 3183.7L1311.9 3152.2L1311.9 3120.8L1307.9 3089.3L1307.9 3057.8L1302.9 3026.4L1302.9 2994.9L1312.2 2963.5ZM1151.4 3120.8L1167.5 3100.2L1212 3120.7L1221 3132.5L1227.6 3152.2L1221 3164.3L1202.4 3183.7L1197.2 3215.1L1192.5 3246.6L1197.2 3278L1167.5 3278L1147.4 3278L1147.4 3246.6L1147.4 3215.1L1147.4 3183.7L1151.4 3152.2L1151.4 3120.8ZM723.8 3152.2L739.6 3142.9L793.1 3134.7L805.4 3152.2L805.4 3183.7L793.1 3209.9L784.1 3215.1L764.6 3246.6L759.6 3278L739.6 3278L695 3278L714.5 3246.6L714.5 3215.1L714.5 3183.7L723.8 3152.2Z"/>
<path fill="#ff0c00" fill-rule="evenodd" d="M204.7 2774.8L204.7 2759.1L258.2 2759.1L284.9 2774.8L311.7 2790.5L338.4 2806.2L338.4 2837.7L338.4 2869.2L365.2 2884.9L391.9 2869.2L391.9 2837.7L418.6 2822L433.5 2837.7L433.5 2869.2L430.3 2900.6L443 2932.1L443 2963.5L430.3 2994.9L447.3 3026.4L472.1 3049.1L482 3057.8L478.8 3089.3L488.2 3120.8L491.2 3152.2L480.5 3183.7L480.5 3215.1L472.1 3223.8L463.8 3215.1L463.8 3183.7L443.5 3152.2L418.6 3137.6L399.5 3120.8L390.2 3089.3L390.2 3057.8L397 3026.4L407 2994.9L390 2963.5L365.2 2940.8L340.3 2963.5L336 2994.9L340.1 3026.4L340.1 3057.8L340.1 3089.3L337.4 3120.8L330.8 3152.2L318.4 3183.7L317 3215.1L317 3246.6L318.4 3278L311.7 3278L258.2 3278L204.7 3278L204.7 3246.6L204.7 3215.1L204.7 3183.7L204.7 3152.2L204.7 3120.8L204.7 3089.3L204.7 3057.8L204.7 3026.4L204.7 2994.9L204.7 2963.5L204.7 2932.1L204.7 2900.6L204.7 2869.2L204.7 2837.7L204.7 2806.2L204.7 2774.8ZM564.3 2837.7L579.1 2822L590.7 2837.7L590.7 2869.2L603.4 2900.6L603.4 2932.1L590.7 2963.5L590.7 2994.9L594 3026.4L605.9 3057.8L632.6 3073.6L659.3 3057.8L671.2 3026.4L674.5 2994.9L661.8 2963.5L661.8 2932.1L674.5 2900.6L686.1 2884.9L694.4 2900.6L705.2 2932.1L705.2 2963.5L694.4 2994.9L694.4 3026.4L694.4 3057.8L694.4 3089.3L686.1 3096.1L644.2 3120.8L642.5 3152.2L641 3183.7L641 3215.1L641 3246.6L647.5 3278L632.6 3278L579.1 3278L572.4 3278L572.4 3246.6L560 3215.1L560 3183.7L560 3152.2L563.1 3120.8L572.4 3089.3L569.2 3057.8L567.5 3026.4L564.3 2994.9L552.4 2963.5L539 2932.1L550.5 2900.6L564.3 2869.2L564.3 2837.7ZM2008.4 2900.6L2023.3 2884.9L2076.8 2884.9L2091.6 2900.6L2091.6 2932.1L2091.6 2963.5L2076.8 2979.2L2050 2994.9L2050 3026.4L2076.8 3042.1L2091.6 3057.8L2103.5 3089.3L2088.4 3120.8L2086.7 3152.2L2085.1 3183.7L2088.4 3215.1L2130.2 3239.7L2172.1 3215.1L2175.4 3183.7L2162.1 3152.2L2183.7 3135.4L2212.4 3152.2L2195.4 3183.7L2237.2 3208.3L2279.1 3183.7L2275.9 3152.2L2279.1 3120.8L2290.7 3105L2297.4 3120.8L2297.4 3152.2L2299.1 3183.7L2302.3 3215.1L2319.4 3246.6L2315 3278L2290.7 3278L2237.2 3278L2183.7 3278L2130.2 3278L2076.8 3278L2023.3 3278L1969.8 3278L1941.1 3278L1945.5 3246.6L1941.1 3215.1L1945.5 3183.7L1945.5 3152.2L1916.3 3127.6L1911 3120.8L1911 3089.3L1909.6 3057.8L1916.3 3042.1L1943 3026.4L1943 2994.9L1969.8 2979.2L1996.5 2963.5L1996.5 2932.1L2008.4 2900.6ZM1639 2932.1L1648.9 2916.3L1658.8 2932.1L1658.8 2963.5L1658.8 2994.9L1658.8 3026.4L1663.7 3057.8L1663.7 3089.3L1657.2 3120.8L1655.5 3152.2L1655.5 3183.7L1657.2 3215.1L1660.5 3246.6L1663.7 3278L1648.9 3278L1595.4 3278L1587 3278L1579.3 3246.6L1582 3215.1L1582 3183.7L1588.7 3152.2L1588.7 3120.8L1588.7 3089.3L1588.7 3057.8L1588.7 3026.4L1595.4 3010.7L1622.1 2994.9L1634 2963.5L1639 2932.1ZM2225.6 2932.1L2237.2 2916.3L2248.9 2932.1L2248.9 2963.5L2248.9 2994.9L2237.2 3010.7L2228.9 2994.9L2227.3 2963.5L2225.6 2932.1ZM1319.6 2994.9L1327.9 2979.2L1334.6 2994.9L1334.6 3026.4L1334.6 3057.8L1334.6 3089.3L1336.3 3120.8L1342.8 3152.2L1381.4 3174.9L1434.9 3174.9L1488.4 3177.8L1493.7 3183.7L1493.7 3215.1L1488.4 3223.8L1449.8 3246.6L1443.3 3278L1434.9 3278L1420.1 3278L1423.3 3246.6L1406.3 3215.1L1381.4 3192.4L1342.8 3215.1L1339.6 3246.6L1342.8 3278L1327.9 3278L1319.6 3278L1321.3 3246.6L1321.3 3215.1L1322.6 3183.7L1322.6 3152.2L1322.6 3120.8L1321.3 3089.3L1321.3 3057.8L1319.6 3026.4L1319.6 2994.9ZM1745.9 2994.9L1755.8 2979.2L1809.3 2979.2L1817.7 2994.9L1816 3026.4L1816 3057.8L1822.7 3089.3L1822.7 3120.8L1822.7 3152.2L1825.4 3183.7L1828.4 3215.1L1833.6 3246.6L1824.2 3278L1809.3 3278L1794.5 3278L1780.7 3246.6L1787.6 3215.1L1790.2 3183.7L1790.2 3152.2L1790.2 3120.8L1780.7 3089.3L1782.6 3057.8L1782.6 3026.4L1755.8 3010.7L1745.9 2994.9ZM1162.1 3120.8L1167.5 3113.9L1182.3 3120.8L1194.2 3152.2L1179.1 3183.7L1177.4 3215.1L1175.8 3246.6L1177.4 3278L1167.5 3278L1160.8 3278L1160.8 3246.6L1160.8 3215.1L1160.8 3183.7L1162.1 3152.2L1162.1 3120.8ZM766.3 3152.2L793.1 3146.4L797.2 3152.2L797.2 3183.7L793.1 3192.4L754.4 3215.1L747.9 3246.6L746.3 3278L739.6 3278L724.7 3278L731.2 3246.6L731.2 3215.1L731.2 3183.7L739.6 3167.9L766.3 3152.2Z"/>
<path fill="#e40000" fill-rule="evenodd" d="M204.7 2900.6L204.7 2884.9L258.2 2884.9L311.7 2884.9L338.4 2900.6L338.4 2932.1L321.2 2963.5L319.8 2994.9L328.7 3026.4L328.7 3057.8L328.7 3089.3L327.1 3120.8L318 3152.2L311.7 3167.9L284.9 3183.7L284.9 3215.1L258.2 3230.8L204.7 3230.8L204.7 3215.1L204.7 3183.7L204.7 3152.2L204.7 3120.8L204.7 3089.3L204.7 3057.8L204.7 3026.4L204.7 2994.9L204.7 2963.5L204.7 2932.1L204.7 2900.6ZM569.6 2900.6L579.1 2884.9L587.2 2900.6L587.2 2932.1L579.1 2947.8L565.7 2932.1L569.6 2900.6ZM391.9 2932.1L418.6 2916.3L426.8 2932.1L426.8 2963.5L418.6 2979.2L409.1 2963.5L391.9 2932.1ZM678 2932.1L686.1 2916.3L692.5 2932.1L692.5 2963.5L686.1 2979.2L678 2963.5L678 2932.1ZM411.4 3026.4L418.6 3010.7L428.2 3026.4L458.8 3057.8L458.8 3089.3L472.1 3105L477.5 3120.8L478.5 3152.2L472.1 3167.9L462.6 3152.2L418.6 3126.4L412.3 3120.8L401.6 3089.3L401.6 3057.8L411.4 3026.4ZM1799.8 3089.3L1809.3 3073.6L1813.8 3089.3L1813.8 3120.8L1813.8 3152.2L1814.7 3183.7L1815.7 3215.1L1817.4 3246.6L1809.3 3262.3L1799.8 3246.6L1802.1 3215.1L1803 3183.7L1803 3152.2L1803 3120.8L1799.8 3089.3ZM573.8 3120.8L579.1 3105L605.9 3120.8L605.9 3152.2L605.9 3183.7L605.9 3215.1L579.1 3230.8L572.7 3215.1L572.7 3183.7L572.7 3152.2L573.8 3120.8ZM1996.5 3120.8L2023.3 3105L2050 3120.8L2023.3 3136.5L1996.5 3120.8ZM1961.7 3152.2L1969.8 3136.5L1996.5 3152.2L1996.5 3183.7L1996.5 3215.1L1996.5 3246.6L1996.5 3278L1969.8 3278L1960.2 3278L1961.7 3246.6L1960.2 3215.1L1961.7 3183.7L1961.7 3152.2ZM2176.5 3152.2L2183.7 3146.6L2193.3 3152.2L2183.7 3167.9L2176.5 3152.2ZM1590.9 3183.7L1595.4 3167.9L1622.1 3183.7L1622.1 3215.1L1622.1 3246.6L1595.4 3262.3L1590 3246.6L1590.9 3215.1L1590.9 3183.7ZM1425.4 3215.1L1434.9 3199.4L1461.7 3215.1L1434.9 3230.8L1425.4 3215.1ZM2050 3246.6L2076.8 3230.8L2103.5 3246.6L2103.5 3278L2076.8 3278L2050 3278L2050 3246.6ZM2210.5 3246.6L2237.2 3230.8L2290.7 3230.8L2300.3 3246.6L2298.8 3278L2290.7 3278L2237.2 3278L2210.5 3278L2210.5 3246.6Z"/>
<path fill="#c20000" fill-rule="evenodd" d="M284.9 3026.4L311.7 3010.7L317.4 3026.4L317.4 3057.8L317.4 3089.3L316.8 3120.8L311.7 3136.5L284.9 3120.8L284.9 3089.3L284.9 3057.8L284.9 3026.4ZM413 3057.8L418.6 3042.1L432 3057.8L432 3089.3L418.6 3105L413 3089.3L413 3057.8Z"/>
<path fill="none" stroke="#3a0000" stroke-opacity="0.75" stroke-width="1.4" d="M900 3099.8L864.4 3120.8L846.5 3131.2L838.3 3152.2L838.3 3183.7L835.2 3215.1L830.3 3246.6L846.5 3267.5L900 3267.5L935.7 3246.6L935.7 3215.1L935.7 3183.7L935.7 3152.2L935.7 3120.8L900 3099.8M1114 3073.6L1087.2 3089.3L1087.2 3120.8L1087.2 3152.2L1114 3167.9L1119.3 3152.2L1119.3 3120.8L1123.9 3089.3L1114 3073.6M1862.8 3073.6L1858.4 3089.3L1858.4 3120.8L1858.4 3152.2L1862.8 3167.9L1872.7 3152.2L1868.2 3120.8L1868.2 3089.3L1862.8 3073.6M1274.5 3105L1266.1 3120.8L1267.8 3152.2L1264.5 3183.7L1274.5 3199.4L1279.8 3183.7L1279.8 3152.2L1279.8 3120.8L1274.5 3105M1541.9 3167.9L1536.5 3183.7L1536.5 3215.1L1541.9 3230.8L1546.3 3215.1L1546.3 3183.7L1541.9 3167.9M365.2 3199.4L359.8 3215.1L359.8 3246.6L365.2 3262.3L376.8 3246.6L380 3215.1L365.2 3199.4M926.8 3278L953.5 3262.3L1007 3262.3L1033.8 3246.6L1033.8 3215.1L1033.8 3183.7L1033.8 3152.2L1033.8 3120.8L1007 3105L953.5 3105L926.8 3089.3L914.9 3057.8L900 3042.1L885.2 3057.8L873.3 3089.3L846.5 3105L834.9 3120.8L830.1 3152.2L830.1 3183.7L823.8 3215.1L814.1 3246.6L819.8 3278M1381.4 2912.4L1369.3 2932.1L1372.5 2963.5L1374.7 2994.9L1374.7 3026.4L1374.7 3057.8L1374.7 3089.3L1381.4 3109L1402 3089.3L1402 3057.8L1402 3026.4L1402 2994.9L1402 2963.5L1402 2932.1L1381.4 2912.4M1488.4 2912.4L1467.8 2932.1L1467.8 2963.5L1467.8 2994.9L1467.8 3026.4L1467.8 3057.8L1488.4 3077.5L1508.5 3089.3L1508.5 3120.8L1521.3 3152.2L1525.8 3183.6L1525.8 3215.1L1529.7 3246.6L1541.9 3266.2L1547.2 3246.6L1555.3 3215.1L1555.3 3183.7L1548.6 3152.2L1548.6 3120.8L1548.6 3089.3L1548.6 3057.8L1548.6 3026.4L1541.9 3006.7L1521.8 2994.9L1521.8 2963.5L1521.8 2932.1L1488.4 2912.4M1862.8 3006.7L1856.1 3026.4L1856.1 3057.8L1849.4 3089.3L1849.4 3120.8L1849.4 3152.2L1857.5 3183.7L1862.8 3203.3L1878.5 3183.6L1892.5 3152.2L1878.9 3120.7L1878.9 3089.3L1869.5 3057.8L1871.7 3026.4L1862.8 3006.7M2183.7 3006.7L2171.6 3026.4L2183.7 3046.1L2192.7 3026.4L2183.7 3006.7M1274.5 3038.2L1241 3057.8L1241 3089.3L1249.4 3120.8L1254.4 3152.2L1244.7 3183.7L1253.9 3215.1L1241 3246.6L1274.5 3266.2L1281.1 3246.6L1281.1 3215.1L1290.5 3183.6L1290.5 3152.2L1290.5 3120.7L1281.1 3089.3L1281.1 3057.8L1274.5 3038.2M525.6 3077.2L518.9 3089.3L520.3 3120.8L525.6 3140.4L531 3120.8L532.3 3089.3L525.6 3077.2M2344.2 3101.1L2337.5 3120.8L2337.5 3152.2L2344.2 3171.9M1702.3 3132.5L1695.7 3152.2L1695.7 3183.7L1702.3 3203.3L1735.8 3183.7L1735.8 3152.2L1702.3 3132.5M380.9 3278L400 3246.6L409.7 3215.1L398.6 3183.7L365.2 3164L358.5 3183.7L349.1 3215.1L349.1 3246.6L358.5 3278M532.3 3278L532.3 3246.6L525.6 3226.9L513.5 3246.6L509.9 3278M1120.7 3278L1120.7 3246.6L1120.7 3215.1L1120.7 3183.7L1130 3152.2L1130 3120.7L1143.7 3089.3L1129.7 3057.8L1134.6 3026.4L1134.6 2994.9L1134.6 2963.5L1147.4 2932.1L1147.4 2900.6L1114 2880.9L1080.6 2900.6L1060.5 2912.4L1007 2912.4L991.3 2932.1L991.3 2963.5L986.4 2994.9L973.6 3026.4L973.6 3057.8L953.5 3069.6L944.6 3057.8L933.5 3026.4L920.6 2994.9L900 2975.3L866.6 2994.9L866.6 3026.4L855.5 3057.8L846.5 3069.6L830.8 3089.3L811.7 3120.8L821.9 3152.2L821.9 3183.7L812.4 3215.1L797.9 3246.6L793.1 3258.3L786.4 3278M739.6 2881.7L734.6 2900.6L735.8 2932.1L735.8 2963.5L734.6 2994.9L734.6 3026.4L734.6 3057.8L734.6 3089.3L739.6 3108.2L757.4 3089.3L751 3057.9L751 3026.4L751 2994.9L751 2963.5L751 2932.1L746.9 2900.6L739.6 2881.7M1381.4 2881.7L1363.6 2900.6L1354.7 2932.1L1361.8 2963.5L1366.7 2994.9L1366.7 3026.4L1366.7 3057.8L1366.7 3089.3L1376.4 3120.8L1381.4 3127.5L1399.3 3120.8L1426.7 3089.3L1426.7 3057.8L1426.7 3026.4L1426.7 2994.9L1426.7 2963.5L1426.7 2932.1L1413.5 2900.6L1381.4 2881.7M1862.8 2913.2L1855.5 2932.1L1855.5 2963.5L1857.8 2994.9L1848.1 3026.4L1848.1 3057.8L1844.1 3089.3L1844.1 3120.8L1844.1 3152.2L1851 3183.7L1859 3215.1L1862.8 3225.6L1874.3 3215.1L1897.4 3183.7L1904.4 3152.2L1885.3 3120.8L1885.3 3089.3L1877.5 3057.8L1882.4 3026.4L1870.1 2994.9L1870.1 2963.5L1870.1 2932.1L1862.8 2913.2M2183.7 2976.1L2172.3 2994.9L2157 3026.4L2172.3 3057.9L2183.7 3076.7L2201.6 3057.9L2203.3 3026.4L2188.8 2994.9L2183.7 2976.1M2344.2 3082.6L2336.9 3089.3L2329.5 3120.8L2329.5 3152.2L2339.2 3183.7L2344.2 3194.1M1702.3 3114L1697.3 3120.8L1687.6 3152.2L1687.6 3183.6L1697.3 3215.1L1702.3 3225.6L1734.4 3215.1L1755.8 3202.5L1759.7 3183.7L1759.7 3152.2L1759.7 3120.8L1755.8 3114L1702.3 3114M686.1 3164.8L681.1 3183.7L681.1 3215.1L681.1 3246.6L686.1 3253.3L691.1 3246.6L691.1 3215.1L691.1 3183.7L686.1 3164.8M2130.2 3164.8L2125.2 3183.7L2130.2 3194.1L2135.3 3183.7L2130.2 3164.8M399.8 3278L414 3246.6L418.6 3234L423.7 3215.1L423.7 3183.7L418.6 3176.9L376.6 3152.2L369 3120.8L365.2 3101.9L362.1 3120.7L361.3 3152.2L350.5 3183.6L342.7 3215.1L342.7 3246.6L350.5 3278M540.3 3278L540.3 3246.6L529.4 3215.1L529.4 3183.7L529.4 3152.2L537.4 3120.8L540.3 3089.3L525.6 3062.7L510.9 3089.3L513.9 3120.8L521.8 3152.2L520.6 3183.7L520.6 3215.1L498.9 3246.6L491 3278M1128.7 3278L1128.7 3246.6L1128.7 3215.1L1128.7 3183.6L1136.5 3152.2L1136.5 3120.8L1155.6 3089.3L1148.6 3057.8L1159.2 3026.4L1159.2 2994.9L1159.2 2963.5L1167.5 2950.9L1188.9 2963.5L1188.9 2994.9L1188.9 3026.4L1203.1 3057.9L1203.1 3089.3L1221 3096L1239.3 3120.8L1246.4 3152.2L1232.8 3183.7L1229.2 3215.1L1221 3227.7L1215.9 3246.6L1221 3265.4L1242.4 3278M1279.5 3278L1289.2 3246.6L1289.2 3215.1L1296.9 3183.7L1296.9 3152.2L1296.9 3120.8L1289.2 3089.3L1289.2 3057.8L1279.5 3026.4L1279.5 2994.9L1274.5 2976.1L1253.1 2963.5L1232.4 2932.1L1232.4 2900.6L1221 2881.7L1199.6 2869.2L1199.6 2837.7L1167.5 2818.8L1146.1 2806.2L1114 2787.4L1081.9 2806.2L1060.5 2818.8L1007 2818.8L989.2 2837.7L974.9 2869.2L974.9 2900.6L972.4 2932.1L972.4 2963.5L961.8 2994.9L953.5 3007.5L945.3 2994.9L917.9 2963.5L917.9 2932.1L932.1 2900.6L932.1 2869.2L900 2850.3L867.9 2869.2L867.9 2900.6L846.5 2913.2L835.1 2932.1L835.1 2963.5L835.1 2994.9L835.1 3026.4L835.1 3057.9L811.9 3089.3L797.7 3120.8L816.9 3152.2L816.9 3183.7L805.6 3215.1L793.1 3239.8L788 3246.6L778.4 3278M1546.9 3278L1553.7 3246.6L1560.6 3215.1L1560.6 3183.7L1556.6 3152.2L1556.6 3120.8L1556.6 3089.3L1556.6 3057.8L1556.6 3026.4L1549.2 2994.9L1553.3 2963.5L1574 2932.1L1574 2900.6L1574 2869.2L1574 2837.7L1559.7 2806.2L1541.9 2787.4L1509.8 2806.2L1509.8 2837.7L1509.8 2869.2L1488.4 2881.7L1456.3 2900.6L1443.1 2932.1L1443.1 2963.5L1443.1 2994.9L1443.1 3026.4L1443.1 3057.8L1456.3 3089.3L1470.6 3120.8L1488.4 3139.6L1496.6 3152.2L1519.4 3183.7L1519.4 3215.1L1515.1 3246.6L1488.4 3271.3L1483.4 3278M926.8 2806.2L953.5 2790.5L980.3 2806.2L965.4 2837.7L953.5 2853.4L926.8 2837.7L926.8 2806.2M1702.3 2853.4L1690.5 2869.1L1696.1 2900.6L1698.4 2932.1L1698.4 2963.5L1698.4 2994.9L1698.4 3026.4L1702.3 3033.4L1708.6 3026.4L1706.3 2994.9L1708.6 2963.5L1708.6 2932.1L1714.2 2900.6L1729.1 2869.2L1702.3 2853.4M1862.8 2884.9L1850.9 2900.6L1845.8 2932.1L1845.8 2963.5L1851.1 2994.9L1842.8 3026.4L1842.8 3057.8L1840.5 3089.3L1840.5 3120.8L1840.5 3152.2L1846.8 3183.6L1853.9 3215.1L1862.8 3239.6L1889.6 3215.1L1910 3183.7L1912.3 3152.2L1889.6 3120.8L1889.6 3089.3L1882.9 3057.8L1889.6 3026.4L1879.8 2994.9L1879.8 2963.5L1879.8 2932.1L1869.1 2900.6L1862.8 2884.9M941.6 2932.1L953.5 2916.3L959.8 2932.1L959.8 2963.5L953.5 2979.2L941.6 2963.5L941.6 2932.1M2183.7 2947.8L2171.9 2963.5L2157 2994.9L2147.3 3026.4L2157 3057.8L2177.4 3089.3L2183.7 3096.3L2237.2 3105L2243.5 3089.3L2237.2 3073.6L2225.3 3057.8L2210.5 3026.4L2195.4 2994.9L2187.7 2963.5L2183.7 2947.8M2344.2 3073.6L2327.2 3089.3L2324.1 3120.8L2324.1 3152.2L2332.5 3183.7L2344.2 3208.1M1702.3 3105L1690.6 3120.8L1682.3 3152.2L1682.3 3183.7L1690.6 3215.1L1702.3 3239.6L1755.8 3222.1L1758.7 3215.1L1764.8 3183.7L1764.8 3152.2L1764.8 3120.8L1755.8 3105L1702.3 3105M686.1 3136.5L682.1 3152.2L674.4 3183.7L674.4 3215.1L674.4 3246.6L686.1 3262.3L697.8 3246.6L697.8 3215.1L697.8 3183.7L692.4 3152.2L686.1 3136.5M2130.2 3136.5L2126.3 3152.2L2118.5 3183.7L2130.2 3208.1L2142 3183.7L2133.1 3152.2L2130.2 3136.5M412.4 3278L418.6 3262.3L430.5 3246.6L430.4 3215.1L430.4 3183.7L418.6 3167.9L391.9 3152.2L374.1 3120.8L367.4 3089.3L367.4 3057.9L368.1 3026.4L365.2 3010.7L362.9 3026.4L362.9 3057.9L362.9 3089.3L358 3120.8L356.2 3152.2L345.1 3183.7L338.4 3215.1L338.4 3246.6L345.1 3278M545.7 3278L545.7 3246.6L534.5 3215.1L534.5 3183.7L534.5 3152.2L541.7 3120.7L545.7 3089.3L529.6 3057.8L525.6 3042.1L521.7 3057.8L505.6 3089.3L509.6 3120.7L516.7 3152.2L513.9 3183.7L513.9 3215.1L489.2 3246.6L478.4 3278M1134 3278L1134 3246.6L1134 3215.1L1134 3183.7L1140.7 3152.2L1140.7 3120.8L1163.5 3089.3L1161.2 3057.8L1167.5 3042.1L1179.4 3057.8L1179.4 3089.3L1221 3105L1232.7 3120.8L1241 3152.2L1224.9 3183.7L1221 3199.4L1217 3215.1L1209.3 3246.6L1217 3278M1286.2 3278L1294.5 3246.6L1294.5 3215.1L1301.2 3183.7L1301.2 3152.2L1301.2 3120.8L1294.5 3089.3L1294.5 3057.8L1286.2 3026.4L1286.2 2994.9L1280.7 2963.5L1274.5 2956.5L1247.7 2932.1L1247.7 2900.6L1274.5 2876.1L1301.2 2869.2L1274.5 2853.4L1247.7 2837.7L1247.7 2806.2L1221 2790.5L1194.2 2774.8L1167.5 2759.1L1114 2759.1L1087.2 2774.8L1060.5 2790.5L1007 2790.5L980.3 2774.8L953.5 2759.1L926.8 2774.8L900 2790.5L846.5 2790.5L819.8 2806.2L834.7 2837.7L834.7 2869.1L840.3 2900.6L819.8 2932.1L819.8 2963.5L819.8 2994.9L819.8 3026.4L819.8 3057.8L799.4 3089.3L793.1 3105L781.2 3089.3L766.3 3057.8L766.3 3026.4L766.3 2994.9L766.3 2963.5L766.3 2932.1L756.6 2900.6L751.5 2869.1L739.6 2853.4L733.3 2869.2L727.9 2900.6L730.7 2932.1L730.7 2963.5L727.9 2994.9L727.9 3026.4L727.9 3057.8L727.9 3089.3L712.8 3120.8L739.6 3124.5L793.1 3123.1L813.6 3152.2L813.6 3183.7L801 3215.1L793.1 3230.8L781.4 3246.6L773 3278M1553.6 3278L1557.9 3246.6L1564.2 3215.1L1564.2 3183.6L1561.9 3152.2L1561.9 3120.8L1561.9 3089.3L1561.9 3057.8L1561.9 3026.4L1558.9 2994.9L1568.6 2963.5L1595.4 2939L1599.3 2932.1L1601.7 2900.6L1607.3 2869.1L1622.1 2837.7L1595.4 2822L1583.5 2806.2L1568.6 2774.8L1568.6 2743.3L1541.9 2727.6L1515.1 2743.3L1488.4 2759.1L1461.7 2774.8L1461.7 2806.2L1461.7 2837.7L1461.7 2869.2L1434.9 2884.9L1408.2 2869.2L1408.2 2837.7L1408.2 2806.2L1381.4 2790.5L1354.7 2806.2L1354.7 2837.7L1354.7 2869.2L1339.8 2900.6L1345 2932.1L1354.7 2963.5L1361.4 2994.9L1361.4 3026.4L1361.4 3057.8L1361.4 3089.3L1369.7 3120.8L1381.4 3136.5L1423 3120.8L1434.9 3105L1446.8 3120.8L1476.5 3152.2L1488.4 3154.5L1515.1 3183.7L1515.1 3215.1L1505.4 3246.6L1488.4 3262.3L1476.7 3278M504.2 2649L504.2 2680.4L504.2 2711.9L504.2 2743.3L525.6 2755.9L547 2743.3L547 2711.9L547 2680.4L547 2649M611.2 2649L611.2 2680.4L611.2 2711.9L632.6 2724.5L686.1 2724.5L739.6 2724.5L771.7 2743.3L771.7 2774.8L739.6 2793.7L718.2 2806.2L718.2 2837.7L720.7 2869.2L721.2 2900.6L725.6 2932.1L725.6 2963.5L721.2 2994.9L721.2 3026.4L721.2 3057.8L721.2 3089.3L686.1 3118L681.4 3120.8L674.2 3152.2L667.7 3183.7L667.7 3215.1L667.7 3246.6L686.1 3271.3L704.5 3246.6L704.5 3215.1L704.5 3183.7L705 3152.2L739.6 3131.8L793.1 3127.7L810.3 3152.2L810.3 3183.7L796.5 3215.1L793.1 3221.8L774.7 3246.6L767.7 3278M632.6 2825.1L627.9 2837.7L627.9 2869.1L629.4 2900.6L629.4 2932.1L627.9 2963.5L627.9 2994.9L632.6 3007.5L637.3 2994.9L635.8 2963.5L635.8 2932.1L637.3 2900.6L640.8 2869.2L654 2837.7L632.6 2825.1M761 2837.7L793.1 2818.8L810.9 2837.7L810.9 2869.2L827.7 2900.6L804.5 2932.1L804.5 2963.5L804.5 2994.9L804.5 3026.4L804.5 3057.9L793.1 3076.7L781.6 3057.9L781.6 3026.4L781.6 2994.9L781.6 2963.5L781.6 2932.1L766.3 2900.6L775.2 2869.2L761 2837.7M2344.2 2856.6L2322.8 2869.2L2322.8 2900.6L2344.2 2913.2M472.1 2888L467.5 2900.6L468.9 2932.1L468.9 2963.5L467.5 2994.9L472.1 3007.5L493.5 2994.9L480.4 2963.5L480.4 2932.1L493.5 2900.6L472.1 2888M2183.7 2919.5L2162.3 2932.1L2148.1 2963.5L2141.7 2994.9L2137.5 3026.4L2141.7 3057.9L2164.9 3089.3L2183.7 3110.3L2215.8 3120.8L2237.2 3133.3L2241.9 3120.8L2256.1 3089.3L2258.6 3057.8L2237.2 3053L2217.6 3026.4L2202.1 2994.9L2195.6 2963.5L2188.4 2932L2183.7 2919.5M2344.2 3013.8L2312.1 2994.9L2312.1 2963.5L2312.1 2932.1L2290.7 2919.5L2286.1 2932L2286.1 2963.5L2286.1 2994.9L2282.5 3026.4L2290.7 3039L2344.2 3039M2344.2 3064.6L2317.5 3089.3L2318.8 3120.8L2318.8 3152.2L2325.8 3183.7L2339.5 3215.1L2344.2 3227.7M1702.3 3096L1684 3120.8L1676.9 3152.2L1676.9 3183.7L1684 3215.1L1697.7 3246.5L1702.3 3259.1L1723.7 3246.6L1755.8 3236.1L1764.5 3215.1L1769.8 3183.7L1769.8 3152.2L1769.8 3120.8L1755.8 3096L1702.3 3096M2130.2 3115.9L2125.6 3120.8L2118.4 3152.2L2111.9 3183.7L2125.6 3215.1L2130.2 3217.8L2134.9 3215.1L2148.6 3183.7L2138.9 3152.2L2151.6 3120.8L2130.2 3115.9M2237.2 3171.1L2232.6 3183.6L2237.2 3186.4L2241.9 3183.6L2237.2 3171.1M1381.4 3234L1376.8 3246.5L1381.4 3259.1L1386.1 3246.5L1381.4 3234M551 3278L551 3246.6L539.6 3215.1L539.6 3183.7L539.6 3152.2L546 3120.8L551 3089.3L537.5 3057.8L530.3 3026.4L525.6 3013.8L504.2 3026.4L513.7 3057.8L500.2 3089.3L505.3 3120.8L511.6 3152.2L507.2 3183.7L507.2 3215.1L479.4 3246.6L472.1 3265.4L454.3 3246.6L437 3215.1L437 3183.7L418.6 3158.9L407.2 3152.2L379.2 3120.8L372 3089.3L372 3057.8L373.8 3026.4L369.8 2994.9L365.2 2982.4L361.9 2994.9L358.3 3026.4L358.3 3057.8L358.3 3089.3L353.8 3120.8L351.2 3152.2L339.8 3183.7L334.1 3215.1L334.1 3246.6L339.8 3278M1139.4 3278L1139.4 3246.6L1139.4 3215.1L1139.4 3183.7L1145 3152.2L1145 3120.8L1167.5 3092L1221 3114L1226 3120.8L1235.7 3152.2L1221 3178.8L1216.3 3183.6L1209.1 3215.1L1202.6 3246.6L1209.1 3278M1292.8 3278L1299.9 3246.6L1299.9 3215.1L1305.5 3183.7L1305.5 3152.2L1305.5 3120.8L1299.9 3089.3L1299.9 3057.8L1292.8 3026.4L1292.8 2994.9L1293.3 2963.5L1274.5 2942.5L1263 2932.1L1263 2900.6L1274.5 2890.1L1306.5 2900.6L1327.9 2913.2L1335.2 2932.1L1347.5 2963.5L1356 2994.9L1356 3026.4L1356 3057.8L1356 3089.3L1363 3120.8L1381.4 3145.5L1434.9 3133.3L1452.7 3152.2L1488.4 3159.2L1510.9 3183.7L1510.9 3215.1L1495.7 3246.6L1488.4 3253.3L1470 3278M1560.3 3278L1562.2 3246.6L1567.7 3215.1L1567.7 3183.7L1567.3 3152.2L1567.3 3120.8L1567.3 3089.3L1567.3 3057.8L1567.3 3026.4L1568.6 2994.9L1583.9 2963.5L1595.4 2953L1607.3 2932.1L1614.3 2900.6L1631 2869.2L1648.9 2850.3L1666.7 2869.2L1683.5 2900.6L1690.5 2932.1L1690.5 2963.5L1690.5 2994.9L1690.5 3026.4L1702.3 3047.4L1721.2 3026.4L1714.2 2994.9L1721.2 2963.5L1721.2 2932.1L1738 2900.6L1755.8 2881.7L1809.3 2881.7L1827.2 2900.6L1836.1 2932.1L1836.1 2963.5L1844.4 2994.9L1837.4 3026.4L1837.4 3057.8L1837 3089.3L1837 3120.8L1837 3152.2L1842.5 3183.7L1848.8 3215.1L1859.6 3246.6L1862.8 3259.1L1916.3 3259.1L1919.5 3246.6L1916.3 3234L1904.8 3215.1L1916.3 3196.2L1919.5 3183.7L1919.5 3152.2L1916.3 3149.5L1893.8 3120.8L1893.8 3089.3L1888.2 3057.8L1896.7 3026.4L1889.6 2994.9L1889.6 2963.5L1889.6 2932.1L1881.7 2900.6L1884.2 2869.2L1862.8 2856.6L1830.7 2837.7L1830.7 2806.2L1830.7 2774.8L1830.7 2743.3L1809.3 2730.8L1787.9 2743.3L1755.8 2762.2L1723.7 2743.3L1702.3 2730.8L1648.9 2730.8L1616.8 2711.9L1595.4 2699.3L1563.3 2680.4L1595.4 2661.6L1616.8 2649M2344.2 3265.4L2341 3278M204.7 2723.7L224.8 2711.9L258.2 2692.2L291.6 2711.9L311.7 2723.7L345.1 2743.4L365.2 2755.1L398.6 2774.8L418.6 2786.6L452.1 2806.2L463.2 2837.7L463.2 2869.1L453.5 2900.6L459.2 2932.1L459.2 2963.5L453.5 2994.9L466.4 3026.4L472.1 3031.6L501.9 3057.8L492.2 3089.3L498.9 3120.8L504 3152.2L497.2 3183.7L497.2 3215.1L472.1 3241.3L447.1 3215.1L447.1 3183.7L424.4 3152.2L418.6 3148.8L386.8 3120.8L378.8 3089.3L378.8 3057.8L382.5 3026.4L383.8 2994.9L370.9 2963.5L365.2 2958.3L359.4 2963.5L352.2 2994.9L351.5 3026.4L351.5 3057.8L351.5 3089.3L347.7 3120.8L343.5 3152.2L331.7 3183.7L327.7 3215.1L327.7 3246.6L331.7 3278M780.9 2900.6L793.1 2880.9L808.8 2900.6L793.1 2920.3L780.9 2900.6M2203.8 2900.6L2237.2 2880.9L2270.7 2900.6L2272.1 2932.1L2272.1 2963.5L2272.1 2994.9L2257.8 3026.4L2237.2 3038.5L2228.3 3026.4L2212.2 2994.9L2207.5 2963.5L2202.3 2932.1L2203.8 2900.6M559.1 3278L559.1 3246.6L547.3 3215.1L547.3 3183.7L547.3 3152.2L552.4 3120.8L559.1 3089.3L549.4 3057.8L544.2 3026.4L534.5 2994.9L525.6 2983.2L505.1 2963.5L505.1 2932.1L525.6 2912.4L531.4 2900.6L534.5 2869.1L534.5 2837.7L545.7 2806.2L545.7 2774.8L579.1 2755.1L612.5 2774.8L612.5 2806.2L614 2837.7L614 2869.2L619.6 2900.6L619.6 2932.1L614 2963.5L614 2994.9L623.7 3026.4L632.6 3038.2L641.5 3026.4L651.2 2994.9L645.6 2963.5L645.6 2932.1L651.2 2900.6L665.5 2869.2L686.1 2849.5L701.8 2869.2L711.2 2900.6L717.9 2932.1L717.9 2963.5L711.2 2994.9L711.2 3026.4L711.2 3057.8L711.2 3089.3L686.1 3109.8L667.5 3120.8L662.3 3152.2L657.7 3183.7L657.7 3215.1L657.7 3246.6L677.2 3278M695 3278L714.5 3246.6L714.5 3215.1L714.5 3183.7L723.8 3152.2L739.6 3142.9L793.1 3134.7L805.4 3152.2L805.4 3183.7L793.1 3209.9L784.1 3215.1L764.6 3246.6L759.6 3278M1147.4 3278L1147.4 3246.6L1147.4 3215.1L1147.4 3183.7L1151.4 3152.2L1151.4 3120.8L1167.5 3100.2L1212 3120.7L1221 3132.5L1227.6 3152.2L1221 3164.3L1202.4 3183.7L1197.2 3215.1L1192.5 3246.6L1197.2 3278M1302.9 3278L1307.9 3246.6L1307.9 3215.1L1311.9 3183.7L1311.9 3152.2L1311.9 3120.8L1307.9 3089.3L1307.9 3057.8L1302.9 3026.4L1302.9 2994.9L1312.2 2963.5L1327.9 2943.8L1336.9 2963.5L1348 2994.9L1348 3026.4L1348 3057.8L1348 3089.3L1353 3120.8L1372.5 3152.2L1381.4 3157.4L1434.9 3157.4L1488.4 3166.2L1504.4 3183.7L1504.4 3215.1L1488.4 3241.3L1479.5 3246.5L1460 3278M1390.3 3278L1400 3246.6L1387.2 3215.1L1381.4 3209.9L1372.5 3215.1L1362.8 3246.6L1372.5 3278M1570.3 3278L1568.6 3246.6L1573.1 3215.1L1573.1 3183.7L1575.3 3152.2L1575.3 3120.8L1575.3 3089.3L1575.3 3057.8L1575.3 3026.4L1583.2 2994.9L1595.4 2975.3L1604.3 2963.5L1619.1 2932.1L1633.1 2900.6L1648.9 2880.9L1664.6 2900.6L1678.6 2932.1L1678.6 2963.5L1678.6 2994.9L1678.6 3026.4L1693.4 3057.8L1693.4 3089.3L1673.9 3120.8L1668.9 3152.2L1668.9 3183.7L1673.9 3215.1L1683.7 3246.6L1693.4 3278M1764.8 3278L1761.6 3246.5L1773.2 3215.1L1777.5 3183.7L1777.5 3152.2L1777.5 3120.8L1761.6 3089.3L1755.8 3077.5L1722.4 3057.9L1740.1 3026.4L1726.1 2994.9L1740.1 2963.5L1740.1 2932.1L1755.8 2912.4L1809.3 2912.4L1821.5 2932.1L1821.5 2963.5L1834.4 2994.9L1829.4 3026.4L1829.4 3057.8L1831.6 3089.3L1831.6 3120.8L1831.6 3152.2L1836.1 3183.7L1841.2 3215.1L1849.8 3246.6L1853.9 3278M1922 3278L1929.3 3246.6L1922 3215.1L1929.3 3183.7L1929.3 3152.2L1916.3 3141.3L1900.3 3120.8L1900.3 3089.3L1896.2 3057.8L1907.4 3026.4L1904.1 2994.9L1904.1 2963.5L1904.1 2932.1L1900.6 2900.6L1916.3 2880.9L1949.7 2900.6L1969.8 2912.4L1978.7 2900.6L1989.8 2869.2L2023.3 2849.5L2076.8 2849.5L2110.2 2869.2L2121.3 2900.6L2121.3 2932.1L2121.3 2963.5L2110.2 2994.9L2110.2 3026.4L2121.3 3057.8L2130.2 3069.6L2146 3089.3L2130.2 3101.4L2111.6 3120.8L2106.5 3152.2L2101.8 3183.7L2111.6 3215.1L2130.2 3226L2148.9 3215.1L2158.7 3183.7L2147.6 3152.2L2183.7 3124.1L2231.5 3152.2L2218.6 3183.7L2237.2 3194.6L2255.8 3183.7L2246.1 3152.2L2255.8 3120.8L2275 3089.3L2290.7 3069.6L2302.9 3089.3L2310.8 3120.8L2310.8 3152.2L2315.8 3183.7L2325.6 3215.1L2338.5 3246.5L2331.2 3278M204.7 2759.1L258.2 2759.1L284.9 2774.8L311.7 2790.5L338.4 2806.2L338.4 2837.7L338.4 2869.2L365.2 2884.9L391.9 2869.2L391.9 2837.7L418.6 2822L433.5 2837.7L433.5 2869.2L430.3 2900.6L443 2932.1L443 2963.5L430.3 2994.9L447.3 3026.4L472.1 3049.1L482 3057.8L478.8 3089.3L488.2 3120.8L491.2 3152.2L480.5 3183.7L480.5 3215.1L472.1 3223.8L463.8 3215.1L463.8 3183.7L443.5 3152.2L418.6 3137.6L399.5 3120.8L390.2 3089.3L390.2 3057.8L397 3026.4L407 2994.9L390 2963.5L365.2 2940.8L340.3 2963.5L336 2994.9L340.1 3026.4L340.1 3057.8L340.1 3089.3L337.4 3120.8L330.8 3152.2L318.4 3183.7L317 3215.1L317 3246.6L318.4 3278M2225.6 2932.1L2237.2 2916.3L2248.9 2932.1L2248.9 2963.5L2248.9 2994.9L2237.2 3010.7L2228.9 2994.9L2227.3 2963.5L2225.6 2932.1M572.4 3278L572.4 3246.6L560 3215.1L560 3183.7L560 3152.2L563.1 3120.8L572.4 3089.3L569.2 3057.8L567.5 3026.4L564.3 2994.9L552.4 2963.5L539 2932.1L550.5 2900.6L564.3 2869.2L564.3 2837.7L579.1 2822L590.7 2837.7L590.7 2869.2L603.4 2900.6L603.4 2932.1L590.7 2963.5L590.7 2994.9L594 3026.4L605.9 3057.8L632.6 3073.6L659.3 3057.8L671.2 3026.4L674.5 2994.9L661.8 2963.5L661.8 2932.1L674.5 2900.6L686.1 2884.9L694.4 2900.6L705.2 2932.1L705.2 2963.5L694.4 2994.9L694.4 3026.4L694.4 3057.8L694.4 3089.3L686.1 3096.1L644.2 3120.8L642.5 3152.2L641 3183.7L641 3215.1L641 3246.6L647.5 3278M724.7 3278L731.2 3246.6L731.2 3215.1L731.2 3183.7L739.6 3167.9L766.3 3152.2L793.1 3146.4L797.2 3152.2L797.2 3183.7L793.1 3192.4L754.4 3215.1L747.9 3246.6L746.3 3278M1160.8 3278L1160.8 3246.6L1160.8 3215.1L1160.8 3183.7L1162.1 3152.2L1162.1 3120.8L1167.5 3113.9L1182.3 3120.8L1194.2 3152.2L1179.1 3183.7L1177.4 3215.1L1175.8 3246.6L1177.4 3278M1319.6 3278L1321.3 3246.6L1321.3 3215.1L1322.6 3183.7L1322.6 3152.2L1322.6 3120.8L1321.3 3089.3L1321.3 3057.8L1319.6 3026.4L1319.6 2994.9L1327.9 2979.2L1334.6 2994.9L1334.6 3026.4L1334.6 3057.8L1334.6 3089.3L1336.3 3120.8L1342.8 3152.2L1381.4 3174.9L1434.9 3174.9L1488.4 3177.8L1493.7 3183.7L1493.7 3215.1L1488.4 3223.8L1449.8 3246.6L1443.3 3278M1420.1 3278L1423.3 3246.6L1406.3 3215.1L1381.4 3192.4L1342.8 3215.1L1339.6 3246.6L1342.8 3278M1587 3278L1579.3 3246.6L1582 3215.1L1582 3183.7L1588.7 3152.2L1588.7 3120.8L1588.7 3089.3L1588.7 3057.8L1588.7 3026.4L1595.4 3010.7L1622.1 2994.9L1634 2963.5L1639 2932.1L1648.9 2916.3L1658.8 2932.1L1658.8 2963.5L1658.8 2994.9L1658.8 3026.4L1663.7 3057.8L1663.7 3089.3L1657.2 3120.8L1655.5 3152.2L1655.5 3183.7L1657.2 3215.1L1660.5 3246.6L1663.7 3278M1794.5 3278L1780.7 3246.6L1787.6 3215.1L1790.2 3183.7L1790.2 3152.2L1790.2 3120.8L1780.7 3089.3L1782.6 3057.8L1782.6 3026.4L1755.8 3010.7L1745.9 2994.9L1755.8 2979.2L1809.3 2979.2L1817.7 2994.9L1816 3026.4L1816 3057.8L1822.7 3089.3L1822.7 3120.8L1822.7 3152.2L1825.4 3183.7L1828.4 3215.1L1833.6 3246.6L1824.2 3278M1941.1 3278L1945.5 3246.6L1941.1 3215.1L1945.5 3183.7L1945.5 3152.2L1916.3 3127.6L1911 3120.8L1911 3089.3L1909.6 3057.8L1916.3 3042.1L1943 3026.4L1943 2994.9L1969.8 2979.2L1996.5 2963.5L1996.5 2932.1L2008.4 2900.6L2023.3 2884.9L2076.8 2884.9L2091.6 2900.6L2091.6 2932.1L2091.6 2963.5L2076.8 2979.2L2050 2994.9L2050 3026.4L2076.8 3042.1L2091.6 3057.8L2103.5 3089.3L2088.4 3120.8L2086.7 3152.2L2085.1 3183.7L2088.4 3215.1L2130.2 3239.7L2172.1 3215.1L2175.4 3183.7L2162.1 3152.2L2183.7 3135.4L2212.4 3152.2L2195.4 3183.7L2237.2 3208.3L2279.1 3183.7L2275.9 3152.2L2279.1 3120.8L2290.7 3105L2297.4 3120.8L2297.4 3152.2L2299.1 3183.7L2302.3 3215.1L2319.4 3246.6L2315 3278M204.7 2884.9L258.2 2884.9L311.7 2884.9L338.4 2900.6L338.4 2932.1L321.2 2963.5L319.8 2994.9L328.7 3026.4L328.7 3057.8L328.7 3089.3L327.1 3120.8L318 3152.2L311.7 3167.9L284.9 3183.7L284.9 3215.1L258.2 3230.8L204.7 3230.8M569.6 2900.6L579.1 2884.9L587.2 2900.6L587.2 2932.1L579.1 2947.8L565.7 2932.1L569.6 2900.6M391.9 2932.1L418.6 2916.3L426.8 2932.1L426.8 2963.5L418.6 2979.2L409.1 2963.5L391.9 2932.1M678 2932.1L686.1 2916.3L692.5 2932.1L692.5 2963.5L686.1 2979.2L678 2963.5L678 2932.1M411.4 3026.4L418.6 3010.7L428.2 3026.4L458.8 3057.8L458.8 3089.3L472.1 3105L477.5 3120.8L478.5 3152.2L472.1 3167.9L462.6 3152.2L418.6 3126.4L412.3 3120.8L401.6 3089.3L401.6 3057.8L411.4 3026.4M1799.8 3089.3L1809.3 3073.6L1813.8 3089.3L1813.8 3120.8L1813.8 3152.2L1814.7 3183.7L1815.7 3215.1L1817.4 3246.6L1809.3 3262.3L1799.8 3246.6L1802.1 3215.1L1803 3183.7L1803 3152.2L1803 3120.8L1799.8 3089.3M573.8 3120.8L579.1 3105L605.9 3120.8L605.9 3152.2L605.9 3183.7L605.9 3215.1L579.1 3230.8L572.7 3215.1L572.7 3183.7L572.7 3152.2L573.8 3120.8M1996.5 3120.8L2023.3 3105L2050 3120.8L2023.3 3136.5L1996.5 3120.8M2176.5 3152.2L2183.7 3146.6L2193.3 3152.2L2183.7 3167.9L2176.5 3152.2M1590.9 3183.7L1595.4 3167.9L1622.1 3183.7L1622.1 3215.1L1622.1 3246.6L1595.4 3262.3L1590 3246.6L1590.9 3215.1L1590.9 3183.7M1425.4 3215.1L1434.9 3199.4L1461.7 3215.1L1434.9 3230.8L1425.4 3215.1M1960.2 3278L1961.7 3246.6L1960.2 3215.1L1961.7 3183.7L1961.7 3152.2L1969.8 3136.5L1996.5 3152.2L1996.5 3183.7L1996.5 3215.1L1996.5 3246.6L1996.5 3278M2050 3278L2050 3246.6L2076.8 3230.8L2103.5 3246.6L2103.5 3278M2210.5 3278L2210.5 3246.6L2237.2 3230.8L2290.7 3230.8L2300.3 3246.6L2298.8 3278M284.9 3026.4L311.7 3010.7L317.4 3026.4L317.4 3057.8L317.4 3089.3L316.8 3120.8L311.7 3136.5L284.9 3120.8L284.9 3089.3L284.9 3057.8L284.9 3026.4M413 3057.8L418.6 3042.1L432 3057.8L432 3089.3L418.6 3105L413 3089.3L413 3057.8"/>
<path fill="none" stroke="#300" stroke-opacity="0.6" stroke-width="2.6" d="M258.2 2649v7M258.2 3278v-7M311.7 2649v7M311.7 3278v-7M365.2 2649v7M365.2 3278v-7M418.6 2649v7M418.6 3278v-7M472.1 2649v12M472.1 3278v-12M525.6 2649v7M525.6 3278v-7M579.1 2649v7M579.1 3278v-7M632.6 2649v7M632.6 3278v-7M686.1 2649v7M686.1 3278v-7M739.6 2649v12M739.6 3278v-12M793.1 2649v7M793.1 3278v-7M846.5 2649v7M846.5 3278v-7M900 2649v7M900 3278v-7M953.5 2649v7M953.5 3278v-7M1007 2649v12M1007 3278v-12M1060.5 2649v7M1060.5 3278v-7M1114 2649v7M1114 3278v-7M1167.5 2649v7M1167.5 3278v-7M1221 2649v7M1221 3278v-7M1274.5 2649v12M1274.5 3278v-12M1327.9 2649v7M1327.9 3278v-7M1381.4 2649v7M1381.4 3278v-7M1434.9 2649v7M1434.9 3278v-7M1488.4 2649v7M1488.4 3278v-7M1541.9 2649v12M1541.9 3278v-12M1595.4 2649v7M1595.4 3278v-7M1648.9 2649v7M1648.9 3278v-7M1702.4 2649v7M1702.4 3278v-7M1755.8 2649v7M1755.8 3278v-7M1809.3 2649v12M1809.3 3278v-12M1862.8 2649v7M1862.8 3278v-7M1916.3 2649v7M1916.3 3278v-7M1969.8 2649v7M1969.8 3278v-7M2023.3 2649v7M2023.3 3278v-7M2076.8 2649v12M2076.8 3278v-12M2130.2 2649v7M2130.2 3278v-7M2183.7 2649v7M2183.7 3278v-7M2237.2 2649v7M2237.2 3278v-7M2290.7 2649v7M2290.7 3278v-7M204.7 2664.7h20M2344.2 2664.7h-20M204.7 2680.4h20M2344.2 2680.4h-20M204.7 2696.2h20M2344.2 2696.2h-20M204.7 2711.9h20M2344.2 2711.9h-20M204.7 2727.6h20M2344.2 2727.6h-20M204.7 2743.3h20M2344.2 2743.3h-20M204.7 2759.1h20M2344.2 2759.1h-20M204.7 2774.8h20M2344.2 2774.8h-20M204.7 2790.5h20M2344.2 2790.5h-20M204.7 2806.2h42M2344.2 2806.2h-42M204.7 2822h20M2344.2 2822h-20M204.7 2837.7h20M2344.2 2837.7h-20M204.7 2853.4h20M2344.2 2853.4h-20M204.7 2869.2h20M2344.2 2869.2h-20M204.7 2884.9h20M2344.2 2884.9h-20M204.7 2900.6h20M2344.2 2900.6h-20M204.7 2916.3h20M2344.2 2916.3h-20M204.7 2932.1h20M2344.2 2932.1h-20M204.7 2947.8h20M2344.2 2947.8h-20M204.7 2963.5h42M2344.2 2963.5h-42M204.7 2979.2h20M2344.2 2979.2h-20M204.7 2994.9h20M2344.2 2994.9h-20M204.7 3010.7h20M2344.2 3010.7h-20M204.7 3026.4h20M2344.2 3026.4h-20M204.7 3042.1h20M2344.2 3042.1h-20M204.7 3057.8h20M2344.2 3057.8h-20M204.7 3073.6h20M2344.2 3073.6h-20M204.7 3089.3h20M2344.2 3089.3h-20M204.7 3105h20M2344.2 3105h-20M204.7 3120.8h42M2344.2 3120.8h-42M204.7 3136.5h20M2344.2 3136.5h-20M204.7 3152.2h20M2344.2 3152.2h-20M204.7 3167.9h20M2344.2 3167.9h-20M204.7 3183.7h20M2344.2 3183.7h-20M204.7 3199.4h20M2344.2 3199.4h-20M204.7 3215.1h20M2344.2 3215.1h-20M204.7 3230.8h20M2344.2 3230.8h-20M204.7 3246.6h20M2344.2 3246.6h-20M204.7 3262.3h20M2344.2 3262.3h-20"/>
<rect x="204.7" y="2649" width="2139.5" height="629" fill="none" stroke="#1a0a00" stroke-width="2.4"/>
<rect x="392" y="3426" width="1781" height="62" fill="#c8a890"/>
<rect x="413" y="3429" width="1753" height="56" fill="url(#cbg)"/>
<rect x="401" y="3429" width="12" height="56" fill="#100000"/>
<text transform="translate(487 3575) scale(1.18 1)" font-size="64" font-family="Liberation Serif, Times New Roman, serif" text-anchor="middle" fill="#000">−1.5</text>
<text transform="translate(698 3575) scale(1.18 1)" font-size="64" font-family="Liberation Serif, Times New Roman, serif" text-anchor="middle" fill="#000">−1.0</text>
<text transform="translate(905 3575) scale(1.18 1)" font-size="64" font-family="Liberation Serif, Times New Roman, serif" text-anchor="middle" fill="#000">−0.5</text>
<text transform="translate(1111 3575) scale(1.18 1)" font-size="64" font-family="Liberation Serif, Times New Roman, serif" text-anchor="middle" fill="#000">0.0</text>
<text transform="translate(1313 3575) scale(1.18 1)" font-size="64" font-family="Liberation Serif, Times New Roman, serif" text-anchor="middle" fill="#000">0.5</text>
<text transform="translate(1519 3575) scale(1.18 1)" font-size="64" font-family="Liberation Serif, Times New Roman, serif" text-anchor="middle" fill="#000">1.0</text>
<text transform="translate(1741 3575) scale(1.18 1)" font-size="64" font-family="Liberation Serif, Times New Roman, serif" text-anchor="middle" fill="#000">1.5</text>
<text transform="translate(1961 3575) scale(1.18 1)" font-size="64" font-family="Liberation Serif, Times New Roman, serif" text-anchor="middle" fill="#000">2.0</text>
<text transform="translate(18 64) scale(1.25 1)" font-size="61" font-family="Liberation Serif, Times New Roman, serif" font-weight="bold" text-anchor="start" fill="#000">(a)</text>
<text transform="translate(994 70) scale(1.183 1)" font-size="64" font-family="Liberation Sans, Arial, sans-serif" text-anchor="start" fill="#000">SBUV, Antarctic</text>
<text transform="translate(1833 70) scale(1.12 1)" font-size="60" font-family="Liberation Serif, Times New Roman, serif" text-anchor="start" fill="#000">DU</text>
<text transform="translate(189 787) scale(1.17 1)" font-size="50" font-family="Liberation Sans, Arial, sans-serif" text-anchor="middle" fill="#000">1980</text>
<text transform="translate(456.4 787) scale(1.17 1)" font-size="50" font-family="Liberation Sans, Arial, sans-serif" text-anchor="middle" fill="#000">1985</text>
<text transform="translate(723.9 787) scale(1.17 1)" font-size="50" font-family="Liberation Sans, Arial, sans-serif" text-anchor="middle" fill="#000">1990</text>
<text transform="translate(991.3 787) scale(1.17 1)" font-size="50" font-family="Liberation Sans, Arial, sans-serif" text-anchor="middle" fill="#000">1995</text>
<text transform="translate(1258.8 787) scale(1.17 1)" font-size="50" font-family="Liberation Sans, Arial, sans-serif" text-anchor="middle" fill="#000">2000</text>
<text transform="translate(1526.2 787) scale(1.17 1)" font-size="50" font-family="Liberation Sans, Arial, sans-serif" text-anchor="middle" fill="#000">2005</text>
<text transform="translate(1793.6 787) scale(1.17 1)" font-size="50" font-family="Liberation Sans, Arial, sans-serif" text-anchor="middle" fill="#000">2010</text>
<text transform="translate(2061.1 787) scale(1.17 1)" font-size="50" font-family="Liberation Sans, Arial, sans-serif" text-anchor="middle" fill="#000">2015</text>
<text transform="translate(2328.5 787) scale(1.17 1)" font-size="50" font-family="Liberation Sans, Arial, sans-serif" text-anchor="middle" fill="#000">2020</text>
<text transform="translate(175.5 123) scale(1.17 1)" font-size="50" font-family="Liberation Sans, Arial, sans-serif" text-anchor="end" fill="#000">50</text>
<text transform="translate(175.5 273.2) scale(1.17 1)" font-size="50" font-family="Liberation Sans, Arial, sans-serif" text-anchor="end" fill="#000">40</text>
<text transform="translate(175.5 423.5) scale(1.17 1)" font-size="50" font-family="Liberation Sans, Arial, sans-serif" text-anchor="end" fill="#000">30</text>
<text transform="translate(175.5 573.8) scale(1.17 1)" font-size="50" font-family="Liberation Sans, Arial, sans-serif" text-anchor="end" fill="#000">20</text>
<text transform="translate(175.5 724) scale(1.17 1)" font-size="50" font-family="Liberation Sans, Arial, sans-serif" text-anchor="end" fill="#000">10</text>
<text transform="translate(1151 851) scale(1.28 1)" font-size="62" font-family="Liberation Serif, Times New Roman, serif" text-anchor="start" fill="#000">Year</text>
<text transform="translate(87 525) rotate(-90) scale(1 1.2)" font-size="62" font-family="Liberation Serif, Times New Roman, serif" text-anchor="start" fill="#000">Altitude, km</text>
<text transform="translate(20 914) scale(1.25 1)" font-size="61" font-family="Liberation Serif, Times New Roman, serif" font-weight="bold" text-anchor="start" fill="#000">(b)</text>
<text transform="translate(916 928) scale(1.169 1)" font-size="64" font-family="Liberation Sans, Arial, sans-serif" text-anchor="start" fill="#000">INM/RSHU, Antarctic</text>
<text transform="translate(1825 928) scale(1.12 1)" font-size="60" font-family="Liberation Serif, Times New Roman, serif" text-anchor="start" fill="#000">DU</text>
<text transform="translate(195 1645) scale(1.17 1)" font-size="50" font-family="Liberation Sans, Arial, sans-serif" text-anchor="middle" fill="#000">1980</text>
<text transform="translate(462.5 1645) scale(1.17 1)" font-size="50" font-family="Liberation Sans, Arial, sans-serif" text-anchor="middle" fill="#000">1985</text>
<text transform="translate(730 1645) scale(1.17 1)" font-size="50" font-family="Liberation Sans, Arial, sans-serif" text-anchor="middle" fill="#000">1990</text>
<text transform="translate(997.5 1645) scale(1.17 1)" font-size="50" font-family="Liberation Sans, Arial, sans-serif" text-anchor="middle" fill="#000">1995</text>
<text transform="translate(1265 1645) scale(1.17 1)" font-size="50" font-family="Liberation Sans, Arial, sans-serif" text-anchor="middle" fill="#000">2000</text>
<text transform="translate(1532.5 1645) scale(1.17 1)" font-size="50" font-family="Liberation Sans, Arial, sans-serif" text-anchor="middle" fill="#000">2005</text>
<text transform="translate(1800 1645) scale(1.17 1)" font-size="50" font-family="Liberation Sans, Arial, sans-serif" text-anchor="middle" fill="#000">2010</text>
<text transform="translate(2067.5 1645) scale(1.17 1)" font-size="50" font-family="Liberation Sans, Arial, sans-serif" text-anchor="middle" fill="#000">2015</text>
<text transform="translate(2335 1645) scale(1.17 1)" font-size="50" font-family="Liberation Sans, Arial, sans-serif" text-anchor="middle" fill="#000">2020</text>
<text transform="translate(181 985) scale(1.17 1)" font-size="50" font-family="Liberation Sans, Arial, sans-serif" text-anchor="end" fill="#000">50</text>
<text transform="translate(181 1134.2) scale(1.17 1)" font-size="50" font-family="Liberation Sans, Arial, sans-serif" text-anchor="end" fill="#000">40</text>
<text transform="translate(181 1283.5) scale(1.17 1)" font-size="50" font-family="Liberation Sans, Arial, sans-serif" text-anchor="end" fill="#000">30</text>
<text transform="translate(181 1432.8) scale(1.17 1)" font-size="50" font-family="Liberation Sans, Arial, sans-serif" text-anchor="end" fill="#000">20</text>
<text transform="translate(181 1582) scale(1.17 1)" font-size="50" font-family="Liberation Sans, Arial, sans-serif" text-anchor="end" fill="#000">10</text>
<text transform="translate(1196.6 1709) scale(1.28 1)" font-size="62" font-family="Liberation Serif, Times New Roman, serif" text-anchor="start" fill="#000">Year</text>
<text transform="translate(89.7 1378.6) rotate(-90) scale(1 1.2)" font-size="62" font-family="Liberation Serif, Times New Roman, serif" text-anchor="start" fill="#000">Altitude, km</text>
<text transform="translate(19 1765) scale(1.25 1)" font-size="61" font-family="Liberation Serif, Times New Roman, serif" font-weight="bold" text-anchor="start" fill="#000">( c)</text>
<text transform="translate(1073.6 1778.4) scale(1.136 1)" font-size="64" font-family="Liberation Sans, Arial, sans-serif" text-anchor="start" fill="#000">Arctic SBUV</text>
<text transform="translate(1829 1778) scale(1.12 1)" font-size="60" font-family="Liberation Serif, Times New Roman, serif" text-anchor="start" fill="#000">DU</text>
<text transform="translate(201.5 2496.4) scale(1.17 1)" font-size="50" font-family="Liberation Sans, Arial, sans-serif" text-anchor="middle" fill="#000">1980</text>
<text transform="translate(469 2496.4) scale(1.17 1)" font-size="50" font-family="Liberation Sans, Arial, sans-serif" text-anchor="middle" fill="#000">1985</text>
<text transform="translate(736.5 2496.4) scale(1.17 1)" font-size="50" font-family="Liberation Sans, Arial, sans-serif" text-anchor="middle" fill="#000">1990</text>
<text transform="translate(1003.9 2496.4) scale(1.17 1)" font-size="50" font-family="Liberation Sans, Arial, sans-serif" text-anchor="middle" fill="#000">1995</text>
<text transform="translate(1271.4 2496.4) scale(1.17 1)" font-size="50" font-family="Liberation Sans, Arial, sans-serif" text-anchor="middle" fill="#000">2000</text>
<text transform="translate(1538.9 2496.4) scale(1.17 1)" font-size="50" font-family="Liberation Sans, Arial, sans-serif" text-anchor="middle" fill="#000">2005</text>
<text transform="translate(1806.4 2496.4) scale(1.17 1)" font-size="50" font-family="Liberation Sans, Arial, sans-serif" text-anchor="middle" fill="#000">2010</text>
<text transform="translate(2073.8 2496.4) scale(1.17 1)" font-size="50" font-family="Liberation Sans, Arial, sans-serif" text-anchor="middle" fill="#000">2015</text>
<text transform="translate(2341.3 2496.4) scale(1.17 1)" font-size="50" font-family="Liberation Sans, Arial, sans-serif" text-anchor="middle" fill="#000">2020</text>
<text transform="translate(187.3 1832.6) scale(1.17 1)" font-size="50" font-family="Liberation Sans, Arial, sans-serif" text-anchor="end" fill="#000">50</text>
<text transform="translate(187.3 1982.7) scale(1.17 1)" font-size="50" font-family="Liberation Sans, Arial, sans-serif" text-anchor="end" fill="#000">40</text>
<text transform="translate(187.3 2132.8) scale(1.17 1)" font-size="50" font-family="Liberation Sans, Arial, sans-serif" text-anchor="end" fill="#000">30</text>
<text transform="translate(187.3 2282.9) scale(1.17 1)" font-size="50" font-family="Liberation Sans, Arial, sans-serif" text-anchor="end" fill="#000">20</text>
<text transform="translate(187.3 2433) scale(1.17 1)" font-size="50" font-family="Liberation Sans, Arial, sans-serif" text-anchor="end" fill="#000">10</text>
<text transform="translate(1189.9 2552) scale(1.28 1)" font-size="62" font-family="Liberation Serif, Times New Roman, serif" text-anchor="start" fill="#000">Year</text>
<text transform="translate(92.6 2221.8) rotate(-90) scale(1 1.2)" font-size="62" font-family="Liberation Serif, Times New Roman, serif" text-anchor="start" fill="#000">Altitude, km</text>
<text transform="translate(34 2610) scale(1.25 1)" font-size="61" font-family="Liberation Serif, Times New Roman, serif" font-weight="bold" text-anchor="start" fill="#000">(d)</text>
<text transform="translate(993 2625.8) scale(1.153 1)" font-size="64" font-family="Liberation Sans, Arial, sans-serif" text-anchor="start" fill="#000">Arctic INM/RSHU</text>
<text transform="translate(1854 2626.5) scale(1.12 1)" font-size="60" font-family="Liberation Serif, Times New Roman, serif" text-anchor="start" fill="#000">DU</text>
<text transform="translate(204.7 3341.5) scale(1.17 1)" font-size="50" font-family="Liberation Sans, Arial, sans-serif" text-anchor="middle" fill="#000">1980</text>
<text transform="translate(472.1 3341.5) scale(1.17 1)" font-size="50" font-family="Liberation Sans, Arial, sans-serif" text-anchor="middle" fill="#000">1985</text>
<text transform="translate(739.6 3341.5) scale(1.17 1)" font-size="50" font-family="Liberation Sans, Arial, sans-serif" text-anchor="middle" fill="#000">1990</text>
<text transform="translate(1007 3341.5) scale(1.17 1)" font-size="50" font-family="Liberation Sans, Arial, sans-serif" text-anchor="middle" fill="#000">1995</text>
<text transform="translate(1274.5 3341.5) scale(1.17 1)" font-size="50" font-family="Liberation Sans, Arial, sans-serif" text-anchor="middle" fill="#000">2000</text>
<text transform="translate(1541.9 3341.5) scale(1.17 1)" font-size="50" font-family="Liberation Sans, Arial, sans-serif" text-anchor="middle" fill="#000">2005</text>
<text transform="translate(1809.3 3341.5) scale(1.17 1)" font-size="50" font-family="Liberation Sans, Arial, sans-serif" text-anchor="middle" fill="#000">2010</text>
<text transform="translate(2076.8 3341.5) scale(1.17 1)" font-size="50" font-family="Liberation Sans, Arial, sans-serif" text-anchor="middle" fill="#000">2015</text>
<text transform="translate(2344.2 3341.5) scale(1.17 1)" font-size="50" font-family="Liberation Sans, Arial, sans-serif" text-anchor="middle" fill="#000">2020</text>
<text transform="translate(190.8 2681) scale(1.17 1)" font-size="50" font-family="Liberation Sans, Arial, sans-serif" text-anchor="end" fill="#000">50</text>
<text transform="translate(190.8 2830.2) scale(1.17 1)" font-size="50" font-family="Liberation Sans, Arial, sans-serif" text-anchor="end" fill="#000">40</text>
<text transform="translate(190.8 2979.5) scale(1.17 1)" font-size="50" font-family="Liberation Sans, Arial, sans-serif" text-anchor="end" fill="#000">30</text>
<text transform="translate(190.8 3128.8) scale(1.17 1)" font-size="50" font-family="Liberation Sans, Arial, sans-serif" text-anchor="end" fill="#000">20</text>
<text transform="translate(190.8 3278) scale(1.17 1)" font-size="50" font-family="Liberation Sans, Arial, sans-serif" text-anchor="end" fill="#000">10</text>
<text transform="translate(1205 3402.2) scale(1.28 1)" font-size="62" font-family="Liberation Serif, Times New Roman, serif" text-anchor="start" fill="#000">Year</text>
<text transform="translate(89.7 3064) rotate(-90) scale(1 1.2)" font-size="62" font-family="Liberation Serif, Times New Roman, serif" text-anchor="start" fill="#000">Altitude, km</text>
<text transform="translate(245 327) rotate(-60)" font-size="31" letter-spacing="4" font-family="Liberation Sans, Arial, sans-serif" text-anchor="middle" dominant-baseline="central" fill="#000" fill-opacity="0.8">0.2</text>
<text transform="translate(258 350) rotate(-60)" font-size="31" letter-spacing="4" font-family="Liberation Sans, Arial, sans-serif" text-anchor="middle" dominant-baseline="central" fill="#000" fill-opacity="0.8">0.0</text>
<text transform="translate(310 350) rotate(-25)" font-size="31" letter-spacing="4" font-family="Liberation Sans, Arial, sans-serif" text-anchor="middle" dominant-baseline="central" fill="#000" fill-opacity="0.8">-0.2</text>
<text transform="translate(400 477) rotate(20)" font-size="31" letter-spacing="4" font-family="Liberation Sans, Arial, sans-serif" text-anchor="middle" dominant-baseline="central" fill="#000" fill-opacity="0.8">0.0</text>
<text transform="translate(428 567) rotate(45)" font-size="31" letter-spacing="4" font-family="Liberation Sans, Arial, sans-serif" text-anchor="middle" dominant-baseline="central" fill="#000" fill-opacity="0.8">2.0</text>
<text transform="translate(586 567) rotate(80)" font-size="31" letter-spacing="4" font-family="Liberation Sans, Arial, sans-serif" text-anchor="middle" dominant-baseline="central" fill="#000" fill-opacity="0.8">0.2</text>
<text transform="translate(762 522) rotate(-80)" font-size="31" letter-spacing="4" font-family="Liberation Sans, Arial, sans-serif" text-anchor="middle" dominant-baseline="central" fill="#000" fill-opacity="0.8">2.0</text>
<text transform="translate(745 640) rotate(-60)" font-size="31" letter-spacing="4" font-family="Liberation Sans, Arial, sans-serif" text-anchor="middle" dominant-baseline="central" fill="#000" fill-opacity="0.8">0.5</text>
<text transform="translate(1133 478) rotate(40)" font-size="31" letter-spacing="4" font-family="Liberation Sans, Arial, sans-serif" text-anchor="middle" dominant-baseline="central" fill="#000" fill-opacity="0.8">1.0</text>
<text transform="translate(1236 223) rotate(0)" font-size="31" letter-spacing="4" font-family="Liberation Sans, Arial, sans-serif" text-anchor="middle" dominant-baseline="central" fill="#000" fill-opacity="0.8">-0.2</text>
<text transform="translate(1190 372) rotate(0)" font-size="31" letter-spacing="4" font-family="Liberation Sans, Arial, sans-serif" text-anchor="middle" dominant-baseline="central" fill="#000" fill-opacity="0.8">-0.2</text>
<text transform="translate(1228 460) rotate(90)" font-size="31" letter-spacing="4" font-family="Liberation Sans, Arial, sans-serif" text-anchor="middle" dominant-baseline="central" fill="#000" fill-opacity="0.8">0.5</text>
<text transform="translate(1356 180) rotate(90)" font-size="31" letter-spacing="4" font-family="Liberation Sans, Arial, sans-serif" text-anchor="middle" dominant-baseline="central" fill="#000" fill-opacity="0.8">0.0</text>
<text transform="translate(1392 180) rotate(90)" font-size="31" letter-spacing="4" font-family="Liberation Sans, Arial, sans-serif" text-anchor="middle" dominant-baseline="central" fill="#000" fill-opacity="0.8">0.0</text>
<text transform="translate(1344 357) rotate(90)" font-size="31" letter-spacing="4" font-family="Liberation Sans, Arial, sans-serif" text-anchor="middle" dominant-baseline="central" fill="#000" fill-opacity="0.8">0.2</text>
<text transform="translate(1568 401) rotate(0)" font-size="31" letter-spacing="4" font-family="Liberation Sans, Arial, sans-serif" text-anchor="middle" dominant-baseline="central" fill="#000" fill-opacity="0.8">0.5</text>
<text transform="translate(1611 466) rotate(80)" font-size="31" letter-spacing="4" font-family="Liberation Sans, Arial, sans-serif" text-anchor="middle" dominant-baseline="central" fill="#000" fill-opacity="0.8">0.5</text>
<text transform="translate(1886 268) rotate(-75)" font-size="31" letter-spacing="4" font-family="Liberation Sans, Arial, sans-serif" text-anchor="middle" dominant-baseline="central" fill="#000" fill-opacity="0.8">0.2</text>
<text transform="translate(1957 280) rotate(-30)" font-size="31" letter-spacing="4" font-family="Liberation Sans, Arial, sans-serif" text-anchor="middle" dominant-baseline="central" fill="#000" fill-opacity="0.8">0.0</text>
<text transform="translate(2087 268) rotate(-30)" font-size="31" letter-spacing="4" font-family="Liberation Sans, Arial, sans-serif" text-anchor="middle" dominant-baseline="central" fill="#000" fill-opacity="0.8">0.2</text>
<text transform="translate(2092 438) rotate(0)" font-size="31" letter-spacing="4" font-family="Liberation Sans, Arial, sans-serif" text-anchor="middle" dominant-baseline="central" fill="#000" fill-opacity="0.8">0.2</text>
<text transform="translate(1778 407) rotate(-80)" font-size="31" letter-spacing="4" font-family="Liberation Sans, Arial, sans-serif" text-anchor="middle" dominant-baseline="central" fill="#000" fill-opacity="0.8">0.5</text>
<text transform="translate(2271 425) rotate(90)" font-size="31" letter-spacing="4" font-family="Liberation Sans, Arial, sans-serif" text-anchor="middle" dominant-baseline="central" fill="#000" fill-opacity="0.8">0.5</text>
<text transform="translate(1358 598) rotate(90)" font-size="31" letter-spacing="4" font-family="Liberation Sans, Arial, sans-serif" text-anchor="middle" dominant-baseline="central" fill="#000" fill-opacity="0.8">2.0</text>
<text transform="translate(447 1047) rotate(0)" font-size="31" letter-spacing="4" font-family="Liberation Sans, Arial, sans-serif" text-anchor="middle" dominant-baseline="central" fill="#000" fill-opacity="0.8">0.0</text>
<text transform="translate(385 1200) rotate(0)" font-size="31" letter-spacing="4" font-family="Liberation Sans, Arial, sans-serif" text-anchor="middle" dominant-baseline="central" fill="#000" fill-opacity="0.8">0.5</text>
<text transform="translate(397 1200) rotate(60)" font-size="31" letter-spacing="4" font-family="Liberation Sans, Arial, sans-serif" text-anchor="middle" dominant-baseline="central" fill="#000" fill-opacity="0.8">0.2</text>
<text transform="translate(491 1186) rotate(90)" font-size="31" letter-spacing="4" font-family="Liberation Sans, Arial, sans-serif" text-anchor="middle" dominant-baseline="central" fill="#000" fill-opacity="0.8">0.0</text>
<text transform="translate(333 1543) rotate(-20)" font-size="31" letter-spacing="4" font-family="Liberation Sans, Arial, sans-serif" text-anchor="middle" dominant-baseline="central" fill="#000" fill-opacity="0.8">2.0</text>
<text transform="translate(479 1560) rotate(20)" font-size="31" letter-spacing="4" font-family="Liberation Sans, Arial, sans-serif" text-anchor="middle" dominant-baseline="central" fill="#000" fill-opacity="0.8">0.5</text>
<text transform="translate(582 1540) rotate(0)" font-size="31" letter-spacing="4" font-family="Liberation Sans, Arial, sans-serif" text-anchor="middle" dominant-baseline="central" fill="#000" fill-opacity="0.8">0.2</text>
<text transform="translate(782 1075) rotate(-60)" font-size="31" letter-spacing="4" font-family="Liberation Sans, Arial, sans-serif" text-anchor="middle" dominant-baseline="central" fill="#000" fill-opacity="0.8">0.0</text>
<text transform="translate(895 1242) rotate(90)" font-size="31" letter-spacing="4" font-family="Liberation Sans, Arial, sans-serif" text-anchor="middle" dominant-baseline="central" fill="#000" fill-opacity="0.8">2.0</text>
<text transform="translate(1159 1220) rotate(90)" font-size="31" letter-spacing="4" font-family="Liberation Sans, Arial, sans-serif" text-anchor="middle" dominant-baseline="central" fill="#000" fill-opacity="0.8">0.2</text>
<text transform="translate(1107 1390) rotate(90)" font-size="31" letter-spacing="4" font-family="Liberation Sans, Arial, sans-serif" text-anchor="middle" dominant-baseline="central" fill="#000" fill-opacity="0.8">2.0</text>
<text transform="translate(1175 1400) rotate(-20)" font-size="31" letter-spacing="4" font-family="Liberation Sans, Arial, sans-serif" text-anchor="middle" dominant-baseline="central" fill="#000" fill-opacity="0.8">1.0</text>
<text transform="translate(1250 1222) rotate(70)" font-size="31" letter-spacing="4" font-family="Liberation Sans, Arial, sans-serif" text-anchor="middle" dominant-baseline="central" fill="#000" fill-opacity="0.8">0.2</text>
<text transform="translate(1338 1055) rotate(90)" font-size="31" letter-spacing="4" font-family="Liberation Sans, Arial, sans-serif" text-anchor="middle" dominant-baseline="central" fill="#000" fill-opacity="0.8">0.0</text>
<text transform="translate(1742 1050) rotate(90)" font-size="31" letter-spacing="4" font-family="Liberation Sans, Arial, sans-serif" text-anchor="middle" dominant-baseline="central" fill="#000" fill-opacity="0.8">0.0</text>
<text transform="translate(1773 1318) rotate(80)" font-size="31" letter-spacing="4" font-family="Liberation Sans, Arial, sans-serif" text-anchor="middle" dominant-baseline="central" fill="#000" fill-opacity="0.8">1.0</text>
<text transform="translate(1939 1070) rotate(70)" font-size="31" letter-spacing="4" font-family="Liberation Sans, Arial, sans-serif" text-anchor="middle" dominant-baseline="central" fill="#000" fill-opacity="0.8">0.0</text>
<text transform="translate(2234 1130) rotate(90)" font-size="31" letter-spacing="4" font-family="Liberation Sans, Arial, sans-serif" text-anchor="middle" dominant-baseline="central" fill="#000" fill-opacity="0.8">0.0</text>
<text transform="translate(2110 1298) rotate(70)" font-size="31" letter-spacing="4" font-family="Liberation Sans, Arial, sans-serif" text-anchor="middle" dominant-baseline="central" fill="#000" fill-opacity="0.8">0.2</text>
<text transform="translate(314 2090) rotate(60)" font-size="31" letter-spacing="4" font-family="Liberation Sans, Arial, sans-serif" text-anchor="middle" dominant-baseline="central" fill="#000" fill-opacity="0.8">0.2</text>
<text transform="translate(372 2150) rotate(-80)" font-size="31" letter-spacing="4" font-family="Liberation Sans, Arial, sans-serif" text-anchor="middle" dominant-baseline="central" fill="#000" fill-opacity="0.8">0.5</text>
<text transform="translate(548 2225) rotate(90)" font-size="31" letter-spacing="4" font-family="Liberation Sans, Arial, sans-serif" text-anchor="middle" dominant-baseline="central" fill="#000" fill-opacity="0.8">2.0</text>
<text transform="translate(563 2070) rotate(70)" font-size="31" letter-spacing="4" font-family="Liberation Sans, Arial, sans-serif" text-anchor="middle" dominant-baseline="central" fill="#000" fill-opacity="0.8">0.0</text>
<text transform="translate(1127 1924) rotate(-45)" font-size="31" letter-spacing="4" font-family="Liberation Sans, Arial, sans-serif" text-anchor="middle" dominant-baseline="central" fill="#000" fill-opacity="0.8">2.0</text>
<text transform="translate(1014 1987) rotate(-70)" font-size="31" letter-spacing="4" font-family="Liberation Sans, Arial, sans-serif" text-anchor="middle" dominant-baseline="central" fill="#000" fill-opacity="0.8">0.2</text>
<text transform="translate(1143 2310) rotate(-60)" font-size="31" letter-spacing="4" font-family="Liberation Sans, Arial, sans-serif" text-anchor="middle" dominant-baseline="central" fill="#000" fill-opacity="0.8">1.0</text>
<text transform="translate(1957 2030) rotate(-50)" font-size="31" letter-spacing="4" font-family="Liberation Sans, Arial, sans-serif" text-anchor="middle" dominant-baseline="central" fill="#000" fill-opacity="0.8">0.0</text>
<text transform="translate(1700 2100) rotate(-30)" font-size="31" letter-spacing="4" font-family="Liberation Sans, Arial, sans-serif" text-anchor="middle" dominant-baseline="central" fill="#000" fill-opacity="0.8">0.2</text>
<text transform="translate(1713 2130) rotate(-80)" font-size="31" letter-spacing="4" font-family="Liberation Sans, Arial, sans-serif" text-anchor="middle" dominant-baseline="central" fill="#000" fill-opacity="0.8">0.5</text>
<text transform="translate(1810 2100) rotate(30)" font-size="31" letter-spacing="4" font-family="Liberation Sans, Arial, sans-serif" text-anchor="middle" dominant-baseline="central" fill="#000" fill-opacity="0.8">0.2</text>
<text transform="translate(2224 2090) rotate(90)" font-size="31" letter-spacing="4" font-family="Liberation Sans, Arial, sans-serif" text-anchor="middle" dominant-baseline="central" fill="#000" fill-opacity="0.8">0.0</text>
<text transform="translate(2236 2190) rotate(90)" font-size="31" letter-spacing="4" font-family="Liberation Sans, Arial, sans-serif" text-anchor="middle" dominant-baseline="central" fill="#000" fill-opacity="0.8">0.5</text>
<text transform="translate(1908 2161) rotate(40)" font-size="31" letter-spacing="4" font-family="Liberation Sans, Arial, sans-serif" text-anchor="middle" dominant-baseline="central" fill="#000" fill-opacity="0.8">1.0</text>
<text transform="translate(2201 2303) rotate(90)" font-size="31" letter-spacing="4" font-family="Liberation Sans, Arial, sans-serif" text-anchor="middle" dominant-baseline="central" fill="#000" fill-opacity="0.8">1.0</text>
<text transform="translate(736 2747) rotate(30)" font-size="31" letter-spacing="4" font-family="Liberation Sans, Arial, sans-serif" text-anchor="middle" dominant-baseline="central" fill="#000" fill-opacity="0.8">0.0</text>
<text transform="translate(962 2877) rotate(90)" font-size="31" letter-spacing="4" font-family="Liberation Sans, Arial, sans-serif" text-anchor="middle" dominant-baseline="central" fill="#000" fill-opacity="0.8">0.0</text>
<text transform="translate(966 2860) rotate(-60)" font-size="31" letter-spacing="4" font-family="Liberation Sans, Arial, sans-serif" text-anchor="middle" dominant-baseline="central" fill="#000" fill-opacity="0.8">0.2</text>
<text transform="translate(464 2920) rotate(90)" font-size="31" letter-spacing="4" font-family="Liberation Sans, Arial, sans-serif" text-anchor="middle" dominant-baseline="central" fill="#000" fill-opacity="0.8">0.5</text>
<text transform="translate(1088 2943) rotate(90)" font-size="31" letter-spacing="4" font-family="Liberation Sans, Arial, sans-serif" text-anchor="middle" dominant-baseline="central" fill="#000" fill-opacity="0.8">0.2</text>
<text transform="translate(1235 2975) rotate(90)" font-size="31" letter-spacing="4" font-family="Liberation Sans, Arial, sans-serif" text-anchor="middle" dominant-baseline="central" fill="#000" fill-opacity="0.8">0.2</text>
<text transform="translate(1363 2927) rotate(90)" font-size="31" letter-spacing="4" font-family="Liberation Sans, Arial, sans-serif" text-anchor="middle" dominant-baseline="central" fill="#000" fill-opacity="0.8">0.0</text>
<text transform="translate(549 3065) rotate(90)" font-size="31" letter-spacing="4" font-family="Liberation Sans, Arial, sans-serif" text-anchor="middle" dominant-baseline="central" fill="#000" fill-opacity="0.8">0.5</text>
<text transform="translate(1748 2760) rotate(30)" font-size="31" letter-spacing="4" font-family="Liberation Sans, Arial, sans-serif" text-anchor="middle" dominant-baseline="central" fill="#000" fill-opacity="0.8">0.0</text>
<text transform="translate(1740 2980) rotate(90)" font-size="31" letter-spacing="4" font-family="Liberation Sans, Arial, sans-serif" text-anchor="middle" dominant-baseline="central" fill="#000" fill-opacity="0.8">0.2</text>
<text transform="translate(1983 2985) rotate(90)" font-size="31" letter-spacing="4" font-family="Liberation Sans, Arial, sans-serif" text-anchor="middle" dominant-baseline="central" fill="#000" fill-opacity="0.8">0.5</text>
<text transform="translate(2137 2975) rotate(70)" font-size="31" letter-spacing="4" font-family="Liberation Sans, Arial, sans-serif" text-anchor="middle" dominant-baseline="central" fill="#000" fill-opacity="0.8">0.2</text>
<text transform="translate(1437 3005) rotate(90)" font-size="31" letter-spacing="4" font-family="Liberation Sans, Arial, sans-serif" text-anchor="middle" dominant-baseline="central" fill="#000" fill-opacity="0.8">0.2</text>
<text transform="translate(1595 3070) rotate(90)" font-size="31" letter-spacing="4" font-family="Liberation Sans, Arial, sans-serif" text-anchor="middle" dominant-baseline="central" fill="#000" fill-opacity="0.8">0.0</text></svg></body></html>
